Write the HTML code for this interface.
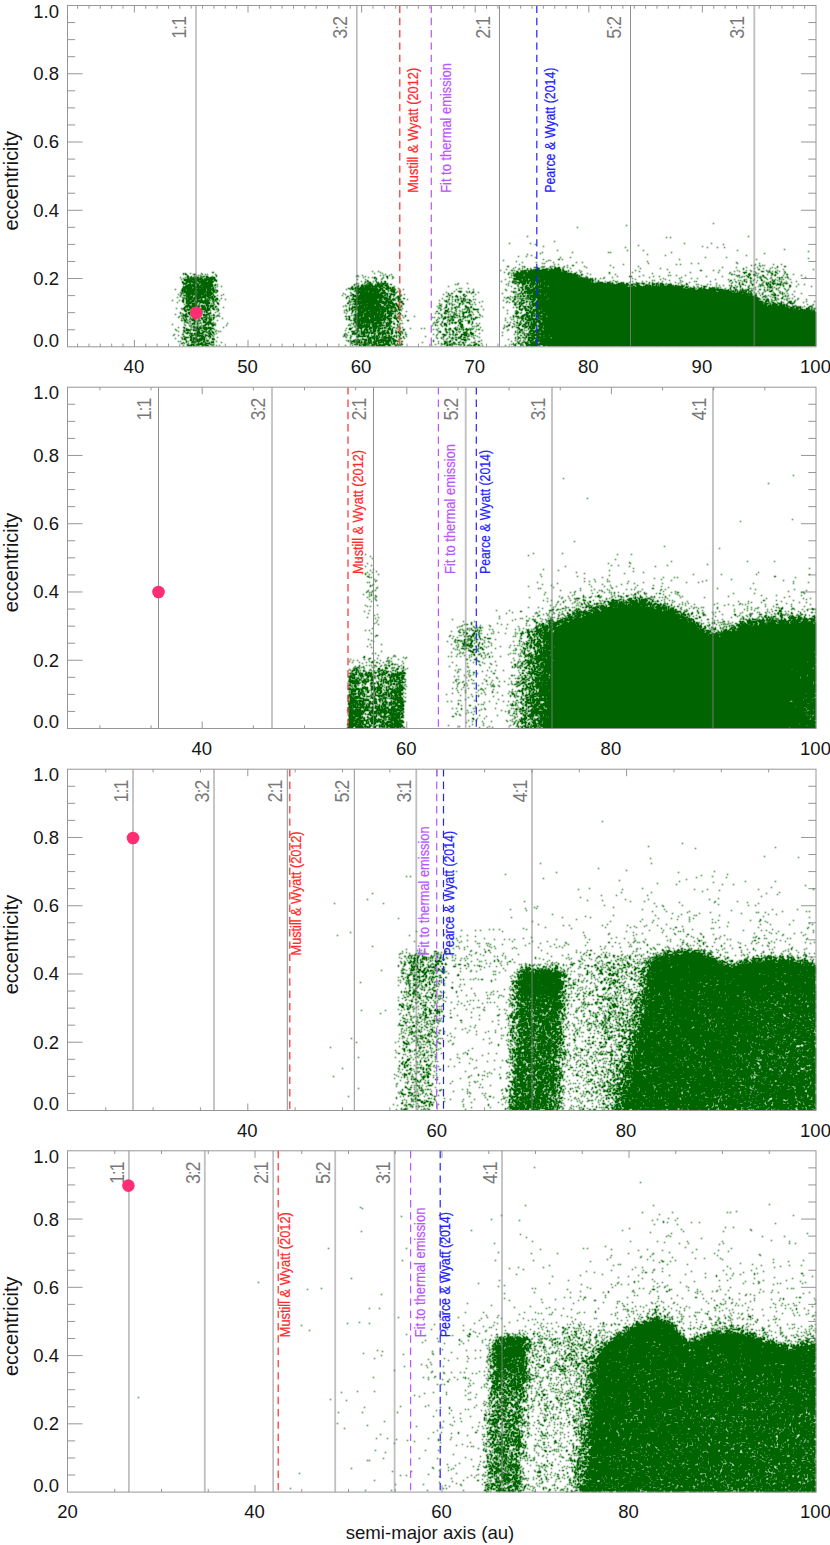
<!DOCTYPE html>
<html><head><meta charset="utf-8"><title>eccentricity vs semi-major axis</title>
<style>
html,body{margin:0;padding:0;background:#fff;}
body{width:830px;height:1545px;overflow:hidden;font-family:"Liberation Sans", sans-serif;}
svg{display:block;position:absolute;left:0;top:0;}
text{font-family:"Liberation Sans", sans-serif;}
.tk{font-size:18.5px;fill:#151515;}
.rs{font-size:18px;fill:#787878;}
.an{font-size:12.4px;stroke-width:0.2;}
.ax{stroke:#969696;stroke-width:1;fill:none;}
</style></head><body>
<svg width="830" height="1545" viewBox="0 0 830 1545">
<defs><filter id="sb" x="0" y="0" width="100%" height="100%" filterUnits="userSpaceOnUse" color-interpolation-filters="sRGB"><feConvolveMatrix in="SourceAlpha" order="3" kernelMatrix="0.07 0.2 0.07 0.2 0.55 0.2 0.07 0.2 0.07" divisor="1" edgeMode="none" result="c"/><feFlood flood-color="#006400"/><feComposite operator="in" in2="c"/></filter></defs>
<rect width="830" height="1545" fill="#ffffff"/>

<g id="panel1">
<path class="ax" d="M67.5 329.74h7.7M816.0 329.74h-7.7M67.5 312.67h7.7M816.0 312.67h-7.7M67.5 295.61h7.7M816.0 295.61h-7.7M67.5 278.54h15M816.0 278.54h-15M67.5 261.48h7.7M816.0 261.48h-7.7M67.5 244.41h7.7M816.0 244.41h-7.7M67.5 227.34h7.7M816.0 227.34h-7.7M67.5 210.28h15M816.0 210.28h-15M67.5 193.22h7.7M816.0 193.22h-7.7M67.5 176.15h7.7M816.0 176.15h-7.7M67.5 159.08h7.7M816.0 159.08h-7.7M67.5 142.02h15M816.0 142.02h-15M67.5 124.95h7.7M816.0 124.95h-7.7M67.5 107.89h7.7M816.0 107.89h-7.7M67.5 90.82h7.7M816.0 90.82h-7.7M67.5 73.76h15M816.0 73.76h-15M67.5 56.69h7.7M816.0 56.69h-7.7M67.5 39.63h7.7M816.0 39.63h-7.7M67.5 22.56h7.7M816.0 22.56h-7.7M77.60 5.5v3.2M77.60 346.8v-3.2M88.96 5.5v3.2M88.96 346.8v-3.2M100.32 5.5v3.2M100.32 346.8v-3.2M111.68 5.5v3.2M111.68 346.8v-3.2M123.04 5.5v3.2M123.04 346.8v-3.2M134.40 5.5v7M134.40 346.8v-7M145.76 5.5v3.2M145.76 346.8v-3.2M157.12 5.5v3.2M157.12 346.8v-3.2M168.48 5.5v3.2M168.48 346.8v-3.2M179.84 5.5v3.2M179.84 346.8v-3.2M191.20 5.5v3.2M191.20 346.8v-3.2M202.56 5.5v3.2M202.56 346.8v-3.2M213.92 5.5v3.2M213.92 346.8v-3.2M225.28 5.5v3.2M225.28 346.8v-3.2M236.64 5.5v3.2M236.64 346.8v-3.2M248.00 5.5v7M248.00 346.8v-7M259.36 5.5v3.2M259.36 346.8v-3.2M270.72 5.5v3.2M270.72 346.8v-3.2M282.08 5.5v3.2M282.08 346.8v-3.2M293.44 5.5v3.2M293.44 346.8v-3.2M304.80 5.5v3.2M304.80 346.8v-3.2M316.16 5.5v3.2M316.16 346.8v-3.2M327.52 5.5v3.2M327.52 346.8v-3.2M338.88 5.5v3.2M338.88 346.8v-3.2M350.24 5.5v3.2M350.24 346.8v-3.2M361.60 5.5v7M361.60 346.8v-7M372.96 5.5v3.2M372.96 346.8v-3.2M384.32 5.5v3.2M384.32 346.8v-3.2M395.68 5.5v3.2M395.68 346.8v-3.2M407.04 5.5v3.2M407.04 346.8v-3.2M418.40 5.5v3.2M418.40 346.8v-3.2M429.76 5.5v3.2M429.76 346.8v-3.2M441.12 5.5v3.2M441.12 346.8v-3.2M452.48 5.5v3.2M452.48 346.8v-3.2M463.84 5.5v3.2M463.84 346.8v-3.2M475.20 5.5v7M475.20 346.8v-7M486.56 5.5v3.2M486.56 346.8v-3.2M497.92 5.5v3.2M497.92 346.8v-3.2M509.28 5.5v3.2M509.28 346.8v-3.2M520.64 5.5v3.2M520.64 346.8v-3.2M532.00 5.5v3.2M532.00 346.8v-3.2M543.36 5.5v3.2M543.36 346.8v-3.2M554.72 5.5v3.2M554.72 346.8v-3.2M566.08 5.5v3.2M566.08 346.8v-3.2M577.44 5.5v3.2M577.44 346.8v-3.2M588.80 5.5v7M588.80 346.8v-7M600.16 5.5v3.2M600.16 346.8v-3.2M611.52 5.5v3.2M611.52 346.8v-3.2M622.88 5.5v3.2M622.88 346.8v-3.2M634.24 5.5v3.2M634.24 346.8v-3.2M645.60 5.5v3.2M645.60 346.8v-3.2M656.96 5.5v3.2M656.96 346.8v-3.2M668.32 5.5v3.2M668.32 346.8v-3.2M679.68 5.5v3.2M679.68 346.8v-3.2M691.04 5.5v3.2M691.04 346.8v-3.2M702.40 5.5v7M702.40 346.8v-7M713.76 5.5v3.2M713.76 346.8v-3.2M725.12 5.5v3.2M725.12 346.8v-3.2M736.48 5.5v3.2M736.48 346.8v-3.2M747.84 5.5v3.2M747.84 346.8v-3.2M759.20 5.5v3.2M759.20 346.8v-3.2M770.56 5.5v3.2M770.56 346.8v-3.2M781.92 5.5v3.2M781.92 346.8v-3.2M793.28 5.5v3.2M793.28 346.8v-3.2M804.64 5.5v3.2M804.64 346.8v-3.2"/>
<path d="M713 223.5h1M626 225.5h1M577 227.5h1M527 236.5h1m220 0h1M666 237.5h1m3 0h1M554 241.5h1M509 243.5h1m20 0h1m153 0h1m26 0h1M535 244.5h1m187 0h1M638 245.5h1M543 246.5h1m158 0h1M625 247.5h1m81 0h1m9 0h1m6 0h1M784 249.5h1M557 250.5h1m69 0h1m15 0h1m93 0h1M808 251.5h1M542 252.5h1m29 0h1m35 0h1m1 0h1m60 0h1M540 253.5h1m223 0h1M527 254.5h1m119 0h1M531 255.5h1m133 0h1m80 0h1M518 256.5h1m7 0h1M535 257.5h1m24 0h1m9 0h1m134 0h1m20 0h1M808 258.5h1M543 259.5h1m14 0h2m2 0h1m116 0h1m76 0h1M503 260.5h1m44 0h1m1 0h1M516 261.5h1m29 0h1m100 0h1M522 262.5h1m13 0h1m16 0h1m22 0h1m5 0h1m153 0h1M542 263.5h1m1 0h1m103 0h1m42 0h1m6 0h1m38 0h1m21 0h1M519 264.5h1m34 0h1m3 0h1m64 0h1m52 0h1m3 0h1m74 0h1m17 0h1m7 0h1M567 265.5h1m4 0h2m36 0h1m140 0h1m2 0h1m4 0h1m2 0h1m1 0h1M507 266.5h2m13 0h1m1 0h1m17 0h1m1 0h1m5 0h1m1 0h1m1 0h1m9 0h1m19 0h1m53 0h1m121 0h1m16 0h1m6 0h2M515 267.5h1m8 0h1m9 0h2m1 0h1m3 0h1m1 0h1m6 0h1m4 0h1m2 0h2m3 0h1m3 0h1m18 0h1m26 0h1m108 0h1m13 0h1m9 0h1m10 0h1m14 0h1m4 0h1M513 268.5h1m5 0h1m2 0h1m4 0h1m2 0h1m6 0h3m6 0h1m1 0h1m2 0h1m2 0h6m2 0h1m7 0h1m69 0h1m19 0h1m82 0h1m10 0h1m8 0h1m6 0h1m4 0h1M506 269.5h1m11 0h1m8 0h1m3 0h1m1 0h1m1 0h4m3 0h6m1 0h1m1 0h2m1 0h1m1 0h5m2 0h1m103 0h1m75 0h1m14 0h2m23 0h1m29 0h1M500 270.5h1m10 0h2m1 0h1m5 0h1m1 0h1m1 0h3m1 0h1m1 0h2m1 0h14m2 0h10m1 0h1m1 0h2m4 0h1m10 0h1m55 0h1m64 0h2m11 0h1m5 0h1m17 0h1m8 0h1m3 0h1m15 0h1m2 0h1m7 0h1M372 271.5h1m5 0h1m137 0h2m3 0h5m2 0h24m1 0h8m2 0h4m1 0h1m2 0h1m9 0h1m57 0h1m94 0h1m4 0h1m11 0h1m2 0h1m6 0h3m3 0h1m1 0h1m2 0h1m2 0h1m3 0h1m4 0h1M212 272.5h2m166 0h1m123 0h1m4 0h1m3 0h1m3 0h2m1 0h2m1 0h4m1 0h11m1 0h3m1 0h23m9 0h1m3 0h1m28 0h1m22 0h1m36 0h1m20 0h1m27 0h1m11 0h1m12 0h4m8 0h1m12 0h1m1 0h1m4 0h2m8 0h1M183 273.5h1m1 0h1m4 0h1m10 0h1m172 0h1m7 0h1m125 0h1m2 0h1m1 0h1m1 0h5m1 0h2m1 0h12m1 0h35m2 0h2m11 0h1m21 0h1m42 0h1m76 0h1m14 0h1m4 0h1m6 0h1m1 0h1m12 0h2m4 0h1m6 0h1M183 274.5h1m1 0h2m6 0h3m6 0h1m2 0h1m1 0h1m7 0h1m169 0h1m5 0h1m116 0h1m5 0h1m1 0h8m1 0h2m1 0h42m1 0h5m1 0h1m3 0h2m7 0h1m24 0h1m115 0h2m1 0h1m13 0h3m2 0h2m12 0h1m4 0h1m2 0h1m10 0h2m5 0h1M187 275.5h1m10 0h1m1 0h1m15 0h1m140 0h1m4 0h1m17 0h1m2 0h1m5 0h1m121 0h1m1 0h8m1 0h1m2 0h3m1 0h1m1 0h1m1 0h11m1 0h33m1 0h1m1 0h1m61 0h1m24 0h1m1 0h1m5 0h1m8 0h1m50 0h1m1 0h2m6 0h1m2 0h1m4 0h2m1 0h1m4 0h2m7 0h1m2 0h2m7 0h1m17 0h1M187 276.5h2m2 0h1m2 0h1m1 0h1m4 0h1m1 0h2m1 0h2m4 0h1m3 0h1m139 0h1m1 0h1m6 0h1m20 0h2m4 0h1m121 0h1m1 0h6m1 0h3m1 0h20m1 0h29m1 0h2m6 0h1m30 0h1m11 0h3m7 0h1m13 0h1m5 0h1m46 0h1m15 0h1m14 0h1m4 0h1m1 0h1m2 0h2m11 0h1m2 0h1m23 0h1M180 277.5h1m4 0h1m1 0h2m1 0h2m1 0h1m1 0h1m1 0h2m1 0h1m1 0h1m3 0h3m1 0h2m1 0h2m148 0h1m4 0h1m3 0h1m1 0h2m7 0h1m3 0h1m5 0h1m115 0h1m1 0h1m4 0h4m1 0h13m1 0h43m2 0h2m1 0h1m1 0h1m1 0h1m16 0h1m7 0h1m36 0h1m31 0h1m57 0h1m1 0h1m6 0h1m1 0h1m6 0h1m1 0h1m1 0h1m2 0h2m5 0h1m5 0h1m1 0h1m1 0h2m2 0h1m1 0h1m17 0h1M183 278.5h1m4 0h1m1 0h1m1 0h2m1 0h2m1 0h1m1 0h2m2 0h1m1 0h2m1 0h6m159 0h1m1 0h1m5 0h1m4 0h1m4 0h1m120 0h4m1 0h7m1 0h2m1 0h1m1 0h1m1 0h3m1 0h1m2 0h5m1 0h1m1 0h1m1 0h33m1 0h1m1 0h2m2 0h1m1 0h1m2 0h1m4 0h1m2 0h1m28 0h1m30 0h1m15 0h1m11 0h1m5 0h1m52 0h2m8 0h1m5 0h1m3 0h1m8 0h1m8 0h1M181 279.5h1m2 0h6m1 0h12m1 0h5m1 0h3m1 0h2m141 0h1m7 0h1m10 0h1m4 0h1m123 0h1m8 0h7m2 0h2m1 0h2m2 0h16m1 0h39m1 0h6m2 0h1m39 0h1m24 0h1m4 0h1m49 0h1m12 0h1m5 0h1m9 0h1m1 0h1m7 0h1m6 0h1m5 0h1m4 0h1m2 0h1m3 0h1m1 0h1m1 0h1m6 0h1M184 280.5h8m2 0h5m2 0h6m1 0h4m2 0h3m150 0h1m7 0h1m137 0h1m5 0h3m1 0h5m1 0h2m1 0h6m1 0h5m1 0h43m1 0h2m1 0h2m4 0h1m14 0h1m38 0h1m1 0h1m14 0h1m10 0h1m49 0h2m6 0h1m1 0h1m3 0h1m5 0h1m2 0h1m3 0h1m3 0h2m9 0h1m1 0h1m2 0h1M182 281.5h1m3 0h4m1 0h4m1 0h1m1 0h5m1 0h2m2 0h6m2 0h1m144 0h1m3 0h1m1 0h2m4 0h1m2 0h1m4 0h1m2 0h2m115 0h1m7 0h1m2 0h1m1 0h3m3 0h1m1 0h4m1 0h3m1 0h4m1 0h5m1 0h2m1 0h46m1 0h1m2 0h1m2 0h1m6 0h1m4 0h1m4 0h1m1 0h1m14 0h1m9 0h1m3 0h1m15 0h1m19 0h1m11 0h1m1 0h1m13 0h1m18 0h1m5 0h1m6 0h1m1 0h1m1 0h1m4 0h1m12 0h1m5 0h1m2 0h2m4 0h1m1 0h1m4 0h1m9 0h1M182 282.5h2m2 0h2m1 0h2m1 0h5m2 0h5m1 0h8m152 0h1m3 0h2m5 0h1m1 0h1m2 0h1m3 0h1m126 0h2m3 0h9m1 0h2m2 0h4m2 0h3m1 0h4m1 0h45m1 0h1m4 0h1m1 0h4m4 0h3m2 0h1m3 0h1m4 0h1m1 0h1m5 0h1m6 0h1m12 0h1m2 0h1m5 0h1m16 0h1m4 0h1m8 0h1m42 0h1m3 0h1m2 0h1m6 0h1m3 0h1m5 0h1m6 0h1m2 0h1m1 0h1m1 0h1m1 0h1m8 0h1m2 0h1m6 0h1M183 283.5h4m3 0h1m3 0h2m1 0h1m1 0h1m1 0h7m1 0h3m144 0h1m1 0h1m5 0h1m2 0h2m1 0h1m1 0h1m4 0h2m1 0h1m1 0h4m1 0h1m70 0h1m8 0h1m40 0h1m5 0h3m2 0h1m2 0h1m1 0h2m1 0h2m1 0h3m1 0h2m1 0h1m1 0h1m1 0h1m1 0h56m1 0h1m1 0h4m1 0h4m1 0h1m5 0h6m2 0h2m5 0h1m2 0h4m1 0h4m4 0h1m2 0h1m1 0h1m1 0h2m2 0h3m3 0h1m3 0h1m7 0h1m7 0h1m29 0h1m14 0h1m7 0h1m2 0h1m8 0h1m10 0h1m3 0h1m1 0h1m3 0h4m1 0h1m2 0h1m2 0h1m1 0h3M183 284.5h1m1 0h1m2 0h3m1 0h3m1 0h3m2 0h12m2 0h1m1 0h1m136 0h1m1 0h1m5 0h1m3 0h1m2 0h3m3 0h1m1 0h3m1 0h1m1 0h1m2 0h2m2 0h2m63 0h1m1 0h1m48 0h1m11 0h1m3 0h3m5 0h2m1 0h2m1 0h2m1 0h1m1 0h4m1 0h57m1 0h11m1 0h9m1 0h3m2 0h2m1 0h2m1 0h1m5 0h1m2 0h1m1 0h1m3 0h3m1 0h1m1 0h1m1 0h4m1 0h1m2 0h2m1 0h1m9 0h1m4 0h2m8 0h1m1 0h1m8 0h1m2 0h1m28 0h1m2 0h2m8 0h2m5 0h1m1 0h1m4 0h2m1 0h2m2 0h1m3 0h4m1 0h1m15 0h1m5 0h1M186 285.5h9m2 0h2m1 0h13m1 0h2m138 0h1m3 0h1m2 0h2m1 0h2m1 0h6m2 0h2m1 0h1m1 0h3m1 0h4m120 0h1m8 0h1m4 0h1m3 0h2m1 0h2m1 0h2m2 0h2m1 0h5m1 0h3m1 0h63m1 0h15m1 0h1m1 0h2m3 0h4m5 0h3m1 0h2m1 0h1m3 0h1m1 0h1m1 0h4m3 0h5m1 0h1m1 0h2m1 0h1m3 0h1m1 0h1m16 0h1m14 0h1m2 0h1m3 0h1m5 0h1m1 0h1m3 0h1m4 0h1m4 0h1m3 0h1m2 0h1m7 0h1m1 0h2m3 0h1m2 0h1m5 0h1m3 0h1m2 0h1m5 0h2M183 286.5h1m1 0h4m1 0h11m2 0h5m1 0h1m1 0h2m4 0h1m3 0h1m130 0h1m4 0h2m2 0h3m1 0h6m1 0h4m1 0h3m1 0h2m3 0h3m5 0h1m53 0h1m62 0h1m6 0h1m4 0h1m1 0h2m3 0h1m1 0h1m2 0h2m1 0h6m1 0h2m2 0h75m1 0h2m3 0h1m2 0h2m2 0h1m1 0h3m1 0h4m1 0h3m1 0h5m1 0h1m1 0h8m1 0h5m1 0h1m1 0h1m1 0h5m2 0h1m1 0h1m4 0h1m3 0h1m5 0h4m24 0h1m5 0h1m2 0h1m7 0h1m9 0h1m1 0h1m7 0h1m1 0h1m1 0h1m10 0h1m6 0h1m5 0h1m14 0h1M183 287.5h5m1 0h3m2 0h10m1 0h6m2 0h1m1 0h1m135 0h2m2 0h3m2 0h2m1 0h1m1 0h1m1 0h4m1 0h1m2 0h2m2 0h2m2 0h2m2 0h2m1 0h1m1 0h2m126 0h3m2 0h1m1 0h2m1 0h2m1 0h1m1 0h132m1 0h4m1 0h10m2 0h3m2 0h1m3 0h1m3 0h1m2 0h1m2 0h1m4 0h1m2 0h1m1 0h1m1 0h1m1 0h1m1 0h1m9 0h1m2 0h2m1 0h1m3 0h1m7 0h1m6 0h1m8 0h1m2 0h1m1 0h3m2 0h1m4 0h1m9 0h1M182 288.5h1m1 0h1m1 0h6m1 0h1m1 0h1m2 0h1m2 0h5m1 0h4m1 0h2m134 0h2m1 0h2m1 0h2m1 0h4m1 0h14m1 0h1m2 0h3m2 0h6m1 0h1m1 0h1m3 0h1m60 0h1m1 0h1m6 0h1m45 0h2m2 0h1m3 0h1m2 0h3m1 0h1m3 0h4m1 0h1m3 0h1m1 0h4m1 0h134m1 0h1m3 0h1m1 0h5m1 0h1m2 0h3m1 0h2m4 0h6m2 0h1m7 0h1m4 0h1m3 0h1m7 0h1m6 0h1m1 0h1m1 0h1m18 0h1m3 0h1m1 0h1m5 0h1M175 289.5h1m6 0h2m1 0h1m1 0h2m1 0h14m1 0h1m1 0h5m1 0h1m1 0h1m130 0h1m3 0h1m1 0h2m2 0h10m1 0h6m1 0h4m1 0h2m1 0h1m3 0h2m3 0h1m1 0h1m1 0h1m7 0h1m52 0h1m16 0h1m31 0h1m13 0h1m2 0h2m1 0h1m1 0h3m1 0h4m1 0h2m1 0h3m1 0h152m3 0h2m1 0h1m1 0h4m1 0h1m1 0h13m1 0h1m3 0h1m1 0h1m4 0h2m3 0h1m1 0h1m2 0h1m1 0h2m6 0h1m3 0h2m3 0h1m2 0h1m1 0h1m6 0h1m8 0h1m2 0h1M181 290.5h5m1 0h13m1 0h5m1 0h4m1 0h3m1 0h2m137 0h4m2 0h7m1 0h2m1 0h9m1 0h3m3 0h1m1 0h5m4 0h1m106 0h1m11 0h2m2 0h1m4 0h6m1 0h1m1 0h1m1 0h6m1 0h1m1 0h163m1 0h5m1 0h2m1 0h4m1 0h4m2 0h1m1 0h1m1 0h1m1 0h1m2 0h1m1 0h3m1 0h1m1 0h1m2 0h2m11 0h1m2 0h1m3 0h2m5 0h1m8 0h1M182 291.5h1m1 0h3m1 0h1m1 0h4m1 0h2m1 0h5m1 0h2m1 0h4m2 0h2m2 0h1m136 0h1m1 0h9m2 0h1m1 0h8m1 0h2m3 0h2m3 0h1m2 0h4m2 0h1m2 0h1m53 0h1m3 0h4m4 0h1m2 0h1m3 0h1m37 0h1m1 0h1m1 0h1m5 0h1m2 0h4m1 0h1m1 0h185m3 0h12m1 0h2m1 0h1m1 0h1m1 0h1m1 0h2m2 0h2m2 0h2m7 0h1m6 0h1m3 0h3m8 0h1m5 0h1m7 0h1M180 292.5h1m1 0h1m1 0h8m1 0h1m1 0h2m1 0h2m1 0h4m1 0h6m1 0h1m1 0h2m133 0h1m5 0h2m1 0h9m1 0h3m2 0h1m1 0h3m2 0h2m1 0h2m7 0h2m1 0h1m2 0h1m46 0h1m13 0h1m6 0h1m1 0h1m2 0h2m4 0h1m34 0h2m1 0h1m4 0h1m2 0h2m1 0h5m1 0h2m1 0h6m1 0h189m2 0h1m2 0h1m1 0h7m2 0h1m2 0h1m2 0h1m8 0h1m9 0h1m5 0h1m2 0h1M181 293.5h1m1 0h1m2 0h18m1 0h1m1 0h6m130 0h1m7 0h1m4 0h3m1 0h3m1 0h6m1 0h5m1 0h2m1 0h5m1 0h2m1 0h1m1 0h1m3 0h1m52 0h1m2 0h2m18 0h1m30 0h1m16 0h2m1 0h2m1 0h1m1 0h2m1 0h2m1 0h6m2 0h5m1 0h195m2 0h3m1 0h1m1 0h2m4 0h1m2 0h1m2 0h1m11 0h1m5 0h1m1 0h1m1 0h1m2 0h1m13 0h1M178 294.5h1m2 0h1m4 0h1m1 0h3m1 0h12m1 0h1m1 0h3m1 0h1m1 0h1m9 0h1m121 0h1m6 0h2m3 0h1m2 0h2m1 0h6m1 0h5m1 0h2m1 0h3m3 0h1m1 0h1m2 0h5m5 0h1m3 0h1m38 0h1m4 0h1m14 0h2m10 0h1m39 0h1m1 0h2m3 0h1m6 0h1m3 0h7m1 0h3m1 0h1m1 0h194m1 0h9m1 0h1m2 0h1m6 0h1m8 0h2m1 0h2m6 0h1m9 0h1M180 295.5h1m2 0h3m1 0h3m2 0h1m2 0h2m1 0h3m2 0h8m2 0h1m3 0h1m3 0h1m120 0h1m7 0h2m1 0h3m1 0h1m1 0h24m1 0h2m1 0h1m2 0h1m3 0h1m4 0h1m1 0h1m47 0h2m5 0h1m6 0h1m2 0h1m53 0h1m2 0h1m1 0h1m1 0h2m1 0h4m1 0h9m1 0h203m2 0h2m3 0h2m3 0h1m4 0h1m2 0h1m4 0h3m1 0h2m6 0h1m2 0h1M180 296.5h1m5 0h3m1 0h3m2 0h6m1 0h4m1 0h2m2 0h2m1 0h2m131 0h2m4 0h16m1 0h7m1 0h6m3 0h1m1 0h2m2 0h1m3 0h2m1 0h1m45 0h2m4 0h1m2 0h3m2 0h1m3 0h2m7 0h1m36 0h1m3 0h2m1 0h2m1 0h2m1 0h2m2 0h2m1 0h13m1 0h2m1 0h5m1 0h203m7 0h2m1 0h1m3 0h1m12 0h1m1 0h1m1 0h1m6 0h1M177 297.5h1m4 0h1m1 0h1m2 0h3m1 0h2m1 0h2m1 0h1m1 0h7m2 0h3m1 0h1m1 0h1m131 0h1m5 0h1m3 0h10m1 0h5m1 0h8m1 0h5m2 0h2m5 0h1m1 0h2m49 0h1m2 0h1m4 0h1m46 0h1m2 0h2m3 0h1m2 0h1m10 0h1m1 0h1m1 0h1m1 0h1m1 0h4m1 0h9m1 0h209m4 0h1m2 0h1m6 0h1m1 0h2m6 0h1M183 298.5h1m1 0h2m1 0h4m1 0h1m1 0h5m1 0h1m3 0h1m1 0h1m1 0h1m1 0h3m2 0h2m3 0h1m124 0h1m2 0h1m3 0h1m2 0h20m1 0h1m1 0h3m2 0h1m1 0h2m1 0h1m3 0h1m1 0h1m1 0h1m1 0h1m3 0h2m37 0h1m17 0h2m1 0h2m41 0h1m2 0h1m4 0h1m2 0h1m1 0h2m1 0h2m1 0h1m1 0h1m1 0h2m2 0h2m2 0h5m1 0h5m1 0h211m7 0h1m7 0h1m1 0h1m3 0h2m4 0h1m1 0h1m2 0h1m5 0h1M183 299.5h1m2 0h1m1 0h4m1 0h2m2 0h1m3 0h1m3 0h1m1 0h1m1 0h1m2 0h2m1 0h3m7 0h1m125 0h10m1 0h11m1 0h3m2 0h2m1 0h1m1 0h7m1 0h3m3 0h3m6 0h1m40 0h2m2 0h1m2 0h1m1 0h2m4 0h1m1 0h1m1 0h1m1 0h1m3 0h1m1 0h1m34 0h1m3 0h2m5 0h1m4 0h1m1 0h1m1 0h6m2 0h1m1 0h1m1 0h4m2 0h211m1 0h1m2 0h2m1 0h1m1 0h1m2 0h1m3 0h1m2 0h1m5 0h1m1 0h1m10 0h1m8 0h1M172 300.5h1m6 0h1m2 0h2m2 0h4m2 0h2m1 0h1m1 0h6m1 0h3m1 0h1m1 0h1m2 0h1m1 0h1m3 0h1m129 0h1m5 0h4m2 0h1m1 0h13m1 0h1m1 0h3m4 0h2m3 0h1m1 0h1m1 0h1m2 0h1m40 0h1m4 0h1m1 0h1m8 0h1m2 0h1m2 0h1m1 0h1m1 0h1m3 0h2m32 0h1m9 0h1m4 0h1m2 0h4m8 0h2m2 0h3m1 0h218m7 0h3m3 0h1m1 0h1m1 0h1m10 0h1m7 0h1M182 301.5h2m2 0h4m1 0h3m1 0h2m1 0h3m1 0h2m1 0h4m3 0h1m1 0h1m1 0h1m132 0h1m1 0h1m1 0h5m1 0h7m1 0h1m1 0h12m1 0h2m1 0h7m6 0h1m1 0h3m42 0h2m1 0h1m3 0h1m2 0h1m5 0h2m1 0h1m6 0h1m10 0h1m24 0h1m4 0h2m3 0h1m3 0h1m4 0h2m1 0h1m1 0h3m2 0h16m1 0h210m2 0h2m1 0h1m2 0h1m9 0h1m7 0h3m2 0h1m11 0h1m7 0h1M177 302.5h1m5 0h1m2 0h1m2 0h3m3 0h3m2 0h10m3 0h1m3 0h1m130 0h1m1 0h1m4 0h8m1 0h23m1 0h5m6 0h1m1 0h1m45 0h1m9 0h1m4 0h1m3 0h4m4 0h1m4 0h1m26 0h1m2 0h1m4 0h1m1 0h1m2 0h2m2 0h2m1 0h1m3 0h1m1 0h1m2 0h1m1 0h7m1 0h2m1 0h211m1 0h2m1 0h1m1 0h1m3 0h1m2 0h2m3 0h1m3 0h1m1 0h1m4 0h3m3 0h1m8 0h1M186 303.5h5m1 0h3m1 0h1m2 0h1m3 0h1m1 0h5m1 0h1m1 0h1m3 0h2m128 0h2m4 0h1m1 0h1m1 0h5m1 0h3m2 0h6m1 0h4m3 0h3m1 0h1m1 0h6m1 0h2m5 0h2m35 0h1m9 0h1m1 0h1m7 0h2m2 0h1m5 0h1m45 0h1m3 0h1m1 0h3m5 0h1m2 0h6m1 0h2m1 0h221m1 0h1m1 0h3m1 0h1m2 0h3m2 0h4m5 0h1m2 0h4M184 304.5h1m3 0h1m3 0h5m2 0h1m6 0h2m6 0h1m3 0h1m131 0h1m1 0h1m1 0h4m1 0h1m2 0h2m1 0h10m1 0h5m3 0h2m2 0h1m3 0h3m1 0h1m1 0h1m4 0h1m37 0h1m4 0h1m2 0h1m2 0h1m1 0h1m4 0h1m2 0h1m7 0h1m1 0h1m2 0h1m38 0h2m1 0h1m1 0h1m1 0h1m4 0h1m2 0h1m1 0h1m1 0h4m1 0h1m1 0h2m1 0h1m1 0h218m1 0h3m3 0h1m1 0h3m1 0h2m2 0h2m1 0h2m1 0h1m20 0h1m5 0h1M186 305.5h4m1 0h1m1 0h2m1 0h1m1 0h1m2 0h2m1 0h1m1 0h3m1 0h4m131 0h1m3 0h1m6 0h1m2 0h15m2 0h5m3 0h1m1 0h5m2 0h2m1 0h2m3 0h1m37 0h2m5 0h1m5 0h1m6 0h1m5 0h1m49 0h1m4 0h1m1 0h1m7 0h1m1 0h13m1 0h221m1 0h3m1 0h5m2 0h4m1 0h1m1 0h2m4 0h1m2 0h1m16 0h1M185 306.5h3m1 0h2m1 0h5m1 0h2m1 0h4m2 0h2m1 0h3m2 0h2m126 0h1m2 0h1m5 0h1m1 0h1m1 0h1m1 0h3m1 0h2m1 0h1m2 0h4m1 0h4m1 0h6m2 0h2m2 0h4m3 0h2m2 0h1m35 0h1m3 0h1m4 0h1m9 0h1m1 0h1m6 0h2m4 0h1m9 0h1m37 0h2m2 0h3m1 0h2m1 0h1m2 0h1m2 0h3m1 0h227m1 0h1m1 0h11m1 0h3m1 0h1m1 0h2m3 0h2m1 0h1m1 0h1m1 0h1m3 0h1m4 0h3M184 307.5h2m1 0h1m1 0h3m1 0h2m2 0h2m3 0h2m1 0h1m1 0h1m2 0h1m2 0h1m1 0h1m7 0h1m125 0h1m2 0h12m1 0h14m1 0h3m1 0h1m1 0h1m1 0h8m2 0h1m1 0h1m38 0h1m5 0h2m4 0h1m2 0h2m1 0h1m1 0h1m6 0h3m1 0h2m31 0h1m9 0h1m2 0h2m1 0h1m4 0h2m2 0h2m1 0h2m2 0h1m1 0h1m1 0h236m1 0h3m1 0h6m1 0h1m2 0h4m2 0h2m1 0h2m1 0h1m5 0h1m3 0h1M176 308.5h1m4 0h1m1 0h2m5 0h2m3 0h3m1 0h1m1 0h1m1 0h3m1 0h3m2 0h2m3 0h1m131 0h1m1 0h2m3 0h1m1 0h2m1 0h2m1 0h10m1 0h4m1 0h2m1 0h6m2 0h1m3 0h1m2 0h1m3 0h1m35 0h1m1 0h1m3 0h1m3 0h1m3 0h1m2 0h1m9 0h1m2 0h1m4 0h1m45 0h1m2 0h1m1 0h1m1 0h1m3 0h2m4 0h4m1 0h243m1 0h4m1 0h3m1 0h1m1 0h3m1 0h1m5 0h4m1 0h1m2 0h2M182 309.5h1m1 0h1m1 0h4m4 0h1m2 0h3m1 0h5m1 0h3m3 0h2m1 0h1m1 0h1m127 0h1m2 0h1m1 0h1m2 0h2m1 0h4m1 0h5m1 0h2m1 0h5m1 0h9m1 0h1m2 0h1m1 0h1m1 0h1m1 0h1m1 0h3m40 0h1m6 0h1m2 0h1m4 0h1m5 0h1m1 0h1m2 0h1m1 0h1m3 0h6m4 0h1m35 0h4m2 0h2m1 0h1m2 0h1m1 0h3m1 0h4m1 0h7m1 0h243m1 0h4m2 0h3m1 0h1m1 0h3m2 0h1m1 0h1M184 310.5h2m2 0h1m1 0h1m1 0h2m1 0h3m1 0h1m5 0h4m1 0h1m7 0h1m125 0h1m1 0h1m2 0h1m2 0h2m2 0h1m1 0h3m1 0h6m2 0h3m1 0h6m2 0h4m1 0h2m2 0h1m3 0h2m2 0h1m1 0h1m38 0h1m4 0h3m7 0h1m3 0h1m7 0h1m1 0h1m37 0h1m8 0h1m4 0h1m3 0h4m1 0h1m2 0h5m2 0h1m1 0h3m1 0h2m1 0h262m1 0h1m1 0h1M185 311.5h2m4 0h1m2 0h1m2 0h2m1 0h1m1 0h1m1 0h1m1 0h1m10 0h1m129 0h1m4 0h1m2 0h1m2 0h7m1 0h1m1 0h4m1 0h4m1 0h1m1 0h6m1 0h9m1 0h1m8 0h1m29 0h2m7 0h3m1 0h1m1 0h1m4 0h1m3 0h1m1 0h1m3 0h1m2 0h1m1 0h1m5 0h1m37 0h1m1 0h1m11 0h2m1 0h3m1 0h3m1 0h6m1 0h265m1 0h2M180 312.5h1m7 0h5m1 0h2m4 0h2m2 0h1m1 0h2m2 0h1m4 0h1m128 0h1m7 0h1m2 0h1m2 0h4m1 0h1m2 0h4m1 0h4m1 0h1m1 0h2m1 0h3m3 0h4m8 0h1m44 0h1m3 0h1m3 0h1m1 0h1m8 0h4m1 0h2m2 0h1m5 0h1m37 0h3m2 0h1m4 0h2m1 0h3m1 0h1m2 0h2m1 0h4m2 0h271M180 313.5h1m1 0h1m3 0h1m1 0h2m4 0h2m1 0h2m2 0h1m6 0h3m8 0h1m126 0h1m4 0h1m5 0h2m1 0h3m1 0h4m1 0h1m1 0h1m1 0h4m1 0h2m1 0h3m1 0h1m1 0h2m1 0h4m1 0h1m2 0h3m34 0h1m2 0h2m4 0h3m7 0h1m1 0h1m2 0h1m2 0h2m43 0h1m7 0h3m2 0h1m5 0h3m2 0h4m1 0h9m1 0h6m1 0h263M175 314.5h1m7 0h1m1 0h2m2 0h1m3 0h1m1 0h1m1 0h2m2 0h1m1 0h2m1 0h3m4 0h1m140 0h7m1 0h1m1 0h1m1 0h9m1 0h7m2 0h1m3 0h3m5 0h1m2 0h1m40 0h1m6 0h1m1 0h1m2 0h1m1 0h1m7 0h1m5 0h2m2 0h1m5 0h1m36 0h1m7 0h2m1 0h1m3 0h2m2 0h1m2 0h2m3 0h273M181 315.5h1m1 0h4m3 0h1m1 0h4m1 0h1m1 0h2m2 0h4m2 0h1m1 0h1m1 0h2m2 0h2m132 0h1m1 0h1m1 0h8m1 0h5m1 0h1m1 0h2m1 0h4m1 0h6m2 0h4m2 0h2m6 0h1m2 0h1m35 0h1m12 0h1m1 0h2m1 0h1m3 0h1m4 0h1m1 0h2m8 0h1m32 0h1m8 0h3m1 0h2m1 0h1m1 0h1m1 0h2m1 0h5m1 0h2m1 0h1m1 0h3m1 0h265M179 316.5h1m2 0h1m2 0h4m3 0h1m4 0h2m7 0h1m2 0h1m6 0h1m2 0h1m125 0h2m1 0h2m5 0h3m1 0h1m1 0h1m2 0h8m1 0h1m1 0h4m1 0h3m1 0h2m1 0h3m1 0h1m3 0h1m2 0h2m5 0h1m8 0h1m27 0h1m2 0h1m2 0h1m1 0h4m5 0h1m2 0h2m1 0h1m1 0h1m1 0h1m12 0h1m30 0h1m1 0h4m2 0h3m2 0h4m1 0h2m1 0h1m1 0h3m1 0h6m2 0h268M178 317.5h1m4 0h1m1 0h1m4 0h1m2 0h1m1 0h1m5 0h1m1 0h3m1 0h1m1 0h1m1 0h1m1 0h2m134 0h1m4 0h1m1 0h3m2 0h5m1 0h1m2 0h4m1 0h1m1 0h6m1 0h1m1 0h2m5 0h3m1 0h1m5 0h1m28 0h1m1 0h1m3 0h1m2 0h1m2 0h2m1 0h2m3 0h1m1 0h2m1 0h1m2 0h1m3 0h2m1 0h1m3 0h1m3 0h3m1 0h1m30 0h1m2 0h1m4 0h1m1 0h1m1 0h1m2 0h1m1 0h1m1 0h1m1 0h1m4 0h1m1 0h1m1 0h1m2 0h8m1 0h264M181 318.5h1m1 0h1m2 0h1m3 0h1m2 0h1m1 0h1m3 0h1m1 0h2m3 0h1m1 0h1m1 0h1m2 0h1m8 0h1m123 0h1m2 0h1m3 0h1m1 0h1m1 0h1m1 0h5m1 0h4m2 0h2m1 0h4m1 0h2m2 0h3m1 0h5m2 0h3m1 0h1m1 0h1m38 0h1m3 0h3m4 0h1m1 0h1m10 0h1m7 0h1m1 0h1m1 0h1m29 0h1m11 0h1m1 0h1m1 0h3m1 0h1m2 0h1m1 0h1m1 0h2m1 0h1m2 0h2m1 0h8m1 0h266M184 319.5h1m1 0h1m2 0h1m1 0h3m1 0h1m2 0h1m3 0h1m1 0h3m2 0h3m1 0h1m132 0h1m1 0h2m4 0h5m1 0h6m1 0h2m1 0h5m1 0h4m1 0h5m2 0h1m1 0h1m5 0h1m40 0h1m5 0h1m4 0h1m2 0h1m1 0h1m5 0h2m1 0h1m8 0h1m1 0h2m36 0h1m1 0h1m8 0h1m2 0h2m1 0h10m2 0h2m1 0h273M181 320.5h2m1 0h2m1 0h1m4 0h3m2 0h1m1 0h2m2 0h1m2 0h1m2 0h1m1 0h1m5 0h1m132 0h2m1 0h2m2 0h1m1 0h12m1 0h11m1 0h1m2 0h1m1 0h2m6 0h1m3 0h1m5 0h2m27 0h1m10 0h1m1 0h2m1 0h2m4 0h1m1 0h1m4 0h1m1 0h1m1 0h1m35 0h1m11 0h1m3 0h1m1 0h1m3 0h4m2 0h2m2 0h3m2 0h2m1 0h3m1 0h267M185 321.5h1m3 0h2m3 0h2m2 0h1m4 0h3m2 0h1m1 0h1m144 0h5m1 0h6m1 0h6m3 0h3m4 0h1m4 0h3m1 0h1m3 0h2m39 0h1m3 0h1m6 0h1m8 0h1m2 0h2m5 0h2m2 0h1m41 0h1m5 0h1m2 0h1m2 0h1m4 0h1m1 0h2m1 0h2m1 0h2m2 0h273M184 322.5h1m1 0h2m6 0h1m2 0h1m2 0h1m2 0h3m1 0h4m2 0h1m140 0h3m1 0h2m1 0h3m1 0h9m1 0h3m1 0h3m1 0h1m1 0h1m1 0h1m1 0h3m6 0h1m35 0h1m1 0h2m4 0h1m4 0h1m3 0h2m1 0h3m2 0h2m7 0h2m2 0h1m34 0h1m2 0h1m5 0h2m2 0h1m4 0h1m1 0h3m1 0h1m1 0h4m1 0h3m1 0h274M188 323.5h1m1 0h1m1 0h3m2 0h1m1 0h1m1 0h1m4 0h7m2 0h1m11 0h1m123 0h1m1 0h1m2 0h4m1 0h2m1 0h1m2 0h1m1 0h1m2 0h10m1 0h1m2 0h5m2 0h2m5 0h1m1 0h1m30 0h1m7 0h1m2 0h2m3 0h1m2 0h1m2 0h1m3 0h2m7 0h1m3 0h1m3 0h1m2 0h1m33 0h1m3 0h1m1 0h1m1 0h1m3 0h2m1 0h1m2 0h1m1 0h3m3 0h9m1 0h267M172 324.5h1m11 0h1m7 0h1m1 0h1m2 0h1m7 0h2m1 0h1m2 0h1m1 0h2m134 0h1m3 0h1m2 0h6m2 0h1m1 0h2m1 0h1m1 0h1m1 0h4m3 0h2m4 0h4m4 0h1m2 0h1m1 0h1m35 0h1m4 0h1m3 0h3m2 0h1m10 0h3m8 0h1m37 0h1m4 0h1m4 0h2m2 0h3m2 0h1m1 0h5m1 0h1m2 0h1m1 0h5m1 0h269M185 325.5h1m3 0h1m1 0h1m6 0h1m2 0h1m1 0h3m2 0h1m3 0h2m1 0h1m10 0h1m121 0h1m1 0h1m4 0h1m1 0h3m1 0h9m2 0h1m1 0h1m1 0h1m1 0h7m1 0h1m1 0h1m1 0h1m6 0h1m34 0h1m2 0h1m1 0h1m3 0h1m2 0h1m1 0h1m11 0h1m2 0h2m14 0h2m25 0h1m3 0h2m6 0h1m1 0h2m2 0h1m2 0h1m2 0h1m2 0h6m1 0h1m1 0h3m1 0h272M190 326.5h1m2 0h2m2 0h1m2 0h1m2 0h1m8 0h1m141 0h1m2 0h4m1 0h1m1 0h6m2 0h6m1 0h2m5 0h2m1 0h1m1 0h1m6 0h1m43 0h1m3 0h1m13 0h3m9 0h1m1 0h1m1 0h1m29 0h2m4 0h1m1 0h1m7 0h3m1 0h2m1 0h2m1 0h3m3 0h5m1 0h1m1 0h2m1 0h267M178 327.5h1m4 0h2m6 0h1m1 0h1m1 0h3m1 0h2m1 0h1m1 0h3m1 0h3m12 0h1m128 0h1m2 0h1m2 0h6m1 0h3m1 0h3m1 0h4m1 0h1m3 0h1m1 0h2m3 0h1m3 0h2m2 0h1m1 0h1m2 0h1m52 0h1m1 0h1m3 0h1m1 0h1m16 0h1m23 0h1m7 0h1m3 0h3m6 0h2m2 0h2m1 0h3m1 0h1m2 0h4m1 0h272M184 328.5h1m1 0h1m7 0h1m1 0h3m1 0h2m1 0h11m132 0h1m2 0h3m5 0h2m1 0h2m3 0h2m2 0h3m1 0h2m1 0h1m1 0h5m1 0h1m1 0h1m1 0h3m1 0h1m3 0h1m3 0h1m9 0h1m10 0h1m2 0h1m13 0h1m6 0h1m3 0h2m3 0h2m3 0h1m2 0h1m3 0h1m2 0h1m1 0h1m1 0h1m29 0h1m14 0h2m4 0h1m3 0h1m1 0h5m4 0h3m1 0h8m1 0h264M175 329.5h1m10 0h3m1 0h2m1 0h1m2 0h1m1 0h2m4 0h3m3 0h1m3 0h1m134 0h2m5 0h2m3 0h1m2 0h4m1 0h1m3 0h3m2 0h2m8 0h3m1 0h1m5 0h1m4 0h2m28 0h1m2 0h1m8 0h2m1 0h1m1 0h1m4 0h3m1 0h1m1 0h1m1 0h1m1 0h4m1 0h1m1 0h1m3 0h1m1 0h2m28 0h1m10 0h1m1 0h2m5 0h1m2 0h1m4 0h6m2 0h272M176 330.5h1m6 0h2m1 0h4m3 0h4m1 0h1m2 0h2m3 0h1m2 0h1m1 0h1m4 0h1m128 0h1m9 0h1m1 0h2m2 0h1m2 0h1m1 0h2m2 0h2m1 0h3m1 0h3m2 0h1m1 0h2m1 0h1m3 0h2m2 0h1m7 0h1m33 0h1m7 0h1m3 0h1m2 0h1m3 0h1m6 0h1m3 0h1m2 0h1m11 0h1m24 0h1m9 0h1m2 0h2m2 0h1m1 0h1m3 0h4m1 0h2m1 0h5m1 0h3m1 0h268M178 331.5h1m5 0h1m5 0h1m6 0h3m3 0h3m2 0h2m2 0h1m2 0h1m2 0h1m1 0h1m130 0h4m2 0h1m1 0h1m1 0h1m1 0h2m2 0h1m2 0h1m2 0h3m2 0h1m3 0h3m2 0h2m2 0h2m3 0h1m1 0h1m1 0h2m37 0h2m5 0h1m5 0h2m4 0h1m1 0h1m5 0h1m8 0h1m39 0h1m3 0h1m2 0h1m6 0h3m1 0h7m1 0h275M183 332.5h1m1 0h1m1 0h2m8 0h3m2 0h2m2 0h2m2 0h1m1 0h2m134 0h1m4 0h1m2 0h2m3 0h3m1 0h5m1 0h3m3 0h1m1 0h4m1 0h1m1 0h3m2 0h2m2 0h2m1 0h2m2 0h1m2 0h1m32 0h1m1 0h1m5 0h2m1 0h1m3 0h1m2 0h1m2 0h1m3 0h4m3 0h2m30 0h1m12 0h1m1 0h1m1 0h2m2 0h1m5 0h1m3 0h2m1 0h1m1 0h1m2 0h5m1 0h269M186 333.5h2m1 0h4m1 0h4m1 0h4m5 0h3m2 0h1m2 0h1m128 0h1m6 0h5m2 0h1m1 0h4m1 0h1m2 0h1m1 0h2m1 0h2m2 0h1m1 0h1m1 0h4m1 0h3m1 0h2m3 0h1m2 0h2m1 0h1m50 0h1m10 0h2m1 0h1m2 0h4m5 0h1m38 0h1m3 0h1m1 0h1m1 0h1m1 0h1m1 0h4m2 0h2m1 0h2m1 0h274M174 334.5h1m7 0h2m7 0h1m2 0h1m1 0h3m4 0h1m1 0h1m3 0h3m2 0h1m129 0h1m1 0h1m5 0h1m1 0h1m1 0h1m1 0h1m2 0h1m1 0h2m3 0h1m5 0h1m3 0h3m1 0h2m1 0h1m5 0h1m8 0h1m4 0h2m26 0h1m3 0h1m4 0h3m1 0h1m2 0h2m1 0h1m2 0h3m3 0h4m1 0h1m1 0h1m2 0h2m41 0h1m2 0h1m6 0h1m2 0h2m1 0h1m2 0h3m1 0h9m1 0h2m1 0h266M173 335.5h1m4 0h1m10 0h1m1 0h3m1 0h8m2 0h3m1 0h1m2 0h1m131 0h1m2 0h1m2 0h1m7 0h2m3 0h2m1 0h1m1 0h1m2 0h1m2 0h1m1 0h1m1 0h1m3 0h1m3 0h1m1 0h2m4 0h1m1 0h1m1 0h1m1 0h1m35 0h1m7 0h2m7 0h1m1 0h1m5 0h1m2 0h3m2 0h1m3 0h1m1 0h1m26 0h1m17 0h2m2 0h1m1 0h1m1 0h2m1 0h8m2 0h2m2 0h4m1 0h266M183 336.5h2m5 0h2m5 0h1m1 0h1m1 0h3m1 0h1m2 0h3m2 0h1m129 0h1m1 0h1m5 0h1m4 0h10m1 0h2m3 0h3m1 0h2m1 0h1m2 0h1m1 0h2m3 0h1m1 0h1m1 0h2m1 0h1m2 0h1m3 0h1m2 0h1m18 0h1m17 0h1m5 0h1m10 0h2m5 0h2m2 0h1m5 0h1m39 0h1m8 0h1m5 0h2m3 0h3m1 0h275M181 337.5h1m3 0h4m1 0h2m1 0h1m1 0h2m4 0h1m1 0h2m5 0h1m6 0h1m128 0h1m3 0h1m6 0h1m9 0h1m1 0h3m1 0h1m1 0h1m1 0h1m1 0h1m1 0h1m1 0h9m4 0h1m2 0h1m3 0h1m32 0h1m4 0h1m1 0h1m5 0h1m2 0h1m2 0h2m1 0h3m2 0h3m7 0h1m5 0h1m35 0h1m2 0h2m2 0h2m1 0h2m1 0h4m1 0h2m1 0h7m2 0h5m2 0h264M175 338.5h1m6 0h1m1 0h2m5 0h1m1 0h4m2 0h6m1 0h1m2 0h1m2 0h2m136 0h1m11 0h1m5 0h1m1 0h1m1 0h3m1 0h3m3 0h1m1 0h1m1 0h1m1 0h3m1 0h2m6 0h2m2 0h1m32 0h1m3 0h1m5 0h1m3 0h3m4 0h1m1 0h1m6 0h1m6 0h1m40 0h1m2 0h1m1 0h1m3 0h1m3 0h2m1 0h2m1 0h2m2 0h1m1 0h7m1 0h3m1 0h264M182 339.5h1m1 0h2m4 0h2m1 0h1m1 0h4m1 0h5m7 0h3m140 0h1m1 0h2m1 0h1m1 0h5m1 0h3m3 0h1m1 0h2m2 0h2m1 0h1m1 0h1m2 0h3m1 0h1m1 0h1m3 0h1m44 0h1m2 0h1m8 0h2m4 0h5m2 0h2m38 0h1m8 0h1m7 0h1m2 0h2m2 0h2m2 0h3m1 0h5m1 0h4m1 0h265M186 340.5h1m3 0h2m1 0h1m2 0h6m2 0h1m1 0h3m137 0h1m1 0h1m1 0h1m2 0h2m1 0h1m2 0h1m5 0h2m1 0h1m1 0h2m2 0h1m1 0h15m2 0h4m36 0h1m16 0h1m1 0h1m3 0h1m7 0h3m14 0h1m33 0h1m4 0h1m2 0h1m4 0h5m2 0h12m1 0h4m1 0h263M178 341.5h1m1 0h1m5 0h1m1 0h1m3 0h1m1 0h4m1 0h1m3 0h2m2 0h1m3 0h1m1 0h1m2 0h1m131 0h1m2 0h4m1 0h4m1 0h1m2 0h2m2 0h1m1 0h1m2 0h1m1 0h2m1 0h1m2 0h3m1 0h5m1 0h1m1 0h1m1 0h1m1 0h2m2 0h2m30 0h1m4 0h1m5 0h2m1 0h1m1 0h2m9 0h1m17 0h2m31 0h1m5 0h1m1 0h1m4 0h1m2 0h1m2 0h1m2 0h1m1 0h4m1 0h276M183 342.5h1m2 0h1m4 0h3m1 0h1m2 0h1m2 0h1m1 0h1m1 0h1m3 0h1m1 0h3m7 0h1m128 0h1m3 0h1m1 0h4m1 0h2m1 0h1m1 0h1m1 0h4m1 0h3m2 0h4m1 0h1m2 0h1m1 0h1m2 0h1m2 0h1m27 0h1m22 0h2m2 0h1m3 0h2m3 0h2m2 0h2m1 0h1m5 0h1m1 0h2m43 0h1m3 0h2m1 0h2m1 0h1m1 0h7m3 0h4m1 0h271M181 343.5h2m1 0h1m3 0h1m5 0h1m3 0h1m1 0h3m2 0h5m141 0h2m3 0h2m2 0h1m3 0h2m1 0h1m1 0h1m1 0h1m2 0h3m1 0h1m4 0h1m1 0h4m2 0h1m1 0h2m2 0h1m3 0h1m36 0h1m2 0h1m2 0h2m1 0h1m3 0h1m1 0h1m1 0h1m7 0h1m12 0h1m4 0h1m31 0h1m2 0h1m1 0h2m1 0h1m3 0h3m3 0h7m1 0h13m1 0h263M187 344.5h1m3 0h3m2 0h7m1 0h2m4 0h2m1 0h1m140 0h4m1 0h1m2 0h5m1 0h1m3 0h3m1 0h1m2 0h2m1 0h1m1 0h6m2 0h1m1 0h1m2 0h1m1 0h1m1 0h2m32 0h1m6 0h1m1 0h1m2 0h1m1 0h2m1 0h1m1 0h1m1 0h1m1 0h2m1 0h1m2 0h1m4 0h1m4 0h3m1 0h1m32 0h1m1 0h1m1 0h1m4 0h1m1 0h1m3 0h5m1 0h1m1 0h10m1 0h271M183 345.5h1m3 0h5m1 0h2m1 0h1m1 0h1m3 0h2m1 0h4m3 0h1m3 0h1m2 0h1m125 0h1m6 0h1m6 0h2m2 0h3m1 0h1m1 0h1m1 0h2m1 0h1m1 0h9m3 0h3m4 0h2m1 0h1m1 0h1m30 0h1m14 0h2m1 0h1m1 0h1m8 0h1m3 0h1m2 0h2m1 0h2m1 0h2m3 0h2m2 0h1m22 0h1m8 0h2m5 0h1m1 0h1m2 0h3m1 0h8m1 0h1m3 0h3m1 0h269" stroke="#006400" stroke-width="1" fill="none" shape-rendering="crispEdges" filter="url(#sb)"/>
<line x1="196.0" y1="5.5" x2="196.0" y2="346.8" stroke="#7c7c7c" stroke-opacity="0.85" stroke-width="1"/>
<text class="rs" transform="translate(186.0,38.7) rotate(-90) scale(1,1.1)" textLength="22.6" lengthAdjust="spacing">1:1</text>
<line x1="356.9" y1="5.5" x2="356.9" y2="346.8" stroke="#7c7c7c" stroke-opacity="0.85" stroke-width="1"/>
<text class="rs" transform="translate(346.9,38.7) rotate(-90) scale(1,1.1)" textLength="22.6" lengthAdjust="spacing">3:2</text>
<line x1="499.5" y1="5.5" x2="499.5" y2="346.8" stroke="#7c7c7c" stroke-opacity="0.85" stroke-width="1"/>
<text class="rs" transform="translate(489.5,38.7) rotate(-90) scale(1,1.1)" textLength="22.6" lengthAdjust="spacing">2:1</text>
<line x1="630.5" y1="5.5" x2="630.5" y2="346.8" stroke="#7c7c7c" stroke-opacity="0.85" stroke-width="1"/>
<text class="rs" transform="translate(620.5,38.7) rotate(-90) scale(1,1.1)" textLength="22.6" lengthAdjust="spacing">5:2</text>
<line x1="754.3" y1="5.5" x2="754.3" y2="346.8" stroke="#808080" stroke-opacity="0.5" stroke-width="1.8"/>
<text class="rs" transform="translate(744.3,38.7) rotate(-90) scale(1,1.1)" textLength="22.6" lengthAdjust="spacing">3:1</text>
<line x1="399.8" y1="5.5" x2="399.8" y2="346.8" stroke="#ff2a2a" stroke-width="1.2" stroke-dasharray="7.4 4.9"/>
<text class="an" fill="#ff2a2a" stroke="#ff2a2a" transform="translate(418,192.8) rotate(-90) scale(1,1.12)" textLength="125" lengthAdjust="spacingAndGlyphs">Mustill &amp; Wyatt (2012)</text>
<line x1="431.3" y1="5.5" x2="431.3" y2="346.8" stroke="#bb55ff" stroke-width="1.2" stroke-dasharray="7.4 4.9"/>
<text class="an" fill="#bb55ff" stroke="#bb55ff" transform="translate(451,192.8) rotate(-90) scale(1,1.12)" textLength="129.7" lengthAdjust="spacingAndGlyphs">Fit to thermal emission</text>
<line x1="536.8" y1="5.5" x2="536.8" y2="346.8" stroke="#2222ff" stroke-width="1.2" stroke-dasharray="7.4 4.9"/>
<text class="an" fill="#2222ff" stroke="#2222ff" transform="translate(555.4,192.8) rotate(-90) scale(1,1.12)" textLength="125.3" lengthAdjust="spacingAndGlyphs">Pearce &amp; Wyatt (2014)</text>
<rect class="ax" x="67.5" y="5.5" width="748.5" height="341.3"/>
<text class="tk" x="59" y="346.6" text-anchor="end">0.0</text>
<text class="tk" x="59" y="284.9" text-anchor="end">0.2</text>
<text class="tk" x="59" y="216.7" text-anchor="end">0.4</text>
<text class="tk" x="59" y="148.4" text-anchor="end">0.6</text>
<text class="tk" x="59" y="80.2" text-anchor="end">0.8</text>
<text class="tk" x="59" y="17.5" text-anchor="end">1.0</text>
<text class="tk" x="133.9" y="373.0" text-anchor="middle">40</text>
<text class="tk" x="247.5" y="373.0" text-anchor="middle">50</text>
<text class="tk" x="361.1" y="373.0" text-anchor="middle">60</text>
<text class="tk" x="474.7" y="373.0" text-anchor="middle">70</text>
<text class="tk" x="588.3" y="373.0" text-anchor="middle">80</text>
<text class="tk" x="701.9" y="373.0" text-anchor="middle">90</text>
<text class="tk" x="815.5" y="373.0" text-anchor="middle">100</text>
<text class="tk" style="font-size:19.2px" transform="translate(18,230.5) rotate(-90) scale(1,1.08)" textLength="99.5" lengthAdjust="spacingAndGlyphs">eccentricity</text>
<circle cx="196.3" cy="312.8" r="6.3" fill="#ff2e72"/>
</g>
<g id="panel2">
<path class="ax" d="M67.5 711.43h7.7M816.0 711.43h-7.7M67.5 694.37h7.7M816.0 694.37h-7.7M67.5 677.30h7.7M816.0 677.30h-7.7M67.5 660.24h15M816.0 660.24h-15M67.5 643.17h7.7M816.0 643.17h-7.7M67.5 626.11h7.7M816.0 626.11h-7.7M67.5 609.04h7.7M816.0 609.04h-7.7M67.5 591.98h15M816.0 591.98h-15M67.5 574.91h7.7M816.0 574.91h-7.7M67.5 557.85h7.7M816.0 557.85h-7.7M67.5 540.78h7.7M816.0 540.78h-7.7M67.5 523.72h15M816.0 523.72h-15M67.5 506.65h7.7M816.0 506.65h-7.7M67.5 489.59h7.7M816.0 489.59h-7.7M67.5 472.52h7.7M816.0 472.52h-7.7M67.5 455.46h15M816.0 455.46h-15M67.5 438.39h7.7M816.0 438.39h-7.7M67.5 421.33h7.7M816.0 421.33h-7.7M67.5 404.26h7.7M816.0 404.26h-7.7M99.90 387.2v3.2M99.90 728.5v-3.2M151.05 387.2v3.2M151.05 728.5v-3.2M202.20 387.2v7M202.20 728.5v-7M253.35 387.2v3.2M253.35 728.5v-3.2M304.50 387.2v3.2M304.50 728.5v-3.2M355.65 387.2v3.2M355.65 728.5v-3.2M406.80 387.2v7M406.80 728.5v-7M457.95 387.2v3.2M457.95 728.5v-3.2M509.10 387.2v3.2M509.10 728.5v-3.2M560.25 387.2v3.2M560.25 728.5v-3.2M611.40 387.2v7M611.40 728.5v-7M662.55 387.2v3.2M662.55 728.5v-3.2M713.70 387.2v3.2M713.70 728.5v-3.2M764.85 387.2v3.2M764.85 728.5v-3.2"/>
<path d="M793 475.5h1M563 478.5h1M768 483.5h1M587 498.5h1M792 519.5h1M740 521.5h1M574 541.5h1M664 546.5h1M719 548.5h1M533 553.5h1m28 0h1M365 554.5h1m251 0h1m13 0h1M528 555.5h1M370 556.5h1M372 558.5h1M358 559.5h1m256 0h1M671 561.5h1m75 0h1m26 0h1M629 562.5h1M367 563.5h1m240 0h1m21 0h1M707 564.5h1M371 565.5h1m239 0h1m6 0h1m48 0h1M365 566.5h1m199 0h1m63 0h1m25 0h1M633 568.5h1m175 0h1M373 569.5h1m169 0h1M370 570.5h1m187 0h1m50 0h1M376 571.5h1m256 0h1M367 572.5h1m4 0h1m203 0h1m66 0h1m114 0h1M362 573.5h1m2 0h1m218 0h1m39 0h1M365 574.5h1m3 0h1m8 0h1m161 0h1m152 0h1m27 0h1m34 0h1m52 0h1M609 575.5h1M367 576.5h2m172 0h1m35 0h1m196 0h2M369 577.5h1m1 0h1m230 0h1m60 0h1m10 0h1m2 0h1m117 0h1M584 578.5h1m69 0h1M374 579.5h1m219 0h1m12 0h1m53 0h1m69 0h1M376 580.5h1m294 0h1m34 0h1m76 0h1M375 581.5h1m208 0h1m4 0h1m5 0h1m11 0h1m1 0h1m18 0h1m73 0h1m90 0h1M367 582.5h1m1 0h1m167 0h1m105 0h1m42 0h1m11 0h1m109 0h1M557 583.5h1m69 0h1m6 0h1m27 0h1m90 0h1m39 0h1M373 584.5h1m168 0h1m46 0h1m12 0h1m18 0h1M370 585.5h1m1 0h1m178 0h1m58 0h1m26 0h1m15 0h1M370 586.5h1m157 0h1m62 0h1m12 0h1m11 0h1m44 0h1M377 587.5h1m175 0h1m57 0h1m23 0h1m32 0h1M376 588.5h1m161 0h1m1 0h1m39 0h1m31 0h1m39 0h2m63 0h1m32 0h1M594 589.5h1m12 0h1m18 0h1m4 0h1m2 0h1m7 0h1m18 0h1m3 0h1m89 0h1m38 0h1M368 590.5h1m4 0h1m1 0h1m184 0h1m19 0h1m10 0h1m7 0h1m1 0h1m7 0h1m50 0h1m145 0h1M367 591.5h1m4 0h1m202 0h1m26 0h1m35 0h1m1 0h1m22 0h1m11 0h1m112 0h1M366 592.5h1m2 0h1m1 0h1m173 0h1m24 0h1m3 0h1m22 0h1m6 0h1m4 0h1m1 0h1m2 0h1m3 0h1m18 0h1m6 0h1m26 0h1m5 0h2m122 0h1m1 0h1M592 593.5h1m21 0h1m8 0h1m11 0h1m2 0h1m5 0h1m1 0h1m9 0h1m2 0h2m14 0h1m57 0h1m20 0h1m49 0h1M363 594.5h1m5 0h1m1 0h1m172 0h1m29 0h1m36 0h1m19 0h1m2 0h2m9 0h1m17 0h1m13 0h1M371 595.5h1m3 0h1m196 0h1m10 0h1m14 0h2m14 0h1m3 0h1m7 0h1m1 0h1m4 0h1m6 0h1m28 0h1m9 0h1m81 0h1m14 0h1m24 0h1M369 596.5h1m6 0h1m182 0h1m8 0h1m14 0h1m7 0h1m3 0h1m1 0h2m2 0h1m10 0h1m5 0h1m1 0h2m4 0h2m7 0h1m4 0h1m5 0h1m4 0h1m2 0h1m10 0h1m16 0h1m45 0h1m60 0h1M367 597.5h1m7 0h1m153 0h1m32 0h1m20 0h1m1 0h1m3 0h2m8 0h2m10 0h1m3 0h1m5 0h1m1 0h1m9 0h1m1 0h1m1 0h1m2 0h3m7 0h1m1 0h1m1 0h1m4 0h1m2 0h1m2 0h1m14 0h1m23 0h1m79 0h1M373 598.5h1m173 0h1m13 0h1m7 0h1m4 0h1m1 0h4m26 0h1m2 0h1m19 0h3m2 0h2m2 0h2m5 0h1m1 0h3m17 0h1m98 0h1m36 0h1m6 0h1M369 599.5h1m5 0h1m199 0h1m7 0h1m22 0h1m5 0h2m5 0h3m1 0h1m3 0h3m1 0h1m4 0h1m2 0h1m1 0h6m3 0h2m1 0h1m10 0h1m141 0h1M376 600.5h1m166 0h1m7 0h1m13 0h1m4 0h1m6 0h1m5 0h3m7 0h1m5 0h1m2 0h1m8 0h8m4 0h1m1 0h1m2 0h3m1 0h2m1 0h3m1 0h1m1 0h4m1 0h2m4 0h1m4 0h1m3 0h1m7 0h1m2 0h1m90 0h2m11 0h1m16 0h1M371 601.5h1m175 0h1m10 0h1m4 0h1m11 0h1m13 0h2m9 0h1m3 0h2m1 0h2m3 0h2m2 0h1m2 0h1m1 0h1m1 0h1m2 0h1m3 0h7m2 0h3m1 0h1m1 0h2m2 0h1m2 0h2m1 0h1m1 0h2m5 0h1m9 0h1m12 0h1m50 0h1m9 0h1m32 0h1M557 602.5h1m5 0h1m10 0h1m4 0h1m4 0h1m2 0h1m2 0h1m13 0h1m3 0h10m1 0h4m1 0h6m1 0h3m1 0h3m1 0h4m1 0h2m2 0h2m1 0h1m20 0h1m9 0h1m68 0h1m9 0h1m37 0h1m6 0h1M572 603.5h1m4 0h1m3 0h1m2 0h1m3 0h1m5 0h1m1 0h3m1 0h2m1 0h1m5 0h2m1 0h4m1 0h1m1 0h2m1 0h2m2 0h1m3 0h2m1 0h5m1 0h2m1 0h4m1 0h2m1 0h2m2 0h3m3 0h1m3 0h2m1 0h1m17 0h1m2 0h1m28 0h1m22 0h1m7 0h1m37 0h1M556 604.5h1m3 0h1m20 0h2m2 0h1m2 0h1m5 0h1m1 0h1m8 0h1m2 0h5m1 0h1m1 0h1m1 0h7m1 0h1m1 0h3m1 0h4m1 0h6m1 0h3m1 0h4m1 0h3m1 0h2m1 0h2m1 0h1m3 0h1m3 0h1m7 0h1m2 0h1m11 0h1m19 0h1m13 0h1m10 0h1m2 0h1m2 0h1m19 0h1m10 0h2m13 0h1m18 0h1M365 605.5h1m11 0h1m172 0h1m25 0h1m1 0h1m7 0h1m2 0h2m1 0h1m4 0h1m1 0h1m1 0h3m2 0h1m3 0h1m1 0h2m1 0h12m1 0h3m1 0h8m2 0h6m2 0h1m1 0h2m3 0h4m2 0h3m5 0h1m13 0h1m38 0h1m8 0h1M367 606.5h1m2 0h1m184 0h1m9 0h1m14 0h1m5 0h3m2 0h1m4 0h1m1 0h1m1 0h3m1 0h1m1 0h1m3 0h2m1 0h4m1 0h2m1 0h24m2 0h1m2 0h1m1 0h1m1 0h1m1 0h4m2 0h2m2 0h1m1 0h2m4 0h1m2 0h2m12 0h1m55 0h1m17 0h1m7 0h1m17 0h1m12 0h1M528 607.5h1m9 0h1m14 0h1m12 0h1m1 0h1m3 0h1m1 0h1m7 0h2m1 0h2m2 0h3m1 0h6m1 0h7m1 0h5m2 0h2m1 0h29m1 0h4m1 0h1m1 0h3m1 0h8m1 0h1m2 0h1m1 0h1m7 0h1m12 0h1m1 0h1m4 0h1m1 0h1m13 0h1m33 0h1m6 0h1m17 0h1m1 0h1m3 0h1M542 608.5h1m19 0h2m1 0h1m10 0h1m1 0h1m10 0h1m2 0h5m2 0h1m1 0h8m1 0h44m3 0h2m1 0h1m1 0h2m1 0h2m1 0h1m1 0h1m1 0h2m6 0h1m8 0h1m3 0h1m4 0h1m18 0h1m29 0h1m7 0h1m1 0h1m21 0h1m1 0h2m9 0h2m18 0h1M552 609.5h2m3 0h2m1 0h1m8 0h1m6 0h1m1 0h2m5 0h1m5 0h1m2 0h4m2 0h5m1 0h5m1 0h50m1 0h2m1 0h1m1 0h1m1 0h4m1 0h2m4 0h1m4 0h1m47 0h1m9 0h1m6 0h1m15 0h1m3 0h1m9 0h1m9 0h1m2 0h1m7 0h1m4 0h1m4 0h2m1 0h1M369 610.5h1m126 0h1m12 0h1m39 0h4m3 0h1m8 0h1m3 0h2m3 0h2m1 0h1m2 0h1m3 0h1m3 0h6m1 0h4m3 0h60m2 0h1m1 0h1m1 0h6m1 0h1m8 0h1m2 0h1m9 0h1m4 0h1m44 0h1m6 0h1m20 0h2m2 0h2m26 0h1M364 611.5h1m155 0h2m17 0h1m22 0h1m9 0h1m3 0h2m1 0h1m1 0h1m1 0h4m4 0h1m1 0h1m1 0h5m1 0h61m1 0h18m4 0h2m10 0h1m21 0h1m14 0h1m32 0h1m4 0h1m6 0h3m3 0h1m2 0h1m9 0h1m5 0h1M512 612.5h1m23 0h1m12 0h1m3 0h1m5 0h1m7 0h1m5 0h2m2 0h7m1 0h6m2 0h3m1 0h71m1 0h9m2 0h1m2 0h2m7 0h1m5 0h1m4 0h1m8 0h1m2 0h1m26 0h1m14 0h1m1 0h1m5 0h1m3 0h1m8 0h1m12 0h1m8 0h1m10 0h2m2 0h1M368 613.5h1m137 0h1m28 0h1m1 0h1m8 0h1m7 0h1m7 0h1m4 0h2m3 0h2m1 0h5m3 0h5m1 0h1m1 0h1m1 0h77m1 0h4m3 0h1m2 0h1m1 0h1m4 0h1m2 0h2m5 0h1m3 0h1m37 0h1m9 0h1m1 0h1m13 0h1m7 0h1m2 0h2m1 0h2m4 0h1m4 0h2m7 0h1M377 614.5h1m165 0h1m4 0h1m3 0h1m5 0h1m2 0h1m1 0h1m5 0h2m2 0h2m2 0h5m1 0h1m1 0h1m1 0h2m1 0h88m1 0h1m1 0h5m1 0h2m2 0h1m11 0h2m8 0h1m8 0h1m11 0h2m13 0h1m1 0h1m7 0h3m9 0h1m3 0h1m2 0h1m2 0h1m1 0h1m1 0h1m2 0h1m8 0h1m3 0h2m2 0h1M374 615.5h1m163 0h2m7 0h1m11 0h1m4 0h1m2 0h3m2 0h1m2 0h2m1 0h1m1 0h1m1 0h2m2 0h87m1 0h6m1 0h1m2 0h2m3 0h1m6 0h1m6 0h1m1 0h1m29 0h1m3 0h1m6 0h1m3 0h1m14 0h2m13 0h3m1 0h1m2 0h1m2 0h1m1 0h1m3 0h1m1 0h1m1 0h1m4 0h1m3 0h1m4 0h1M499 616.5h1m26 0h1m6 0h1m3 0h1m11 0h1m8 0h1m6 0h1m2 0h4m2 0h2m1 0h4m2 0h3m1 0h97m3 0h1m1 0h1m3 0h1m5 0h1m15 0h1m21 0h1m4 0h1m4 0h1m2 0h1m8 0h1m1 0h1m2 0h2m2 0h1m2 0h1m1 0h3m4 0h2m7 0h1m1 0h3m4 0h2m4 0h1m7 0h3M367 617.5h1m10 0h1m172 0h2m1 0h1m7 0h1m3 0h1m1 0h6m2 0h3m3 0h101m1 0h4m11 0h2m30 0h1m11 0h1m14 0h1m3 0h1m2 0h2m1 0h2m1 0h1m1 0h1m7 0h2m5 0h2m1 0h6m1 0h1m1 0h2m2 0h1m9 0h2M375 618.5h1m123 0h1m20 0h1m1 0h1m6 0h1m10 0h1m7 0h1m1 0h1m6 0h2m1 0h1m2 0h3m1 0h1m1 0h3m2 0h105m3 0h4m2 0h2m1 0h1m3 0h3m14 0h1m28 0h1m1 0h1m5 0h1m2 0h1m4 0h1m5 0h1m3 0h1m2 0h1m1 0h1m2 0h2m1 0h1m2 0h1m2 0h1m4 0h6m3 0h3m1 0h1m1 0h3m2 0h4m1 0h1M452 619.5h1m62 0h1m16 0h2m1 0h1m6 0h1m2 0h1m5 0h2m8 0h2m2 0h3m1 0h4m1 0h2m1 0h111m1 0h5m13 0h2m13 0h1m17 0h1m2 0h1m1 0h2m2 0h1m2 0h5m2 0h1m2 0h2m2 0h2m1 0h2m1 0h2m3 0h1m3 0h1m2 0h2m4 0h1m2 0h3m1 0h5m1 0h6m1 0h1m1 0h3M377 620.5h1m134 0h1m13 0h1m1 0h1m5 0h1m11 0h1m1 0h5m4 0h1m1 0h4m1 0h6m1 0h116m1 0h2m1 0h1m1 0h1m7 0h1m12 0h1m2 0h1m29 0h4m6 0h8m1 0h1m1 0h2m1 0h2m1 0h3m1 0h6m1 0h1m2 0h3m1 0h3m1 0h4m3 0h5m3 0h2m1 0h2M463 621.5h1m10 0h1m52 0h1m6 0h2m5 0h1m5 0h1m1 0h1m2 0h2m3 0h7m1 0h1m4 0h116m1 0h1m1 0h2m2 0h2m28 0h2m3 0h1m10 0h2m1 0h2m3 0h10m1 0h5m1 0h1m2 0h1m1 0h1m1 0h6m2 0h10m2 0h3m1 0h6m1 0h4m1 0h1m1 0h1m1 0h3M376 622.5h1m94 0h1m64 0h2m8 0h1m2 0h3m2 0h7m1 0h1m1 0h4m1 0h119m1 0h4m1 0h1m1 0h2m1 0h1m8 0h1m3 0h1m1 0h1m3 0h1m1 0h1m1 0h1m9 0h1m7 0h3m1 0h1m2 0h5m1 0h2m1 0h1m2 0h5m2 0h1m1 0h1m1 0h5m2 0h5m1 0h2m1 0h3m1 0h2m1 0h5m3 0h3m1 0h2m1 0h5m1 0h2M374 623.5h1m96 0h1m25 0h1m28 0h1m9 0h1m2 0h1m2 0h2m4 0h3m1 0h7m2 0h1m1 0h127m1 0h4m1 0h1m1 0h1m2 0h1m1 0h1m8 0h1m1 0h1m9 0h1m3 0h1m1 0h1m4 0h2m3 0h3m1 0h2m2 0h3m1 0h1m2 0h3m2 0h6m1 0h9m3 0h4m1 0h1m1 0h1m1 0h1m2 0h10m1 0h11m2 0h1M378 624.5h1m85 0h1m1 0h2m3 0h1m29 0h1m5 0h1m31 0h1m1 0h3m1 0h1m3 0h1m1 0h1m1 0h3m1 0h3m2 0h134m1 0h2m2 0h1m7 0h1m6 0h1m4 0h1m1 0h1m1 0h1m1 0h1m9 0h3m1 0h7m2 0h3m1 0h3m2 0h3m1 0h1m1 0h1m1 0h12m1 0h36M462 625.5h1m13 0h1m3 0h1m8 0h1m36 0h1m2 0h1m6 0h1m1 0h1m1 0h1m1 0h2m2 0h2m1 0h1m1 0h2m1 0h3m3 0h136m1 0h2m1 0h1m6 0h1m1 0h1m9 0h1m9 0h1m1 0h3m2 0h4m1 0h3m1 0h5m1 0h1m1 0h1m1 0h3m1 0h57M459 626.5h1m1 0h1m11 0h1m16 0h1m27 0h1m17 0h1m1 0h1m1 0h1m1 0h6m1 0h3m1 0h3m2 0h144m2 0h2m2 0h1m15 0h1m1 0h1m2 0h1m4 0h1m3 0h10m1 0h2m1 0h1m1 0h62M457 627.5h1m16 0h1m2 0h1m1 0h2m1 0h1m52 0h3m4 0h2m1 0h4m1 0h2m1 0h2m1 0h139m1 0h1m2 0h1m1 0h1m3 0h1m5 0h2m2 0h1m4 0h1m2 0h1m2 0h1m4 0h5m3 0h2m1 0h5m1 0h68M372 628.5h1m94 0h1m1 0h1m1 0h1m3 0h1m4 0h1m25 0h1m12 0h1m3 0h1m10 0h1m1 0h2m2 0h2m1 0h5m1 0h1m1 0h2m1 0h145m1 0h1m2 0h3m3 0h1m3 0h1m1 0h1m4 0h1m1 0h1m7 0h2m2 0h2m1 0h2m1 0h2m1 0h73M460 629.5h1m1 0h1m4 0h1m3 0h1m5 0h1m11 0h1m2 0h1m22 0h1m10 0h1m1 0h1m2 0h1m1 0h1m2 0h1m1 0h3m2 0h5m2 0h149m1 0h4m7 0h1m1 0h3m7 0h1m1 0h2m2 0h2m1 0h3m1 0h1m1 0h78M365 630.5h1m3 0h1m89 0h1m3 0h1m1 0h1m3 0h1m2 0h2m1 0h1m1 0h1m1 0h1m1 0h1m37 0h1m7 0h2m7 0h3m1 0h3m1 0h2m1 0h1m1 0h2m1 0h1m2 0h149m1 0h4m1 0h1m6 0h1m3 0h1m2 0h3m1 0h1m3 0h3m2 0h79M451 631.5h1m6 0h1m16 0h2m2 0h1m13 0h1m28 0h1m4 0h2m1 0h3m1 0h4m1 0h3m2 0h3m2 0h3m2 0h151m2 0h4m3 0h1m3 0h1m2 0h1m1 0h3m1 0h4m1 0h1m1 0h82M459 632.5h2m2 0h2m1 0h1m7 0h1m3 0h1m19 0h1m16 0h1m6 0h1m2 0h1m1 0h3m2 0h1m4 0h2m1 0h1m1 0h8m1 0h2m1 0h150m2 0h4m1 0h1m4 0h1m1 0h2m1 0h1m1 0h1m1 0h91M371 633.5h1m94 0h2m5 0h2m4 0h1m1 0h1m9 0h1m1 0h1m11 0h1m11 0h1m2 0h4m4 0h1m5 0h1m1 0h2m1 0h2m1 0h1m1 0h1m1 0h2m1 0h3m1 0h156m3 0h2m1 0h3m2 0h96M463 634.5h1m2 0h1m5 0h1m1 0h1m1 0h1m1 0h1m8 0h1m27 0h1m5 0h1m6 0h2m2 0h3m1 0h2m1 0h3m2 0h2m1 0h9m1 0h151m1 0h7m1 0h7m1 0h91M376 635.5h2m72 0h1m8 0h1m1 0h1m7 0h1m2 0h2m5 0h1m41 0h1m6 0h2m3 0h1m1 0h1m3 0h169m1 0h1m1 0h8m1 0h96M375 636.5h1m73 0h1m3 0h1m10 0h2m1 0h2m1 0h2m1 0h1m2 0h1m2 0h1m33 0h1m1 0h1m4 0h1m6 0h2m1 0h1m3 0h1m1 0h1m1 0h1m1 0h1m2 0h1m1 0h5m1 0h166m1 0h1m2 0h95M457 637.5h1m13 0h1m3 0h1m3 0h1m4 0h2m41 0h1m2 0h2m2 0h1m2 0h1m2 0h2m1 0h5m1 0h4m1 0h158m1 0h1m1 0h101M452 638.5h1m15 0h1m1 0h1m3 0h1m5 0h1m6 0h4m29 0h2m7 0h2m1 0h1m4 0h1m3 0h3m1 0h271M368 639.5h1m86 0h1m8 0h2m1 0h1m1 0h1m1 0h1m4 0h2m2 0h1m1 0h1m12 0h1m35 0h1m2 0h2m1 0h3m3 0h273M371 640.5h1m83 0h1m1 0h3m1 0h1m2 0h1m3 0h1m1 0h1m1 0h1m1 0h1m9 0h1m34 0h1m8 0h2m1 0h4m4 0h2m2 0h3m2 0h2m1 0h261m1 0h3M373 641.5h1m73 0h1m6 0h1m5 0h1m1 0h1m1 0h1m2 0h1m3 0h2m3 0h1m11 0h1m24 0h1m5 0h1m1 0h1m4 0h1m4 0h1m2 0h1m2 0h4m1 0h3m1 0h256m1 0h13M455 642.5h1m1 0h1m6 0h2m5 0h1m4 0h1m2 0h1m4 0h1m4 0h1m33 0h1m3 0h1m1 0h1m1 0h1m1 0h2m2 0h1m2 0h2m1 0h2m1 0h270M462 643.5h2m1 0h1m2 0h1m1 0h2m2 0h1m4 0h1m2 0h1m8 0h1m27 0h1m4 0h1m1 0h3m2 0h1m1 0h1m2 0h4m3 0h1m2 0h2m1 0h4m1 0h239m1 0h22M370 644.5h1m10 0h1m69 0h1m6 0h1m4 0h2m1 0h2m2 0h1m7 0h1m3 0h1m39 0h1m1 0h1m1 0h2m2 0h1m3 0h3m1 0h3m3 0h2m1 0h1m1 0h267M456 645.5h1m6 0h1m1 0h1m1 0h6m5 0h1m12 0h1m18 0h1m3 0h1m2 0h1m1 0h1m7 0h1m2 0h2m2 0h2m1 0h1m1 0h3m1 0h6m1 0h2m1 0h263M367 646.5h1m90 0h1m3 0h1m1 0h1m1 0h1m2 0h1m2 0h1m2 0h1m2 0h1m5 0h1m3 0h1m11 0h1m20 0h1m4 0h1m2 0h3m4 0h3m1 0h1m3 0h10m1 0h261M371 647.5h1m85 0h1m12 0h2m8 0h2m4 0h1m22 0h1m13 0h1m3 0h1m2 0h2m1 0h2m3 0h1m1 0h14m1 0h261M453 648.5h1m7 0h3m1 0h2m1 0h1m9 0h1m1 0h1m1 0h1m12 0h1m19 0h1m7 0h3m1 0h1m2 0h1m2 0h2m2 0h1m2 0h2m1 0h3m1 0h4m1 0h239m1 0h14m1 0h9M455 649.5h1m1 0h1m6 0h1m8 0h3m1 0h1m4 0h2m32 0h1m3 0h1m4 0h1m8 0h1m3 0h2m1 0h1m1 0h1m2 0h7m1 0h262M459 650.5h1m8 0h3m2 0h1m3 0h1m35 0h1m1 0h1m6 0h1m1 0h1m2 0h1m1 0h1m5 0h1m1 0h3m1 0h1m1 0h5m3 0h248m1 0h11m1 0h1m1 0h2M381 651.5h1m88 0h3m5 0h1m42 0h1m2 0h1m3 0h1m5 0h2m1 0h1m1 0h3m1 0h1m1 0h262m1 0h2m1 0h3m1 0h1M451 652.5h1m8 0h1m2 0h1m8 0h2m1 0h1m7 0h1m7 0h1m30 0h1m1 0h1m6 0h1m3 0h1m1 0h1m1 0h270m1 0h4m1 0h1M372 653.5h1m2 0h1m83 0h1m2 0h1m17 0h1m3 0h1m3 0h1m21 0h1m2 0h1m1 0h1m4 0h1m2 0h2m4 0h2m4 0h3m2 0h7m1 0h3m1 0h238m1 0h15m1 0h9M457 654.5h1m13 0h1m1 0h2m3 0h2m7 0h1m20 0h1m9 0h1m5 0h1m1 0h1m1 0h2m1 0h1m1 0h1m1 0h2m3 0h10m1 0h263m1 0h1M378 655.5h1m15 0h1m69 0h1m4 0h1m4 0h1m6 0h1m3 0h1m34 0h1m4 0h1m1 0h3m1 0h2m3 0h1m1 0h5m1 0h6m1 0h253m1 0h3m1 0h1m1 0h5M364 656.5h1m28 0h1m1 0h1m52 0h1m2 0h1m4 0h1m3 0h1m10 0h1m9 0h1m7 0h1m2 0h1m7 0h1m18 0h1m1 0h1m3 0h2m1 0h1m1 0h3m1 0h18m1 0h241m1 0h20M363 657.5h2m23 0h1m14 0h1m2 0h1m62 0h1m6 0h1m8 0h1m3 0h1m34 0h1m5 0h1m1 0h1m3 0h1m1 0h2m1 0h1m2 0h1m2 0h263m1 0h5M369 658.5h2m6 0h1m9 0h1m3 0h1m13 0h1m77 0h1m29 0h1m14 0h1m2 0h1m1 0h5m1 0h2m1 0h4m1 0h269M350 659.5h1m13 0h1m3 0h1m29 0h1m67 0h2m6 0h3m42 0h1m5 0h1m4 0h1m1 0h1m2 0h1m1 0h6m1 0h3m1 0h268M353 660.5h1m3 0h1m16 0h1m5 0h1m6 0h1m1 0h1m80 0h1m6 0h1m36 0h1m10 0h4m1 0h2m2 0h1m1 0h1m1 0h1m1 0h5m1 0h2m1 0h3m2 0h262M349 661.5h1m19 0h1m2 0h1m13 0h1m1 0h1m2 0h1m10 0h1m75 0h2m15 0h1m22 0h1m1 0h1m2 0h2m3 0h2m1 0h1m1 0h1m2 0h4m4 0h5m1 0h257m1 0h8M352 662.5h1m6 0h1m6 0h1m4 0h3m2 0h2m5 0h1m5 0h1m62 0h1m20 0h1m8 0h1m28 0h1m6 0h1m3 0h1m3 0h3m1 0h4m2 0h3m2 0h6m1 0h248m1 0h5m1 0h4m1 0h6m1 0h1M362 663.5h1m16 0h1m8 0h1m3 0h1m10 0h1m63 0h1m16 0h1m5 0h1m26 0h1m3 0h2m2 0h1m2 0h3m1 0h6m2 0h1m1 0h1m2 0h1m1 0h246m1 0h4m1 0h10m1 0h2m1 0h3M385 664.5h1m5 0h2m1 0h2m1 0h1m81 0h1m11 0h1m22 0h2m6 0h1m1 0h1m3 0h2m2 0h1m4 0h2m1 0h4m1 0h270M359 665.5h1m6 0h1m2 0h1m1 0h1m2 0h2m5 0h1m2 0h1m1 0h1m1 0h2m11 0h1m54 0h1m23 0h1m15 0h1m18 0h1m1 0h1m2 0h2m5 0h2m4 0h2m3 0h1m1 0h1m1 0h2m1 0h2m1 0h2m1 0h243m1 0h3m1 0h4m1 0h6m1 0h5M355 666.5h1m3 0h1m3 0h1m12 0h1m3 0h1m8 0h1m8 0h2m3 0h1m45 0h1m17 0h1m44 0h1m2 0h1m3 0h1m2 0h1m3 0h1m2 0h2m2 0h2m1 0h4m1 0h10m2 0h247m1 0h1m1 0h3m1 0h1m1 0h2m1 0h4M354 667.5h1m2 0h2m2 0h1m1 0h1m8 0h1m1 0h1m10 0h2m5 0h1m1 0h1m8 0h1m64 0h1m20 0h1m22 0h1m1 0h1m2 0h2m1 0h1m3 0h3m5 0h1m1 0h1m1 0h2m2 0h2m1 0h1m1 0h249m1 0h18m1 0h2M353 668.5h1m1 0h2m2 0h1m4 0h1m13 0h2m5 0h3m3 0h1m1 0h1m3 0h2m2 0h1m1 0h1m3 0h1m112 0h1m4 0h2m1 0h2m1 0h1m2 0h2m1 0h1m1 0h2m1 0h1m1 0h256m1 0h3m1 0h7m2 0h2M349 669.5h1m4 0h1m1 0h2m12 0h1m7 0h2m2 0h1m13 0h2m7 0h1m52 0h1m1 0h1m68 0h1m1 0h2m1 0h2m2 0h3m2 0h1m1 0h2m1 0h3m1 0h234m1 0h4m2 0h8m1 0h9m1 0h4M350 670.5h1m1 0h3m1 0h1m1 0h1m1 0h1m2 0h2m4 0h1m1 0h1m2 0h1m2 0h1m2 0h3m1 0h2m6 0h2m1 0h1m6 0h2m51 0h1m13 0h1m17 0h1m7 0h1m7 0h1m14 0h1m3 0h3m7 0h1m1 0h1m2 0h1m1 0h1m1 0h1m1 0h6m1 0h239m1 0h5m1 0h1m1 0h2m1 0h5m1 0h9M352 671.5h1m3 0h1m1 0h1m4 0h1m1 0h1m7 0h1m4 0h2m3 0h1m2 0h3m1 0h1m4 0h1m1 0h1m4 0h1m55 0h1m8 0h1m14 0h1m8 0h1m36 0h2m1 0h1m1 0h5m4 0h10m1 0h243m1 0h1m1 0h8m1 0h8M351 672.5h1m3 0h2m1 0h1m1 0h1m5 0h1m1 0h2m1 0h1m2 0h3m1 0h1m2 0h1m1 0h2m1 0h2m3 0h1m5 0h1m1 0h3m1 0h2m52 0h1m11 0h1m3 0h2m44 0h1m2 0h1m3 0h1m2 0h2m1 0h2m3 0h6m1 0h2m1 0h262m1 0h6M349 673.5h2m1 0h2m2 0h1m2 0h1m1 0h2m2 0h2m1 0h4m3 0h1m3 0h1m2 0h2m1 0h2m5 0h2m1 0h1m1 0h2m1 0h1m1 0h4m71 0h1m15 0h2m27 0h2m3 0h3m1 0h6m3 0h3m1 0h2m2 0h1m1 0h241m1 0h5m1 0h1m1 0h11m1 0h4M351 674.5h1m1 0h4m2 0h2m1 0h1m1 0h1m1 0h2m2 0h1m1 0h1m6 0h6m3 0h2m1 0h11m66 0h1m4 0h1m46 0h1m9 0h2m2 0h7m2 0h6m1 0h235m1 0h6m1 0h14m1 0h8M350 675.5h1m1 0h3m3 0h1m1 0h3m2 0h2m1 0h4m2 0h1m2 0h3m2 0h1m2 0h1m2 0h2m1 0h5m1 0h3m2 0h3m59 0h1m5 0h1m15 0h1m24 0h2m1 0h1m5 0h1m3 0h2m1 0h1m3 0h1m4 0h4m1 0h7m3 0h256m1 0h8M348 676.5h4m2 0h1m5 0h1m1 0h2m3 0h2m1 0h1m1 0h1m2 0h1m1 0h1m3 0h1m5 0h1m2 0h3m1 0h1m1 0h2m3 0h1m1 0h1m50 0h1m3 0h1m10 0h1m48 0h1m3 0h1m2 0h1m3 0h1m1 0h1m2 0h1m3 0h1m2 0h244m1 0h14m1 0h6m1 0h4m1 0h3M349 677.5h6m1 0h1m1 0h1m2 0h1m5 0h2m2 0h4m3 0h1m3 0h1m1 0h2m3 0h3m1 0h1m2 0h4m1 0h3m62 0h1m22 0h1m6 0h1m24 0h1m3 0h2m3 0h1m1 0h1m2 0h3m1 0h3m1 0h5m2 0h245m1 0h4m1 0h3m1 0h6m1 0h2m1 0h1M349 678.5h1m2 0h3m2 0h2m2 0h1m1 0h1m2 0h1m4 0h1m3 0h1m2 0h1m2 0h1m3 0h1m4 0h1m2 0h2m2 0h3m1 0h3m93 0h1m11 0h1m5 0h1m1 0h3m2 0h3m3 0h2m2 0h1m2 0h2m1 0h3m1 0h3m1 0h3m1 0h250m1 0h12m1 0h2M349 679.5h2m4 0h2m2 0h2m3 0h2m1 0h2m2 0h3m5 0h1m1 0h1m1 0h4m3 0h1m1 0h1m1 0h1m1 0h2m1 0h1m2 0h1m1 0h2m50 0h1m1 0h1m12 0h1m12 0h1m37 0h3m1 0h2m4 0h2m1 0h1m1 0h2m1 0h4m1 0h1m1 0h252m1 0h16M349 680.5h5m1 0h3m1 0h1m1 0h1m1 0h1m1 0h1m2 0h1m1 0h3m8 0h1m1 0h1m2 0h1m2 0h4m1 0h2m3 0h3m53 0h1m12 0h1m4 0h1m12 0h1m5 0h1m28 0h1m3 0h1m2 0h2m3 0h6m1 0h3m1 0h8m1 0h242m1 0h20M348 681.5h4m1 0h6m3 0h7m7 0h1m1 0h1m1 0h2m1 0h1m1 0h1m1 0h2m1 0h3m1 0h4m1 0h1m2 0h1m2 0h1m50 0h1m6 0h1m22 0h1m12 0h1m4 0h1m6 0h1m4 0h1m1 0h1m1 0h1m2 0h1m2 0h1m5 0h1m2 0h1m2 0h1m2 0h1m1 0h3m2 0h259m1 0h5m1 0h2M350 682.5h9m1 0h1m1 0h2m2 0h1m4 0h3m3 0h1m5 0h1m1 0h4m1 0h1m7 0h7m48 0h1m5 0h1m2 0h1m28 0h1m25 0h2m3 0h4m5 0h1m1 0h1m1 0h7m1 0h1m1 0h249m1 0h18m1 0h1M349 683.5h1m2 0h3m1 0h1m1 0h2m4 0h2m4 0h2m1 0h3m1 0h2m2 0h1m1 0h1m2 0h1m1 0h1m2 0h1m1 0h2m1 0h1m1 0h2m58 0h1m7 0h1m5 0h1m1 0h1m7 0h1m28 0h1m4 0h1m2 0h1m1 0h2m1 0h1m3 0h6m3 0h1m1 0h10m1 0h237m1 0h11m1 0h13m1 0h2M350 684.5h1m4 0h1m1 0h1m4 0h1m2 0h1m5 0h1m1 0h1m4 0h1m1 0h2m6 0h1m1 0h2m1 0h2m1 0h2m1 0h2m1 0h1m2 0h1m51 0h1m6 0h1m22 0h1m2 0h1m2 0h1m14 0h1m3 0h1m1 0h2m1 0h1m2 0h1m4 0h2m1 0h2m2 0h1m2 0h6m1 0h3m2 0h251m1 0h2m1 0h11m1 0h2M348 685.5h3m1 0h1m1 0h2m2 0h1m3 0h1m7 0h1m2 0h1m4 0h1m1 0h1m1 0h1m1 0h1m5 0h1m5 0h1m2 0h1m1 0h1m2 0h1m59 0h1m2 0h1m10 0h1m13 0h1m5 0h1m19 0h2m3 0h1m2 0h1m3 0h1m1 0h1m3 0h5m1 0h263m1 0h3m1 0h6M351 686.5h1m2 0h3m7 0h1m6 0h2m1 0h1m3 0h2m2 0h1m3 0h1m1 0h2m2 0h1m2 0h1m1 0h1m1 0h4m3 0h1m50 0h1m33 0h1m1 0h2m4 0h1m16 0h2m5 0h1m2 0h2m2 0h1m1 0h270m1 0h13M349 687.5h1m2 0h1m2 0h1m6 0h6m3 0h2m1 0h1m1 0h3m1 0h2m2 0h1m1 0h1m1 0h1m4 0h1m3 0h1m1 0h2m1 0h2m59 0h1m62 0h5m2 0h1m2 0h1m1 0h1m1 0h264m1 0h11M348 688.5h1m1 0h1m2 0h1m2 0h3m1 0h1m1 0h3m1 0h2m3 0h1m1 0h3m1 0h5m4 0h1m2 0h2m1 0h1m2 0h4m1 0h5m47 0h1m3 0h1m11 0h1m5 0h1m6 0h1m3 0h1m36 0h2m1 0h2m2 0h3m1 0h1m2 0h2m1 0h1m1 0h266m1 0h4m1 0h3M348 689.5h12m1 0h2m2 0h3m3 0h2m1 0h2m1 0h4m2 0h1m2 0h1m1 0h1m1 0h3m1 0h1m2 0h1m1 0h4m2 0h1m55 0h1m18 0h1m1 0h1m10 0h1m18 0h1m9 0h1m1 0h1m1 0h1m1 0h1m2 0h4m4 0h4m1 0h255m1 0h6m1 0h9M351 690.5h5m3 0h1m1 0h2m4 0h1m1 0h1m1 0h1m2 0h1m2 0h3m1 0h1m2 0h1m1 0h3m3 0h5m1 0h1m1 0h3m54 0h1m7 0h1m12 0h1m4 0h1m34 0h2m1 0h2m2 0h1m3 0h1m1 0h1m2 0h1m1 0h1m2 0h9m2 0h243m1 0h19m1 0h2M349 691.5h1m1 0h5m2 0h2m2 0h2m1 0h1m1 0h2m5 0h1m1 0h2m2 0h2m5 0h1m3 0h10m91 0h1m16 0h1m2 0h1m2 0h1m1 0h1m1 0h2m1 0h1m6 0h2m2 0h1m2 0h1m2 0h265m1 0h11M349 692.5h1m1 0h1m6 0h1m1 0h3m4 0h2m2 0h1m3 0h1m1 0h1m2 0h2m2 0h3m1 0h1m1 0h11m2 0h1m54 0h1m6 0h1m10 0h1m7 0h1m7 0h1m4 0h1m13 0h1m10 0h1m3 0h1m2 0h1m2 0h2m2 0h1m1 0h1m1 0h1m1 0h7m1 0h266M351 693.5h6m1 0h1m1 0h2m1 0h2m7 0h2m1 0h1m2 0h3m2 0h1m2 0h1m1 0h1m1 0h2m2 0h3m2 0h4m2 0h1m46 0h1m28 0h1m26 0h1m3 0h2m2 0h1m5 0h2m5 0h1m1 0h1m2 0h2m1 0h3m1 0h4m1 0h239m1 0h6m1 0h9m1 0h2m2 0h1m1 0h1m1 0h3M349 694.5h7m2 0h3m1 0h1m1 0h1m1 0h1m4 0h1m1 0h1m1 0h1m6 0h5m1 0h2m1 0h1m3 0h2m1 0h2m1 0h2m43 0h1m24 0h1m13 0h1m26 0h1m1 0h1m7 0h1m3 0h1m1 0h2m2 0h6m1 0h3m1 0h253m1 0h4m1 0h14M348 695.5h3m2 0h1m5 0h1m2 0h1m1 0h1m5 0h1m1 0h1m2 0h7m1 0h1m2 0h1m1 0h2m1 0h2m1 0h4m1 0h2m59 0h1m17 0h1m23 0h1m7 0h1m3 0h1m1 0h1m6 0h1m1 0h3m2 0h4m3 0h1m1 0h254m1 0h3m1 0h18M348 696.5h1m1 0h2m1 0h1m1 0h5m3 0h2m1 0h4m1 0h1m2 0h1m3 0h2m1 0h2m1 0h1m3 0h2m1 0h1m1 0h1m1 0h3m2 0h1m2 0h1m68 0h1m5 0h1m14 0h1m16 0h1m3 0h1m2 0h2m2 0h1m3 0h1m3 0h1m1 0h1m1 0h4m1 0h4m2 0h2m1 0h264m1 0h1m1 0h2M348 697.5h1m1 0h3m1 0h5m1 0h1m10 0h2m1 0h1m4 0h1m3 0h1m1 0h2m4 0h1m1 0h1m1 0h7m3 0h1m62 0h1m46 0h1m5 0h1m4 0h3m1 0h4m6 0h2m2 0h2m1 0h251m1 0h4m1 0h2m1 0h7M348 698.5h1m1 0h1m1 0h2m1 0h3m1 0h5m2 0h1m3 0h1m1 0h2m1 0h1m4 0h2m1 0h3m1 0h1m1 0h6m1 0h7m118 0h1m2 0h1m1 0h1m3 0h1m2 0h1m2 0h2m1 0h6m1 0h247m1 0h3m1 0h6m1 0h1m1 0h2m1 0h2m2 0h2M350 699.5h5m8 0h3m1 0h2m5 0h3m1 0h3m1 0h1m2 0h1m7 0h5m1 0h2m1 0h1m62 0h1m32 0h1m21 0h1m1 0h2m2 0h5m1 0h4m1 0h2m1 0h1m1 0h247m1 0h4m1 0h8m1 0h12M348 700.5h1m1 0h7m1 0h4m1 0h6m6 0h1m3 0h2m1 0h1m2 0h1m5 0h1m3 0h1m1 0h5m1 0h1m54 0h1m1 0h1m13 0h1m41 0h2m5 0h1m3 0h2m1 0h1m1 0h12m1 0h1m2 0h243m1 0h11m1 0h3m1 0h8M348 701.5h1m1 0h8m1 0h5m5 0h2m1 0h5m2 0h1m2 0h1m1 0h3m4 0h1m1 0h2m2 0h2m1 0h3m1 0h2m41 0h1m3 0h1m24 0h1m12 0h1m13 0h1m4 0h1m4 0h1m7 0h1m3 0h3m2 0h1m2 0h2m2 0h3m4 0h245m4 0h8m1 0h9m2 0h3M349 702.5h4m1 0h1m1 0h2m1 0h1m2 0h2m1 0h1m3 0h2m2 0h2m1 0h1m3 0h1m2 0h1m1 0h3m1 0h3m1 0h3m1 0h7m80 0h1m30 0h1m2 0h1m1 0h2m3 0h1m1 0h3m1 0h4m1 0h2m1 0h1m5 0h249m1 0h14m1 0h4m1 0h1M348 703.5h6m1 0h3m1 0h2m1 0h1m1 0h1m2 0h1m1 0h8m5 0h2m2 0h1m2 0h2m1 0h3m1 0h2m2 0h1m1 0h1m55 0h1m37 0h1m15 0h1m3 0h1m4 0h1m1 0h1m2 0h1m1 0h4m1 0h1m2 0h1m1 0h2m1 0h1m1 0h5m1 0h253m1 0h2m1 0h1m2 0h2m1 0h4M348 704.5h1m1 0h1m2 0h1m1 0h1m1 0h2m1 0h5m1 0h1m1 0h2m2 0h1m4 0h1m1 0h1m2 0h4m1 0h1m1 0h3m1 0h1m1 0h3m3 0h3m54 0h1m19 0h1m2 0h1m1 0h1m26 0h1m1 0h1m2 0h1m6 0h1m2 0h2m4 0h1m2 0h5m1 0h1m1 0h2m1 0h271M349 705.5h7m1 0h1m1 0h4m3 0h1m2 0h1m5 0h1m3 0h1m1 0h1m1 0h3m3 0h1m1 0h1m3 0h2m1 0h6m57 0h1m7 0h2m36 0h1m3 0h3m1 0h1m1 0h1m5 0h1m1 0h2m4 0h2m1 0h1m1 0h2m2 0h259m1 0h16M349 706.5h1m1 0h1m1 0h3m1 0h1m3 0h4m1 0h4m2 0h1m2 0h5m1 0h1m1 0h3m2 0h1m3 0h4m1 0h2m1 0h4m71 0h1m50 0h1m1 0h9m1 0h2m1 0h2m2 0h247m1 0h2m1 0h13m1 0h1m1 0h4M348 707.5h4m1 0h11m1 0h3m1 0h1m1 0h3m1 0h1m2 0h2m1 0h2m2 0h3m3 0h3m4 0h4m116 0h1m3 0h2m4 0h1m4 0h3m3 0h3m1 0h1m1 0h1m1 0h3m1 0h244m1 0h2m1 0h5m2 0h1m1 0h6m1 0h1M348 708.5h1m2 0h2m3 0h1m3 0h1m2 0h1m1 0h2m1 0h1m1 0h1m1 0h2m1 0h3m1 0h1m2 0h1m1 0h2m1 0h2m2 0h5m1 0h1m2 0h4m48 0h1m3 0h1m4 0h1m11 0h1m1 0h1m8 0h1m10 0h1m15 0h1m1 0h1m2 0h1m3 0h1m1 0h2m2 0h1m1 0h1m3 0h1m1 0h5m1 0h4m3 0h239m1 0h12m1 0h2m1 0h3m1 0h1m1 0h3m1 0h3M348 709.5h4m1 0h1m1 0h1m1 0h4m3 0h1m1 0h2m4 0h1m4 0h9m2 0h7m1 0h4m2 0h2m57 0h1m19 0h1m3 0h1m29 0h3m1 0h3m4 0h1m4 0h2m1 0h6m1 0h5m1 0h240m1 0h16m1 0h1m1 0h6m1 0h2M347 710.5h1m2 0h3m1 0h5m1 0h1m1 0h1m1 0h6m1 0h2m3 0h2m1 0h3m1 0h4m1 0h8m1 0h6m64 0h1m11 0h1m21 0h1m7 0h1m12 0h4m2 0h1m1 0h2m1 0h2m1 0h2m5 0h256m1 0h7m3 0h3m1 0h2M348 711.5h3m1 0h6m1 0h6m5 0h7m1 0h1m1 0h3m1 0h3m1 0h1m2 0h1m1 0h4m3 0h1m2 0h1m53 0h1m16 0h1m30 0h1m2 0h1m5 0h1m1 0h1m2 0h2m1 0h1m3 0h1m1 0h2m1 0h12m1 0h3m1 0h252m1 0h3m2 0h1m1 0h6m1 0h1M349 712.5h6m1 0h5m1 0h2m5 0h4m1 0h3m1 0h1m1 0h5m1 0h6m1 0h1m2 0h1m1 0h2m1 0h1m1 0h1m64 0h1m2 0h1m37 0h1m14 0h2m5 0h1m1 0h283M349 713.5h2m1 0h10m1 0h1m1 0h1m3 0h2m1 0h1m1 0h2m1 0h4m3 0h3m2 0h1m1 0h5m1 0h3m1 0h2m52 0h1m10 0h1m41 0h1m4 0h2m1 0h1m3 0h3m3 0h2m3 0h2m1 0h6m1 0h1m1 0h1m1 0h259m1 0h1m1 0h9M349 714.5h4m1 0h9m2 0h1m1 0h4m2 0h1m2 0h1m2 0h1m1 0h1m2 0h2m4 0h4m1 0h6m1 0h1m53 0h1m2 0h1m13 0h1m42 0h1m6 0h1m1 0h1m3 0h5m2 0h1m2 0h4m1 0h262m1 0h3m1 0h2m1 0h2M348 715.5h2m1 0h2m2 0h1m1 0h1m1 0h2m9 0h2m1 0h1m2 0h1m1 0h1m1 0h1m3 0h1m3 0h2m1 0h2m1 0h4m1 0h1m2 0h2m56 0h1m18 0h1m17 0h1m12 0h1m1 0h1m10 0h3m1 0h2m1 0h4m1 0h3m2 0h3m1 0h1m1 0h250m1 0h7m1 0h2m2 0h1m1 0h1m2 0h2M349 716.5h2m1 0h9m1 0h1m4 0h1m4 0h5m3 0h8m2 0h1m1 0h2m2 0h4m1 0h2m49 0h2m32 0h1m27 0h1m2 0h1m7 0h1m2 0h4m1 0h1m4 0h1m1 0h1m1 0h1m1 0h2m1 0h1m1 0h263m1 0h3M349 717.5h1m1 0h4m4 0h4m1 0h1m2 0h2m2 0h2m1 0h2m5 0h1m1 0h2m1 0h1m1 0h2m1 0h9m1 0h3m111 0h1m5 0h1m2 0h3m3 0h1m1 0h1m6 0h1m1 0h5m1 0h1m1 0h261m1 0h5M349 718.5h7m1 0h5m1 0h2m4 0h5m1 0h1m2 0h1m4 0h1m1 0h1m3 0h1m1 0h1m1 0h6m1 0h1m71 0h2m3 0h1m6 0h1m29 0h1m6 0h1m1 0h1m1 0h2m3 0h1m1 0h1m1 0h1m2 0h2m1 0h257m1 0h9m1 0h2m1 0h5M348 719.5h4m1 0h1m2 0h4m4 0h1m2 0h2m1 0h3m1 0h3m1 0h4m2 0h1m1 0h1m1 0h9m2 0h1m73 0h1m38 0h1m6 0h1m1 0h5m2 0h2m1 0h2m2 0h3m2 0h269m2 0h1m1 0h3M348 720.5h8m1 0h1m1 0h9m2 0h3m1 0h2m1 0h3m2 0h2m1 0h1m5 0h7m1 0h4m65 0h1m7 0h1m29 0h1m3 0h1m5 0h1m3 0h2m2 0h1m2 0h1m5 0h3m1 0h5m1 0h257m1 0h13M349 721.5h5m1 0h3m1 0h2m1 0h1m3 0h1m1 0h1m1 0h1m1 0h1m1 0h1m1 0h5m1 0h2m3 0h5m2 0h1m1 0h6m1 0h1m68 0h1m9 0h1m8 0h1m15 0h1m4 0h1m2 0h1m2 0h1m1 0h3m2 0h1m5 0h1m1 0h2m3 0h4m1 0h6m1 0h252m1 0h13M349 722.5h4m2 0h1m1 0h2m1 0h4m2 0h1m1 0h1m2 0h5m1 0h1m2 0h2m1 0h2m1 0h5m1 0h1m1 0h3m1 0h1m2 0h3m62 0h1m47 0h1m3 0h1m3 0h5m2 0h1m2 0h4m3 0h3m1 0h270m1 0h2M348 723.5h9m2 0h2m1 0h1m3 0h3m2 0h2m1 0h2m6 0h2m1 0h3m3 0h2m1 0h7m82 0h1m30 0h1m2 0h1m3 0h2m2 0h1m2 0h2m3 0h3m1 0h4m2 0h256m1 0h16M347 724.5h4m1 0h3m1 0h3m1 0h1m1 0h4m3 0h1m3 0h2m4 0h1m1 0h3m1 0h1m1 0h1m1 0h2m1 0h4m1 0h5m70 0h1m40 0h1m3 0h1m7 0h1m2 0h2m1 0h1m2 0h3m2 0h9m1 0h242m1 0h7m1 0h1m1 0h3m1 0h9M348 725.5h2m1 0h5m2 0h4m3 0h1m3 0h3m4 0h2m1 0h1m1 0h1m2 0h1m1 0h3m1 0h3m1 0h1m1 0h2m1 0h4m45 0h1m34 0h1m26 0h1m6 0h1m5 0h1m1 0h1m1 0h1m3 0h1m1 0h4m1 0h1m1 0h266m2 0h5m1 0h2M349 726.5h5m1 0h8m1 0h4m1 0h2m2 0h3m3 0h6m2 0h6m1 0h2m1 0h6m56 0h1m9 0h1m19 0h1m26 0h1m1 0h1m1 0h1m1 0h1m1 0h2m2 0h1m1 0h1m1 0h5m1 0h1m2 0h256m1 0h13m1 0h4M347 727.5h6m3 0h8m1 0h1m1 0h3m3 0h3m3 0h1m2 0h1m1 0h1m1 0h2m2 0h5m1 0h3m1 0h1m2 0h2m74 0h1m7 0h1m4 0h1m25 0h1m2 0h2m2 0h4m1 0h2m2 0h2m1 0h1m1 0h2m2 0h246m1 0h26" stroke="#006400" stroke-width="1" fill="none" shape-rendering="crispEdges" filter="url(#sb)"/>
<line x1="158.5" y1="387.2" x2="158.5" y2="728.5" stroke="#7c7c7c" stroke-opacity="0.85" stroke-width="1"/>
<text class="rs" transform="translate(151.2,420.4) rotate(-90) scale(1,1.1)" textLength="22.6" lengthAdjust="spacing">1:1</text>
<line x1="272.0" y1="387.2" x2="272.0" y2="728.5" stroke="#7c7c7c" stroke-opacity="0.85" stroke-width="1"/>
<text class="rs" transform="translate(264.7,420.4) rotate(-90) scale(1,1.1)" textLength="22.6" lengthAdjust="spacing">3:2</text>
<line x1="373.5" y1="387.2" x2="373.5" y2="728.5" stroke="#7c7c7c" stroke-opacity="0.85" stroke-width="1"/>
<text class="rs" transform="translate(366.2,420.4) rotate(-90) scale(1,1.1)" textLength="22.6" lengthAdjust="spacing">2:1</text>
<line x1="465.7" y1="387.2" x2="465.7" y2="728.5" stroke="#808080" stroke-opacity="0.5" stroke-width="1.8"/>
<text class="rs" transform="translate(458.4,420.4) rotate(-90) scale(1,1.1)" textLength="22.6" lengthAdjust="spacing">5:2</text>
<line x1="552.0" y1="387.2" x2="552.0" y2="728.5" stroke="#808080" stroke-opacity="0.5" stroke-width="1.8"/>
<text class="rs" transform="translate(544.7,420.4) rotate(-90) scale(1,1.1)" textLength="22.6" lengthAdjust="spacing">3:1</text>
<line x1="713.0" y1="387.2" x2="713.0" y2="728.5" stroke="#808080" stroke-opacity="0.5" stroke-width="1.8"/>
<text class="rs" transform="translate(705.7,420.4) rotate(-90) scale(1,1.1)" textLength="22.6" lengthAdjust="spacing">4:1</text>
<line x1="348.0" y1="387.2" x2="348.0" y2="728.5" stroke="#ff2a2a" stroke-width="1.2" stroke-dasharray="7.4 4.9"/>
<text class="an" fill="#ff2a2a" stroke="#ff2a2a" transform="translate(362.5,574) rotate(-90) scale(1,1.12)" textLength="124" lengthAdjust="spacingAndGlyphs">Mustill &amp; Wyatt (2012)</text>
<line x1="438.4" y1="387.2" x2="438.4" y2="728.5" stroke="#bb55ff" stroke-width="1.2" stroke-dasharray="7.4 4.9"/>
<text class="an" fill="#bb55ff" stroke="#bb55ff" transform="translate(455.3,574) rotate(-90) scale(1,1.12)" textLength="130" lengthAdjust="spacingAndGlyphs">Fit to thermal emission</text>
<line x1="476.3" y1="387.2" x2="476.3" y2="728.5" stroke="#2222ff" stroke-width="1.2" stroke-dasharray="7.4 4.9"/>
<text class="an" fill="#2222ff" stroke="#2222ff" transform="translate(490.2,574) rotate(-90) scale(1,1.12)" textLength="124" lengthAdjust="spacingAndGlyphs">Pearce &amp; Wyatt (2014)</text>
<rect class="ax" x="67.5" y="387.2" width="748.5" height="341.3"/>
<text class="tk" x="59" y="728.3" text-anchor="end">0.0</text>
<text class="tk" x="59" y="666.6" text-anchor="end">0.2</text>
<text class="tk" x="59" y="598.4" text-anchor="end">0.4</text>
<text class="tk" x="59" y="530.1" text-anchor="end">0.6</text>
<text class="tk" x="59" y="461.9" text-anchor="end">0.8</text>
<text class="tk" x="59" y="399.2" text-anchor="end">1.0</text>
<text class="tk" x="201.7" y="754.7" text-anchor="middle">40</text>
<text class="tk" x="406.3" y="754.7" text-anchor="middle">60</text>
<text class="tk" x="610.9" y="754.7" text-anchor="middle">80</text>
<text class="tk" x="815.5" y="754.7" text-anchor="middle">100</text>
<text class="tk" style="font-size:19.2px" transform="translate(18,612.3) rotate(-90) scale(1,1.08)" textLength="99.5" lengthAdjust="spacingAndGlyphs">eccentricity</text>
<circle cx="158.5" cy="592.0" r="6.3" fill="#ff2e72"/>
</g>
<g id="panel3">
<path class="ax" d="M67.5 1093.43h7.7M816.0 1093.43h-7.7M67.5 1076.37h7.7M816.0 1076.37h-7.7M67.5 1059.31h7.7M816.0 1059.31h-7.7M67.5 1042.24h15M816.0 1042.24h-15M67.5 1025.17h7.7M816.0 1025.17h-7.7M67.5 1008.11h7.7M816.0 1008.11h-7.7M67.5 991.04h7.7M816.0 991.04h-7.7M67.5 973.98h15M816.0 973.98h-15M67.5 956.91h7.7M816.0 956.91h-7.7M67.5 939.85h7.7M816.0 939.85h-7.7M67.5 922.78h7.7M816.0 922.78h-7.7M67.5 905.72h15M816.0 905.72h-15M67.5 888.65h7.7M816.0 888.65h-7.7M67.5 871.59h7.7M816.0 871.59h-7.7M67.5 854.52h7.7M816.0 854.52h-7.7M67.5 837.46h15M816.0 837.46h-15M67.5 820.39h7.7M816.0 820.39h-7.7M67.5 803.33h7.7M816.0 803.33h-7.7M67.5 786.26h7.7M816.0 786.26h-7.7M105.75 769.2v3.2M105.75 1110.5v-3.2M153.10 769.2v3.2M153.10 1110.5v-3.2M200.45 769.2v3.2M200.45 1110.5v-3.2M247.80 769.2v7M247.80 1110.5v-7M295.15 769.2v3.2M295.15 1110.5v-3.2M342.50 769.2v3.2M342.50 1110.5v-3.2M389.85 769.2v3.2M389.85 1110.5v-3.2M437.20 769.2v7M437.20 1110.5v-7M484.55 769.2v3.2M484.55 1110.5v-3.2M531.90 769.2v3.2M531.90 1110.5v-3.2M579.25 769.2v3.2M579.25 1110.5v-3.2M626.60 769.2v7M626.60 1110.5v-7M673.95 769.2v3.2M673.95 1110.5v-3.2M721.30 769.2v3.2M721.30 1110.5v-3.2M768.65 769.2v3.2M768.65 1110.5v-3.2"/>
<path d="M602 821.5h1M682 843.5h1M648 846.5h1M775 847.5h1M695 848.5h1M764 856.5h1M798 857.5h1M650 858.5h1M540 863.5h1m110 0h1M598 868.5h1M626 870.5h1M456 871.5h1m257 0h1M556 872.5h1m121 0h1M505 874.5h1m221 0h1M701 875.5h1M406 876.5h1m3 0h1m301 0h1M696 877.5h1m29 0h1M543 878.5h1M686 879.5h1M619 880.5h1M679 881.5h1m65 0h1m29 0h1M713 882.5h1M657 883.5h1M676 884.5h1m45 0h1m10 0h1M805 885.5h1M771 887.5h1M589 888.5h1m52 0h1M578 889.5h1m43 0h1m71 0h1m12 0h1m50 0h1m54 0h1M719 890.5h1M702 891.5h1M621 892.5h1m29 0h1m127 0h1M372 893.5h1m393 0h1M777 894.5h1M601 895.5h1m14 0h1m30 0h1M448 896.5h1m312 0h1M580 897.5h1M718 898.5h1M367 899.5h1m257 0h1m22 0h1m60 0h1M587 900.5h1m14 0h1M524 901.5h1m105 0h1m13 0h1m70 0h1m21 0h1M679 902.5h1m34 0h1m32 0h1M334 903.5h1m48 0h1m270 0h1m103 0h1M718 904.5h1M604 905.5h1m57 0h1m19 0h1m65 0h1m6 0h1M537 906.5h1m118 0h1m6 0h1M534 907.5h1m78 0h1M525 908.5h1m10 0h1M510 909.5h1m131 0h1m21 0h1m107 0h1m24 0h1M526 910.5h1m204 0h1M652 911.5h1m13 0h1m22 0h1m92 0h1m23 0h1m2 0h1M687 912.5h1m22 0h1m45 0h1m1 0h1m6 0h1M672 913.5h1m26 0h1m41 0h1M552 914.5h1m128 0h1m86 0h1m7 0h1M613 915.5h1m41 0h1m38 0h1m1 0h1m22 0h1M585 916.5h1m92 0h1m84 0h1M511 917.5h1m50 0h1m27 0h1m98 0h1m119 0h1M398 918.5h1m259 0h1m12 0h1m21 0h1M576 919.5h1m65 0h1m34 0h1m11 0h1m22 0h1m47 0h1M653 920.5h1m64 0h1m31 0h1m9 0h1m32 0h1M532 921.5h1m77 0h1m29 0h1m48 0h1m69 0h1m5 0h1M652 922.5h1m59 0h1m2 0h1m12 0h1m38 0h1M809 923.5h1M538 924.5h1m68 0h1m58 0h1m93 0h1m9 0h1m18 0h1m22 0h1M563 925.5h1m5 0h1m32 0h1m24 0h1m18 0h1m10 0h1M634 926.5h1m9 0h1m37 0h1m44 0h1M545 927.5h1m59 0h1m24 0h1m5 0h1m38 0h2m42 0h1m38 0h1m49 0h1M523 928.5h1m47 0h1m89 0h1m8 0h1m40 0h1m1 0h1m93 0h1M489 929.5h1m3 0h1m5 0h1m26 0h1m146 0h1m9 0h1m8 0h1m79 0h1M461 930.5h1m13 0h1m4 0h1m168 0h1m13 0h1m79 0h1m17 0h1m4 0h1m46 0h1M416 931.5h1m85 0h1m123 0h1m51 0h1m1 0h1m2 0h1m94 0h1M350 932.5h1m232 0h1m49 0h1m28 0h1m106 0h1m31 0h1m11 0h1M609 933.5h1m32 0h1m31 0h1m25 0h1m53 0h1m16 0h1m4 0h1m17 0h1M444 934.5h1m163 0h1m27 0h1m38 0h1m11 0h2m12 0h1m11 0h1m69 0h1m21 0h1M337 935.5h1m71 0h1m39 0h1m17 0h1m116 0h1m48 0h1m90 0h1m39 0h1m17 0h1m20 0h1M460 936.5h1m14 0h1m190 0h1m19 0h1m4 0h1m11 0h1m16 0h1m35 0h1M531 937.5h1m53 0h1m30 0h1m76 0h1m9 0h1m49 0h1m1 0h1M451 938.5h1m4 0h1m27 0h1m38 0h1m87 0h1m12 0h1m9 0h1m62 0h1m18 0h1m2 0h1m38 0h2m4 0h1m1 0h1m20 0h1m2 0h1m16 0h1M452 939.5h1m41 0h1m9 0h1m4 0h1m4 0h1m41 0h1m32 0h1m55 0h1m24 0h1m9 0h1m34 0h1m11 0h1m2 0h1m45 0h1m29 0h1M457 940.5h1m9 0h1m167 0h1m31 0h1m15 0h1m14 0h2m1 0h1m52 0h2m24 0h1M414 941.5h1m46 0h1m13 0h1m36 0h1m19 0h1m14 0h1m86 0h1m8 0h1m26 0h1m23 0h1m4 0h1m52 0h1m18 0h1m13 0h1M459 942.5h1m105 0h1m21 0h1m20 0h2m5 0h1m12 0h1m4 0h1m3 0h1m1 0h1m4 0h1m37 0h2m19 0h1m1 0h1m8 0h1m23 0h1m19 0h1m9 0h1m5 0h1m30 0h1m8 0h1M477 943.5h1m1 0h1m6 0h1m1 0h1m40 0h1m10 0h1m25 0h1m52 0h1m67 0h1m9 0h1m5 0h1m20 0h1m15 0h1m10 0h1m4 0h1m12 0h1m40 0h1M490 944.5h1m11 0h1m51 0h1m13 0h1m61 0h1m16 0h1m9 0h1m1 0h1m22 0h1m3 0h1m16 0h1m85 0h1M451 945.5h1m35 0h1m37 0h1m38 0h1m20 0h1m61 0h1m29 0h1m9 0h1m2 0h1m2 0h1m5 0h1m21 0h1m8 0h1m14 0h1m16 0h1m4 0h1M372 946.5h1m83 0h1m1 0h1m8 0h1m11 0h1m9 0h1m4 0h1m55 0h1m8 0h1m40 0h1m4 0h1m6 0h1m16 0h1m1 0h1m35 0h1m12 0h1m7 0h1m11 0h1m5 0h2m4 0h1m8 0h1m46 0h1M464 947.5h1m26 0h1m22 0h1m23 0h1m17 0h1m5 0h1m57 0h1m32 0h1m11 0h1m2 0h1m70 0h2m33 0h1m17 0h1M453 948.5h1m5 0h1m35 0h1m16 0h1m3 0h1m87 0h1m32 0h1m2 0h1m9 0h1m3 0h1m14 0h1m3 0h1m7 0h2m6 0h1m1 0h1m6 0h1m25 0h1m7 0h1m20 0h1m37 0h1m14 0h1M406 949.5h1m57 0h1m19 0h1m116 0h1m34 0h1m14 0h1m3 0h1m6 0h1m15 0h1m2 0h1m2 0h2m2 0h1m2 0h1m9 0h1m2 0h1m11 0h1m5 0h1m24 0h1m5 0h1m15 0h1m2 0h1m15 0h1m2 0h1m12 0h1M417 950.5h1m3 0h1m49 0h1m16 0h2m51 0h1m34 0h1m10 0h1m2 0h2m70 0h2m2 0h1m1 0h2m4 0h1m2 0h3m2 0h1m4 0h4m3 0h6m1 0h1m1 0h1m1 0h1m4 0h1m7 0h1m22 0h1m13 0h1m29 0h1m10 0h1M402 951.5h1m21 0h1m9 0h3m8 0h2m23 0h1m14 0h1m135 0h1m11 0h1m2 0h1m10 0h1m16 0h1m2 0h5m2 0h1m1 0h2m2 0h3m1 0h4m4 0h3m5 0h1m2 0h2m6 0h1m51 0h1m19 0h1m4 0h1M406 952.5h1m12 0h1m18 0h1m2 0h1m3 0h1m30 0h1m8 0h1m4 0h1m85 0h1m3 0h1m5 0h1m16 0h1m2 0h1m40 0h1m9 0h1m5 0h1m1 0h1m1 0h2m3 0h1m1 0h2m1 0h5m1 0h6m2 0h3m1 0h2m1 0h2m4 0h1m3 0h1m1 0h1m1 0h1m4 0h1m7 0h1m1 0h1m13 0h1m7 0h1m13 0h1m7 0h1m1 0h1m24 0h1m5 0h1M400 953.5h1m1 0h1m6 0h1m6 0h1m1 0h1m2 0h2m1 0h1m1 0h1m7 0h1m1 0h2m12 0h1m24 0h1m27 0h1m43 0h1m36 0h1m9 0h1m14 0h1m22 0h1m17 0h1m2 0h1m1 0h1m4 0h2m2 0h2m1 0h1m5 0h2m1 0h1m6 0h2m1 0h1m1 0h8m1 0h2m1 0h5m2 0h1m1 0h2m50 0h1m9 0h1m9 0h1m8 0h1m18 0h1m4 0h1M399 954.5h1m15 0h1m20 0h1m1 0h1m1 0h1m5 0h1m22 0h1m10 0h1m37 0h1m49 0h1m14 0h1m5 0h2m10 0h1m3 0h1m16 0h1m16 0h1m3 0h1m9 0h1m2 0h1m1 0h1m4 0h1m1 0h3m1 0h4m2 0h4m2 0h5m1 0h2m1 0h8m1 0h4m2 0h1m2 0h1m1 0h2m8 0h1m22 0h1m3 0h1m34 0h1m6 0h1m14 0h2M409 955.5h2m1 0h1m1 0h2m1 0h1m1 0h1m2 0h1m8 0h1m2 0h1m6 0h1m10 0h1m2 0h1m15 0h1m11 0h1m18 0h1m59 0h1m23 0h1m2 0h1m15 0h1m3 0h1m3 0h2m6 0h1m5 0h1m2 0h1m4 0h1m1 0h1m3 0h1m14 0h1m2 0h2m2 0h1m1 0h8m1 0h8m1 0h20m1 0h1m2 0h2m11 0h1m14 0h1m5 0h1m2 0h1m11 0h2m3 0h1m2 0h1m3 0h1m1 0h1m4 0h1m4 0h1m6 0h1m3 0h1m5 0h1m5 0h1m2 0h1M404 956.5h2m2 0h1m2 0h1m6 0h1m3 0h1m1 0h1m6 0h1m1 0h1m2 0h2m2 0h1m25 0h1m27 0h1m2 0h1m7 0h1m45 0h1m29 0h1m16 0h2m5 0h1m7 0h1m3 0h2m6 0h1m3 0h1m5 0h1m5 0h1m6 0h1m5 0h1m1 0h3m2 0h2m1 0h4m2 0h1m1 0h30m1 0h4m1 0h1m2 0h3m10 0h1m23 0h1m4 0h1m4 0h1m2 0h1m3 0h1m1 0h3m1 0h1m1 0h1m5 0h2m1 0h2m3 0h2m3 0h1m12 0h2M399 957.5h1m8 0h1m2 0h1m2 0h1m2 0h2m4 0h1m1 0h2m1 0h1m1 0h1m1 0h1m4 0h1m2 0h1m1 0h1m3 0h1m5 0h1m82 0h1m32 0h1m28 0h1m2 0h1m3 0h1m1 0h2m6 0h1m9 0h1m4 0h2m18 0h1m1 0h3m1 0h2m2 0h8m1 0h1m1 0h14m1 0h9m1 0h10m2 0h4m5 0h1m1 0h2m7 0h2m18 0h1m5 0h1m9 0h2m1 0h1m1 0h4m1 0h3m1 0h1m2 0h3m4 0h1m1 0h3m1 0h1m3 0h2m1 0h1m10 0h1M401 958.5h1m4 0h1m2 0h1m1 0h1m1 0h3m1 0h1m4 0h3m1 0h1m3 0h1m1 0h1m2 0h1m3 0h2m6 0h1m7 0h1m5 0h1m2 0h1m2 0h1m37 0h1m29 0h1m3 0h1m26 0h1m4 0h1m9 0h1m7 0h1m6 0h1m23 0h2m4 0h1m2 0h1m13 0h1m1 0h1m1 0h1m2 0h1m3 0h33m1 0h5m1 0h2m1 0h18m1 0h2m7 0h1m1 0h1m17 0h1m1 0h1m4 0h8m1 0h2m2 0h3m1 0h3m3 0h2m2 0h1m2 0h2m4 0h1m2 0h1m1 0h1m4 0h1m5 0h2M414 959.5h1m2 0h1m2 0h1m1 0h1m1 0h1m1 0h1m1 0h1m13 0h3m32 0h1m19 0h1m14 0h1m30 0h1m25 0h1m12 0h1m8 0h1m25 0h2m4 0h1m6 0h1m2 0h1m3 0h1m2 0h1m8 0h1m2 0h2m2 0h1m1 0h1m1 0h6m1 0h1m2 0h19m1 0h21m1 0h4m9 0h1m18 0h1m1 0h1m3 0h1m2 0h1m1 0h1m2 0h4m3 0h2m3 0h1m2 0h3m3 0h2m1 0h3m2 0h2m2 0h4m7 0h1m1 0h1m5 0h1m2 0h1M407 960.5h1m2 0h1m3 0h2m1 0h1m2 0h1m5 0h1m3 0h1m1 0h1m2 0h2m1 0h2m12 0h1m1 0h1m5 0h1m4 0h1m19 0h1m8 0h1m3 0h1m50 0h1m28 0h1m5 0h1m10 0h1m5 0h1m9 0h1m3 0h1m4 0h1m1 0h1m2 0h1m18 0h2m2 0h1m1 0h1m3 0h4m1 0h1m1 0h1m1 0h1m1 0h29m1 0h13m1 0h6m1 0h1m2 0h1m1 0h2m6 0h1m1 0h2m6 0h1m1 0h1m2 0h4m3 0h2m1 0h1m1 0h1m1 0h2m1 0h1m1 0h1m1 0h4m1 0h7m1 0h4m1 0h6m1 0h1m1 0h2m1 0h1m1 0h1m1 0h4m1 0h4m4 0h1M400 961.5h1m3 0h1m5 0h2m1 0h2m2 0h1m3 0h2m7 0h1m4 0h7m29 0h1m7 0h1m1 0h1m12 0h1m3 0h1m2 0h1m7 0h2m36 0h1m31 0h2m18 0h1m2 0h1m13 0h1m10 0h1m5 0h2m4 0h1m6 0h1m1 0h1m1 0h1m1 0h3m1 0h3m1 0h9m1 0h4m1 0h25m1 0h5m1 0h12m1 0h1m1 0h3m2 0h1m2 0h3m4 0h1m2 0h2m1 0h1m2 0h3m3 0h4m1 0h1m1 0h2m2 0h1m1 0h10m1 0h2m1 0h1m1 0h3m1 0h3m1 0h4m4 0h2m1 0h1m1 0h1m1 0h1m2 0h1m4 0h1M401 962.5h1m3 0h1m2 0h3m1 0h1m1 0h1m2 0h1m2 0h2m1 0h1m4 0h1m7 0h1m70 0h1m6 0h1m37 0h1m3 0h1m14 0h1m25 0h1m9 0h4m11 0h1m4 0h1m9 0h1m3 0h1m1 0h2m1 0h4m1 0h1m1 0h9m1 0h6m1 0h31m1 0h15m2 0h2m1 0h1m1 0h3m9 0h1m2 0h2m1 0h1m1 0h3m2 0h2m1 0h4m1 0h2m2 0h14m3 0h11m1 0h2m1 0h4m3 0h1m2 0h4m1 0h1m1 0h1m1 0h1M401 963.5h1m2 0h1m4 0h1m3 0h1m1 0h1m2 0h1m13 0h1m4 0h2m2 0h2m2 0h1m21 0h1m18 0h1m3 0h1m9 0h1m24 0h1m19 0h1m5 0h1m2 0h1m3 0h1m14 0h2m7 0h1m15 0h1m3 0h1m3 0h1m2 0h1m3 0h1m4 0h1m8 0h3m5 0h1m1 0h1m1 0h1m2 0h1m2 0h1m1 0h1m2 0h22m1 0h13m1 0h2m1 0h29m2 0h2m4 0h1m3 0h1m2 0h1m1 0h1m1 0h1m3 0h1m1 0h1m2 0h1m1 0h2m1 0h21m1 0h6m1 0h8m1 0h4m1 0h6m1 0h1m2 0h5m1 0h2m1 0h1M404 964.5h2m5 0h1m1 0h1m2 0h1m3 0h1m1 0h2m3 0h1m3 0h1m1 0h1m1 0h2m1 0h1m3 0h1m2 0h2m8 0h1m2 0h3m7 0h1m38 0h1m11 0h1m1 0h1m4 0h1m2 0h1m4 0h1m3 0h1m1 0h1m6 0h1m4 0h1m5 0h1m4 0h1m6 0h3m7 0h1m14 0h1m8 0h1m8 0h2m2 0h2m4 0h2m3 0h1m2 0h1m9 0h1m4 0h1m1 0h1m2 0h3m1 0h8m1 0h13m1 0h1m1 0h5m1 0h36m1 0h2m2 0h4m2 0h2m2 0h2m1 0h4m1 0h19m1 0h10m1 0h25m1 0h4m1 0h1m1 0h3m1 0h1M398 965.5h1m5 0h1m6 0h1m3 0h1m1 0h1m5 0h1m4 0h1m1 0h1m4 0h2m27 0h2m8 0h1m2 0h1m1 0h1m21 0h1m23 0h1m3 0h2m1 0h2m2 0h1m2 0h1m10 0h1m1 0h1m2 0h2m6 0h1m2 0h1m5 0h1m12 0h1m1 0h2m5 0h3m5 0h1m3 0h2m11 0h1m1 0h1m2 0h2m3 0h1m1 0h1m6 0h1m6 0h1m2 0h2m1 0h9m1 0h14m1 0h1m1 0h11m1 0h22m2 0h6m1 0h2m2 0h4m2 0h2m1 0h1m3 0h50m1 0h5m2 0h7m2 0h3m1 0h2m3 0h2M398 966.5h1m4 0h1m7 0h4m1 0h2m2 0h1m1 0h1m5 0h1m1 0h1m2 0h1m1 0h1m4 0h1m12 0h3m12 0h1m10 0h1m1 0h1m7 0h1m6 0h1m24 0h1m4 0h1m5 0h1m10 0h2m1 0h1m2 0h1m6 0h2m21 0h1m8 0h1m2 0h2m7 0h1m10 0h1m1 0h1m13 0h1m1 0h1m4 0h1m12 0h3m1 0h1m1 0h1m1 0h10m1 0h3m1 0h1m2 0h11m1 0h3m1 0h9m1 0h5m1 0h10m1 0h11m1 0h1m2 0h1m1 0h1m1 0h22m1 0h12m1 0h11m2 0h31M412 967.5h1m1 0h1m2 0h1m2 0h1m5 0h1m1 0h2m1 0h4m9 0h1m39 0h1m36 0h2m2 0h2m1 0h2m7 0h1m5 0h1m1 0h1m4 0h1m4 0h3m2 0h1m9 0h1m9 0h1m14 0h1m1 0h1m3 0h1m1 0h1m1 0h1m2 0h1m2 0h1m1 0h1m1 0h1m7 0h3m2 0h1m3 0h1m2 0h1m1 0h1m5 0h4m2 0h6m1 0h14m2 0h7m1 0h8m1 0h30m1 0h6m1 0h4m2 0h23m1 0h19m2 0h11m1 0h12m1 0h6m1 0h6M402 968.5h1m6 0h1m1 0h1m1 0h1m3 0h1m6 0h2m9 0h1m2 0h1m3 0h1m17 0h1m5 0h1m36 0h1m16 0h1m5 0h2m1 0h2m2 0h1m3 0h2m1 0h1m1 0h1m3 0h1m1 0h1m3 0h1m1 0h4m3 0h1m6 0h1m9 0h1m5 0h2m11 0h2m10 0h1m3 0h2m4 0h2m1 0h1m12 0h2m1 0h2m2 0h1m1 0h1m4 0h3m1 0h20m1 0h2m1 0h4m1 0h24m1 0h30m1 0h5m1 0h3m1 0h1m1 0h1m1 0h12m1 0h1m1 0h28m1 0h2m1 0h4m1 0h9m1 0h2M403 969.5h2m6 0h1m1 0h2m1 0h1m1 0h3m3 0h1m2 0h1m6 0h1m3 0h2m2 0h3m35 0h1m36 0h1m4 0h2m1 0h2m1 0h3m1 0h1m1 0h2m3 0h1m1 0h2m1 0h2m2 0h2m2 0h1m2 0h1m7 0h1m3 0h1m29 0h1m3 0h2m4 0h2m1 0h1m6 0h1m3 0h1m4 0h1m7 0h2m6 0h3m2 0h1m1 0h2m1 0h25m1 0h4m1 0h2m1 0h6m1 0h5m1 0h27m1 0h13m1 0h7m1 0h3m1 0h5m1 0h13m1 0h6m1 0h36M381 970.5h1m19 0h2m3 0h1m3 0h4m5 0h2m2 0h2m2 0h2m1 0h3m2 0h2m1 0h1m1 0h1m2 0h1m27 0h1m33 0h1m14 0h2m2 0h1m1 0h3m3 0h2m1 0h5m1 0h1m1 0h1m1 0h5m1 0h2m1 0h2m1 0h1m2 0h1m3 0h1m22 0h1m8 0h1m2 0h2m8 0h2m7 0h1m3 0h1m11 0h1m6 0h1m2 0h1m2 0h2m1 0h10m2 0h18m1 0h28m1 0h2m1 0h16m1 0h6m1 0h4m1 0h9m1 0h17m1 0h5m1 0h12m1 0h6m1 0h7m1 0h2m2 0h3m1 0h4M417 971.5h2m2 0h3m2 0h1m1 0h1m1 0h1m2 0h1m3 0h1m3 0h2m1 0h1m1 0h1m13 0h1m9 0h1m5 0h1m16 0h1m1 0h1m21 0h1m1 0h1m1 0h4m1 0h2m1 0h1m1 0h2m2 0h12m1 0h4m3 0h2m1 0h1m3 0h1m1 0h1m2 0h1m3 0h1m2 0h1m12 0h1m3 0h1m8 0h2m3 0h1m6 0h1m2 0h1m1 0h1m4 0h1m3 0h1m4 0h1m6 0h8m2 0h2m2 0h33m1 0h3m1 0h4m1 0h6m1 0h20m1 0h37m1 0h20m1 0h7m1 0h6m1 0h3m1 0h15M401 972.5h1m1 0h1m6 0h2m2 0h1m1 0h1m1 0h2m2 0h2m1 0h2m5 0h1m1 0h1m7 0h1m1 0h1m54 0h1m14 0h1m3 0h2m1 0h1m1 0h3m1 0h1m1 0h2m1 0h2m1 0h1m1 0h2m1 0h12m1 0h2m1 0h6m1 0h1m23 0h1m1 0h1m11 0h1m4 0h1m11 0h1m2 0h1m3 0h2m4 0h1m3 0h1m2 0h1m4 0h1m3 0h1m1 0h5m2 0h2m1 0h1m1 0h8m1 0h1m1 0h7m1 0h4m1 0h4m1 0h12m1 0h9m1 0h12m1 0h9m1 0h12m1 0h26m2 0h2m1 0h18m1 0h1m1 0h2m1 0h3m1 0h2m1 0h5M402 973.5h2m1 0h1m6 0h1m11 0h2m3 0h1m1 0h1m1 0h1m2 0h1m6 0h1m4 0h1m67 0h1m6 0h11m1 0h4m1 0h5m1 0h15m2 0h1m1 0h1m21 0h1m4 0h1m6 0h4m6 0h2m2 0h3m1 0h1m11 0h1m1 0h2m2 0h1m5 0h2m4 0h2m1 0h13m1 0h14m1 0h15m1 0h2m1 0h3m1 0h14m1 0h7m1 0h1m2 0h31m2 0h4m1 0h5m1 0h11m3 0h1m1 0h8m1 0h17m1 0h1M407 974.5h1m1 0h3m2 0h1m1 0h1m2 0h1m4 0h2m7 0h1m24 0h1m34 0h1m1 0h1m21 0h2m1 0h6m1 0h2m1 0h6m1 0h11m1 0h7m1 0h5m1 0h2m2 0h1m2 0h1m7 0h1m1 0h1m5 0h2m3 0h1m6 0h1m3 0h1m5 0h3m1 0h2m2 0h2m8 0h1m7 0h1m5 0h2m1 0h1m2 0h2m1 0h1m2 0h10m1 0h13m1 0h6m1 0h4m1 0h18m1 0h6m1 0h18m1 0h6m2 0h17m1 0h3m2 0h14m1 0h5m1 0h12m2 0h2m1 0h11m1 0h1M408 975.5h2m3 0h1m1 0h1m7 0h1m2 0h1m12 0h2m16 0h2m53 0h1m5 0h1m1 0h11m1 0h10m1 0h21m1 0h2m15 0h1m10 0h2m14 0h1m1 0h3m2 0h1m5 0h1m4 0h1m8 0h1m6 0h1m1 0h13m1 0h10m1 0h8m1 0h1m1 0h5m1 0h5m1 0h11m2 0h5m1 0h15m1 0h7m1 0h3m1 0h12m1 0h15m1 0h1m1 0h2m1 0h8m1 0h7m2 0h3m1 0h1m1 0h4m1 0h4m1 0h7M401 976.5h2m4 0h1m5 0h2m2 0h3m1 0h3m1 0h2m3 0h1m1 0h1m2 0h3m72 0h1m3 0h1m2 0h2m1 0h1m1 0h17m1 0h4m1 0h1m1 0h14m1 0h1m1 0h3m12 0h1m11 0h1m25 0h2m2 0h1m2 0h1m4 0h1m5 0h1m2 0h1m2 0h1m2 0h1m1 0h3m1 0h2m1 0h32m1 0h28m2 0h2m1 0h40m1 0h8m1 0h3m1 0h3m1 0h4m1 0h3m1 0h13m1 0h16M398 977.5h1m6 0h1m1 0h2m8 0h1m1 0h1m6 0h1m2 0h1m2 0h3m4 0h3m3 0h2m68 0h1m2 0h4m1 0h4m1 0h22m1 0h10m3 0h2m28 0h1m4 0h1m6 0h1m14 0h1m9 0h1m8 0h4m1 0h1m1 0h29m1 0h7m1 0h5m1 0h1m1 0h8m1 0h17m1 0h4m1 0h3m1 0h13m1 0h11m1 0h16m1 0h9m1 0h10m1 0h15m2 0h2m1 0h3M403 978.5h1m3 0h1m5 0h2m4 0h1m5 0h1m3 0h1m1 0h1m43 0h1m35 0h1m6 0h2m1 0h1m1 0h18m1 0h7m1 0h3m1 0h1m1 0h2m5 0h1m4 0h3m13 0h1m6 0h1m12 0h1m3 0h1m1 0h2m12 0h1m1 0h1m4 0h2m6 0h1m4 0h1m3 0h2m2 0h1m1 0h21m1 0h6m1 0h3m1 0h7m1 0h16m1 0h21m1 0h16m1 0h24m2 0h9m1 0h2m1 0h10m1 0h11m1 0h2M403 979.5h1m4 0h1m5 0h4m5 0h2m3 0h1m2 0h1m1 0h1m26 0h1m2 0h1m6 0h1m2 0h1m4 0h1m2 0h2m12 0h1m22 0h1m2 0h1m1 0h8m1 0h6m1 0h22m8 0h1m5 0h1m2 0h1m16 0h1m1 0h1m6 0h2m2 0h1m5 0h1m3 0h2m2 0h1m7 0h2m2 0h2m2 0h1m4 0h8m1 0h1m1 0h4m1 0h3m1 0h17m1 0h1m1 0h8m1 0h15m1 0h2m1 0h12m1 0h9m1 0h5m1 0h5m1 0h10m1 0h23m1 0h7m1 0h9m1 0h17M398 980.5h1m1 0h1m5 0h1m1 0h1m1 0h1m2 0h1m2 0h1m2 0h2m2 0h1m1 0h1m5 0h1m7 0h1m1 0h1m2 0h1m46 0h1m21 0h1m2 0h1m2 0h2m1 0h16m1 0h22m3 0h1m3 0h1m4 0h1m4 0h1m4 0h1m3 0h1m16 0h1m2 0h1m3 0h1m1 0h3m1 0h1m16 0h1m2 0h1m2 0h2m2 0h1m3 0h1m1 0h30m1 0h4m1 0h24m1 0h1m1 0h4m2 0h1m1 0h4m1 0h15m1 0h8m1 0h4m1 0h5m1 0h4m1 0h7m1 0h1m3 0h4m1 0h30m1 0h1M407 981.5h1m1 0h1m9 0h1m1 0h3m5 0h1m2 0h1m2 0h1m1 0h1m1 0h1m51 0h1m19 0h2m1 0h5m1 0h4m1 0h4m1 0h5m1 0h15m1 0h5m1 0h1m1 0h4m1 0h2m11 0h1m2 0h1m4 0h1m11 0h1m2 0h2m7 0h1m4 0h1m1 0h1m7 0h1m10 0h1m3 0h1m3 0h1m1 0h6m1 0h4m1 0h7m2 0h1m1 0h7m1 0h23m1 0h3m1 0h9m1 0h2m1 0h7m1 0h4m2 0h14m1 0h6m1 0h6m1 0h17m1 0h2m2 0h6m1 0h11m1 0h7m1 0h5M360 982.5h1m39 0h1m4 0h1m2 0h1m6 0h1m1 0h1m1 0h1m7 0h1m1 0h1m2 0h1m1 0h1m6 0h1m10 0h1m60 0h1m2 0h4m1 0h2m1 0h2m1 0h5m1 0h17m1 0h13m4 0h1m4 0h1m1 0h1m6 0h1m8 0h1m8 0h2m4 0h1m2 0h1m2 0h2m1 0h1m1 0h1m1 0h1m1 0h1m2 0h1m17 0h3m3 0h2m1 0h5m1 0h24m1 0h6m1 0h9m1 0h1m2 0h6m1 0h30m1 0h7m1 0h21m1 0h14m1 0h9m1 0h9m2 0h9M406 983.5h1m1 0h1m1 0h1m2 0h1m7 0h1m7 0h1m8 0h1m5 0h1m67 0h2m2 0h2m1 0h14m1 0h19m2 0h9m9 0h1m16 0h1m3 0h1m6 0h1m4 0h1m4 0h1m1 0h2m4 0h1m3 0h1m14 0h4m2 0h1m1 0h3m1 0h7m1 0h6m1 0h4m1 0h18m1 0h9m1 0h6m3 0h1m1 0h9m1 0h5m1 0h3m2 0h1m1 0h8m1 0h17m1 0h14m1 0h9m1 0h1m2 0h1m1 0h15m1 0h9M406 984.5h1m2 0h1m4 0h3m2 0h1m5 0h2m2 0h2m3 0h1m1 0h1m2 0h1m20 0h1m3 0h1m47 0h1m5 0h7m1 0h3m1 0h8m1 0h21m1 0h1m1 0h1m5 0h1m3 0h3m33 0h2m2 0h1m14 0h1m4 0h2m4 0h3m3 0h7m1 0h7m1 0h10m2 0h33m1 0h5m1 0h3m3 0h2m1 0h3m1 0h2m1 0h7m1 0h35m2 0h1m1 0h8m2 0h5m1 0h6m1 0h8m1 0h8M398 985.5h1m10 0h1m3 0h3m2 0h1m2 0h1m3 0h2m7 0h1m1 0h1m7 0h1m69 0h3m1 0h6m1 0h4m1 0h11m2 0h18m1 0h1m2 0h2m1 0h1m1 0h2m5 0h1m17 0h1m13 0h1m5 0h1m5 0h3m16 0h4m3 0h1m1 0h19m1 0h1m1 0h32m1 0h6m2 0h2m1 0h1m1 0h7m1 0h12m2 0h3m1 0h9m1 0h8m1 0h1m1 0h1m2 0h13m1 0h4m1 0h20m1 0h5m1 0h2M409 986.5h1m6 0h1m1 0h1m3 0h1m3 0h1m9 0h1m1 0h1m20 0h1m50 0h1m3 0h4m3 0h10m1 0h5m1 0h18m1 0h6m2 0h2m19 0h1m10 0h1m16 0h1m4 0h2m7 0h1m8 0h1m1 0h1m2 0h1m4 0h6m1 0h20m1 0h7m1 0h2m1 0h2m1 0h6m1 0h7m3 0h6m1 0h2m1 0h3m1 0h10m1 0h3m1 0h1m1 0h6m1 0h13m1 0h5m1 0h1m1 0h5m1 0h16m1 0h3m2 0h5m1 0h13m1 0h2M410 987.5h1m1 0h1m4 0h1m4 0h1m1 0h1m4 0h1m3 0h2m16 0h2m59 0h1m2 0h1m1 0h1m1 0h1m1 0h17m1 0h5m1 0h1m1 0h1m1 0h12m1 0h1m1 0h1m6 0h1m1 0h1m6 0h1m1 0h1m12 0h2m7 0h1m4 0h2m5 0h2m2 0h1m2 0h2m9 0h1m8 0h1m1 0h3m2 0h4m1 0h20m1 0h13m1 0h10m1 0h53m1 0h3m1 0h4m1 0h8m1 0h1m1 0h5m1 0h5m1 0h23m1 0h3m1 0h1M405 988.5h1m3 0h1m5 0h2m3 0h1m11 0h1m19 0h1m18 0h1m37 0h1m6 0h2m1 0h9m1 0h11m1 0h4m1 0h8m1 0h1m1 0h6m5 0h1m1 0h1m2 0h1m4 0h1m6 0h1m3 0h1m13 0h3m2 0h2m1 0h1m4 0h1m9 0h1m17 0h3m2 0h5m1 0h19m1 0h7m1 0h25m1 0h6m1 0h6m1 0h23m1 0h1m1 0h3m1 0h7m1 0h8m1 0h12m1 0h16m2 0h11m1 0h3M413 989.5h1m7 0h2m1 0h1m4 0h2m1 0h1m4 0h1m66 0h1m6 0h3m1 0h1m2 0h16m1 0h9m1 0h4m1 0h5m1 0h6m3 0h1m16 0h1m13 0h2m4 0h3m3 0h1m9 0h1m5 0h1m3 0h2m1 0h1m4 0h1m3 0h1m2 0h2m1 0h2m1 0h4m1 0h1m1 0h1m1 0h11m1 0h5m1 0h13m1 0h13m1 0h9m2 0h41m1 0h3m1 0h4m1 0h2m1 0h11m1 0h4m1 0h8m1 0h9m1 0h10M409 990.5h2m3 0h2m8 0h1m3 0h1m4 0h3m25 0h1m48 0h1m2 0h1m5 0h5m1 0h14m1 0h19m6 0h1m11 0h1m2 0h1m12 0h1m2 0h1m10 0h1m12 0h1m2 0h1m1 0h1m3 0h1m12 0h1m2 0h1m1 0h16m1 0h5m1 0h4m1 0h5m1 0h3m1 0h6m2 0h1m1 0h4m1 0h8m1 0h9m1 0h10m1 0h4m1 0h14m1 0h11m1 0h1m1 0h6m1 0h1m1 0h1m1 0h1m1 0h5m1 0h15m1 0h12m1 0h4M401 991.5h1m2 0h1m1 0h1m2 0h1m3 0h1m1 0h2m17 0h1m1 0h1m3 0h1m15 0h1m36 0h1m3 0h1m15 0h1m2 0h1m1 0h1m1 0h3m1 0h8m1 0h3m1 0h17m1 0h6m1 0h4m5 0h1m14 0h1m3 0h1m1 0h1m21 0h1m2 0h1m5 0h1m5 0h2m1 0h1m6 0h1m1 0h2m1 0h5m1 0h4m1 0h14m1 0h7m1 0h6m2 0h1m1 0h2m1 0h8m1 0h5m1 0h5m1 0h7m1 0h7m1 0h2m1 0h10m1 0h2m2 0h1m1 0h16m1 0h3m2 0h8m2 0h4m1 0h1m1 0h1m1 0h1m1 0h2m1 0h7m1 0h6m1 0h7M401 992.5h1m2 0h1m1 0h1m1 0h1m4 0h2m2 0h2m8 0h1m2 0h1m10 0h1m2 0h1m11 0h1m29 0h1m4 0h1m22 0h1m2 0h26m1 0h4m1 0h8m1 0h2m1 0h1m1 0h1m19 0h1m5 0h1m2 0h1m13 0h1m8 0h1m1 0h1m2 0h1m6 0h1m1 0h1m4 0h3m1 0h1m3 0h1m1 0h4m2 0h1m1 0h3m1 0h3m1 0h7m1 0h4m1 0h8m1 0h16m2 0h4m1 0h2m1 0h2m1 0h8m1 0h5m1 0h3m1 0h3m1 0h9m2 0h3m1 0h7m1 0h4m1 0h4m1 0h6m2 0h15m1 0h7m1 0h7m1 0h6m1 0h2M408 993.5h1m3 0h2m1 0h1m5 0h1m4 0h1m6 0h1m2 0h1m37 0h1m40 0h5m2 0h7m1 0h2m2 0h7m1 0h8m1 0h2m1 0h4m2 0h1m1 0h1m1 0h1m1 0h1m4 0h1m3 0h1m3 0h1m4 0h2m3 0h2m14 0h1m4 0h1m4 0h1m3 0h1m4 0h1m1 0h1m4 0h1m1 0h1m4 0h2m2 0h1m2 0h1m1 0h12m1 0h13m1 0h6m1 0h1m1 0h19m1 0h1m1 0h14m1 0h5m1 0h6m1 0h16m1 0h1m1 0h11m1 0h8m1 0h2m1 0h8m1 0h1m2 0h12m2 0h1m1 0h7m1 0h1m2 0h1M406 994.5h1m2 0h2m2 0h1m1 0h1m1 0h1m1 0h1m11 0h2m3 0h1m53 0h1m2 0h1m15 0h1m2 0h1m5 0h1m1 0h8m1 0h10m1 0h4m2 0h12m4 0h1m2 0h1m2 0h2m7 0h2m9 0h1m8 0h1m5 0h1m4 0h1m6 0h1m15 0h2m6 0h2m1 0h3m1 0h1m1 0h10m2 0h9m1 0h28m3 0h1m1 0h22m1 0h2m1 0h2m1 0h11m1 0h10m1 0h1m1 0h2m2 0h3m1 0h1m1 0h1m1 0h10m1 0h1m2 0h3m2 0h1m3 0h11m1 0h1m1 0h10M403 995.5h1m6 0h1m4 0h1m3 0h1m5 0h1m6 0h1m2 0h1m3 0h1m1 0h1m24 0h1m8 0h1m11 0h1m11 0h1m1 0h1m8 0h1m1 0h2m2 0h3m1 0h3m1 0h3m1 0h3m1 0h8m2 0h12m1 0h3m1 0h5m19 0h1m5 0h1m2 0h2m3 0h1m14 0h1m3 0h1m1 0h1m2 0h1m8 0h1m6 0h2m1 0h2m2 0h4m1 0h2m1 0h2m2 0h2m1 0h1m2 0h1m1 0h6m1 0h8m1 0h15m1 0h2m1 0h7m1 0h10m1 0h18m3 0h26m1 0h4m3 0h1m1 0h8m1 0h10m2 0h6m1 0h3m1 0h9M407 996.5h2m4 0h1m3 0h1m2 0h1m2 0h1m1 0h2m1 0h1m3 0h1m2 0h2m1 0h1m1 0h1m16 0h1m45 0h1m10 0h1m1 0h2m3 0h2m1 0h4m1 0h7m1 0h7m1 0h2m3 0h11m3 0h1m3 0h1m7 0h2m5 0h1m2 0h1m11 0h5m1 0h1m2 0h1m6 0h1m17 0h1m9 0h3m2 0h6m1 0h15m2 0h1m1 0h4m1 0h6m2 0h11m1 0h11m1 0h6m1 0h1m1 0h1m2 0h2m1 0h1m1 0h1m1 0h9m1 0h5m2 0h14m1 0h10m1 0h5m1 0h4m2 0h5m1 0h5m1 0h6m1 0h3m1 0h7m1 0h1M398 997.5h1m5 0h2m7 0h1m4 0h2m7 0h1m1 0h3m14 0h1m51 0h1m11 0h1m3 0h1m1 0h1m1 0h2m1 0h2m1 0h3m2 0h4m1 0h2m2 0h14m1 0h2m1 0h6m1 0h1m1 0h1m2 0h1m2 0h1m30 0h1m2 0h1m3 0h1m1 0h1m5 0h1m3 0h1m7 0h1m6 0h4m2 0h3m1 0h7m1 0h5m1 0h28m1 0h11m1 0h11m1 0h15m1 0h8m1 0h4m2 0h5m1 0h12m1 0h11m1 0h7m1 0h1m2 0h19m1 0h10M402 998.5h1m16 0h2m5 0h1m4 0h1m3 0h1m2 0h1m1 0h1m1 0h1m44 0h1m1 0h1m21 0h1m2 0h2m1 0h2m1 0h4m1 0h5m3 0h3m1 0h1m2 0h1m1 0h1m3 0h3m1 0h3m1 0h3m1 0h2m3 0h2m19 0h1m19 0h1m1 0h1m1 0h1m1 0h2m1 0h1m1 0h2m3 0h2m3 0h1m5 0h1m3 0h1m4 0h1m3 0h1m1 0h1m1 0h1m2 0h15m1 0h3m2 0h1m1 0h1m1 0h6m1 0h4m1 0h4m1 0h5m1 0h7m2 0h1m1 0h16m1 0h18m1 0h2m2 0h1m1 0h16m1 0h4m1 0h11m1 0h13m2 0h2m1 0h2m1 0h4m1 0h4M406 999.5h1m5 0h1m2 0h2m10 0h1m11 0h1m68 0h1m3 0h4m2 0h2m1 0h6m1 0h2m1 0h5m1 0h4m1 0h6m1 0h3m1 0h1m1 0h3m8 0h1m11 0h2m3 0h1m9 0h1m3 0h2m3 0h2m1 0h1m1 0h3m6 0h1m9 0h1m1 0h1m1 0h2m3 0h3m1 0h2m1 0h3m1 0h1m2 0h7m1 0h13m1 0h2m1 0h3m1 0h5m1 0h1m1 0h2m1 0h1m2 0h9m3 0h1m1 0h5m1 0h3m1 0h10m1 0h8m1 0h6m2 0h1m2 0h3m1 0h7m1 0h5m1 0h3m1 0h5m1 0h10m1 0h9m1 0h2m2 0h2m1 0h9m1 0h3M398 1000.5h1m6 0h1m3 0h1m1 0h1m9 0h1m1 0h1m4 0h1m4 0h1m3 0h1m5 0h1m26 0h1m2 0h1m4 0h1m30 0h1m8 0h1m1 0h4m1 0h6m1 0h8m1 0h7m1 0h3m1 0h4m1 0h3m1 0h2m2 0h2m1 0h1m3 0h2m28 0h1m4 0h2m2 0h1m3 0h1m5 0h1m10 0h4m1 0h1m2 0h5m1 0h5m3 0h8m1 0h2m1 0h9m1 0h3m2 0h16m1 0h10m1 0h3m1 0h11m1 0h1m1 0h1m1 0h1m1 0h4m1 0h3m1 0h10m1 0h4m1 0h3m1 0h5m2 0h6m1 0h25m1 0h5m1 0h3m1 0h4M411 1001.5h2m5 0h1m16 0h1m9 0h1m12 0h1m8 0h1m42 0h1m5 0h1m4 0h4m2 0h1m3 0h1m1 0h2m1 0h12m1 0h3m1 0h2m2 0h1m2 0h1m1 0h1m2 0h1m18 0h1m12 0h1m15 0h1m3 0h1m2 0h1m4 0h1m4 0h1m3 0h1m1 0h1m3 0h3m1 0h8m1 0h6m1 0h3m1 0h1m1 0h2m1 0h3m1 0h6m1 0h7m1 0h19m2 0h2m1 0h8m1 0h3m1 0h1m1 0h16m1 0h4m1 0h2m1 0h1m1 0h1m1 0h7m1 0h3m1 0h2m1 0h6m2 0h9m1 0h2m1 0h6m1 0h3m1 0h2m2 0h3m1 0h1m1 0h3M415 1002.5h1m1 0h1m5 0h1m1 0h2m3 0h1m3 0h1m2 0h1m13 0h1m35 0h1m2 0h1m3 0h1m11 0h1m5 0h1m2 0h4m1 0h1m1 0h1m1 0h2m1 0h2m1 0h3m1 0h1m1 0h4m2 0h2m3 0h2m1 0h7m1 0h3m20 0h1m1 0h1m4 0h1m6 0h2m2 0h1m1 0h1m8 0h1m9 0h1m2 0h1m6 0h2m1 0h2m1 0h1m1 0h1m2 0h3m1 0h16m1 0h10m1 0h24m3 0h3m1 0h7m1 0h3m1 0h20m1 0h4m1 0h2m1 0h10m1 0h3m2 0h2m2 0h10m1 0h1m1 0h12m1 0h1m1 0h8m2 0h2m1 0h1m2 0h3m1 0h2M402 1003.5h1m4 0h1m8 0h1m3 0h2m13 0h1m25 0h1m20 0h1m27 0h2m5 0h2m1 0h1m4 0h2m1 0h12m1 0h4m2 0h3m1 0h4m1 0h6m1 0h2m3 0h1m14 0h1m1 0h1m9 0h1m1 0h1m2 0h2m5 0h1m3 0h1m2 0h1m2 0h1m10 0h1m3 0h1m1 0h1m3 0h2m2 0h5m2 0h5m1 0h4m1 0h4m1 0h24m1 0h1m1 0h27m1 0h4m1 0h4m1 0h9m1 0h5m1 0h1m1 0h2m1 0h5m1 0h4m1 0h6m1 0h1m4 0h2m2 0h2m1 0h1m1 0h1m1 0h4m1 0h4m1 0h1m1 0h14m1 0h4M399 1004.5h2m2 0h1m7 0h1m8 0h1m4 0h1m31 0h1m11 0h1m39 0h1m2 0h2m3 0h5m1 0h1m1 0h5m2 0h1m2 0h2m1 0h7m1 0h1m1 0h1m1 0h1m1 0h6m1 0h1m1 0h2m1 0h1m2 0h1m3 0h1m10 0h1m2 0h1m1 0h3m1 0h2m3 0h1m10 0h1m4 0h4m6 0h1m6 0h1m2 0h1m2 0h1m1 0h1m2 0h1m1 0h1m1 0h8m1 0h3m1 0h5m1 0h1m1 0h15m1 0h2m1 0h6m1 0h1m1 0h2m1 0h3m1 0h12m1 0h23m1 0h4m1 0h1m1 0h1m1 0h2m1 0h4m1 0h3m1 0h1m1 0h5m1 0h8m2 0h2m1 0h1m1 0h2m2 0h2m1 0h1m1 0h5m1 0h8m1 0h11M399 1005.5h1m1 0h1m1 0h1m2 0h1m2 0h2m11 0h4m5 0h1m2 0h1m7 0h1m21 0h1m46 0h2m1 0h1m2 0h6m4 0h1m1 0h11m1 0h1m1 0h5m1 0h1m2 0h2m1 0h4m1 0h2m2 0h1m2 0h1m16 0h1m24 0h1m2 0h4m2 0h1m4 0h1m2 0h2m3 0h1m4 0h1m3 0h3m2 0h1m2 0h5m1 0h7m2 0h3m1 0h9m1 0h3m1 0h17m1 0h2m2 0h6m1 0h6m1 0h8m1 0h14m1 0h15m1 0h4m1 0h6m1 0h6m2 0h17m2 0h1m2 0h1m2 0h5m2 0h2m1 0h4M401 1006.5h2m4 0h1m2 0h1m2 0h1m4 0h1m6 0h1m6 0h1m4 0h1m1 0h1m1 0h1m55 0h1m11 0h1m4 0h1m2 0h1m1 0h9m1 0h7m2 0h1m1 0h13m1 0h3m1 0h6m7 0h1m9 0h1m5 0h1m14 0h1m1 0h1m2 0h1m2 0h1m2 0h1m1 0h3m17 0h3m3 0h1m1 0h2m1 0h1m1 0h1m1 0h14m1 0h3m1 0h3m1 0h15m2 0h8m1 0h5m2 0h12m1 0h13m2 0h5m1 0h5m1 0h3m2 0h2m1 0h1m2 0h2m1 0h18m1 0h7m1 0h5m1 0h3m1 0h7m1 0h2m2 0h1m1 0h5M402 1007.5h2m4 0h1m1 0h1m1 0h1m3 0h1m6 0h1m3 0h1m5 0h1m43 0h1m1 0h1m4 0h1m27 0h1m8 0h1m3 0h3m1 0h2m2 0h2m1 0h3m1 0h1m1 0h2m1 0h3m1 0h1m1 0h9m1 0h2m2 0h1m13 0h1m3 0h1m14 0h2m9 0h2m2 0h2m2 0h1m2 0h1m1 0h1m7 0h1m3 0h8m3 0h9m1 0h14m1 0h2m1 0h6m1 0h1m1 0h26m1 0h9m2 0h1m1 0h4m1 0h21m1 0h1m2 0h1m1 0h4m1 0h5m2 0h11m1 0h1m3 0h3m1 0h4m1 0h16m1 0h6m1 0h1M407 1008.5h1m1 0h1m4 0h1m6 0h1m3 0h1m3 0h1m24 0h1m18 0h1m42 0h3m1 0h1m1 0h4m1 0h9m1 0h4m3 0h5m3 0h1m1 0h5m1 0h2m2 0h1m3 0h1m7 0h1m1 0h1m6 0h1m14 0h2m8 0h2m8 0h1m2 0h1m7 0h1m2 0h1m1 0h1m3 0h1m2 0h2m1 0h14m4 0h3m1 0h20m1 0h5m1 0h12m2 0h3m1 0h3m1 0h1m1 0h2m2 0h2m1 0h7m1 0h5m1 0h2m2 0h10m2 0h4m1 0h3m1 0h4m3 0h1m1 0h4m1 0h2m2 0h7m1 0h8m1 0h5m1 0h3m1 0h6M398 1009.5h1m5 0h1m2 0h2m4 0h1m4 0h1m5 0h3m2 0h1m5 0h3m1 0h1m1 0h1m24 0h1m16 0h1m15 0h1m4 0h1m9 0h1m1 0h1m2 0h6m2 0h1m1 0h1m4 0h1m3 0h2m1 0h1m1 0h2m1 0h2m3 0h2m1 0h2m1 0h1m1 0h1m3 0h3m33 0h1m8 0h1m14 0h3m1 0h1m8 0h1m2 0h4m2 0h1m1 0h1m1 0h4m1 0h6m1 0h7m1 0h1m1 0h10m1 0h5m1 0h6m1 0h22m1 0h18m1 0h11m1 0h2m1 0h4m3 0h1m1 0h26m1 0h7m1 0h1m1 0h3m2 0h7m1 0h2m1 0h1M361 1010.5h1m23 0h1m15 0h1m23 0h1m3 0h3m2 0h2m1 0h1m12 0h1m33 0h1m21 0h1m7 0h1m4 0h3m1 0h3m1 0h1m1 0h1m1 0h2m1 0h4m1 0h7m1 0h3m1 0h4m1 0h2m2 0h1m3 0h1m11 0h2m3 0h1m1 0h1m5 0h1m11 0h1m3 0h1m7 0h1m1 0h1m4 0h1m6 0h1m4 0h1m2 0h1m1 0h1m2 0h2m2 0h3m1 0h2m1 0h7m1 0h8m1 0h2m1 0h5m1 0h1m1 0h10m1 0h3m2 0h4m1 0h4m1 0h6m1 0h13m1 0h2m1 0h2m1 0h1m1 0h5m1 0h2m1 0h2m1 0h7m1 0h2m1 0h5m1 0h4m2 0h1m2 0h2m1 0h4m1 0h6m1 0h3m1 0h13m1 0h11M413 1011.5h1m9 0h1m5 0h2m5 0h4m1 0h2m69 0h1m4 0h2m1 0h8m1 0h2m1 0h1m1 0h1m2 0h3m1 0h7m2 0h2m1 0h3m2 0h3m3 0h1m10 0h1m5 0h1m7 0h2m12 0h1m2 0h1m1 0h1m2 0h1m2 0h1m13 0h1m1 0h1m3 0h1m2 0h1m1 0h2m4 0h3m1 0h4m2 0h1m1 0h8m1 0h9m1 0h20m1 0h2m1 0h6m1 0h1m1 0h7m2 0h4m1 0h1m1 0h2m1 0h7m1 0h3m1 0h3m1 0h1m1 0h2m1 0h11m1 0h4m2 0h7m1 0h2m1 0h20m1 0h1m1 0h7m1 0h1m1 0h4M408 1012.5h2m13 0h1m1 0h1m4 0h1m6 0h1m1 0h1m31 0h1m41 0h2m1 0h3m1 0h2m1 0h1m2 0h1m1 0h2m1 0h1m1 0h6m1 0h2m1 0h1m1 0h1m2 0h3m1 0h1m1 0h3m1 0h2m1 0h1m6 0h1m7 0h1m16 0h1m3 0h2m9 0h2m2 0h1m2 0h1m2 0h2m1 0h2m2 0h1m1 0h1m6 0h8m2 0h4m1 0h27m1 0h14m1 0h3m1 0h2m1 0h13m1 0h6m1 0h5m1 0h12m1 0h7m1 0h1m2 0h6m1 0h1m1 0h10m1 0h1m1 0h17m1 0h2m2 0h1m1 0h10m1 0h9M380 1013.5h1m19 0h1m17 0h1m4 0h1m1 0h1m4 0h2m1 0h1m2 0h2m1 0h1m10 0h1m54 0h1m5 0h2m3 0h1m1 0h6m1 0h3m1 0h2m2 0h7m2 0h1m1 0h2m2 0h2m1 0h6m2 0h1m1 0h2m1 0h1m2 0h1m16 0h1m5 0h1m2 0h1m1 0h1m6 0h1m1 0h1m4 0h2m4 0h1m2 0h1m1 0h1m1 0h2m8 0h3m7 0h1m2 0h12m4 0h8m1 0h5m1 0h22m2 0h4m1 0h6m1 0h3m1 0h10m1 0h2m1 0h4m2 0h2m1 0h6m1 0h5m1 0h3m1 0h17m1 0h2m2 0h5m1 0h4m3 0h3m1 0h10m1 0h2m2 0h6M399 1014.5h1m6 0h1m2 0h1m10 0h1m1 0h1m3 0h1m2 0h1m69 0h1m11 0h1m3 0h16m1 0h1m2 0h4m2 0h1m2 0h1m2 0h1m1 0h4m1 0h1m1 0h2m4 0h1m2 0h1m4 0h1m2 0h1m9 0h1m12 0h1m2 0h1m10 0h2m2 0h1m7 0h2m1 0h1m1 0h1m8 0h1m2 0h9m1 0h12m1 0h3m1 0h6m1 0h1m1 0h2m1 0h3m1 0h12m1 0h8m2 0h1m1 0h3m1 0h8m1 0h28m1 0h4m1 0h2m1 0h3m2 0h11m1 0h1m1 0h2m1 0h4m2 0h1m1 0h5m1 0h2m2 0h1m1 0h5m1 0h7m1 0h3M403 1015.5h1m2 0h1m12 0h1m3 0h1m1 0h2m8 0h1m3 0h1m3 0h1m13 0h1m21 0h1m17 0h2m8 0h1m1 0h4m3 0h2m3 0h2m2 0h1m1 0h4m2 0h1m4 0h4m4 0h3m2 0h2m1 0h6m2 0h3m25 0h1m1 0h1m2 0h1m8 0h2m3 0h1m6 0h1m2 0h1m2 0h1m4 0h1m3 0h2m2 0h3m1 0h1m1 0h7m1 0h2m1 0h2m1 0h10m1 0h3m1 0h1m2 0h13m1 0h18m1 0h4m1 0h10m1 0h1m1 0h1m1 0h2m1 0h4m1 0h5m1 0h2m2 0h4m1 0h1m1 0h1m1 0h1m2 0h5m1 0h1m1 0h6m1 0h3m1 0h8m3 0h3m2 0h9m1 0h3m1 0h3m1 0h3m1 0h3M410 1016.5h2m2 0h1m1 0h1m4 0h1m3 0h1m8 0h1m1 0h1m7 0h1m65 0h2m2 0h4m1 0h3m1 0h3m1 0h5m2 0h7m1 0h4m1 0h1m1 0h5m1 0h3m4 0h1m2 0h1m17 0h2m8 0h1m2 0h2m7 0h1m2 0h1m3 0h2m4 0h1m11 0h1m3 0h2m1 0h1m1 0h1m1 0h12m1 0h10m1 0h27m1 0h11m2 0h8m1 0h7m1 0h1m1 0h13m1 0h2m1 0h3m1 0h17m1 0h5m1 0h5m1 0h2m1 0h1m1 0h3m2 0h9m1 0h2m1 0h1m2 0h2m1 0h3m2 0h6M402 1017.5h1m10 0h1m3 0h1m1 0h2m4 0h4m2 0h1m18 0h2m19 0h1m36 0h1m1 0h2m1 0h3m1 0h1m1 0h1m1 0h2m1 0h1m4 0h1m2 0h1m1 0h3m1 0h1m1 0h5m1 0h1m1 0h1m1 0h3m1 0h2m1 0h3m2 0h1m3 0h1m7 0h1m1 0h1m18 0h2m6 0h1m1 0h1m3 0h2m4 0h1m1 0h1m3 0h1m4 0h2m4 0h1m1 0h1m1 0h1m5 0h2m1 0h11m1 0h8m2 0h18m1 0h5m1 0h23m1 0h5m1 0h12m1 0h2m1 0h16m1 0h2m2 0h7m1 0h3m4 0h9m1 0h2m3 0h1m1 0h2m2 0h2m1 0h2m1 0h1m1 0h13M403 1018.5h2m6 0h1m8 0h1m3 0h1m9 0h1m4 0h1m1 0h1m66 0h1m3 0h1m1 0h4m3 0h17m1 0h6m1 0h2m1 0h3m1 0h2m1 0h2m3 0h1m1 0h1m2 0h1m10 0h1m11 0h1m14 0h1m1 0h1m1 0h2m9 0h1m1 0h1m1 0h1m2 0h1m4 0h1m2 0h1m3 0h4m2 0h6m1 0h2m2 0h4m1 0h6m1 0h12m2 0h1m1 0h2m1 0h1m1 0h7m1 0h15m1 0h2m1 0h3m1 0h2m1 0h2m2 0h6m1 0h7m2 0h4m1 0h8m1 0h3m1 0h1m1 0h15m1 0h2m1 0h2m1 0h4m2 0h13m1 0h2m1 0h2m1 0h3m2 0h1M405 1019.5h1m1 0h1m2 0h1m6 0h1m4 0h1m2 0h1m10 0h2m41 0h1m26 0h1m1 0h1m4 0h2m4 0h2m1 0h5m1 0h2m1 0h2m1 0h3m2 0h3m3 0h6m1 0h1m1 0h1m2 0h2m1 0h1m1 0h3m22 0h1m8 0h1m8 0h1m2 0h2m5 0h2m2 0h1m2 0h1m6 0h2m1 0h2m1 0h1m1 0h2m2 0h2m1 0h17m1 0h10m2 0h2m1 0h9m1 0h3m1 0h17m2 0h1m1 0h1m2 0h12m1 0h3m1 0h4m1 0h1m1 0h3m1 0h4m1 0h13m3 0h2m1 0h5m2 0h4m1 0h13m2 0h3m1 0h4m1 0h6m2 0h2m1 0h2M400 1020.5h1m10 0h1m12 0h1m4 0h1m2 0h3m1 0h1m1 0h1m1 0h1m19 0h2m36 0h1m15 0h1m5 0h2m1 0h3m2 0h4m2 0h2m1 0h2m1 0h7m1 0h1m1 0h3m1 0h1m1 0h1m21 0h1m2 0h1m4 0h1m10 0h1m3 0h1m2 0h1m2 0h2m4 0h1m5 0h1m4 0h1m2 0h1m1 0h1m2 0h3m5 0h8m1 0h14m2 0h1m1 0h15m1 0h8m2 0h2m2 0h3m1 0h6m1 0h1m2 0h5m1 0h4m1 0h2m1 0h3m1 0h7m2 0h7m1 0h2m3 0h10m1 0h13m1 0h4m1 0h1m1 0h3m1 0h5m1 0h2m1 0h1m1 0h1m1 0h5m2 0h1m1 0h1m2 0h4M403 1021.5h2m2 0h1m8 0h2m3 0h1m5 0h1m2 0h1m3 0h1m4 0h1m2 0h1m49 0h1m16 0h1m2 0h2m4 0h6m2 0h1m1 0h2m2 0h1m1 0h3m1 0h7m1 0h3m1 0h1m1 0h4m1 0h3m1 0h1m1 0h1m4 0h1m12 0h1m4 0h1m6 0h1m1 0h1m1 0h1m4 0h1m2 0h1m3 0h1m6 0h1m6 0h1m1 0h1m1 0h1m2 0h1m1 0h1m2 0h1m2 0h1m1 0h3m1 0h19m1 0h2m1 0h2m3 0h1m1 0h2m1 0h15m1 0h5m1 0h3m1 0h1m1 0h4m1 0h1m1 0h5m1 0h9m1 0h2m1 0h12m1 0h3m1 0h10m1 0h15m1 0h4m1 0h4m1 0h2m1 0h1m1 0h6m1 0h2m2 0h3m1 0h11M405 1022.5h2m2 0h1m2 0h2m4 0h2m4 0h1m1 0h1m6 0h1m3 0h1m23 0h1m50 0h4m3 0h2m3 0h3m2 0h3m6 0h3m1 0h1m1 0h5m2 0h1m3 0h1m1 0h4m7 0h1m15 0h1m3 0h1m13 0h2m2 0h1m9 0h1m1 0h1m4 0h1m3 0h1m1 0h1m3 0h1m2 0h2m2 0h13m2 0h1m2 0h1m1 0h2m2 0h13m1 0h1m1 0h7m1 0h1m1 0h15m1 0h1m1 0h1m1 0h2m2 0h4m1 0h27m1 0h4m3 0h3m1 0h4m1 0h3m1 0h1m1 0h12m1 0h2m1 0h3m1 0h2m1 0h10m1 0h4m1 0h4m2 0h1M399 1023.5h1m5 0h1m10 0h1m10 0h1m2 0h1m3 0h1m3 0h1m69 0h1m9 0h1m2 0h7m1 0h1m1 0h1m1 0h2m1 0h1m1 0h1m3 0h2m1 0h6m1 0h2m1 0h4m1 0h1m1 0h1m4 0h1m4 0h1m5 0h1m2 0h1m7 0h3m1 0h1m5 0h2m1 0h1m2 0h1m1 0h1m2 0h1m6 0h1m1 0h1m3 0h1m4 0h1m4 0h1m2 0h2m3 0h1m1 0h6m1 0h1m1 0h18m1 0h4m1 0h2m1 0h4m1 0h12m1 0h5m1 0h2m1 0h10m1 0h2m1 0h2m2 0h7m1 0h1m1 0h2m1 0h1m1 0h5m1 0h4m1 0h7m1 0h9m2 0h2m2 0h4m2 0h3m2 0h1m1 0h1m1 0h2m1 0h1m1 0h2m1 0h2m1 0h2m1 0h6m1 0h7M399 1024.5h1m17 0h1m3 0h1m4 0h1m1 0h1m2 0h2m65 0h1m17 0h1m1 0h4m1 0h5m1 0h7m2 0h1m3 0h3m1 0h4m2 0h9m4 0h1m8 0h1m12 0h2m5 0h2m5 0h1m2 0h1m7 0h1m6 0h2m4 0h2m2 0h1m1 0h2m1 0h3m1 0h16m1 0h1m1 0h2m1 0h5m2 0h3m1 0h28m1 0h2m1 0h7m1 0h5m1 0h1m1 0h3m1 0h1m1 0h4m1 0h3m1 0h11m1 0h3m1 0h7m1 0h10m1 0h6m1 0h6m1 0h3m1 0h1m1 0h7m2 0h5m1 0h7m2 0h2M398 1025.5h1m1 0h4m2 0h1m6 0h2m9 0h1m50 0h1m32 0h1m1 0h1m1 0h1m1 0h1m2 0h11m1 0h3m2 0h4m1 0h1m1 0h1m1 0h1m1 0h4m1 0h1m2 0h5m8 0h1m2 0h1m3 0h1m9 0h1m7 0h1m6 0h1m2 0h1m1 0h1m1 0h1m3 0h1m5 0h1m1 0h1m2 0h1m2 0h1m1 0h1m3 0h1m3 0h1m1 0h1m5 0h1m1 0h3m1 0h6m1 0h10m1 0h4m1 0h5m1 0h1m2 0h11m1 0h3m1 0h1m1 0h4m1 0h8m1 0h5m1 0h13m1 0h2m1 0h8m2 0h2m1 0h5m2 0h4m1 0h3m1 0h2m2 0h2m1 0h3m3 0h8m1 0h17m2 0h3m1 0h2m1 0h5M410 1026.5h1m1 0h3m4 0h1m5 0h1m4 0h1m6 0h1m32 0h1m41 0h2m2 0h1m1 0h2m1 0h3m2 0h2m3 0h9m1 0h3m1 0h3m1 0h2m1 0h4m3 0h3m1 0h1m10 0h1m12 0h1m7 0h2m6 0h1m2 0h1m3 0h1m1 0h1m5 0h1m2 0h2m2 0h1m2 0h3m4 0h1m1 0h3m2 0h6m2 0h3m1 0h1m2 0h3m1 0h7m1 0h5m1 0h3m2 0h13m1 0h16m1 0h4m2 0h2m1 0h4m2 0h1m1 0h12m1 0h22m1 0h2m1 0h8m1 0h1m1 0h1m1 0h13m1 0h1m1 0h4m1 0h3m1 0h7m2 0h2M408 1027.5h2m6 0h1m4 0h2m3 0h2m4 0h1m1 0h1m39 0h1m30 0h1m7 0h1m2 0h2m4 0h1m1 0h2m1 0h1m2 0h4m1 0h1m1 0h1m2 0h2m1 0h1m1 0h6m1 0h4m4 0h1m2 0h1m2 0h2m12 0h1m10 0h1m7 0h1m3 0h1m1 0h2m3 0h2m14 0h1m5 0h2m1 0h1m2 0h29m1 0h6m1 0h17m3 0h3m1 0h1m1 0h4m1 0h1m1 0h1m1 0h5m1 0h4m1 0h21m1 0h2m1 0h10m1 0h5m2 0h3m1 0h1m2 0h1m1 0h4m1 0h1m1 0h1m1 0h1m2 0h7m1 0h2m1 0h5m1 0h3m1 0h1m2 0h5m1 0h1M402 1028.5h1m3 0h1m4 0h1m43 0h1m9 0h1m35 0h1m7 0h1m1 0h4m1 0h1m3 0h3m2 0h6m1 0h3m1 0h1m2 0h3m1 0h1m1 0h1m1 0h5m1 0h4m1 0h2m1 0h1m13 0h1m3 0h1m9 0h1m6 0h1m5 0h1m4 0h1m1 0h1m3 0h1m1 0h2m2 0h1m18 0h1m1 0h3m1 0h3m1 0h11m1 0h3m1 0h7m1 0h4m1 0h1m1 0h3m1 0h8m2 0h7m1 0h1m1 0h3m1 0h1m1 0h2m1 0h1m1 0h3m1 0h3m1 0h6m1 0h2m1 0h7m1 0h4m1 0h6m1 0h1m1 0h1m1 0h1m1 0h9m1 0h4m1 0h2m1 0h4m1 0h1m1 0h11m1 0h5m1 0h2m1 0h1m1 0h3m1 0h1m1 0h3M401 1029.5h1m9 0h1m6 0h1m2 0h1m2 0h1m5 0h3m29 0h1m48 0h1m6 0h5m1 0h1m2 0h6m1 0h2m1 0h1m1 0h2m1 0h2m1 0h10m1 0h3m1 0h2m3 0h1m2 0h1m8 0h1m9 0h1m2 0h1m11 0h1m2 0h1m12 0h1m3 0h2m1 0h2m2 0h2m3 0h1m2 0h3m1 0h2m1 0h12m1 0h3m1 0h4m2 0h5m1 0h8m1 0h2m1 0h4m1 0h18m1 0h2m1 0h1m1 0h18m1 0h5m1 0h4m1 0h13m1 0h1m1 0h5m1 0h2m1 0h4m1 0h1m2 0h1m1 0h4m1 0h6m1 0h2m1 0h2m1 0h9m1 0h4m2 0h1m1 0h1M404 1030.5h1m1 0h1m2 0h1m6 0h1m2 0h1m7 0h1m4 0h1m6 0h2m28 0h1m25 0h1m14 0h2m1 0h1m3 0h2m2 0h1m1 0h2m2 0h2m2 0h5m3 0h2m2 0h2m1 0h1m1 0h3m3 0h2m4 0h1m2 0h1m8 0h1m3 0h1m2 0h1m8 0h2m4 0h1m10 0h1m1 0h1m8 0h4m1 0h3m3 0h3m1 0h2m1 0h1m1 0h1m2 0h6m1 0h4m1 0h1m1 0h7m1 0h5m2 0h6m1 0h5m1 0h16m1 0h4m1 0h1m2 0h1m2 0h3m1 0h2m1 0h4m1 0h4m2 0h1m1 0h2m1 0h15m1 0h1m1 0h2m1 0h1m1 0h3m1 0h1m1 0h7m1 0h4m1 0h7m1 0h5m1 0h3m1 0h1m1 0h1m2 0h1m1 0h1m2 0h1m1 0h3m3 0h4m1 0h1M401 1031.5h1m9 0h2m2 0h1m2 0h2m1 0h1m7 0h1m2 0h1m1 0h1m9 0h1m31 0h1m11 0h1m21 0h1m2 0h1m4 0h2m3 0h1m1 0h5m1 0h3m1 0h1m1 0h4m1 0h3m2 0h3m2 0h6m2 0h2m13 0h1m21 0h2m5 0h1m3 0h1m2 0h2m1 0h1m7 0h1m1 0h1m1 0h1m3 0h1m2 0h1m1 0h2m3 0h4m1 0h2m1 0h2m3 0h1m1 0h2m3 0h15m1 0h1m1 0h2m1 0h7m1 0h4m1 0h2m1 0h16m2 0h5m1 0h18m1 0h15m1 0h1m1 0h2m1 0h1m1 0h9m1 0h2m1 0h1m1 0h8m1 0h4m1 0h14m1 0h7m1 0h1M403 1032.5h1m5 0h2m1 0h1m1 0h1m1 0h1m3 0h1m10 0h1m1 0h1m1 0h1m2 0h1m28 0h1m17 0h1m9 0h1m12 0h1m1 0h3m1 0h1m1 0h1m1 0h14m1 0h1m2 0h2m1 0h3m1 0h1m1 0h1m1 0h1m1 0h2m1 0h1m2 0h1m1 0h5m1 0h1m13 0h1m3 0h1m1 0h1m16 0h1m4 0h3m2 0h2m12 0h2m4 0h3m1 0h2m1 0h1m1 0h4m1 0h4m1 0h1m1 0h5m1 0h11m1 0h2m1 0h38m1 0h22m1 0h2m2 0h9m1 0h10m1 0h8m3 0h1m1 0h2m1 0h3m1 0h16m2 0h9m1 0h6M401 1033.5h1m3 0h1m5 0h1m1 0h1m14 0h1m1 0h1m4 0h1m3 0h1m4 0h1m5 0h1m64 0h1m3 0h3m1 0h5m1 0h3m1 0h4m4 0h5m1 0h6m2 0h3m1 0h1m1 0h1m12 0h1m2 0h1m12 0h1m3 0h1m3 0h1m5 0h2m13 0h1m4 0h1m4 0h3m1 0h2m2 0h2m1 0h1m1 0h2m1 0h10m1 0h1m1 0h7m1 0h8m1 0h1m1 0h10m1 0h4m1 0h1m1 0h8m1 0h15m2 0h3m1 0h1m1 0h10m1 0h2m2 0h3m1 0h5m2 0h14m1 0h5m1 0h6m1 0h11m1 0h2m1 0h11m1 0h2m1 0h1m1 0h2M399 1034.5h1m9 0h1m1 0h1m13 0h1m2 0h2m46 0h1m30 0h1m2 0h1m1 0h1m3 0h1m2 0h3m1 0h6m2 0h1m1 0h1m2 0h5m2 0h3m1 0h1m2 0h2m2 0h2m1 0h2m2 0h2m6 0h1m3 0h1m3 0h1m29 0h1m10 0h1m11 0h1m3 0h6m1 0h3m1 0h11m1 0h33m1 0h13m1 0h2m1 0h3m1 0h3m1 0h1m1 0h8m1 0h1m1 0h2m1 0h2m1 0h2m1 0h6m1 0h1m1 0h12m1 0h10m1 0h3m2 0h1m2 0h6m2 0h2m1 0h9m2 0h1m1 0h7m1 0h5M408 1035.5h1m5 0h1m3 0h1m1 0h1m1 0h1m1 0h1m2 0h2m2 0h1m5 0h1m9 0h1m53 0h1m1 0h1m3 0h1m2 0h1m1 0h2m2 0h1m2 0h3m1 0h4m1 0h2m1 0h4m4 0h6m3 0h2m1 0h4m2 0h1m2 0h1m2 0h1m10 0h1m26 0h2m6 0h1m2 0h1m1 0h2m3 0h1m1 0h1m2 0h1m4 0h1m4 0h3m2 0h8m1 0h12m1 0h2m1 0h1m1 0h10m2 0h3m1 0h1m1 0h5m1 0h10m2 0h6m1 0h10m1 0h14m3 0h9m1 0h8m1 0h1m1 0h1m1 0h8m1 0h2m2 0h11m1 0h3m2 0h1m1 0h5m2 0h7m1 0h3m1 0h3M402 1036.5h2m9 0h1m1 0h1m4 0h2m7 0h1m1 0h1m2 0h1m1 0h1m14 0h1m60 0h1m4 0h1m1 0h4m4 0h1m2 0h4m1 0h1m1 0h6m1 0h3m2 0h1m1 0h6m1 0h3m2 0h4m12 0h1m2 0h1m10 0h1m10 0h1m2 0h1m3 0h1m6 0h2m1 0h2m5 0h2m2 0h15m1 0h2m1 0h2m1 0h1m1 0h2m1 0h5m1 0h5m1 0h5m1 0h7m1 0h9m1 0h5m1 0h1m1 0h19m2 0h1m1 0h5m1 0h1m1 0h2m1 0h19m2 0h1m1 0h1m2 0h4m2 0h4m2 0h4m1 0h1m1 0h1m2 0h4m1 0h4m1 0h4m1 0h13m1 0h2M404 1037.5h1m11 0h1m5 0h2m1 0h1m9 0h1m18 0h1m57 0h1m1 0h2m5 0h2m2 0h6m3 0h1m1 0h1m1 0h6m1 0h1m1 0h1m3 0h5m1 0h1m2 0h1m2 0h1m11 0h1m12 0h2m2 0h2m14 0h3m1 0h1m1 0h1m8 0h3m3 0h1m2 0h2m1 0h1m1 0h9m1 0h1m1 0h2m1 0h4m1 0h4m1 0h1m2 0h8m1 0h6m1 0h7m1 0h8m1 0h23m1 0h2m1 0h3m1 0h27m1 0h4m1 0h1m1 0h3m1 0h1m3 0h1m1 0h6m1 0h10m1 0h10m2 0h4m2 0h1m1 0h4M351 1038.5h1m47 0h1m2 0h1m4 0h1m3 0h1m4 0h1m1 0h1m1 0h2m3 0h2m11 0h1m1 0h1m1 0h1m46 0h1m11 0h1m10 0h1m1 0h2m2 0h2m1 0h1m1 0h1m1 0h1m1 0h6m1 0h1m2 0h1m1 0h4m1 0h5m1 0h1m1 0h1m1 0h1m2 0h5m7 0h1m27 0h1m3 0h1m2 0h1m3 0h2m1 0h1m10 0h5m2 0h2m2 0h3m1 0h1m1 0h2m3 0h3m1 0h6m1 0h3m1 0h1m1 0h2m1 0h17m2 0h1m2 0h17m1 0h1m1 0h16m1 0h7m1 0h1m1 0h5m2 0h10m1 0h2m1 0h5m1 0h2m1 0h3m1 0h1m1 0h14m1 0h1m1 0h2m1 0h2m1 0h2m1 0h10m1 0h10M412 1039.5h1m4 0h1m4 0h1m5 0h1m3 0h1m4 0h1m45 0h1m24 0h1m4 0h1m3 0h3m1 0h1m1 0h4m1 0h1m2 0h3m1 0h2m1 0h3m1 0h2m1 0h2m2 0h2m1 0h1m1 0h3m1 0h1m1 0h3m1 0h1m8 0h2m29 0h1m1 0h1m1 0h2m6 0h1m5 0h1m4 0h4m1 0h4m1 0h1m1 0h6m1 0h5m2 0h4m1 0h3m1 0h3m1 0h1m1 0h12m1 0h4m1 0h4m1 0h4m1 0h19m1 0h10m1 0h6m1 0h6m1 0h1m1 0h1m1 0h2m1 0h6m1 0h2m1 0h3m1 0h2m2 0h1m1 0h1m1 0h13m3 0h3m1 0h3m4 0h12m1 0h6M406 1040.5h1m7 0h1m1 0h1m10 0h1m22 0h1m55 0h1m3 0h2m2 0h1m1 0h2m1 0h1m2 0h2m1 0h1m1 0h13m1 0h1m1 0h2m2 0h2m1 0h2m4 0h2m2 0h2m12 0h2m9 0h1m2 0h2m23 0h1m1 0h1m10 0h1m3 0h2m2 0h2m1 0h1m1 0h4m2 0h9m1 0h4m1 0h5m1 0h3m3 0h9m1 0h1m2 0h4m1 0h14m1 0h4m1 0h5m1 0h1m2 0h5m1 0h3m1 0h2m1 0h3m1 0h2m2 0h7m1 0h12m1 0h1m1 0h3m1 0h8m1 0h1m1 0h3m1 0h12m1 0h2m1 0h14m1 0h1m1 0h1M398 1041.5h1m4 0h1m3 0h1m5 0h1m3 0h1m1 0h1m3 0h2m3 0h3m2 0h1m3 0h1m10 0h1m59 0h1m1 0h1m1 0h1m4 0h1m1 0h3m1 0h2m1 0h1m3 0h3m4 0h3m1 0h5m2 0h3m1 0h2m1 0h3m1 0h1m3 0h1m18 0h1m2 0h1m7 0h1m1 0h1m9 0h1m15 0h2m3 0h1m7 0h10m1 0h5m1 0h7m1 0h6m1 0h8m1 0h3m1 0h3m1 0h4m2 0h8m1 0h1m1 0h4m1 0h4m2 0h10m1 0h3m1 0h1m1 0h3m1 0h4m1 0h2m1 0h1m1 0h5m2 0h3m1 0h5m1 0h5m1 0h2m1 0h3m1 0h2m1 0h2m1 0h1m2 0h2m2 0h1m1 0h1m1 0h3m2 0h1m1 0h6m5 0h1m1 0h5M356 1042.5h1m38 0h1m7 0h2m3 0h1m2 0h1m5 0h1m2 0h1m5 0h2m1 0h1m6 0h1m1 0h1m52 0h1m22 0h2m4 0h2m1 0h5m1 0h3m1 0h1m2 0h1m4 0h2m1 0h3m1 0h2m1 0h1m2 0h3m2 0h2m1 0h2m10 0h1m17 0h1m6 0h3m3 0h2m8 0h1m2 0h3m3 0h3m2 0h4m1 0h10m1 0h4m1 0h4m1 0h1m1 0h1m1 0h1m1 0h2m1 0h3m1 0h1m3 0h30m1 0h18m1 0h14m1 0h6m1 0h8m2 0h1m1 0h5m1 0h14m1 0h5m1 0h3m1 0h8m1 0h8m2 0h1m1 0h1m2 0h3m1 0h1M404 1043.5h3m1 0h1m7 0h1m15 0h2m5 0h2m12 0h1m35 0h1m20 0h1m5 0h7m1 0h2m2 0h6m1 0h1m1 0h1m1 0h5m1 0h1m1 0h2m1 0h6m1 0h4m1 0h2m5 0h1m17 0h1m1 0h1m2 0h2m6 0h1m5 0h1m17 0h2m6 0h2m3 0h5m1 0h3m1 0h9m1 0h1m2 0h1m1 0h34m1 0h7m2 0h1m1 0h4m1 0h9m1 0h2m1 0h14m1 0h10m1 0h3m2 0h2m1 0h15m2 0h2m2 0h1m1 0h1m1 0h5m3 0h15m1 0h7M406 1044.5h2m1 0h1m8 0h1m2 0h1m1 0h1m1 0h1m3 0h1m4 0h1m17 0h1m45 0h1m8 0h1m3 0h1m3 0h1m1 0h2m1 0h1m3 0h5m1 0h1m2 0h1m1 0h1m1 0h3m1 0h2m1 0h1m2 0h3m2 0h3m3 0h1m3 0h1m4 0h1m20 0h1m1 0h1m12 0h1m1 0h1m5 0h1m2 0h1m1 0h1m1 0h1m4 0h1m4 0h4m3 0h12m1 0h18m1 0h2m1 0h1m2 0h9m1 0h5m3 0h6m1 0h7m1 0h15m1 0h14m1 0h4m1 0h6m1 0h1m1 0h8m1 0h2m2 0h3m1 0h5m1 0h9m1 0h3m1 0h2m1 0h10m2 0h1m3 0h3m1 0h4M403 1045.5h1m12 0h1m1 0h1m11 0h1m4 0h2m61 0h1m9 0h1m3 0h1m3 0h1m1 0h1m2 0h1m2 0h1m2 0h4m1 0h1m2 0h1m2 0h2m1 0h2m1 0h13m3 0h2m5 0h1m1 0h1m5 0h1m19 0h1m3 0h1m19 0h3m4 0h2m1 0h2m1 0h1m2 0h1m1 0h2m1 0h3m1 0h7m1 0h1m1 0h4m2 0h4m1 0h3m1 0h2m1 0h7m1 0h2m1 0h4m1 0h1m1 0h8m1 0h2m1 0h3m1 0h4m1 0h13m1 0h7m2 0h5m1 0h3m1 0h6m1 0h2m1 0h5m1 0h4m1 0h3m1 0h6m1 0h3m1 0h10m1 0h5m8 0h10M399 1046.5h1m6 0h1m13 0h1m6 0h1m82 0h1m6 0h1m2 0h1m1 0h8m3 0h1m1 0h1m1 0h2m1 0h3m1 0h2m1 0h1m1 0h4m1 0h5m4 0h2m20 0h1m15 0h2m1 0h2m4 0h1m5 0h2m1 0h4m6 0h1m2 0h9m1 0h3m1 0h27m1 0h8m1 0h7m1 0h1m1 0h9m1 0h4m1 0h21m1 0h4m3 0h5m1 0h8m1 0h4m1 0h4m1 0h3m1 0h9m1 0h1m2 0h4m1 0h3m2 0h7m4 0h1m2 0h12M330 1047.5h1m75 0h1m12 0h1m1 0h1m1 0h2m5 0h1m5 0h1m77 0h1m3 0h1m1 0h3m1 0h5m1 0h2m1 0h2m2 0h8m1 0h5m2 0h5m2 0h1m15 0h1m13 0h2m8 0h2m1 0h1m7 0h1m6 0h1m3 0h1m3 0h1m1 0h1m1 0h1m2 0h11m1 0h6m2 0h9m2 0h2m1 0h24m1 0h1m1 0h1m1 0h3m1 0h3m1 0h1m1 0h10m1 0h16m1 0h1m1 0h2m1 0h8m1 0h3m2 0h5m1 0h9m1 0h5m1 0h3m2 0h11m1 0h2m1 0h1m1 0h1m1 0h4m1 0h3m1 0h3m1 0h3M402 1048.5h1m1 0h1m14 0h2m9 0h1m1 0h1m7 0h1m31 0h1m35 0h1m3 0h1m3 0h4m1 0h5m1 0h1m3 0h2m1 0h1m1 0h1m1 0h9m1 0h2m1 0h1m2 0h2m3 0h1m1 0h1m12 0h1m2 0h1m2 0h1m16 0h1m22 0h1m6 0h3m2 0h1m1 0h1m3 0h2m1 0h6m1 0h5m1 0h2m1 0h2m1 0h21m1 0h2m1 0h3m1 0h1m1 0h1m2 0h9m2 0h8m1 0h40m1 0h14m1 0h8m1 0h5m1 0h1m1 0h1m1 0h6m1 0h9m1 0h3m2 0h5M403 1049.5h2m4 0h1m5 0h1m20 0h1m1 0h1m70 0h2m1 0h3m1 0h2m1 0h3m2 0h2m1 0h5m1 0h3m1 0h4m1 0h1m3 0h3m1 0h1m1 0h2m1 0h2m1 0h2m1 0h1m2 0h1m2 0h1m8 0h1m4 0h2m1 0h1m3 0h1m9 0h1m12 0h1m4 0h1m1 0h3m8 0h1m3 0h4m1 0h14m1 0h8m1 0h15m1 0h4m1 0h1m1 0h2m1 0h2m1 0h6m1 0h6m1 0h1m1 0h9m1 0h1m1 0h7m2 0h4m1 0h5m1 0h4m1 0h3m1 0h2m1 0h3m1 0h3m1 0h1m2 0h7m1 0h12m2 0h2m1 0h4m1 0h2m1 0h1m1 0h1m2 0h2m1 0h1m1 0h3m1 0h7M395 1050.5h1m8 0h1m2 0h1m1 0h2m3 0h2m3 0h1m3 0h1m2 0h1m4 0h1m4 0h1m31 0h1m43 0h1m1 0h1m1 0h1m1 0h1m1 0h1m4 0h3m1 0h1m2 0h1m2 0h1m4 0h2m1 0h8m1 0h2m1 0h1m1 0h1m2 0h1m1 0h1m2 0h1m7 0h1m7 0h2m3 0h1m25 0h1m6 0h1m2 0h1m5 0h2m2 0h2m1 0h2m1 0h5m1 0h1m1 0h8m1 0h7m1 0h8m1 0h3m1 0h1m1 0h12m1 0h4m1 0h1m1 0h2m1 0h8m1 0h4m1 0h3m1 0h1m1 0h1m1 0h10m1 0h2m1 0h5m1 0h8m1 0h4m1 0h1m2 0h2m3 0h1m1 0h4m2 0h13m1 0h2m1 0h7m1 0h2m1 0h1m1 0h3m3 0h2m1 0h1m1 0h2M404 1051.5h1m5 0h1m1 0h1m5 0h1m3 0h1m5 0h1m5 0h1m74 0h2m2 0h2m3 0h3m3 0h3m1 0h1m1 0h1m2 0h3m1 0h4m1 0h1m1 0h1m2 0h5m1 0h1m1 0h3m1 0h1m5 0h1m2 0h1m19 0h1m6 0h1m5 0h1m1 0h1m2 0h1m4 0h2m1 0h1m8 0h1m1 0h1m1 0h2m1 0h5m1 0h2m1 0h4m1 0h5m1 0h1m2 0h4m1 0h8m1 0h13m1 0h2m1 0h1m1 0h7m1 0h2m1 0h1m1 0h13m1 0h1m1 0h2m1 0h2m1 0h2m1 0h1m1 0h10m1 0h3m1 0h9m2 0h9m2 0h10m1 0h1m1 0h1m1 0h10m2 0h5m1 0h1m2 0h1m1 0h1m1 0h4m1 0h3m1 0h4M396 1052.5h1m12 0h1m10 0h1m5 0h2m3 0h1m1 0h1m31 0h1m44 0h1m2 0h1m1 0h18m2 0h4m1 0h2m1 0h3m2 0h2m3 0h4m2 0h6m1 0h1m1 0h1m9 0h1m1 0h1m6 0h2m4 0h1m2 0h2m2 0h1m6 0h4m4 0h1m8 0h1m1 0h3m1 0h5m1 0h3m1 0h2m1 0h1m1 0h10m1 0h7m1 0h1m1 0h3m1 0h3m1 0h12m1 0h7m2 0h21m2 0h2m1 0h7m1 0h8m1 0h8m1 0h2m1 0h4m1 0h5m1 0h4m1 0h2m1 0h1m2 0h12m4 0h5m1 0h21M398 1053.5h2m16 0h2m6 0h1m16 0h1m21 0h1m3 0h1m20 0h1m7 0h1m13 0h1m1 0h1m1 0h3m1 0h4m1 0h1m1 0h10m2 0h2m1 0h4m1 0h1m1 0h6m1 0h2m1 0h1m5 0h1m1 0h1m9 0h1m23 0h1m2 0h1m2 0h1m5 0h1m9 0h1m8 0h3m1 0h1m1 0h5m2 0h15m2 0h9m3 0h7m1 0h7m1 0h4m1 0h2m1 0h21m1 0h2m1 0h4m1 0h6m1 0h2m1 0h8m2 0h2m1 0h1m1 0h3m1 0h6m3 0h4m1 0h1m1 0h2m2 0h2m1 0h3m1 0h3m1 0h1m1 0h1m1 0h3m1 0h1m1 0h3m2 0h6m1 0h8M403 1054.5h1m1 0h1m8 0h1m5 0h1m1 0h1m1 0h1m10 0h1m21 0h1m9 0h1m47 0h1m1 0h3m2 0h1m1 0h3m1 0h2m4 0h4m2 0h1m2 0h2m1 0h1m1 0h2m4 0h1m1 0h1m3 0h1m2 0h3m3 0h1m4 0h1m1 0h1m10 0h1m5 0h1m1 0h1m2 0h1m1 0h3m1 0h1m1 0h1m3 0h1m1 0h1m3 0h1m4 0h1m3 0h1m1 0h1m4 0h1m1 0h1m2 0h4m2 0h12m1 0h5m1 0h2m1 0h18m1 0h5m1 0h6m2 0h7m1 0h15m1 0h10m1 0h1m2 0h2m2 0h1m1 0h2m1 0h3m2 0h12m1 0h4m1 0h1m4 0h2m1 0h2m1 0h4m1 0h1m1 0h6m1 0h4m1 0h14m1 0h3M410 1055.5h1m8 0h1m3 0h2m3 0h1m1 0h3m49 0h1m26 0h1m2 0h1m2 0h1m3 0h2m1 0h1m1 0h3m1 0h6m1 0h5m1 0h2m1 0h2m1 0h1m1 0h1m1 0h1m2 0h8m4 0h1m3 0h1m5 0h1m1 0h1m1 0h1m3 0h1m1 0h1m23 0h3m2 0h1m1 0h1m3 0h1m2 0h1m3 0h3m1 0h1m1 0h22m1 0h3m1 0h8m1 0h5m1 0h1m1 0h2m1 0h4m1 0h1m1 0h1m1 0h12m1 0h5m1 0h4m1 0h4m1 0h12m1 0h1m1 0h3m1 0h1m1 0h1m1 0h8m1 0h1m1 0h2m1 0h9m1 0h1m1 0h4m1 0h1m1 0h2m2 0h1m2 0h4m2 0h14m1 0h2m1 0h1m1 0h2m1 0h5M407 1056.5h1m9 0h1m17 0h1m74 0h1m1 0h1m1 0h2m1 0h3m2 0h1m2 0h1m2 0h2m1 0h1m1 0h5m4 0h5m1 0h3m2 0h3m8 0h1m5 0h1m19 0h2m3 0h1m26 0h5m2 0h1m1 0h2m1 0h2m1 0h1m1 0h3m1 0h1m1 0h2m1 0h1m1 0h5m1 0h1m1 0h4m1 0h9m1 0h1m1 0h1m1 0h2m1 0h6m1 0h7m1 0h4m1 0h1m2 0h2m1 0h3m1 0h7m1 0h17m2 0h3m2 0h5m1 0h1m1 0h3m1 0h4m1 0h9m1 0h10m1 0h2m1 0h1m1 0h3m1 0h1m1 0h2m1 0h3m1 0h4m3 0h1m1 0h4m1 0h2m1 0h1M358 1057.5h1m36 0h1m6 0h1m8 0h1m3 0h1m2 0h1m4 0h1m3 0h1m3 0h1m3 0h1m21 0h1m52 0h1m1 0h1m1 0h1m3 0h1m1 0h2m1 0h8m3 0h1m1 0h2m1 0h1m2 0h2m2 0h9m1 0h1m1 0h4m2 0h1m8 0h2m5 0h1m11 0h1m18 0h1m10 0h3m3 0h2m1 0h2m1 0h10m1 0h7m1 0h2m1 0h1m1 0h4m1 0h1m1 0h1m1 0h8m1 0h8m2 0h5m1 0h9m1 0h3m2 0h11m1 0h4m2 0h1m1 0h1m1 0h10m1 0h2m1 0h3m1 0h5m1 0h3m2 0h1m1 0h4m1 0h3m1 0h4m1 0h5m2 0h1m2 0h2m2 0h4m1 0h1m2 0h2m1 0h4m1 0h1m1 0h1m1 0h5m2 0h1M402 1058.5h1m6 0h1m11 0h1m3 0h1m33 0h1m10 0h1m41 0h1m3 0h10m2 0h7m1 0h4m1 0h1m2 0h1m1 0h4m2 0h2m1 0h1m6 0h1m2 0h1m4 0h1m11 0h1m6 0h1m6 0h1m6 0h1m1 0h1m1 0h1m3 0h1m2 0h1m3 0h1m2 0h1m6 0h2m2 0h1m1 0h6m2 0h9m1 0h17m1 0h3m1 0h4m1 0h3m1 0h1m1 0h3m1 0h3m1 0h7m1 0h2m1 0h9m1 0h14m1 0h4m1 0h5m1 0h2m1 0h11m1 0h2m1 0h1m1 0h17m2 0h1m1 0h2m2 0h1m1 0h5m1 0h4m2 0h8m1 0h1m2 0h3m1 0h1M407 1059.5h3m3 0h1m14 0h1m6 0h1m14 0h1m21 0h1m35 0h1m1 0h3m2 0h1m1 0h1m1 0h1m2 0h1m1 0h1m1 0h5m1 0h2m4 0h4m1 0h1m2 0h2m2 0h4m5 0h1m2 0h1m1 0h1m9 0h1m16 0h1m10 0h1m8 0h1m9 0h2m3 0h1m1 0h3m1 0h1m1 0h1m1 0h8m1 0h12m1 0h12m1 0h3m1 0h3m1 0h1m1 0h3m1 0h1m1 0h1m1 0h9m1 0h15m1 0h3m2 0h4m1 0h6m1 0h10m1 0h3m1 0h6m1 0h1m2 0h1m1 0h1m2 0h1m1 0h1m1 0h8m1 0h4m1 0h5m1 0h8m1 0h1m2 0h2m1 0h2m1 0h4m1 0h7M407 1060.5h2m11 0h1m3 0h1m3 0h1m47 0h1m17 0h1m7 0h1m3 0h1m7 0h1m1 0h2m1 0h2m1 0h2m1 0h5m1 0h3m1 0h6m1 0h1m1 0h3m1 0h3m1 0h3m1 0h1m5 0h1m4 0h1m1 0h1m8 0h1m1 0h1m3 0h1m1 0h1m7 0h1m2 0h1m1 0h2m10 0h1m2 0h4m1 0h1m2 0h1m1 0h1m4 0h2m1 0h6m1 0h7m1 0h7m1 0h8m1 0h13m1 0h2m2 0h3m2 0h2m1 0h4m2 0h32m1 0h6m1 0h1m1 0h3m1 0h4m2 0h9m5 0h3m1 0h5m2 0h1m1 0h1m1 0h5m1 0h7m1 0h5m1 0h9m1 0h7m1 0h1M399 1061.5h1m3 0h1m2 0h1m9 0h1m3 0h1m3 0h3m5 0h1m2 0h1m1 0h1m49 0h1m18 0h1m6 0h1m2 0h1m1 0h1m1 0h2m4 0h2m1 0h3m1 0h2m1 0h1m2 0h1m2 0h1m1 0h2m3 0h1m3 0h5m1 0h1m17 0h1m16 0h1m9 0h1m1 0h1m2 0h2m9 0h4m7 0h5m1 0h8m1 0h22m1 0h6m1 0h23m1 0h2m1 0h2m1 0h3m3 0h12m1 0h5m1 0h2m1 0h1m1 0h6m1 0h2m1 0h5m1 0h2m1 0h16m1 0h2m1 0h1m1 0h7m3 0h11m2 0h3m1 0h3m1 0h4m1 0h1m1 0h1M402 1062.5h1m2 0h2m3 0h1m6 0h1m2 0h1m38 0h1m47 0h2m1 0h1m1 0h1m4 0h6m1 0h1m2 0h4m1 0h1m3 0h1m2 0h4m1 0h7m2 0h1m2 0h4m7 0h1m8 0h1m9 0h1m5 0h1m5 0h1m15 0h1m4 0h2m3 0h7m2 0h7m2 0h1m1 0h3m1 0h3m1 0h2m1 0h5m1 0h1m1 0h1m2 0h3m1 0h3m1 0h1m1 0h2m2 0h2m2 0h5m1 0h1m1 0h1m1 0h4m3 0h4m1 0h15m1 0h10m1 0h3m1 0h5m1 0h1m1 0h1m1 0h1m2 0h2m1 0h3m3 0h3m1 0h4m1 0h7m1 0h2m1 0h2m1 0h2m1 0h6m1 0h6m1 0h1m1 0h2m1 0h9m1 0h2M401 1063.5h2m2 0h1m25 0h1m37 0h1m40 0h1m1 0h1m1 0h1m2 0h1m1 0h4m2 0h1m5 0h1m2 0h1m1 0h3m2 0h6m3 0h1m2 0h1m4 0h1m3 0h1m1 0h1m17 0h1m4 0h1m4 0h1m10 0h1m1 0h1m5 0h2m1 0h1m7 0h1m1 0h1m2 0h4m2 0h2m1 0h5m1 0h9m1 0h5m1 0h8m1 0h3m1 0h2m1 0h7m1 0h15m1 0h3m1 0h3m1 0h2m1 0h10m1 0h2m1 0h8m1 0h2m1 0h1m1 0h6m1 0h5m1 0h7m3 0h7m1 0h3m1 0h4m1 0h4m1 0h5m2 0h7m2 0h14m1 0h3M402 1064.5h1m1 0h1m3 0h1m8 0h1m1 0h1m6 0h2m2 0h1m83 0h2m2 0h3m1 0h4m2 0h5m1 0h1m1 0h3m1 0h6m2 0h1m2 0h4m1 0h1m5 0h2m2 0h1m9 0h1m3 0h1m2 0h2m23 0h1m1 0h1m2 0h1m2 0h2m1 0h1m4 0h1m1 0h5m1 0h1m1 0h3m1 0h6m1 0h2m1 0h5m1 0h12m1 0h12m1 0h2m1 0h8m2 0h2m1 0h3m1 0h1m1 0h3m1 0h3m1 0h10m1 0h10m1 0h1m1 0h4m1 0h9m1 0h5m2 0h2m2 0h3m1 0h3m1 0h4m2 0h5m1 0h7m1 0h6m1 0h2m2 0h4m1 0h5m1 0h6M399 1065.5h1m4 0h1m1 0h2m2 0h1m3 0h1m6 0h1m4 0h1m1 0h2m4 0h1m77 0h1m1 0h4m1 0h4m1 0h1m3 0h1m2 0h3m1 0h2m1 0h4m4 0h3m1 0h2m1 0h1m4 0h1m8 0h1m2 0h1m9 0h1m5 0h2m7 0h1m14 0h1m5 0h3m3 0h1m3 0h3m1 0h2m1 0h10m1 0h1m2 0h18m1 0h5m1 0h1m1 0h1m1 0h6m1 0h10m1 0h6m1 0h2m1 0h9m2 0h3m1 0h2m1 0h19m1 0h6m2 0h1m1 0h2m1 0h5m1 0h7m1 0h1m1 0h9m2 0h8m1 0h3m1 0h3m1 0h7m5 0h1m1 0h1m1 0h1M399 1066.5h1m4 0h1m2 0h1m20 0h1m1 0h1m2 0h1m4 0h1m9 0h1m5 0h1m54 0h1m3 0h2m2 0h2m3 0h5m1 0h7m1 0h6m1 0h5m1 0h1m1 0h1m1 0h5m1 0h1m2 0h1m2 0h1m13 0h1m6 0h1m1 0h1m10 0h1m3 0h1m10 0h1m2 0h2m3 0h1m2 0h3m1 0h1m2 0h1m1 0h11m1 0h3m2 0h2m1 0h4m2 0h3m1 0h2m1 0h3m1 0h4m1 0h7m1 0h3m2 0h1m1 0h2m2 0h5m1 0h3m1 0h7m1 0h3m1 0h2m1 0h2m1 0h3m1 0h19m2 0h7m1 0h3m2 0h1m1 0h3m2 0h1m1 0h2m1 0h2m1 0h6m1 0h2m2 0h16m1 0h1m1 0h1m1 0h1m1 0h1m1 0h4M404 1067.5h2m10 0h1m1 0h1m1 0h2m1 0h1m11 0h1m40 0h1m23 0h1m14 0h1m2 0h1m2 0h2m1 0h1m2 0h1m3 0h5m1 0h4m1 0h3m1 0h2m2 0h3m2 0h1m2 0h1m11 0h3m3 0h1m5 0h1m12 0h2m4 0h1m1 0h1m1 0h1m4 0h1m5 0h1m4 0h1m3 0h7m2 0h6m2 0h8m2 0h2m4 0h18m2 0h4m1 0h2m1 0h1m2 0h9m2 0h1m1 0h1m1 0h5m2 0h4m1 0h2m1 0h3m1 0h14m2 0h4m1 0h1m1 0h1m1 0h3m1 0h6m2 0h1m1 0h2m1 0h9m1 0h1m1 0h1m1 0h3m2 0h9m1 0h6m2 0h2m1 0h7m1 0h3M342 1068.5h1m55 0h1m11 0h2m5 0h1m2 0h1m2 0h1m2 0h1m1 0h2m44 0h1m39 0h1m1 0h4m1 0h1m1 0h1m1 0h4m1 0h2m1 0h4m1 0h1m1 0h3m1 0h2m1 0h5m1 0h4m1 0h4m30 0h1m2 0h1m20 0h2m2 0h1m2 0h11m1 0h3m1 0h5m1 0h3m1 0h1m1 0h2m2 0h16m1 0h2m1 0h19m2 0h5m1 0h21m1 0h1m1 0h2m2 0h2m1 0h1m1 0h1m1 0h4m1 0h5m1 0h1m1 0h1m4 0h4m2 0h4m1 0h3m3 0h2m1 0h1m1 0h8m1 0h1m1 0h3m1 0h9m4 0h11M399 1069.5h1m2 0h1m6 0h2m2 0h1m8 0h2m2 0h1m3 0h1m8 0h2m53 0h1m16 0h1m3 0h7m1 0h4m1 0h5m1 0h4m1 0h1m2 0h6m1 0h2m2 0h2m1 0h3m9 0h2m14 0h1m21 0h1m1 0h2m3 0h1m3 0h1m1 0h2m3 0h1m4 0h4m1 0h1m1 0h6m4 0h2m1 0h16m1 0h11m1 0h1m1 0h1m1 0h11m1 0h9m1 0h5m2 0h2m1 0h1m1 0h1m1 0h4m1 0h3m2 0h2m2 0h4m1 0h3m3 0h1m1 0h13m1 0h10m2 0h1m1 0h8m1 0h2m2 0h6m1 0h2m1 0h4m4 0h1m1 0h3m3 0h3M406 1070.5h2m3 0h1m14 0h1m3 0h1m80 0h2m2 0h2m1 0h1m1 0h1m1 0h2m1 0h4m1 0h1m3 0h2m1 0h1m2 0h6m1 0h1m1 0h7m1 0h1m1 0h1m1 0h1m11 0h1m1 0h1m4 0h1m12 0h1m2 0h1m5 0h1m5 0h1m1 0h2m4 0h1m2 0h1m1 0h3m1 0h4m1 0h1m2 0h3m3 0h1m3 0h3m1 0h2m1 0h1m2 0h3m2 0h1m1 0h9m1 0h6m1 0h9m1 0h3m1 0h4m2 0h9m1 0h1m1 0h1m2 0h1m1 0h5m1 0h10m1 0h1m1 0h1m2 0h12m1 0h3m2 0h2m1 0h2m1 0h1m1 0h5m1 0h1m1 0h1m3 0h5m2 0h3m2 0h5m1 0h4m1 0h1m2 0h4m1 0h1m3 0h1m1 0h2m1 0h2M398 1071.5h1m15 0h1m2 0h1m1 0h1m3 0h1m4 0h1m5 0h1m30 0h1m18 0h1m28 0h2m1 0h3m2 0h1m1 0h4m1 0h2m2 0h4m2 0h7m2 0h1m2 0h7m2 0h1m2 0h1m1 0h1m13 0h1m8 0h1m1 0h1m7 0h1m3 0h2m3 0h1m3 0h1m2 0h1m2 0h1m1 0h1m1 0h2m1 0h2m2 0h2m1 0h2m1 0h5m1 0h6m1 0h1m1 0h9m1 0h3m1 0h10m2 0h6m1 0h2m1 0h9m1 0h4m1 0h17m1 0h1m1 0h8m1 0h4m1 0h5m1 0h4m1 0h10m1 0h6m2 0h1m1 0h13m1 0h1m1 0h3m1 0h6m1 0h2m1 0h2m3 0h2m1 0h2m1 0h1m1 0h6m1 0h1M400 1072.5h1m9 0h1m7 0h1m4 0h2m1 0h2m61 0h1m17 0h1m1 0h1m2 0h7m1 0h6m3 0h4m1 0h1m2 0h2m1 0h2m1 0h1m1 0h4m2 0h3m6 0h2m2 0h1m17 0h1m4 0h2m1 0h1m4 0h2m6 0h1m4 0h1m2 0h2m7 0h3m2 0h4m1 0h1m1 0h8m1 0h15m1 0h3m1 0h20m1 0h1m1 0h2m1 0h3m1 0h21m1 0h12m1 0h2m1 0h7m1 0h8m1 0h6m1 0h1m2 0h2m2 0h6m1 0h2m1 0h5m1 0h3m1 0h1m1 0h1m1 0h3m1 0h4m1 0h9m1 0h3m1 0h8M404 1073.5h1m3 0h2m5 0h2m11 0h2m6 0h1m50 0h1m3 0h1m14 0h1m6 0h1m1 0h8m1 0h1m1 0h1m6 0h2m2 0h4m1 0h2m1 0h3m1 0h1m1 0h4m1 0h1m2 0h2m11 0h1m4 0h1m17 0h1m1 0h1m9 0h1m5 0h2m4 0h1m2 0h2m1 0h17m1 0h4m1 0h2m2 0h6m1 0h6m2 0h4m1 0h17m1 0h3m1 0h15m1 0h2m1 0h2m1 0h2m1 0h2m1 0h2m1 0h6m1 0h3m1 0h18m1 0h7m1 0h3m1 0h14m2 0h3m1 0h3m2 0h4m1 0h10m1 0h5m1 0h2M394 1074.5h1m7 0h1m1 0h3m2 0h1m2 0h1m7 0h2m4 0h1m1 0h1m1 0h1m47 0h1m20 0h1m9 0h2m3 0h1m2 0h3m1 0h2m2 0h2m2 0h1m1 0h1m2 0h1m1 0h7m2 0h1m2 0h3m2 0h1m1 0h3m1 0h3m1 0h1m12 0h1m9 0h1m4 0h1m6 0h1m1 0h1m3 0h2m2 0h1m4 0h1m2 0h2m1 0h1m3 0h1m1 0h1m2 0h1m2 0h12m1 0h7m1 0h10m1 0h5m2 0h6m1 0h3m2 0h4m1 0h9m1 0h7m1 0h2m1 0h4m1 0h5m1 0h2m1 0h8m1 0h2m1 0h1m1 0h1m1 0h1m1 0h2m1 0h8m2 0h1m3 0h1m1 0h10m1 0h1m2 0h5m2 0h1m1 0h8m1 0h4m3 0h2m1 0h4m1 0h2m1 0h2m1 0h4M396 1075.5h1m7 0h1m1 0h1m17 0h1m2 0h1m5 0h1m2 0h1m34 0h1m6 0h1m3 0h1m1 0h1m32 0h7m1 0h1m1 0h7m1 0h4m2 0h1m1 0h4m1 0h3m1 0h4m2 0h1m2 0h2m10 0h1m2 0h3m3 0h1m5 0h1m3 0h2m1 0h1m5 0h1m10 0h1m1 0h1m2 0h1m1 0h1m3 0h1m1 0h5m1 0h1m1 0h10m4 0h9m1 0h1m1 0h8m1 0h6m1 0h13m1 0h2m1 0h1m1 0h5m1 0h1m1 0h1m2 0h11m1 0h7m1 0h1m1 0h2m1 0h1m1 0h1m2 0h15m1 0h2m1 0h2m2 0h1m1 0h6m1 0h1m1 0h6m1 0h1m1 0h2m1 0h12m1 0h9m1 0h1m1 0h6m1 0h1m1 0h1M333 1076.5h1m64 0h1m5 0h1m6 0h2m8 0h1m1 0h1m1 0h1m1 0h2m40 0h1m17 0h1m19 0h1m4 0h1m2 0h1m1 0h3m1 0h1m1 0h2m2 0h8m2 0h5m4 0h2m1 0h5m3 0h2m1 0h1m1 0h1m4 0h1m12 0h1m23 0h1m2 0h1m6 0h1m2 0h1m5 0h4m2 0h3m1 0h6m1 0h4m1 0h10m1 0h3m1 0h18m1 0h11m1 0h2m1 0h9m1 0h8m1 0h1m1 0h3m1 0h19m1 0h1m1 0h5m1 0h3m2 0h1m3 0h2m1 0h1m1 0h4m1 0h3m1 0h4m1 0h4m1 0h4m1 0h6m1 0h1m1 0h12m1 0h2m1 0h2m1 0h3M401 1077.5h1m2 0h1m2 0h1m5 0h1m8 0h3m2 0h2m4 0h1m3 0h1m30 0h1m31 0h1m7 0h2m3 0h1m1 0h1m1 0h2m1 0h3m3 0h2m1 0h2m1 0h3m2 0h6m1 0h3m1 0h1m1 0h7m2 0h2m1 0h1m18 0h1m4 0h1m17 0h1m2 0h1m4 0h2m4 0h1m1 0h1m2 0h1m1 0h1m1 0h3m1 0h9m1 0h4m1 0h13m1 0h11m1 0h8m1 0h3m1 0h5m2 0h2m1 0h4m1 0h8m1 0h4m2 0h7m2 0h4m2 0h1m1 0h3m1 0h2m1 0h9m1 0h2m2 0h1m2 0h7m2 0h1m2 0h11m1 0h13m1 0h2m1 0h2m1 0h9m1 0h3m1 0h2M394 1078.5h1m16 0h1m3 0h1m7 0h1m36 0h1m39 0h1m5 0h1m7 0h2m3 0h1m1 0h4m1 0h5m2 0h3m2 0h1m1 0h2m2 0h5m1 0h1m1 0h1m1 0h4m1 0h2m1 0h1m21 0h1m13 0h1m2 0h1m13 0h1m1 0h1m1 0h1m1 0h2m2 0h1m3 0h1m2 0h10m1 0h2m1 0h17m2 0h16m3 0h5m1 0h5m2 0h12m1 0h4m2 0h1m1 0h10m1 0h2m1 0h5m1 0h1m2 0h1m2 0h4m1 0h2m1 0h1m2 0h1m1 0h2m1 0h2m1 0h2m1 0h5m1 0h4m1 0h3m1 0h10m1 0h3m1 0h2m1 0h6m2 0h2m2 0h3m1 0h1M407 1079.5h1m3 0h1m1 0h4m4 0h1m1 0h1m11 0h3m44 0h1m30 0h2m1 0h6m1 0h2m1 0h6m1 0h4m1 0h1m1 0h6m1 0h1m1 0h3m1 0h4m7 0h1m23 0h1m1 0h3m7 0h1m9 0h2m2 0h1m1 0h3m1 0h1m1 0h4m5 0h8m1 0h1m1 0h1m1 0h4m1 0h6m1 0h1m1 0h16m2 0h2m1 0h5m1 0h7m1 0h9m1 0h1m1 0h2m1 0h5m1 0h8m1 0h2m1 0h1m1 0h4m1 0h5m1 0h4m1 0h1m1 0h5m1 0h9m1 0h1m1 0h1m1 0h8m1 0h7m1 0h4m1 0h9m1 0h1m1 0h4m2 0h1m1 0h8M400 1080.5h1m16 0h1m2 0h1m4 0h1m2 0h1m85 0h1m2 0h6m2 0h2m1 0h5m1 0h1m1 0h1m5 0h1m1 0h2m2 0h3m1 0h2m1 0h2m1 0h3m2 0h1m5 0h1m7 0h1m5 0h1m7 0h1m10 0h1m4 0h1m2 0h1m2 0h3m5 0h2m2 0h1m1 0h8m1 0h8m1 0h15m1 0h3m1 0h21m2 0h2m2 0h2m2 0h1m1 0h16m2 0h5m1 0h14m1 0h3m1 0h2m1 0h1m1 0h8m1 0h3m1 0h5m1 0h2m1 0h2m1 0h4m2 0h18m1 0h11m1 0h8M408 1081.5h1m6 0h1m1 0h2m1 0h1m31 0h1m21 0h1m2 0h1m31 0h8m3 0h3m2 0h1m2 0h1m2 0h2m3 0h1m1 0h2m1 0h3m1 0h1m1 0h2m1 0h4m2 0h1m9 0h1m19 0h1m1 0h3m3 0h1m5 0h1m5 0h2m5 0h1m7 0h2m2 0h2m1 0h3m2 0h3m1 0h2m1 0h1m1 0h5m1 0h6m1 0h3m1 0h12m1 0h2m3 0h2m1 0h3m1 0h14m1 0h11m1 0h1m1 0h3m1 0h2m1 0h6m1 0h8m2 0h1m4 0h8m1 0h2m2 0h1m1 0h1m2 0h3m1 0h6m1 0h3m3 0h11m2 0h4m1 0h3m1 0h5m1 0h5m1 0h3m1 0h1M405 1082.5h1m1 0h1m4 0h2m5 0h1m4 0h1m2 0h2m40 0h1m5 0h1m35 0h1m1 0h2m2 0h1m2 0h6m1 0h6m1 0h1m1 0h13m1 0h1m1 0h2m3 0h3m27 0h1m9 0h2m3 0h1m1 0h1m2 0h3m4 0h1m2 0h1m2 0h3m1 0h1m1 0h5m1 0h1m1 0h10m1 0h4m1 0h2m2 0h2m1 0h10m2 0h7m1 0h7m1 0h1m2 0h4m1 0h1m1 0h11m1 0h13m1 0h2m2 0h6m1 0h1m1 0h9m1 0h1m1 0h1m1 0h13m1 0h4m1 0h3m1 0h1m1 0h7m2 0h13m1 0h2m1 0h8m1 0h2m2 0h4M397 1083.5h1m9 0h1m8 0h1m8 0h1m2 0h1m3 0h1m6 0h1m10 0h1m61 0h1m1 0h3m1 0h1m1 0h4m1 0h1m2 0h3m3 0h1m1 0h4m1 0h1m2 0h4m2 0h4m1 0h1m3 0h1m10 0h1m2 0h1m1 0h1m3 0h1m12 0h1m1 0h1m9 0h1m5 0h1m6 0h5m2 0h1m1 0h1m1 0h1m2 0h3m1 0h3m1 0h10m1 0h10m2 0h1m1 0h3m1 0h1m2 0h1m1 0h14m3 0h9m1 0h4m1 0h9m1 0h2m1 0h2m1 0h7m1 0h11m1 0h20m2 0h16m1 0h7m1 0h3m1 0h2m1 0h15m1 0h1m1 0h3M396 1084.5h1m35 0h1m47 0h1m31 0h1m2 0h1m1 0h11m1 0h2m1 0h2m1 0h2m2 0h5m3 0h1m1 0h1m1 0h2m1 0h2m1 0h1m1 0h1m8 0h1m16 0h1m2 0h1m5 0h1m4 0h1m3 0h1m4 0h1m1 0h1m1 0h1m2 0h2m1 0h1m1 0h2m1 0h2m2 0h2m1 0h2m1 0h8m1 0h4m1 0h10m3 0h19m1 0h17m1 0h1m1 0h1m1 0h7m1 0h1m1 0h7m1 0h14m1 0h2m1 0h1m1 0h1m1 0h21m2 0h1m1 0h1m2 0h1m2 0h8m1 0h1m2 0h10m1 0h9m2 0h2m2 0h3M411 1085.5h1m2 0h1m1 0h2m1 0h1m2 0h1m5 0h4m37 0h1m20 0h1m17 0h1m3 0h1m1 0h2m1 0h6m1 0h2m2 0h3m2 0h4m1 0h6m1 0h2m1 0h1m1 0h5m2 0h3m3 0h1m19 0h1m14 0h1m1 0h1m3 0h2m5 0h1m1 0h2m2 0h1m1 0h1m3 0h4m1 0h1m1 0h5m1 0h6m1 0h4m1 0h1m1 0h3m2 0h8m1 0h4m1 0h5m1 0h18m1 0h2m1 0h3m1 0h5m1 0h3m1 0h6m1 0h5m1 0h8m2 0h2m1 0h3m5 0h8m2 0h6m1 0h9m2 0h1m1 0h1m4 0h3m1 0h4m1 0h7m1 0h3m1 0h12m1 0h2M396 1086.5h1m8 0h1m12 0h1m7 0h1m81 0h2m4 0h4m1 0h5m1 0h1m1 0h7m3 0h1m1 0h3m1 0h6m2 0h3m1 0h1m1 0h1m3 0h2m1 0h1m13 0h1m16 0h1m3 0h1m2 0h3m3 0h3m2 0h1m2 0h1m1 0h2m3 0h1m2 0h2m2 0h1m1 0h21m1 0h1m1 0h16m1 0h2m1 0h1m1 0h2m1 0h5m1 0h2m1 0h8m1 0h14m1 0h1m1 0h2m1 0h4m1 0h6m1 0h2m1 0h11m1 0h3m2 0h2m1 0h3m1 0h9m1 0h10m1 0h3m1 0h3m1 0h1m2 0h1m4 0h2m1 0h4m3 0h1m1 0h1m2 0h5M405 1087.5h2m3 0h2m2 0h1m4 0h1m1 0h1m13 0h1m43 0h1m2 0h1m28 0h1m2 0h1m1 0h1m4 0h5m2 0h1m1 0h1m2 0h1m3 0h2m1 0h1m1 0h2m2 0h1m2 0h5m1 0h1m1 0h1m1 0h2m14 0h1m1 0h1m14 0h1m2 0h2m4 0h2m9 0h1m6 0h2m1 0h5m1 0h2m1 0h4m1 0h1m2 0h1m1 0h3m1 0h2m1 0h1m1 0h4m2 0h3m2 0h4m1 0h4m3 0h4m1 0h3m1 0h5m1 0h1m2 0h5m1 0h8m2 0h19m1 0h8m1 0h5m1 0h3m2 0h3m1 0h1m2 0h5m1 0h6m1 0h7m1 0h5m1 0h12m1 0h1m1 0h8m1 0h2m2 0h3m1 0h3M358 1088.5h1m48 0h1m11 0h1m1 0h1m83 0h1m5 0h2m2 0h1m1 0h3m1 0h8m1 0h3m1 0h9m3 0h1m2 0h1m1 0h1m1 0h1m1 0h1m4 0h2m3 0h1m4 0h1m1 0h1m6 0h1m5 0h1m6 0h1m15 0h1m1 0h2m2 0h1m1 0h3m1 0h1m1 0h4m1 0h6m1 0h5m1 0h14m1 0h8m1 0h4m1 0h12m2 0h6m1 0h2m1 0h2m1 0h7m1 0h4m1 0h3m2 0h4m2 0h2m1 0h5m3 0h1m1 0h5m2 0h9m3 0h3m1 0h1m1 0h5m1 0h5m2 0h6m1 0h2m1 0h5m1 0h3m2 0h2m2 0h3m1 0h1m1 0h2m1 0h7m1 0h3M402 1089.5h1m5 0h3m3 0h1m2 0h1m4 0h1m2 0h1m1 0h2m1 0h1m10 0h1m20 0h1m4 0h1m34 0h1m3 0h1m2 0h2m1 0h3m1 0h2m1 0h2m1 0h1m2 0h5m1 0h1m2 0h1m1 0h1m1 0h1m1 0h2m2 0h8m1 0h2m2 0h1m3 0h1m1 0h1m6 0h1m20 0h1m7 0h1m3 0h1m3 0h1m1 0h1m3 0h2m3 0h4m1 0h2m3 0h4m1 0h1m1 0h4m1 0h4m1 0h7m1 0h1m1 0h2m1 0h2m1 0h7m1 0h2m1 0h4m1 0h7m2 0h1m1 0h23m1 0h3m1 0h6m1 0h14m1 0h1m1 0h11m3 0h1m2 0h1m1 0h1m1 0h7m1 0h2m1 0h3m1 0h6m1 0h4m3 0h4m1 0h8m1 0h2m1 0h4m1 0h4M402 1090.5h1m17 0h2m1 0h1m15 0h2m60 0h1m4 0h2m2 0h1m2 0h7m2 0h12m2 0h4m1 0h2m2 0h2m1 0h3m1 0h2m1 0h3m2 0h1m2 0h1m12 0h1m20 0h1m2 0h1m3 0h2m1 0h1m2 0h1m2 0h1m1 0h3m1 0h1m2 0h1m1 0h3m1 0h10m2 0h7m1 0h1m1 0h3m1 0h2m1 0h8m1 0h2m2 0h6m1 0h6m1 0h4m1 0h9m1 0h2m1 0h6m1 0h2m1 0h8m1 0h2m2 0h10m1 0h8m2 0h8m1 0h4m1 0h5m1 0h1m1 0h7m1 0h1m1 0h1m1 0h6m1 0h10m1 0h7m2 0h3m1 0h4M400 1091.5h1m14 0h1m1 0h1m4 0h1m8 0h1m4 0h1m16 0h1m13 0h1m38 0h1m3 0h1m3 0h1m1 0h1m1 0h3m1 0h1m1 0h4m1 0h4m2 0h2m1 0h4m1 0h3m2 0h1m3 0h3m1 0h1m2 0h2m1 0h1m5 0h1m4 0h1m2 0h2m5 0h1m2 0h3m4 0h1m2 0h1m6 0h2m1 0h2m1 0h2m5 0h2m1 0h1m3 0h4m1 0h5m1 0h3m1 0h7m1 0h5m1 0h4m2 0h7m1 0h13m1 0h2m1 0h3m3 0h1m1 0h2m1 0h12m1 0h6m1 0h6m1 0h8m1 0h2m1 0h7m2 0h1m1 0h6m2 0h2m1 0h2m1 0h8m1 0h5m1 0h4m1 0h16m2 0h5m1 0h2m3 0h7m1 0h1M398 1092.5h1m2 0h1m6 0h3m3 0h1m8 0h1m45 0h1m39 0h1m4 0h2m3 0h2m1 0h1m6 0h2m1 0h1m2 0h1m1 0h5m1 0h1m2 0h1m1 0h2m1 0h5m1 0h1m1 0h1m2 0h1m1 0h1m21 0h1m2 0h1m3 0h1m1 0h1m1 0h1m10 0h1m3 0h1m1 0h2m4 0h4m1 0h12m1 0h7m1 0h6m1 0h2m1 0h4m1 0h2m1 0h10m1 0h6m2 0h5m1 0h5m1 0h8m2 0h2m1 0h13m1 0h2m1 0h10m2 0h2m2 0h4m2 0h4m1 0h5m2 0h1m2 0h1m2 0h8m2 0h20m1 0h4m1 0h1m1 0h3m1 0h4m1 0h3M399 1093.5h1m1 0h2m6 0h1m1 0h2m5 0h1m3 0h1m3 0h1m3 0h1m36 0h1m2 0h1m11 0h1m2 0h1m16 0h1m7 0h1m2 0h7m1 0h5m1 0h1m1 0h4m2 0h2m1 0h2m2 0h2m2 0h2m5 0h3m2 0h2m9 0h1m10 0h1m2 0h1m5 0h1m6 0h1m3 0h1m11 0h8m1 0h5m1 0h3m2 0h9m2 0h1m1 0h12m1 0h1m1 0h4m1 0h13m1 0h2m2 0h3m1 0h2m1 0h1m1 0h1m1 0h7m2 0h1m1 0h6m1 0h22m1 0h5m1 0h9m1 0h2m1 0h7m1 0h8m2 0h7m1 0h2m1 0h13m1 0h11m1 0h3m1 0h1M402 1094.5h4m6 0h1m7 0h1m4 0h1m4 0h2m78 0h1m3 0h3m1 0h1m2 0h3m1 0h1m2 0h3m1 0h2m2 0h8m1 0h4m2 0h3m2 0h1m6 0h1m21 0h1m5 0h1m7 0h1m8 0h3m3 0h1m2 0h2m1 0h2m4 0h2m1 0h10m1 0h9m1 0h4m1 0h13m1 0h2m1 0h6m1 0h3m1 0h7m1 0h5m1 0h4m1 0h6m1 0h5m1 0h5m1 0h2m1 0h1m3 0h6m1 0h4m1 0h1m1 0h3m2 0h2m2 0h5m1 0h1m2 0h4m1 0h12m1 0h6m1 0h5m1 0h16m1 0h8M408 1095.5h1m1 0h2m2 0h2m1 0h2m8 0h1m4 0h1m5 0h1m45 0h1m24 0h1m1 0h1m4 0h2m4 0h2m1 0h1m1 0h2m1 0h3m2 0h4m1 0h1m1 0h6m1 0h2m1 0h1m1 0h2m2 0h2m22 0h1m9 0h1m8 0h1m3 0h3m2 0h1m2 0h1m7 0h1m1 0h3m1 0h10m1 0h4m4 0h6m1 0h1m1 0h2m1 0h28m1 0h3m1 0h4m2 0h1m1 0h5m1 0h1m1 0h7m1 0h3m1 0h2m1 0h3m1 0h2m1 0h1m1 0h4m1 0h4m1 0h6m1 0h7m1 0h1m1 0h9m1 0h1m2 0h5m1 0h5m1 0h12m1 0h1m1 0h9m2 0h2m1 0h2m1 0h1M348 1096.5h1m51 0h1m2 0h1m4 0h1m4 0h1m4 0h1m5 0h1m9 0h2m33 0h1m19 0h2m12 0h1m5 0h2m1 0h6m2 0h1m1 0h2m1 0h7m1 0h2m1 0h1m1 0h2m3 0h5m3 0h1m2 0h2m3 0h1m10 0h1m10 0h1m2 0h1m6 0h1m5 0h1m17 0h2m2 0h1m2 0h6m1 0h15m1 0h4m1 0h1m1 0h1m1 0h7m1 0h20m1 0h2m1 0h4m1 0h11m1 0h2m1 0h9m1 0h1m2 0h1m2 0h4m1 0h1m2 0h12m1 0h6m1 0h6m1 0h9m1 0h7m1 0h1m1 0h3m1 0h6m1 0h2m1 0h1m1 0h2m1 0h4m2 0h5m2 0h1m1 0h2m1 0h2M396 1097.5h1m18 0h1m69 0h1m7 0h1m11 0h1m1 0h1m3 0h2m1 0h1m2 0h8m1 0h1m1 0h3m1 0h1m1 0h1m1 0h7m1 0h2m1 0h1m2 0h1m2 0h1m4 0h1m2 0h2m12 0h1m20 0h1m6 0h1m2 0h1m1 0h1m2 0h2m3 0h1m3 0h4m3 0h5m1 0h3m1 0h12m1 0h8m1 0h2m1 0h2m2 0h12m1 0h1m1 0h1m1 0h2m1 0h12m1 0h6m4 0h2m1 0h1m4 0h3m1 0h10m1 0h3m1 0h5m1 0h1m1 0h5m1 0h2m2 0h1m1 0h4m1 0h2m1 0h7m1 0h12m1 0h10m3 0h4m2 0h3m1 0h3m2 0h3M396 1098.5h1m14 0h1m3 0h1m12 0h2m1 0h1m2 0h1m9 0h1m58 0h2m6 0h2m3 0h2m2 0h10m1 0h1m2 0h12m1 0h4m2 0h1m1 0h1m1 0h1m1 0h3m2 0h1m9 0h1m3 0h1m8 0h1m13 0h1m4 0h1m1 0h2m2 0h1m2 0h2m1 0h2m1 0h11m2 0h1m1 0h1m1 0h7m3 0h5m2 0h3m1 0h1m2 0h5m2 0h8m1 0h1m2 0h8m1 0h2m1 0h4m1 0h2m1 0h2m1 0h7m1 0h7m1 0h1m1 0h3m2 0h6m2 0h3m1 0h3m1 0h6m1 0h1m1 0h2m1 0h6m1 0h1m1 0h2m1 0h2m4 0h2m3 0h10m1 0h6m1 0h4m2 0h4m1 0h4m1 0h4M404 1099.5h1m6 0h1m1 0h1m1 0h1m1 0h1m1 0h1m14 0h1m15 0h1m12 0h1m10 0h1m12 0h1m13 0h1m7 0h2m2 0h1m1 0h1m1 0h1m1 0h4m1 0h3m1 0h1m2 0h2m1 0h5m2 0h2m1 0h2m1 0h1m1 0h3m3 0h2m11 0h1m7 0h1m18 0h1m10 0h1m6 0h1m3 0h3m1 0h2m2 0h4m1 0h6m1 0h4m1 0h8m1 0h5m1 0h1m1 0h3m1 0h8m1 0h8m2 0h10m1 0h6m1 0h6m1 0h2m1 0h4m1 0h3m2 0h1m1 0h1m1 0h2m1 0h5m1 0h3m2 0h7m1 0h13m1 0h3m2 0h2m1 0h1m3 0h7m1 0h3m2 0h2m1 0h1m1 0h6m1 0h8m1 0h3m4 0h3M402 1100.5h1m3 0h1m5 0h1m4 0h4m3 0h1m1 0h1m8 0h1m70 0h1m2 0h1m2 0h3m1 0h1m1 0h1m1 0h2m1 0h1m1 0h2m1 0h3m1 0h3m1 0h2m1 0h1m2 0h2m1 0h2m3 0h4m2 0h1m2 0h1m2 0h1m8 0h1m7 0h1m8 0h2m1 0h2m5 0h1m1 0h1m2 0h1m10 0h1m1 0h3m1 0h2m1 0h1m1 0h1m1 0h2m2 0h14m1 0h3m1 0h14m2 0h4m1 0h13m1 0h14m1 0h1m2 0h15m1 0h2m2 0h20m1 0h2m1 0h4m2 0h2m2 0h1m1 0h9m2 0h8m1 0h2m1 0h1m5 0h5m2 0h1m2 0h3m1 0h14M411 1101.5h1m1 0h1m1 0h1m5 0h2m3 0h3m1 0h1m13 0h1m17 0h1m46 0h1m2 0h1m1 0h3m1 0h1m3 0h2m1 0h5m1 0h5m1 0h3m1 0h4m1 0h3m1 0h2m1 0h2m1 0h2m1 0h2m16 0h1m4 0h1m4 0h1m15 0h1m4 0h1m6 0h2m1 0h1m3 0h2m1 0h6m1 0h4m1 0h3m2 0h4m1 0h2m1 0h15m1 0h2m1 0h4m1 0h2m1 0h5m1 0h20m1 0h10m1 0h1m1 0h1m2 0h8m1 0h4m1 0h2m1 0h4m1 0h2m2 0h2m2 0h3m1 0h3m1 0h2m1 0h1m1 0h2m1 0h1m2 0h6m1 0h9m1 0h12m2 0h2m1 0h2m1 0h1m1 0h2m1 0h5M402 1102.5h1m3 0h1m14 0h2m1 0h2m4 0h2m1 0h1m37 0h1m26 0h1m6 0h1m2 0h2m1 0h2m2 0h17m2 0h6m1 0h7m1 0h2m2 0h1m1 0h1m2 0h2m1 0h1m18 0h1m17 0h1m13 0h1m2 0h3m3 0h3m1 0h1m1 0h1m1 0h1m1 0h7m1 0h4m1 0h11m1 0h11m1 0h10m1 0h25m1 0h1m2 0h2m1 0h2m1 0h4m1 0h5m1 0h2m1 0h9m1 0h5m1 0h3m1 0h2m2 0h11m1 0h1m1 0h6m2 0h9m1 0h3m1 0h1m1 0h2m1 0h1m1 0h2m1 0h1m2 0h2m1 0h12M401 1103.5h2m14 0h1m5 0h2m4 0h1m83 0h1m2 0h3m1 0h3m2 0h4m1 0h5m1 0h1m2 0h1m1 0h5m2 0h1m2 0h1m2 0h1m1 0h2m3 0h1m1 0h1m17 0h1m10 0h1m9 0h3m5 0h1m7 0h2m1 0h10m1 0h3m1 0h7m1 0h5m1 0h3m1 0h10m1 0h1m1 0h1m1 0h4m1 0h8m1 0h8m1 0h4m1 0h2m1 0h13m1 0h15m1 0h7m1 0h1m4 0h7m1 0h3m1 0h4m2 0h3m2 0h6m1 0h2m1 0h3m1 0h1m1 0h1m3 0h1m2 0h4m1 0h3m1 0h2m1 0h2m1 0h7m2 0h1m1 0h1M393 1104.5h1m11 0h1m2 0h3m2 0h1m15 0h1m1 0h2m5 0h1m24 0h1m24 0h1m13 0h1m6 0h3m2 0h1m1 0h3m1 0h4m1 0h1m1 0h1m1 0h2m1 0h4m1 0h5m2 0h3m2 0h3m2 0h2m2 0h1m40 0h1m3 0h1m1 0h1m4 0h1m3 0h1m1 0h2m1 0h1m2 0h13m1 0h2m1 0h4m1 0h9m1 0h11m1 0h2m1 0h1m1 0h2m1 0h2m1 0h3m2 0h2m2 0h2m2 0h17m1 0h5m1 0h1m1 0h1m1 0h5m2 0h2m1 0h16m1 0h8m1 0h1m2 0h1m1 0h6m2 0h4m2 0h22m3 0h5m2 0h9m1 0h1M397 1105.5h1m6 0h1m1 0h1m4 0h1m6 0h1m6 0h2m2 0h1m2 0h1m55 0h1m21 0h1m2 0h1m1 0h2m1 0h5m1 0h1m2 0h3m1 0h1m1 0h1m1 0h1m1 0h1m2 0h5m1 0h2m1 0h3m2 0h1m1 0h1m1 0h1m5 0h1m6 0h1m6 0h1m5 0h1m22 0h2m2 0h2m2 0h4m1 0h1m1 0h2m1 0h8m1 0h8m1 0h20m1 0h1m3 0h11m1 0h8m1 0h11m1 0h5m3 0h1m1 0h2m1 0h1m3 0h3m1 0h2m1 0h1m1 0h3m1 0h3m1 0h3m1 0h1m1 0h4m1 0h2m1 0h1m1 0h3m1 0h8m1 0h2m1 0h4m2 0h4m1 0h12m2 0h1m1 0h3m1 0h10m4 0h2m1 0h1M406 1106.5h1m3 0h1m1 0h1m3 0h1m2 0h1m1 0h1m1 0h1m5 0h1m33 0h1m45 0h4m2 0h2m2 0h1m1 0h4m1 0h8m1 0h1m1 0h2m1 0h1m1 0h2m1 0h1m3 0h5m1 0h1m1 0h2m1 0h2m11 0h1m2 0h1m7 0h1m7 0h1m3 0h1m9 0h1m7 0h1m1 0h2m1 0h2m1 0h7m1 0h8m1 0h6m1 0h9m1 0h19m1 0h1m1 0h6m1 0h6m1 0h4m2 0h4m1 0h2m2 0h2m1 0h2m2 0h1m1 0h1m1 0h6m1 0h1m2 0h2m1 0h1m1 0h16m2 0h2m1 0h3m2 0h1m2 0h1m1 0h25m1 0h2m1 0h2m1 0h9m1 0h3m1 0h5M412 1107.5h1m5 0h1m52 0h1m18 0h1m17 0h1m1 0h5m1 0h7m1 0h1m2 0h4m1 0h6m1 0h2m1 0h1m2 0h3m1 0h2m2 0h1m1 0h1m1 0h1m1 0h1m2 0h1m7 0h1m8 0h1m1 0h1m14 0h1m2 0h1m1 0h1m1 0h1m1 0h3m3 0h2m1 0h1m1 0h2m2 0h1m3 0h10m1 0h5m2 0h3m1 0h1m2 0h3m3 0h16m1 0h8m1 0h1m1 0h4m1 0h2m1 0h1m1 0h18m2 0h5m1 0h6m2 0h7m1 0h1m1 0h2m1 0h1m3 0h2m3 0h7m1 0h1m1 0h9m2 0h13m1 0h4m1 0h7m2 0h4m2 0h1m2 0h9M401 1108.5h1m3 0h1m1 0h1m16 0h1m2 0h1m77 0h1m1 0h1m2 0h3m1 0h4m1 0h10m2 0h1m1 0h1m3 0h3m1 0h7m2 0h1m1 0h2m3 0h1m1 0h1m3 0h1m7 0h1m11 0h1m3 0h1m20 0h1m3 0h2m2 0h3m1 0h2m2 0h2m1 0h4m1 0h1m1 0h6m1 0h5m1 0h8m1 0h2m1 0h1m1 0h4m1 0h2m1 0h8m3 0h2m1 0h1m1 0h2m1 0h6m1 0h9m1 0h3m2 0h4m1 0h2m2 0h3m1 0h12m1 0h5m1 0h9m1 0h1m1 0h2m1 0h1m1 0h6m1 0h1m2 0h2m1 0h2m2 0h1m1 0h2m1 0h6m2 0h5m3 0h2m1 0h2m1 0h3m1 0h4m3 0h2M396 1109.5h1m4 0h1m1 0h4m10 0h1m3 0h1m1 0h1m1 0h1m2 0h2m35 0h1m39 0h1m3 0h1m2 0h7m1 0h4m1 0h4m2 0h7m1 0h1m5 0h8m1 0h1m1 0h2m4 0h1m6 0h1m3 0h1m6 0h1m1 0h2m5 0h2m2 0h3m6 0h1m1 0h1m3 0h1m3 0h1m1 0h7m1 0h7m3 0h6m1 0h23m1 0h3m2 0h10m1 0h2m1 0h6m1 0h10m1 0h8m1 0h7m1 0h1m1 0h1m1 0h13m3 0h4m1 0h1m1 0h4m2 0h1m1 0h1m1 0h12m1 0h4m1 0h1m1 0h4m1 0h12m1 0h4m2 0h8m1 0h7m1 0h1" stroke="#006400" stroke-width="1" fill="none" shape-rendering="crispEdges" filter="url(#sb)"/>
<line x1="133.0" y1="769.2" x2="133.0" y2="1110.5" stroke="#808080" stroke-opacity="0.5" stroke-width="1.8"/>
<text class="rs" transform="translate(127.7,802.4) rotate(-90) scale(1,1.1)" textLength="22.6" lengthAdjust="spacing">1:1</text>
<line x1="214.0" y1="769.2" x2="214.0" y2="1110.5" stroke="#808080" stroke-opacity="0.5" stroke-width="1.8"/>
<text class="rs" transform="translate(208.7,802.4) rotate(-90) scale(1,1.1)" textLength="22.6" lengthAdjust="spacing">3:2</text>
<line x1="287.3" y1="769.2" x2="287.3" y2="1110.5" stroke="#7c7c7c" stroke-opacity="0.85" stroke-width="1"/>
<text class="rs" transform="translate(282.0,802.4) rotate(-90) scale(1,1.1)" textLength="22.6" lengthAdjust="spacing">2:1</text>
<line x1="354.3" y1="769.2" x2="354.3" y2="1110.5" stroke="#7c7c7c" stroke-opacity="0.85" stroke-width="1"/>
<text class="rs" transform="translate(349.0,802.4) rotate(-90) scale(1,1.1)" textLength="22.6" lengthAdjust="spacing">5:2</text>
<line x1="416.3" y1="769.2" x2="416.3" y2="1110.5" stroke="#808080" stroke-opacity="0.5" stroke-width="1.8"/>
<text class="rs" transform="translate(411.0,802.4) rotate(-90) scale(1,1.1)" textLength="22.6" lengthAdjust="spacing">3:1</text>
<line x1="532.0" y1="769.2" x2="532.0" y2="1110.5" stroke="#808080" stroke-opacity="0.5" stroke-width="1.8"/>
<text class="rs" transform="translate(526.7,802.4) rotate(-90) scale(1,1.1)" textLength="22.6" lengthAdjust="spacing">4:1</text>
<line x1="289.8" y1="769.2" x2="289.8" y2="1110.5" stroke="#ff2a2a" stroke-width="1.2" stroke-dasharray="7.4 4.9"/>
<text class="an" fill="#ff2a2a" stroke="#ff2a2a" transform="translate(300.8,955.4) rotate(-90) scale(1,1.12)" textLength="124" lengthAdjust="spacingAndGlyphs">Mustill &amp; Wyatt (2012)</text>
<line x1="436.7" y1="769.2" x2="436.7" y2="1110.5" stroke="#bb55ff" stroke-width="1.2" stroke-dasharray="7.4 4.9"/>
<text class="an" fill="#bb55ff" stroke="#bb55ff" transform="translate(429,955.4) rotate(-90) scale(1,1.12)" textLength="129" lengthAdjust="spacingAndGlyphs">Fit to thermal emission</text>
<line x1="443.5" y1="769.2" x2="443.5" y2="1110.5" stroke="#2222ff" stroke-width="1.2" stroke-dasharray="7.4 4.9"/>
<text class="an" fill="#2222ff" stroke="#2222ff" transform="translate(454.3,955.4) rotate(-90) scale(1,1.12)" textLength="124.4" lengthAdjust="spacingAndGlyphs">Pearce &amp; Wyatt (2014)</text>
<rect class="ax" x="67.5" y="769.2" width="748.5" height="341.3"/>
<text class="tk" x="59" y="1110.3" text-anchor="end">0.0</text>
<text class="tk" x="59" y="1048.6" text-anchor="end">0.2</text>
<text class="tk" x="59" y="980.4" text-anchor="end">0.4</text>
<text class="tk" x="59" y="912.1" text-anchor="end">0.6</text>
<text class="tk" x="59" y="843.9" text-anchor="end">0.8</text>
<text class="tk" x="59" y="781.2" text-anchor="end">1.0</text>
<text class="tk" x="247.3" y="1136.7" text-anchor="middle">40</text>
<text class="tk" x="436.7" y="1136.7" text-anchor="middle">60</text>
<text class="tk" x="626.1" y="1136.7" text-anchor="middle">80</text>
<text class="tk" x="815.5" y="1136.7" text-anchor="middle">100</text>
<text class="tk" style="font-size:19.2px" transform="translate(18,994.3) rotate(-90) scale(1,1.08)" textLength="99.5" lengthAdjust="spacingAndGlyphs">eccentricity</text>
<circle cx="133.0" cy="838.0" r="6.3" fill="#ff2e72"/>
</g>
<g id="panel4">
<path class="ax" d="M67.5 1475.03h7.7M816.0 1475.03h-7.7M67.5 1457.97h7.7M816.0 1457.97h-7.7M67.5 1440.90h7.7M816.0 1440.90h-7.7M67.5 1423.84h15M816.0 1423.84h-15M67.5 1406.77h7.7M816.0 1406.77h-7.7M67.5 1389.71h7.7M816.0 1389.71h-7.7M67.5 1372.64h7.7M816.0 1372.64h-7.7M67.5 1355.58h15M816.0 1355.58h-15M67.5 1338.51h7.7M816.0 1338.51h-7.7M67.5 1321.45h7.7M816.0 1321.45h-7.7M67.5 1304.38h7.7M816.0 1304.38h-7.7M67.5 1287.32h15M816.0 1287.32h-15M67.5 1270.25h7.7M816.0 1270.25h-7.7M67.5 1253.19h7.7M816.0 1253.19h-7.7M67.5 1236.12h7.7M816.0 1236.12h-7.7M67.5 1219.06h15M816.0 1219.06h-15M67.5 1201.99h7.7M816.0 1201.99h-7.7M67.5 1184.93h7.7M816.0 1184.93h-7.7M67.5 1167.86h7.7M816.0 1167.86h-7.7M114.75 1150.8v3.2M114.75 1492.1v-3.2M161.50 1150.8v3.2M161.50 1492.1v-3.2M208.25 1150.8v3.2M208.25 1492.1v-3.2M255.00 1150.8v7M255.00 1492.1v-7M301.75 1150.8v3.2M301.75 1492.1v-3.2M348.50 1150.8v3.2M348.50 1492.1v-3.2M395.25 1150.8v3.2M395.25 1492.1v-3.2M442.00 1150.8v7M442.00 1492.1v-7M488.75 1150.8v3.2M488.75 1492.1v-3.2M535.50 1150.8v3.2M535.50 1492.1v-3.2M582.25 1150.8v3.2M582.25 1492.1v-3.2M629.00 1150.8v7M629.00 1492.1v-7M675.75 1150.8v3.2M675.75 1492.1v-3.2M722.50 1150.8v3.2M722.50 1492.1v-3.2M769.25 1150.8v3.2M769.25 1492.1v-3.2"/>
<path d="M534 1167.5h1M640 1182.5h1M769 1204.5h1M525 1205.5h1m127 0h1M360 1207.5h1M362 1208.5h1M736 1211.5h1M642 1212.5h1m29 0h1m54 0h1m2 0h1M659 1214.5h1M501 1215.5h1m291 0h1M401 1216.5h1M668 1218.5h1m8 0h1M491 1219.5h1m165 0h1M519 1220.5h1m132 0h1m22 0h1M663 1221.5h1M663 1222.5h1m3 0h1m23 0h1m7 0h1M775 1223.5h1M654 1224.5h1m22 0h1M725 1227.5h1m7 0h1M629 1228.5h1M681 1229.5h1m68 0h1M471 1230.5h1m150 0h1m128 0h1M361 1231.5h1m321 0h1m39 0h1M650 1232.5h1M671 1233.5h1m135 0h1M520 1234.5h1M668 1235.5h1M666 1236.5h1m3 0h1m91 0h1m21 0h1M526 1237.5h1M701 1238.5h1M771 1240.5h1M532 1241.5h1m97 0h1m26 0h1m29 0h1m34 0h1m66 0h1M664 1242.5h1M445 1243.5h1m48 0h1m184 0h1m8 0h1m34 0h1m65 0h1m5 0h1M719 1244.5h1M605 1246.5h1M685 1247.5h1M328 1248.5h1m77 0h1m176 0h1m3 0h1m143 0h1M540 1249.5h1m70 0h1m35 0h1m48 0h1M638 1250.5h1m23 0h1m55 0h1M450 1251.5h1m277 0h1M498 1252.5h1m170 0h1m22 0h1M531 1253.5h1m25 0h1m70 0h1m24 0h1m60 0h1M652 1254.5h1m106 0h1M611 1255.5h1m105 0h1m42 0h1M641 1256.5h1m8 0h1M610 1257.5h1m29 0h1m31 0h1M695 1258.5h1m8 0h1m15 0h1M607 1259.5h1m39 0h1m74 0h1m50 0h1M402 1260.5h1m92 0h1m37 0h1m119 0h1m7 0h1m13 0h1m127 0h1M590 1261.5h1m71 0h2m6 0h1m117 0h1M659 1262.5h1m113 0h1M740 1263.5h1M618 1264.5h1m1 0h1m46 0h1m19 0h1m64 0h1M549 1265.5h1m63 0h1m147 0h1m27 0h1m11 0h1M727 1266.5h1m52 0h1M518 1267.5h1m24 0h1m91 0h1m6 0h1m131 0h1M509 1268.5h1m152 0h1m67 0h1m25 0h1M523 1269.5h1m108 0h1m21 0h1M611 1270.5h1m31 0h1m9 0h1m69 0h1m27 0h1M586 1271.5h1m75 0h1m28 0h1m71 0h1M594 1272.5h1m47 0h1m2 0h2m5 0h1m90 0h1M705 1273.5h1m27 0h1m20 0h1m2 0h1m43 0h2M516 1274.5h1m85 0h1m82 0h1m40 0h1m13 0h1m13 0h1M580 1275.5h1m57 0h1m30 0h1m46 0h1m15 0h1m70 0h1M552 1276.5h1m75 0h1m87 0h1m95 0h1M618 1277.5h1m86 0h1m68 0h1M351 1278.5h1m290 0h1m87 0h1m23 0h1m37 0h1M652 1279.5h1M499 1280.5h1m68 0h1m150 0h1m7 0h1m35 0h1m22 0h1M634 1281.5h1m3 0h1m15 0h1m39 0h1m50 0h1m12 0h1m41 0h1M258 1282.5h1m359 0h1m15 0h1m27 0h1m17 0h1m78 0h1m45 0h1M478 1283.5h1m70 0h1m67 0h1m39 0h1m85 0h1m9 0h1m4 0h1m18 0h1m2 0h1m21 0h1M581 1284.5h1m29 0h1m9 0h1m6 0h1m144 0h1M504 1285.5h1m110 0h1m51 0h1M498 1286.5h1m154 0h1m5 0h1m5 0h1m20 0h1m32 0h1M587 1287.5h1m24 0h1m44 0h1m6 0h1m23 0h1m41 0h1M321 1288.5h1m210 0h1m2 0h1m54 0h1m48 0h1m3 0h1m143 0h1m3 0h1m1 0h1M307 1289.5h1m259 0h1m84 0h3m14 0h1m1 0h1m25 0h1m22 0h1m39 0h1M633 1290.5h1m35 0h1m18 0h1m28 0h1m10 0h1m43 0h1M580 1291.5h1m27 0h1m23 0h1m17 0h1m6 0h1m8 0h2m29 0h1m2 0h1m11 0h1m3 0h1m46 0h1M534 1292.5h1m35 0h1m32 0h1m4 0h1m25 0h1m60 0h1m63 0h1m11 0h1m6 0h1m30 0h1M504 1293.5h1m144 0h1m47 0h1m41 0h1m63 0h1M381 1294.5h1m320 0h1m22 0h1m20 0h1m3 0h1M605 1295.5h1m28 0h1m2 0h1m39 0h1m67 0h1m8 0h1M580 1296.5h1m77 0h1M564 1297.5h1m5 0h1m13 0h2m19 0h1m21 0h1m67 0h2m32 0h1m66 0h1m2 0h2M504 1298.5h1m153 0h1m12 0h1m10 0h1m20 0h1m7 0h1m17 0h1m24 0h1m25 0h1m2 0h1m30 0h1M541 1299.5h1m13 0h1m27 0h1m139 0h1m8 0h1m6 0h1m31 0h1m11 0h1M509 1300.5h1m68 0h1m15 0h2m118 0h1m39 0h1m24 0h1m35 0h1M617 1301.5h1m1 0h1m37 0h1m3 0h1m44 0h1m18 0h1m24 0h1M542 1302.5h1m60 0h1m28 0h1m18 0h1m11 0h1m10 0h1m57 0h1m66 0h1M467 1303.5h1m105 0h1m43 0h1m4 0h1m29 0h1m2 0h1m17 0h1m34 0h1m11 0h1m4 0h1m5 0h1m4 0h1m8 0h1m27 0h1m8 0h1m10 0h1m21 0h1M627 1304.5h1m49 0h1m43 0h1m1 0h1m51 0h1m12 0h1M491 1305.5h1m131 0h1m22 0h1m12 0h1m56 0h2m17 0h1m2 0h1m3 0h1m38 0h1m3 0h1m8 0h1m1 0h1M530 1306.5h1m93 0h1m10 0h1m4 0h1m15 0h2m10 0h1m17 0h1m125 0h1M514 1307.5h1m34 0h1m66 0h1m26 0h1m12 0h1m6 0h1m16 0h1m8 0h1m24 0h1m4 0h1m28 0h1m21 0h1m4 0h1M369 1308.5h1m9 0h1m166 0h1m16 0h1m34 0h1m33 0h1m38 0h1m12 0h1m30 0h1m10 0h1m58 0h1m4 0h1m5 0h1m7 0h1M555 1309.5h1m15 0h1m51 0h1m1 0h1m1 0h1m21 0h1m2 0h1m1 0h2m2 0h1m5 0h2m35 0h1m30 0h1m19 0h1m9 0h1m33 0h1M628 1310.5h1m7 0h1m18 0h1m1 0h1m18 0h1m7 0h1m30 0h1m6 0h1m6 0h1m17 0h1m44 0h1m15 0h1M595 1311.5h1m31 0h1m3 0h1m1 0h1m9 0h1m5 0h1m5 0h1m7 0h1m15 0h1m28 0h1m10 0h1m56 0h1M465 1312.5h1m17 0h1m40 0h1m10 0h1m16 0h1m26 0h1m4 0h1m10 0h1m21 0h1m37 0h2m12 0h1m25 0h1m1 0h1m1 0h1m33 0h1m63 0h1m17 0h1M538 1313.5h1m2 0h1m35 0h1m37 0h1m17 0h1m13 0h2m4 0h2m4 0h2m7 0h1m10 0h1m25 0h1m1 0h1m22 0h1m7 0h1m3 0h1m39 0h1m10 0h1m14 0h1M519 1314.5h1m29 0h1m1 0h1m59 0h1m16 0h1m8 0h1m2 0h1m11 0h1m3 0h1m3 0h1m6 0h1m13 0h1m25 0h1m33 0h1m6 0h1m57 0h1M439 1315.5h1m46 0h1m11 0h1m62 0h1m53 0h1m31 0h1m4 0h1m11 0h1m2 0h1m26 0h1m29 0h1m6 0h1m20 0h1m10 0h1m30 0h1m4 0h1m13 0h1m1 0h1M447 1316.5h1m119 0h1m61 0h1m9 0h1m6 0h1m9 0h3m2 0h1m2 0h2m6 0h1m8 0h1m1 0h1m5 0h1m5 0h1m19 0h1m12 0h1m19 0h3m23 0h1m37 0h1M398 1317.5h1m59 0h1m28 0h1m9 0h1m73 0h1m54 0h1m14 0h2m4 0h2m1 0h1m3 0h1m1 0h2m1 0h1m5 0h1m1 0h1m1 0h1m1 0h1m5 0h1m31 0h1m8 0h1m6 0h1m3 0h1m9 0h1m10 0h1M481 1318.5h1m19 0h1m21 0h1m70 0h1m1 0h1m20 0h1m16 0h1m3 0h1m9 0h1m1 0h3m1 0h2m1 0h1m1 0h1m4 0h1m7 0h1m9 0h1m27 0h1m8 0h1m5 0h1m4 0h1m6 0h1m5 0h1m8 0h1m23 0h1M423 1319.5h1m16 0h1m91 0h1m2 0h1m7 0h1m31 0h1m64 0h1m6 0h1m2 0h1m1 0h7m2 0h2m6 0h2m1 0h1m8 0h1m14 0h1m12 0h1m1 0h1m6 0h1m13 0h1m9 0h1m4 0h1m2 0h1m6 0h1m15 0h1m1 0h1m3 0h1m34 0h1M479 1320.5h1m37 0h1m10 0h1m92 0h1m5 0h1m6 0h1m9 0h1m4 0h1m2 0h2m2 0h6m2 0h2m1 0h1m49 0h1m10 0h1m1 0h1m26 0h1m10 0h1M572 1321.5h1m63 0h2m3 0h1m1 0h4m3 0h1m1 0h1m1 0h3m1 0h4m1 0h3m1 0h3m7 0h1m1 0h1m1 0h1m20 0h1m16 0h1m35 0h1M359 1322.5h1m134 0h1m14 0h1m27 0h1m18 0h1m23 0h1m22 0h1m32 0h2m1 0h1m2 0h18m1 0h2m1 0h1m1 0h1m2 0h2m1 0h1m1 0h1m4 0h1m10 0h1m5 0h1m18 0h2m3 0h1m2 0h1m7 0h1m24 0h1m18 0h1M347 1323.5h1m21 0h1m104 0h1m22 0h1m43 0h1m5 0h1m3 0h1m21 0h1m26 0h1m2 0h1m10 0h1m10 0h1m7 0h1m2 0h1m1 0h1m5 0h4m1 0h6m1 0h9m1 0h3m2 0h2m10 0h1m27 0h1m7 0h2m3 0h2m21 0h1M417 1324.5h1m16 0h1m99 0h1m32 0h1m2 0h1m7 0h1m2 0h1m2 0h1m18 0h1m2 0h1m4 0h1m3 0h1m2 0h2m9 0h1m3 0h1m1 0h8m1 0h12m1 0h10m1 0h2m1 0h2m1 0h1m26 0h1m13 0h2m14 0h1m14 0h1m3 0h1m2 0h1m33 0h1m4 0h1m1 0h1m20 0h1M301 1325.5h1m161 0h1m29 0h1m46 0h1m38 0h1m31 0h1m20 0h1m1 0h1m1 0h3m1 0h12m1 0h8m1 0h2m1 0h6m1 0h2m1 0h3m12 0h1m14 0h1m6 0h1m1 0h1m2 0h1m11 0h1m1 0h1m1 0h1m3 0h2m4 0h1m25 0h1m7 0h1m33 0h1M483 1326.5h1m20 0h1m20 0h1m17 0h1m14 0h1m20 0h1m10 0h1m7 0h1m3 0h1m1 0h1m21 0h2m4 0h1m4 0h7m1 0h14m1 0h16m24 0h1m21 0h1m1 0h2m4 0h3m9 0h1m5 0h1m19 0h1m32 0h1m7 0h1m2 0h1M489 1327.5h1m1 0h1m49 0h1m4 0h1m15 0h2m4 0h2m3 0h1m9 0h1m39 0h4m1 0h1m1 0h3m1 0h34m1 0h4m3 0h1m4 0h1m12 0h1m5 0h1m4 0h2m12 0h1m6 0h1m6 0h1m2 0h1m5 0h1m3 0h1m15 0h1m17 0h1m13 0h1M538 1328.5h1m13 0h1m10 0h1m1 0h1m8 0h1m1 0h1m1 0h1m1 0h1m44 0h1m2 0h1m1 0h6m1 0h19m1 0h4m2 0h12m1 0h1m5 0h1m5 0h1m1 0h1m2 0h1m3 0h1m5 0h2m6 0h1m1 0h1m3 0h1m2 0h1m1 0h1m1 0h1m1 0h2m2 0h2m6 0h3m1 0h1m19 0h1m1 0h1m15 0h1m8 0h1m2 0h1m5 0h1m12 0h1m3 0h1M431 1329.5h1m15 0h1m22 0h1m25 0h1m33 0h1m11 0h1m22 0h1m1 0h1m16 0h1m8 0h1m9 0h1m13 0h1m8 0h1m1 0h1m1 0h3m1 0h15m1 0h1m1 0h13m1 0h8m2 0h1m13 0h1m8 0h1m12 0h1m2 0h1m6 0h1m6 0h1m2 0h8m5 0h1m1 0h1m3 0h2m10 0h1m41 0h1m3 0h1M309 1330.5h1m153 0h1m22 0h1m18 0h1m13 0h1m2 0h1m24 0h1m16 0h1m13 0h1m2 0h1m7 0h1m8 0h2m1 0h1m2 0h1m10 0h1m6 0h3m1 0h1m1 0h1m1 0h8m1 0h11m1 0h15m1 0h8m1 0h2m2 0h1m2 0h2m26 0h1m2 0h1m1 0h1m1 0h1m1 0h1m4 0h5m8 0h1m2 0h3m3 0h1m8 0h1m2 0h1m2 0h2m5 0h1m10 0h1m32 0h1m1 0h1M473 1331.5h1m11 0h1m39 0h1m8 0h1m12 0h1m1 0h1m5 0h1m7 0h1m7 0h1m2 0h3m9 0h1m2 0h1m19 0h1m9 0h1m4 0h1m2 0h3m1 0h14m1 0h31m2 0h1m28 0h1m3 0h1m3 0h5m3 0h1m1 0h1m1 0h1m1 0h3m9 0h2m6 0h1m20 0h1m25 0h1m8 0h1m2 0h1M475 1332.5h1m43 0h1m19 0h1m16 0h1m5 0h2m3 0h1m7 0h1m5 0h1m4 0h1m4 0h1m8 0h1m4 0h1m1 0h1m3 0h1m4 0h1m1 0h1m1 0h2m3 0h1m1 0h6m1 0h3m1 0h13m1 0h20m1 0h5m2 0h1m15 0h1m10 0h1m1 0h2m1 0h3m1 0h4m1 0h1m4 0h2m1 0h2m2 0h3m1 0h1m2 0h3m4 0h1m1 0h1m4 0h1m9 0h2m1 0h1m7 0h1m4 0h1m1 0h1m18 0h1m2 0h1m10 0h1M469 1333.5h1m9 0h1m24 0h1m1 0h2m4 0h1m6 0h1m3 0h1m3 0h1m5 0h2m2 0h1m6 0h1m20 0h1m1 0h1m8 0h1m3 0h1m7 0h1m10 0h1m16 0h1m1 0h1m1 0h1m1 0h26m1 0h4m1 0h7m1 0h4m1 0h2m2 0h10m2 0h1m13 0h1m5 0h2m1 0h1m1 0h1m4 0h4m1 0h1m2 0h1m1 0h1m1 0h2m1 0h1m1 0h2m1 0h1m1 0h1m1 0h2m2 0h1m3 0h3m1 0h7m7 0h1m17 0h1m24 0h1m3 0h1M406 1334.5h1m34 0h1m27 0h2m25 0h2m10 0h2m3 0h1m1 0h1m1 0h1m2 0h1m3 0h1m8 0h1m3 0h1m11 0h1m2 0h1m9 0h1m8 0h1m2 0h1m1 0h1m12 0h2m5 0h1m16 0h2m2 0h3m1 0h1m2 0h1m1 0h7m1 0h12m1 0h5m1 0h1m1 0h25m3 0h1m6 0h1m3 0h1m5 0h2m2 0h1m2 0h2m1 0h1m1 0h3m1 0h2m1 0h2m1 0h7m1 0h11m1 0h2m1 0h3m3 0h3m2 0h1m2 0h1m5 0h2m13 0h1m15 0h1m11 0h1m1 0h1M425 1335.5h1m20 0h1m5 0h1m14 0h1m23 0h1m15 0h2m6 0h1m6 0h1m17 0h1m5 0h1m25 0h1m2 0h1m7 0h1m2 0h1m3 0h1m5 0h1m2 0h1m2 0h1m1 0h1m10 0h1m1 0h1m1 0h2m2 0h5m1 0h15m1 0h4m1 0h11m2 0h17m1 0h1m2 0h1m12 0h1m2 0h1m1 0h1m4 0h25m1 0h6m1 0h3m1 0h1m2 0h4m1 0h2m1 0h1m7 0h1m4 0h1m2 0h1m11 0h1m7 0h1m1 0h1m3 0h1m5 0h1m3 0h1m5 0h1M468 1336.5h2m7 0h1m19 0h1m3 0h1m2 0h2m2 0h1m1 0h1m1 0h1m1 0h1m2 0h1m1 0h1m3 0h1m2 0h1m7 0h1m3 0h2m2 0h1m6 0h1m18 0h2m6 0h1m19 0h1m10 0h1m2 0h1m5 0h9m1 0h5m1 0h9m1 0h39m1 0h2m10 0h1m1 0h3m2 0h1m2 0h4m1 0h9m1 0h2m1 0h3m1 0h20m1 0h1m1 0h2m2 0h1m1 0h2m5 0h1m4 0h1m14 0h1m3 0h1m11 0h1m2 0h1m9 0h2M495 1337.5h1m1 0h1m1 0h3m1 0h1m3 0h6m2 0h4m1 0h1m2 0h2m1 0h2m36 0h1m1 0h1m2 0h1m3 0h2m2 0h1m1 0h1m9 0h1m4 0h3m4 0h1m4 0h1m4 0h1m2 0h2m1 0h1m1 0h6m1 0h5m1 0h2m1 0h4m1 0h19m1 0h22m1 0h2m9 0h1m1 0h1m2 0h1m2 0h1m1 0h2m2 0h47m3 0h1m1 0h1m2 0h2m2 0h1m8 0h1m8 0h1m8 0h2m9 0h1m7 0h1M437 1338.5h1m61 0h2m1 0h2m1 0h10m1 0h2m1 0h3m1 0h5m4 0h1m7 0h1m1 0h1m1 0h2m1 0h1m3 0h1m3 0h1m1 0h1m1 0h1m4 0h1m4 0h1m8 0h2m2 0h1m21 0h1m5 0h1m1 0h3m1 0h2m1 0h5m1 0h5m1 0h3m1 0h7m1 0h20m1 0h6m1 0h4m1 0h6m1 0h1m1 0h1m3 0h1m1 0h2m1 0h2m4 0h2m1 0h1m1 0h4m1 0h12m1 0h25m1 0h3m1 0h1m2 0h2m1 0h3m1 0h2m8 0h1m12 0h1m19 0h2m6 0h1M459 1339.5h1m25 0h1m4 0h1m5 0h1m1 0h1m1 0h5m1 0h7m1 0h1m2 0h7m1 0h5m1 0h1m6 0h1m2 0h1m4 0h1m3 0h1m2 0h3m11 0h1m2 0h1m1 0h1m9 0h1m5 0h1m1 0h1m4 0h1m6 0h1m7 0h2m2 0h3m1 0h3m1 0h38m1 0h20m1 0h5m3 0h1m1 0h2m1 0h1m2 0h1m2 0h2m1 0h29m1 0h2m1 0h7m1 0h14m1 0h5m2 0h1m2 0h1m2 0h1m24 0h3m7 0h2m5 0h1M425 1340.5h1m33 0h1m8 0h1m13 0h1m6 0h1m3 0h1m1 0h2m1 0h1m1 0h5m1 0h2m1 0h5m1 0h4m1 0h6m3 0h1m9 0h1m9 0h1m2 0h1m10 0h1m6 0h1m4 0h1m5 0h1m8 0h1m6 0h1m5 0h1m3 0h1m5 0h7m1 0h31m1 0h31m1 0h2m2 0h1m4 0h4m2 0h1m1 0h7m1 0h10m1 0h41m6 0h1m1 0h1m1 0h1m3 0h1m8 0h1m2 0h2m13 0h1m1 0h3m6 0h1M438 1341.5h1m22 0h1m34 0h3m2 0h4m2 0h4m1 0h6m1 0h2m1 0h3m4 0h2m10 0h1m9 0h1m5 0h1m7 0h1m1 0h2m8 0h1m4 0h1m3 0h1m2 0h1m6 0h1m1 0h1m2 0h1m4 0h1m3 0h3m1 0h10m1 0h11m1 0h1m1 0h2m1 0h5m1 0h5m2 0h2m1 0h3m1 0h1m1 0h3m1 0h19m2 0h1m1 0h1m1 0h1m1 0h36m1 0h1m1 0h25m1 0h2m3 0h2m1 0h2m1 0h3m2 0h1m10 0h1m3 0h1m3 0h1m2 0h1m2 0h2m3 0h3m2 0h2m2 0h1M422 1342.5h1m59 0h1m9 0h1m2 0h1m1 0h2m2 0h16m1 0h8m3 0h1m1 0h1m2 0h1m2 0h2m1 0h1m1 0h1m9 0h1m2 0h1m1 0h1m2 0h1m2 0h1m5 0h1m3 0h1m12 0h2m1 0h1m6 0h1m4 0h2m1 0h1m1 0h1m1 0h2m1 0h35m2 0h6m2 0h8m1 0h13m1 0h12m1 0h1m1 0h24m1 0h23m1 0h5m1 0h2m1 0h12m2 0h4m1 0h1m1 0h2m3 0h1m1 0h1m2 0h1m13 0h1m2 0h1m2 0h1m3 0h1m1 0h2m2 0h1M444 1343.5h1m18 0h1m25 0h1m4 0h2m1 0h4m1 0h1m1 0h2m1 0h13m2 0h2m3 0h2m5 0h1m4 0h1m1 0h1m12 0h2m3 0h2m2 0h1m7 0h2m5 0h1m5 0h1m4 0h1m5 0h1m4 0h1m1 0h1m1 0h2m2 0h31m1 0h11m1 0h4m1 0h2m1 0h2m1 0h3m1 0h20m1 0h1m1 0h18m1 0h2m1 0h1m1 0h9m1 0h2m1 0h4m1 0h10m1 0h13m1 0h13m2 0h3m1 0h1m4 0h1m2 0h2m4 0h1m9 0h5m1 0h1m4 0h1m3 0h1M459 1344.5h1m33 0h3m2 0h1m2 0h1m1 0h14m1 0h5m2 0h4m1 0h2m1 0h1m10 0h1m7 0h1m4 0h1m1 0h1m8 0h1m3 0h1m1 0h2m2 0h1m1 0h1m1 0h1m2 0h1m5 0h1m6 0h1m4 0h1m1 0h2m1 0h2m1 0h12m1 0h6m3 0h15m1 0h10m2 0h7m1 0h6m1 0h4m1 0h2m3 0h3m1 0h2m1 0h3m1 0h1m1 0h1m2 0h1m1 0h6m1 0h3m2 0h16m1 0h6m2 0h24m1 0h11m1 0h4m1 0h1m1 0h1m2 0h1m2 0h1m1 0h1m3 0h2m2 0h2m1 0h4m3 0h5M486 1345.5h1m1 0h1m3 0h1m2 0h3m1 0h2m1 0h7m1 0h1m1 0h3m2 0h1m1 0h1m1 0h2m1 0h1m1 0h1m2 0h2m5 0h1m15 0h1m2 0h1m5 0h1m4 0h1m1 0h1m4 0h1m3 0h1m2 0h2m2 0h1m7 0h1m4 0h2m5 0h2m1 0h1m1 0h20m1 0h15m1 0h6m3 0h2m1 0h1m1 0h16m2 0h5m1 0h34m2 0h3m1 0h13m1 0h31m1 0h5m1 0h3m2 0h2m1 0h5m2 0h1m1 0h2m1 0h1m1 0h1m2 0h1m3 0h3m1 0h7M492 1346.5h3m1 0h5m1 0h3m1 0h2m2 0h1m1 0h1m1 0h8m2 0h2m1 0h1m1 0h2m3 0h2m3 0h2m2 0h2m12 0h1m6 0h1m4 0h1m1 0h1m7 0h1m3 0h1m11 0h1m4 0h3m3 0h8m1 0h14m1 0h16m1 0h4m1 0h3m1 0h6m1 0h6m1 0h11m1 0h1m1 0h5m2 0h3m1 0h7m1 0h5m1 0h22m1 0h28m1 0h1m2 0h4m1 0h7m2 0h1m2 0h7m2 0h2m1 0h2m1 0h3m1 0h15M489 1347.5h1m5 0h2m1 0h6m2 0h1m1 0h4m1 0h9m1 0h3m1 0h1m1 0h1m13 0h1m1 0h1m4 0h1m3 0h1m16 0h1m3 0h1m7 0h1m4 0h3m3 0h1m6 0h1m2 0h12m1 0h16m2 0h16m1 0h4m3 0h10m1 0h25m1 0h12m1 0h7m1 0h11m1 0h14m1 0h2m1 0h9m1 0h5m1 0h9m1 0h1m1 0h6m1 0h2m2 0h2m4 0h24M487 1348.5h1m4 0h7m1 0h4m1 0h1m1 0h17m1 0h2m1 0h1m1 0h2m2 0h1m8 0h1m5 0h1m8 0h1m8 0h2m7 0h1m3 0h1m1 0h1m1 0h2m7 0h1m2 0h1m1 0h3m2 0h24m1 0h10m1 0h9m1 0h15m1 0h32m1 0h4m1 0h4m2 0h4m1 0h3m1 0h4m1 0h6m1 0h9m2 0h13m1 0h10m1 0h9m1 0h6m1 0h5m5 0h3m1 0h7m1 0h1m1 0h5m2 0h2M442 1349.5h1m46 0h1m1 0h1m1 0h2m1 0h8m1 0h8m1 0h6m1 0h4m1 0h3m6 0h1m9 0h1m15 0h1m8 0h2m1 0h1m3 0h1m5 0h1m2 0h1m6 0h1m2 0h8m1 0h17m1 0h4m1 0h1m1 0h4m1 0h9m1 0h7m1 0h2m1 0h2m1 0h11m1 0h3m1 0h14m2 0h2m1 0h14m1 0h1m1 0h20m1 0h9m1 0h42m1 0h1m1 0h1m1 0h4m3 0h12m1 0h7M377 1350.5h1m88 0h1m8 0h1m4 0h1m8 0h1m3 0h1m1 0h1m1 0h1m1 0h4m1 0h20m2 0h1m1 0h1m3 0h1m1 0h1m2 0h1m3 0h1m2 0h1m12 0h1m7 0h1m8 0h1m10 0h1m1 0h1m4 0h1m2 0h1m3 0h11m1 0h1m1 0h4m1 0h6m2 0h2m1 0h3m1 0h5m1 0h4m1 0h16m2 0h2m1 0h2m1 0h2m1 0h15m1 0h1m3 0h2m2 0h10m1 0h5m2 0h5m1 0h17m1 0h13m1 0h3m1 0h5m1 0h20m1 0h4m1 0h1m1 0h1m2 0h10m1 0h4m3 0h6M382 1351.5h1m49 0h1m59 0h1m3 0h4m2 0h6m1 0h16m2 0h1m1 0h1m8 0h1m7 0h1m5 0h1m3 0h1m2 0h1m4 0h1m6 0h4m15 0h1m1 0h2m3 0h2m3 0h6m1 0h1m1 0h4m1 0h3m1 0h1m1 0h4m1 0h20m1 0h8m1 0h5m2 0h19m1 0h5m1 0h23m1 0h1m1 0h3m1 0h3m1 0h7m1 0h9m1 0h7m1 0h5m1 0h9m1 0h3m1 0h25m1 0h7m1 0h12M451 1352.5h1m37 0h2m2 0h1m1 0h2m1 0h9m1 0h5m1 0h2m1 0h5m1 0h3m3 0h1m2 0h1m11 0h1m8 0h1m1 0h1m9 0h1m9 0h1m2 0h1m2 0h2m5 0h1m4 0h1m4 0h2m1 0h11m1 0h4m1 0h1m2 0h6m1 0h7m1 0h8m1 0h3m2 0h7m1 0h11m1 0h30m1 0h27m1 0h17m1 0h14m1 0h1m1 0h7m2 0h29m1 0h4m1 0h7M363 1353.5h1m68 0h1m59 0h1m1 0h1m1 0h3m1 0h6m1 0h2m1 0h10m1 0h1m1 0h2m7 0h1m4 0h1m10 0h1m2 0h2m2 0h1m3 0h1m5 0h1m3 0h2m5 0h1m10 0h1m3 0h1m3 0h2m3 0h1m1 0h25m1 0h13m1 0h8m1 0h10m1 0h3m1 0h3m1 0h1m1 0h1m1 0h5m1 0h13m1 0h14m1 0h2m1 0h4m1 0h3m1 0h11m1 0h1m1 0h1m1 0h4m1 0h8m1 0h5m1 0h4m1 0h2m1 0h13m1 0h5m1 0h8m1 0h7m1 0h3m2 0h7m1 0h1M403 1354.5h1m29 0h1m54 0h1m2 0h4m3 0h1m1 0h4m1 0h6m1 0h7m1 0h4m1 0h1m1 0h1m7 0h2m9 0h1m2 0h1m14 0h1m3 0h2m1 0h1m4 0h1m4 0h1m11 0h1m5 0h8m1 0h3m1 0h6m1 0h3m1 0h4m1 0h11m1 0h17m1 0h9m1 0h8m1 0h17m1 0h10m1 0h2m1 0h8m1 0h1m2 0h1m2 0h9m1 0h7m1 0h4m1 0h26m1 0h1m1 0h3m1 0h32m1 0h3M381 1355.5h1m108 0h1m1 0h1m1 0h32m6 0h2m7 0h1m17 0h1m1 0h1m5 0h2m2 0h1m1 0h2m1 0h1m4 0h1m3 0h1m5 0h1m1 0h2m3 0h5m1 0h17m1 0h9m1 0h4m1 0h4m1 0h2m1 0h1m1 0h2m1 0h2m2 0h4m2 0h15m1 0h8m1 0h9m2 0h5m1 0h5m1 0h2m1 0h4m1 0h1m2 0h21m1 0h1m1 0h15m1 0h42m1 0h7m1 0h4M467 1356.5h1m19 0h1m1 0h2m3 0h1m1 0h9m1 0h2m1 0h5m1 0h2m1 0h5m1 0h1m8 0h1m2 0h1m2 0h2m21 0h1m3 0h1m10 0h1m7 0h3m2 0h2m1 0h2m2 0h3m1 0h3m1 0h2m1 0h18m1 0h2m1 0h9m1 0h2m1 0h3m1 0h3m1 0h2m1 0h3m1 0h4m1 0h9m1 0h1m1 0h3m1 0h10m2 0h6m1 0h6m1 0h13m1 0h1m1 0h13m1 0h1m1 0h1m1 0h6m1 0h11m1 0h7m1 0h12m1 0h18m1 0h3m1 0h6m1 0h7M480 1357.5h1m6 0h1m4 0h4m1 0h3m1 0h3m1 0h1m2 0h2m1 0h4m1 0h2m3 0h3m2 0h2m2 0h1m6 0h1m6 0h1m2 0h2m17 0h1m2 0h2m3 0h1m7 0h1m6 0h2m1 0h3m2 0h29m1 0h14m1 0h4m1 0h1m1 0h18m1 0h7m1 0h1m1 0h9m1 0h19m1 0h1m2 0h13m1 0h8m1 0h6m1 0h7m1 0h17m1 0h19m1 0h20m1 0h2m1 0h5M374 1358.5h1m69 0h1m12 0h1m10 0h1m6 0h1m13 0h1m2 0h1m3 0h7m2 0h4m1 0h2m2 0h1m2 0h2m1 0h2m1 0h2m1 0h1m7 0h1m9 0h1m4 0h1m6 0h1m4 0h3m1 0h1m1 0h1m3 0h2m5 0h1m2 0h3m2 0h1m1 0h2m1 0h2m3 0h1m1 0h27m1 0h2m1 0h29m1 0h1m1 0h4m1 0h1m1 0h8m1 0h5m1 0h6m1 0h3m2 0h5m1 0h5m1 0h5m1 0h9m2 0h5m1 0h6m1 0h3m1 0h3m1 0h14m1 0h3m1 0h33m1 0h1m1 0h3m1 0h4m1 0h7M428 1359.5h1m59 0h1m1 0h1m2 0h3m1 0h4m1 0h5m1 0h3m2 0h7m1 0h3m1 0h1m1 0h1m1 0h1m9 0h1m3 0h1m3 0h1m11 0h1m2 0h1m6 0h1m1 0h2m1 0h1m1 0h1m10 0h1m1 0h1m4 0h15m2 0h16m1 0h6m1 0h4m1 0h4m1 0h1m1 0h3m1 0h4m1 0h1m1 0h4m1 0h2m1 0h7m1 0h3m1 0h17m1 0h18m1 0h10m2 0h14m1 0h2m1 0h2m1 0h2m1 0h9m1 0h21m1 0h22m1 0h3m1 0h2m1 0h1m1 0h1M448 1360.5h1m38 0h1m1 0h1m2 0h1m1 0h2m1 0h2m1 0h9m1 0h7m2 0h5m2 0h1m2 0h1m6 0h1m2 0h1m7 0h1m1 0h1m6 0h1m7 0h3m2 0h1m2 0h1m9 0h3m1 0h1m7 0h11m1 0h19m1 0h7m1 0h6m1 0h9m1 0h5m1 0h3m1 0h4m1 0h3m1 0h2m1 0h5m1 0h6m1 0h22m1 0h2m1 0h4m1 0h1m1 0h5m1 0h1m1 0h9m1 0h8m1 0h4m1 0h4m1 0h3m1 0h14m1 0h5m1 0h8m1 0h7m1 0h4m2 0h11M467 1361.5h1m18 0h1m3 0h2m1 0h1m2 0h15m1 0h2m2 0h1m2 0h1m2 0h5m1 0h1m3 0h1m11 0h1m2 0h1m7 0h1m9 0h1m9 0h2m4 0h1m1 0h4m2 0h4m1 0h3m1 0h2m1 0h8m1 0h2m2 0h1m3 0h1m1 0h7m1 0h4m1 0h3m1 0h10m1 0h2m1 0h1m1 0h8m1 0h6m1 0h8m1 0h16m1 0h8m1 0h6m2 0h9m1 0h2m1 0h2m1 0h8m1 0h13m1 0h5m1 0h7m1 0h7m1 0h6m1 0h18m1 0h10m1 0h6M430 1362.5h1m56 0h1m5 0h2m2 0h5m1 0h5m1 0h1m2 0h8m1 0h3m2 0h1m3 0h1m1 0h2m10 0h1m3 0h2m4 0h1m2 0h1m13 0h1m4 0h1m8 0h1m1 0h1m3 0h4m1 0h2m1 0h20m2 0h20m1 0h9m1 0h19m1 0h2m1 0h1m1 0h10m1 0h4m1 0h13m3 0h1m1 0h7m1 0h1m2 0h3m1 0h1m1 0h12m1 0h1m1 0h16m1 0h2m1 0h3m1 0h13m1 0h7m1 0h14m1 0h8m1 0h2M490 1363.5h1m2 0h1m1 0h4m1 0h2m1 0h4m2 0h4m2 0h2m1 0h4m1 0h1m1 0h3m10 0h1m19 0h1m4 0h1m7 0h1m2 0h1m1 0h1m1 0h3m1 0h1m3 0h2m1 0h8m2 0h8m2 0h19m1 0h4m1 0h3m3 0h10m1 0h3m1 0h7m1 0h4m1 0h4m1 0h5m1 0h2m2 0h1m2 0h20m2 0h1m1 0h6m1 0h6m1 0h4m1 0h6m1 0h2m1 0h1m1 0h2m2 0h2m1 0h6m1 0h6m1 0h13m3 0h28m2 0h6M421 1364.5h1m9 0h1m56 0h1m5 0h2m1 0h1m1 0h5m1 0h10m1 0h1m1 0h4m1 0h1m2 0h1m1 0h1m7 0h2m1 0h1m15 0h2m14 0h1m5 0h1m1 0h1m8 0h1m3 0h1m3 0h1m1 0h9m1 0h7m1 0h17m1 0h3m1 0h3m1 0h8m1 0h6m1 0h26m1 0h15m1 0h3m1 0h2m1 0h2m1 0h1m1 0h1m2 0h6m1 0h1m1 0h2m1 0h2m1 0h2m2 0h4m1 0h2m1 0h12m1 0h2m1 0h7m1 0h2m1 0h3m1 0h1m1 0h4m5 0h1m1 0h3m1 0h3m1 0h9m1 0h9m1 0h1M426 1365.5h1m63 0h2m2 0h7m1 0h1m1 0h2m1 0h9m2 0h6m2 0h1m4 0h1m9 0h3m10 0h1m1 0h2m1 0h1m2 0h1m2 0h1m4 0h1m2 0h1m1 0h1m1 0h2m5 0h1m2 0h2m5 0h1m1 0h2m1 0h2m1 0h26m2 0h16m1 0h6m1 0h2m1 0h10m1 0h9m1 0h6m1 0h4m1 0h50m1 0h7m2 0h14m2 0h3m2 0h1m1 0h3m1 0h6m1 0h8m1 0h2m1 0h6m1 0h8m1 0h1m1 0h2M404 1366.5h1m38 0h1m46 0h1m1 0h3m2 0h1m1 0h1m1 0h1m1 0h1m1 0h2m1 0h1m1 0h1m1 0h11m1 0h3m11 0h1m3 0h2m8 0h1m5 0h2m2 0h2m3 0h2m4 0h1m4 0h1m3 0h1m4 0h1m2 0h1m1 0h2m2 0h7m1 0h9m1 0h2m1 0h2m1 0h3m2 0h5m1 0h26m1 0h5m1 0h5m1 0h4m1 0h8m3 0h1m1 0h8m2 0h1m1 0h2m1 0h4m1 0h1m1 0h1m1 0h1m1 0h10m1 0h2m1 0h5m1 0h5m1 0h16m1 0h2m1 0h2m1 0h1m1 0h1m1 0h20m1 0h3m1 0h3m1 0h20M427 1367.5h1m58 0h1m3 0h2m1 0h1m2 0h20m3 0h5m1 0h1m6 0h1m2 0h1m3 0h3m8 0h1m4 0h1m4 0h1m3 0h1m12 0h1m3 0h1m1 0h1m2 0h1m3 0h1m1 0h4m2 0h24m1 0h2m1 0h1m1 0h9m1 0h4m1 0h4m1 0h1m1 0h5m1 0h10m1 0h10m1 0h16m1 0h3m1 0h3m1 0h17m1 0h3m1 0h4m1 0h11m1 0h8m1 0h23m1 0h13m1 0h14m1 0h2m2 0h5m1 0h1M466 1368.5h1m23 0h1m1 0h1m6 0h5m3 0h2m1 0h2m2 0h4m1 0h5m1 0h2m2 0h1m5 0h1m15 0h1m1 0h1m4 0h1m5 0h2m9 0h2m7 0h1m2 0h2m1 0h1m1 0h2m1 0h4m1 0h1m1 0h10m1 0h2m1 0h4m2 0h5m2 0h14m1 0h1m1 0h5m1 0h10m2 0h3m1 0h9m1 0h7m1 0h10m1 0h4m1 0h16m2 0h21m1 0h7m1 0h1m1 0h14m1 0h4m1 0h6m2 0h15m1 0h16m1 0h3M488 1369.5h1m4 0h1m2 0h8m1 0h1m1 0h4m1 0h6m1 0h2m1 0h4m3 0h1m15 0h1m9 0h1m3 0h5m1 0h1m3 0h1m6 0h1m3 0h1m9 0h4m2 0h3m1 0h24m1 0h14m1 0h2m2 0h6m1 0h5m2 0h1m2 0h5m1 0h1m1 0h9m1 0h2m1 0h8m1 0h2m2 0h5m1 0h5m1 0h4m1 0h11m1 0h17m2 0h12m1 0h4m1 0h3m1 0h5m1 0h1m1 0h8m1 0h5m1 0h6m1 0h4m1 0h1m2 0h1m1 0h4m1 0h1m1 0h2m1 0h1M394 1370.5h1m99 0h1m3 0h3m3 0h2m2 0h1m1 0h1m1 0h2m1 0h1m1 0h1m1 0h6m4 0h1m5 0h1m2 0h1m5 0h1m5 0h2m2 0h1m7 0h1m4 0h1m4 0h1m8 0h1m1 0h1m2 0h1m1 0h2m1 0h2m1 0h1m2 0h7m1 0h3m2 0h22m1 0h3m1 0h1m1 0h1m2 0h6m1 0h1m1 0h2m1 0h4m1 0h9m1 0h7m1 0h7m1 0h13m1 0h5m1 0h8m2 0h12m1 0h14m1 0h4m1 0h15m1 0h2m1 0h2m1 0h5m1 0h7m1 0h2m1 0h6m1 0h18m1 0h1m1 0h1M432 1371.5h1m46 0h1m4 0h1m3 0h2m4 0h6m2 0h4m2 0h1m1 0h8m1 0h1m1 0h1m1 0h3m1 0h2m19 0h1m4 0h1m1 0h1m4 0h2m1 0h3m4 0h1m3 0h1m1 0h1m4 0h1m2 0h1m2 0h1m2 0h3m2 0h3m1 0h19m1 0h7m1 0h1m1 0h9m1 0h5m3 0h24m1 0h2m3 0h16m1 0h1m1 0h12m2 0h3m1 0h3m1 0h3m1 0h2m1 0h1m1 0h1m1 0h2m1 0h16m1 0h24m1 0h7m1 0h6m1 0h10m1 0h13M431 1372.5h1m11 0h1m7 0h1m8 0h1m3 0h1m25 0h1m2 0h4m2 0h9m3 0h5m1 0h1m2 0h2m1 0h1m1 0h2m2 0h1m6 0h1m10 0h1m20 0h1m14 0h1m3 0h1m5 0h2m2 0h2m1 0h9m1 0h12m2 0h1m1 0h29m1 0h1m1 0h6m1 0h2m2 0h2m1 0h2m1 0h11m1 0h2m1 0h1m1 0h2m1 0h5m1 0h2m1 0h8m2 0h5m1 0h5m1 0h5m1 0h3m1 0h8m1 0h2m1 0h8m1 0h8m1 0h3m1 0h2m1 0h8m2 0h19m2 0h1m1 0h4m1 0h2m1 0h2M444 1373.5h1m27 0h1m3 0h1m16 0h1m1 0h4m1 0h1m2 0h2m1 0h2m1 0h2m3 0h1m2 0h5m1 0h2m1 0h1m1 0h1m6 0h1m2 0h1m23 0h1m1 0h1m9 0h1m2 0h2m4 0h1m1 0h1m4 0h3m1 0h3m1 0h7m1 0h1m1 0h16m1 0h1m1 0h4m1 0h2m2 0h2m2 0h2m1 0h2m1 0h2m3 0h4m1 0h12m2 0h5m1 0h17m1 0h12m1 0h2m2 0h4m2 0h1m1 0h3m1 0h5m1 0h3m1 0h7m2 0h10m1 0h10m1 0h7m1 0h19m1 0h3m1 0h20M487 1374.5h1m2 0h1m1 0h3m1 0h3m1 0h3m1 0h1m1 0h7m2 0h5m1 0h3m2 0h1m3 0h2m16 0h1m2 0h1m7 0h2m3 0h1m5 0h1m8 0h1m5 0h1m3 0h1m1 0h4m1 0h1m1 0h1m1 0h18m1 0h1m1 0h25m2 0h1m1 0h9m1 0h2m1 0h17m2 0h6m1 0h1m1 0h4m1 0h15m2 0h10m2 0h3m1 0h4m1 0h2m1 0h18m1 0h2m1 0h3m2 0h7m1 0h10m1 0h1m1 0h17m3 0h10M484 1375.5h1m5 0h2m3 0h5m1 0h1m1 0h1m1 0h2m2 0h3m1 0h2m2 0h1m2 0h1m1 0h4m1 0h2m3 0h2m1 0h1m1 0h1m27 0h1m4 0h1m2 0h1m2 0h1m4 0h1m3 0h1m1 0h5m1 0h16m1 0h5m1 0h8m1 0h3m1 0h5m1 0h17m1 0h4m1 0h5m1 0h1m1 0h1m1 0h11m1 0h3m1 0h2m1 0h12m1 0h14m1 0h2m1 0h3m1 0h17m1 0h16m2 0h4m1 0h6m1 0h2m1 0h1m1 0h19m2 0h13m1 0h2m1 0h2M435 1376.5h1m52 0h1m2 0h3m2 0h7m1 0h2m2 0h2m1 0h1m2 0h3m1 0h2m2 0h2m2 0h1m2 0h1m6 0h1m1 0h1m7 0h1m1 0h1m30 0h1m1 0h1m3 0h1m2 0h1m1 0h1m1 0h7m1 0h6m2 0h2m1 0h6m1 0h15m3 0h13m1 0h1m1 0h3m1 0h3m1 0h11m1 0h19m1 0h1m1 0h13m1 0h4m1 0h6m4 0h1m1 0h4m1 0h6m1 0h4m1 0h2m2 0h2m1 0h8m2 0h3m1 0h2m1 0h4m1 0h2m1 0h2m1 0h3m1 0h3m1 0h4m1 0h12m1 0h1m1 0h1m1 0h6m2 0h1M373 1377.5h1m49 0h1m4 0h1m5 0h1m19 0h1m8 0h1m1 0h1m24 0h1m4 0h3m2 0h2m1 0h1m2 0h2m1 0h1m1 0h1m2 0h1m2 0h2m2 0h1m1 0h2m1 0h2m1 0h2m5 0h1m3 0h1m2 0h1m3 0h1m8 0h1m1 0h1m6 0h1m1 0h1m19 0h2m1 0h2m1 0h3m2 0h8m1 0h18m1 0h21m1 0h6m1 0h4m1 0h7m1 0h2m1 0h1m2 0h5m1 0h4m1 0h1m1 0h3m1 0h2m1 0h7m1 0h16m1 0h17m2 0h1m1 0h4m2 0h7m1 0h5m1 0h6m1 0h1m1 0h4m1 0h7m1 0h5m1 0h12m1 0h14M465 1378.5h1m2 0h1m17 0h1m1 0h3m1 0h2m1 0h4m1 0h1m2 0h4m3 0h2m1 0h3m2 0h8m2 0h1m3 0h1m1 0h1m7 0h1m4 0h1m2 0h2m10 0h1m2 0h1m3 0h1m6 0h1m1 0h2m2 0h1m3 0h1m2 0h1m1 0h4m1 0h32m1 0h7m1 0h3m1 0h5m1 0h3m1 0h4m1 0h4m1 0h5m1 0h1m1 0h2m1 0h4m1 0h1m2 0h3m1 0h13m1 0h6m2 0h1m1 0h13m1 0h10m1 0h7m1 0h2m1 0h5m1 0h6m2 0h2m1 0h6m1 0h12m1 0h1m1 0h7m1 0h5m1 0h1m1 0h10m2 0h5M428 1379.5h1m13 0h1m6 0h1m7 0h1m34 0h1m3 0h2m3 0h2m2 0h2m1 0h1m3 0h1m1 0h7m1 0h2m1 0h3m1 0h3m1 0h1m22 0h1m20 0h1m3 0h1m2 0h1m2 0h2m4 0h1m1 0h16m1 0h5m2 0h6m1 0h2m1 0h7m1 0h15m1 0h1m2 0h9m1 0h2m1 0h1m1 0h1m1 0h1m1 0h1m2 0h1m1 0h1m2 0h4m1 0h5m1 0h7m1 0h1m1 0h2m1 0h6m1 0h2m1 0h1m1 0h1m1 0h2m1 0h2m1 0h2m1 0h2m1 0h1m1 0h6m2 0h20m1 0h2m2 0h3m1 0h8m1 0h6m1 0h3m1 0h1m1 0h3m1 0h3m2 0h2m1 0h10M470 1380.5h1m16 0h2m5 0h2m1 0h4m1 0h1m1 0h1m3 0h2m1 0h4m2 0h3m2 0h4m3 0h1m12 0h1m7 0h1m9 0h1m8 0h1m6 0h1m4 0h1m4 0h1m2 0h2m1 0h3m1 0h1m1 0h13m1 0h6m1 0h12m1 0h4m1 0h3m1 0h5m1 0h1m1 0h1m3 0h6m1 0h3m1 0h10m1 0h11m1 0h5m1 0h11m1 0h3m1 0h1m1 0h4m1 0h6m1 0h1m1 0h13m1 0h6m1 0h6m2 0h9m1 0h9m1 0h6m1 0h2m1 0h7m1 0h4m2 0h8m1 0h3m1 0h3m1 0h1M447 1381.5h2m42 0h4m1 0h5m1 0h2m3 0h2m1 0h3m1 0h2m2 0h3m1 0h2m1 0h1m1 0h1m1 0h1m4 0h1m4 0h1m1 0h1m24 0h1m2 0h1m5 0h1m4 0h1m5 0h1m6 0h5m1 0h2m1 0h9m1 0h13m2 0h10m1 0h10m2 0h12m1 0h4m1 0h7m1 0h3m1 0h2m1 0h6m1 0h1m1 0h1m1 0h4m1 0h5m3 0h11m2 0h16m1 0h1m2 0h8m1 0h2m2 0h1m1 0h5m3 0h11m1 0h5m2 0h17m1 0h2m1 0h2m2 0h9M492 1382.5h3m1 0h2m3 0h1m2 0h1m2 0h1m3 0h2m1 0h2m1 0h1m1 0h2m2 0h2m1 0h1m3 0h1m9 0h1m17 0h1m5 0h1m12 0h1m3 0h1m4 0h1m1 0h3m2 0h1m1 0h7m1 0h5m1 0h4m1 0h1m2 0h14m1 0h3m1 0h11m2 0h7m1 0h5m1 0h4m1 0h1m1 0h7m1 0h4m1 0h6m1 0h8m1 0h1m1 0h2m1 0h7m1 0h16m1 0h10m1 0h6m1 0h3m1 0h13m1 0h2m1 0h3m1 0h1m2 0h1m1 0h3m1 0h5m1 0h4m1 0h1m1 0h6m1 0h6m1 0h1m1 0h2m1 0h3M469 1383.5h1m3 0h1m12 0h1m6 0h5m3 0h1m1 0h3m3 0h3m1 0h1m1 0h1m1 0h2m3 0h2m13 0h1m11 0h1m1 0h1m2 0h1m11 0h1m3 0h1m3 0h1m5 0h2m9 0h1m2 0h1m1 0h5m1 0h7m1 0h12m1 0h4m1 0h5m2 0h8m1 0h8m1 0h2m1 0h12m1 0h9m1 0h6m1 0h2m1 0h4m1 0h5m1 0h21m2 0h1m1 0h9m2 0h1m1 0h2m2 0h4m1 0h15m2 0h3m1 0h10m1 0h4m1 0h6m1 0h9m1 0h6m1 0h3m1 0h4M437 1384.5h1m3 0h1m2 0h1m39 0h1m2 0h1m7 0h3m1 0h3m1 0h1m2 0h2m1 0h3m1 0h3m1 0h5m5 0h1m12 0h1m16 0h1m3 0h1m1 0h1m3 0h1m3 0h1m9 0h1m1 0h1m1 0h3m2 0h2m1 0h4m1 0h26m1 0h7m1 0h10m1 0h9m1 0h7m1 0h7m2 0h17m1 0h8m1 0h7m1 0h4m1 0h1m1 0h5m1 0h2m1 0h5m2 0h5m1 0h3m2 0h10m1 0h6m3 0h3m1 0h5m1 0h3m1 0h1m1 0h30m1 0h6m1 0h2M470 1385.5h1m21 0h3m1 0h1m2 0h2m1 0h2m1 0h2m1 0h2m1 0h5m1 0h6m3 0h2m1 0h1m2 0h1m7 0h1m7 0h1m4 0h1m2 0h1m4 0h1m12 0h1m5 0h1m2 0h1m1 0h1m3 0h8m2 0h8m1 0h17m1 0h2m1 0h2m1 0h6m2 0h4m1 0h5m1 0h4m2 0h6m1 0h3m1 0h3m1 0h2m1 0h8m1 0h5m2 0h19m2 0h4m2 0h4m1 0h3m1 0h10m1 0h1m1 0h2m1 0h2m2 0h12m1 0h2m1 0h3m2 0h9m1 0h5m1 0h6m1 0h1m1 0h7m1 0h8m1 0h4m1 0h1M468 1386.5h1m15 0h1m7 0h3m2 0h2m1 0h1m2 0h1m3 0h5m3 0h3m1 0h2m8 0h1m1 0h1m18 0h1m25 0h1m1 0h2m1 0h1m4 0h1m1 0h1m1 0h1m1 0h3m2 0h12m1 0h9m1 0h14m1 0h2m1 0h1m1 0h8m2 0h4m1 0h1m1 0h1m1 0h6m1 0h3m1 0h3m2 0h4m2 0h1m1 0h4m2 0h1m2 0h4m2 0h4m1 0h3m1 0h5m1 0h2m1 0h2m1 0h4m1 0h10m1 0h1m1 0h7m1 0h10m1 0h16m1 0h7m1 0h2m1 0h2m1 0h3m3 0h6m2 0h9m2 0h2M481 1387.5h1m4 0h1m4 0h3m2 0h5m3 0h2m1 0h1m4 0h4m1 0h3m1 0h3m1 0h1m3 0h1m9 0h1m1 0h1m19 0h1m10 0h1m8 0h1m1 0h1m7 0h2m2 0h11m1 0h5m1 0h3m1 0h9m1 0h18m1 0h3m1 0h2m1 0h2m1 0h11m1 0h26m1 0h8m1 0h2m1 0h3m2 0h4m1 0h1m1 0h2m2 0h3m1 0h1m1 0h3m1 0h4m1 0h6m1 0h1m1 0h12m1 0h1m1 0h12m1 0h3m3 0h6m1 0h6m2 0h10m1 0h9M489 1388.5h1m1 0h1m1 0h4m1 0h3m1 0h1m4 0h2m2 0h3m1 0h3m3 0h3m2 0h1m1 0h1m2 0h1m3 0h1m16 0h2m16 0h1m5 0h1m6 0h1m2 0h2m1 0h3m1 0h2m1 0h9m1 0h22m2 0h1m1 0h7m2 0h2m1 0h3m1 0h2m1 0h19m1 0h2m1 0h1m1 0h3m1 0h1m1 0h8m1 0h6m2 0h1m1 0h8m1 0h11m1 0h6m1 0h5m1 0h7m1 0h1m1 0h6m1 0h2m1 0h3m1 0h8m1 0h2m1 0h4m1 0h6m1 0h7m1 0h3m2 0h3m1 0h2m4 0h6m1 0h3M492 1389.5h1m1 0h1m1 0h2m3 0h4m1 0h1m1 0h1m2 0h4m1 0h5m1 0h1m1 0h1m13 0h1m5 0h1m5 0h1m4 0h2m1 0h1m3 0h1m20 0h1m2 0h1m1 0h1m1 0h1m6 0h14m1 0h5m1 0h7m1 0h7m1 0h14m1 0h3m2 0h13m1 0h7m1 0h11m1 0h12m1 0h2m1 0h14m1 0h5m1 0h1m1 0h2m1 0h8m1 0h2m1 0h8m1 0h2m3 0h1m1 0h2m1 0h5m1 0h15m1 0h5m1 0h6m1 0h2m1 0h10m3 0h1m1 0h2M465 1390.5h1m22 0h1m2 0h1m3 0h1m1 0h4m2 0h3m2 0h2m4 0h1m1 0h1m2 0h2m1 0h1m3 0h1m16 0h1m2 0h1m21 0h1m1 0h1m2 0h1m9 0h1m5 0h4m1 0h15m1 0h8m1 0h7m1 0h5m1 0h7m1 0h1m1 0h6m1 0h16m1 0h1m1 0h14m1 0h4m2 0h1m1 0h4m1 0h6m1 0h3m2 0h4m1 0h3m1 0h3m1 0h6m1 0h6m1 0h12m1 0h8m1 0h5m1 0h6m1 0h3m1 0h23m1 0h5m1 0h11M357 1391.5h1m16 0h1m116 0h1m1 0h3m8 0h3m1 0h5m3 0h1m2 0h2m2 0h3m5 0h1m4 0h1m4 0h2m8 0h1m1 0h1m5 0h1m1 0h1m4 0h1m4 0h1m7 0h1m2 0h1m1 0h2m1 0h2m2 0h4m1 0h8m1 0h25m1 0h4m1 0h9m1 0h2m1 0h6m1 0h17m1 0h5m3 0h6m3 0h11m1 0h4m1 0h2m1 0h1m1 0h10m1 0h1m4 0h2m1 0h9m1 0h2m1 0h3m1 0h2m1 0h5m1 0h8m1 0h1m1 0h10m1 0h2m1 0h15m1 0h1m1 0h4m1 0h3m1 0h3m1 0h2M341 1392.5h1m91 0h1m12 0h1m23 0h1m19 0h1m2 0h1m1 0h2m2 0h4m1 0h4m2 0h2m2 0h4m4 0h2m2 0h1m10 0h1m17 0h1m1 0h1m4 0h1m6 0h1m1 0h1m1 0h1m1 0h1m7 0h1m2 0h1m1 0h3m2 0h2m1 0h16m1 0h3m1 0h10m1 0h3m1 0h3m1 0h3m1 0h3m3 0h7m1 0h6m2 0h1m2 0h1m1 0h13m1 0h4m3 0h13m2 0h4m1 0h11m1 0h4m1 0h5m1 0h9m1 0h14m2 0h4m1 0h2m1 0h2m1 0h10m2 0h9m2 0h7m1 0h1m1 0h4m1 0h9M424 1393.5h1m43 0h1m21 0h2m2 0h1m2 0h1m2 0h4m2 0h2m1 0h1m1 0h1m1 0h1m2 0h2m2 0h2m1 0h1m7 0h1m4 0h1m5 0h1m17 0h1m4 0h1m1 0h2m3 0h1m4 0h3m6 0h4m1 0h1m1 0h1m3 0h5m1 0h1m1 0h7m1 0h5m2 0h7m1 0h9m1 0h19m1 0h5m1 0h11m1 0h2m1 0h17m1 0h13m1 0h2m1 0h19m1 0h11m3 0h12m2 0h5m1 0h6m1 0h2m1 0h4m1 0h14m1 0h4m2 0h1m1 0h7m1 0h2M446 1394.5h1m29 0h1m13 0h3m1 0h2m1 0h1m1 0h2m1 0h2m4 0h2m1 0h1m2 0h1m1 0h1m1 0h1m1 0h2m1 0h1m3 0h1m10 0h2m3 0h3m1 0h1m16 0h1m4 0h1m5 0h1m1 0h1m2 0h1m4 0h1m1 0h1m2 0h1m1 0h1m1 0h12m1 0h20m1 0h5m1 0h6m1 0h5m2 0h14m1 0h1m1 0h4m1 0h10m1 0h7m1 0h2m1 0h4m1 0h1m1 0h1m1 0h4m1 0h6m2 0h3m1 0h14m1 0h3m1 0h1m1 0h12m1 0h14m2 0h2m1 0h7m2 0h3m1 0h3m1 0h3m1 0h3m1 0h4m1 0h2m1 0h3m2 0h2m1 0h4M414 1395.5h1m50 0h1m22 0h1m2 0h1m4 0h2m6 0h2m2 0h3m1 0h1m4 0h1m1 0h2m2 0h2m2 0h1m8 0h1m2 0h1m3 0h2m11 0h1m2 0h1m7 0h1m9 0h1m1 0h1m5 0h1m2 0h2m1 0h2m1 0h1m1 0h29m1 0h2m2 0h9m1 0h3m1 0h3m1 0h16m1 0h5m1 0h4m1 0h2m1 0h9m1 0h2m1 0h1m1 0h5m1 0h8m1 0h4m1 0h1m1 0h7m1 0h3m1 0h3m1 0h5m2 0h2m1 0h6m1 0h3m1 0h5m1 0h6m1 0h5m1 0h1m1 0h2m2 0h7m1 0h10m1 0h5m1 0h3m1 0h1m1 0h1m1 0h5M419 1396.5h1m71 0h1m2 0h1m2 0h1m4 0h2m2 0h1m5 0h2m1 0h2m2 0h1m1 0h1m1 0h2m2 0h1m7 0h1m30 0h1m1 0h1m3 0h1m2 0h1m7 0h2m1 0h1m1 0h1m2 0h3m1 0h8m1 0h5m2 0h9m1 0h5m1 0h1m1 0h11m1 0h8m1 0h8m1 0h3m1 0h3m1 0h2m1 0h5m1 0h1m1 0h1m1 0h4m1 0h3m1 0h2m1 0h1m1 0h17m1 0h4m1 0h1m2 0h3m1 0h4m1 0h11m1 0h4m1 0h10m1 0h3m1 0h2m2 0h2m2 0h2m2 0h10m2 0h5m1 0h4m1 0h2m1 0h16M138 1397.5h1m336 0h1m13 0h2m3 0h1m1 0h3m2 0h1m2 0h2m3 0h1m1 0h1m2 0h3m3 0h3m4 0h1m13 0h2m4 0h1m7 0h1m1 0h1m5 0h1m6 0h1m3 0h1m10 0h3m1 0h2m2 0h3m1 0h6m1 0h3m1 0h3m2 0h4m1 0h1m1 0h19m1 0h2m1 0h6m1 0h6m1 0h2m1 0h1m2 0h1m1 0h23m1 0h13m2 0h4m1 0h3m1 0h4m1 0h12m1 0h6m3 0h1m1 0h3m1 0h4m1 0h2m1 0h7m1 0h4m1 0h2m1 0h5m2 0h4m1 0h4m1 0h2m1 0h14m2 0h9M488 1398.5h2m2 0h3m4 0h1m1 0h3m2 0h3m2 0h2m1 0h1m2 0h1m2 0h1m5 0h1m4 0h1m2 0h1m11 0h1m9 0h2m2 0h1m8 0h3m7 0h1m2 0h1m2 0h4m2 0h2m1 0h1m1 0h15m1 0h3m1 0h11m1 0h4m1 0h2m1 0h4m1 0h8m1 0h2m1 0h4m1 0h8m1 0h4m1 0h1m1 0h8m2 0h9m1 0h9m1 0h8m1 0h5m2 0h8m1 0h4m1 0h3m1 0h9m1 0h9m1 0h1m1 0h18m1 0h1m1 0h2m1 0h7m1 0h2m1 0h3m1 0h7m2 0h1m1 0h3m1 0h2M330 1399.5h1m137 0h1m1 0h1m22 0h1m5 0h2m3 0h3m1 0h1m2 0h3m4 0h4m1 0h1m1 0h2m4 0h1m9 0h1m2 0h1m12 0h1m3 0h2m3 0h2m13 0h3m2 0h1m5 0h16m1 0h6m1 0h2m1 0h10m1 0h7m1 0h5m2 0h2m1 0h1m1 0h4m1 0h7m1 0h8m1 0h5m1 0h13m2 0h5m1 0h10m2 0h1m1 0h8m1 0h10m1 0h1m1 0h1m1 0h6m1 0h11m1 0h3m1 0h1m1 0h3m1 0h3m2 0h5m1 0h8m2 0h2m1 0h12m1 0h2m2 0h2m1 0h5M346 1400.5h1m142 0h2m1 0h1m4 0h1m2 0h1m3 0h3m1 0h1m1 0h1m1 0h1m1 0h1m2 0h1m2 0h1m2 0h2m2 0h1m5 0h2m6 0h1m16 0h2m4 0h1m8 0h2m7 0h1m1 0h1m1 0h1m3 0h2m1 0h2m2 0h7m1 0h1m1 0h20m3 0h12m1 0h1m2 0h5m1 0h6m1 0h7m1 0h6m1 0h4m1 0h3m1 0h13m2 0h7m1 0h3m1 0h9m1 0h1m1 0h5m2 0h8m1 0h3m1 0h1m1 0h7m1 0h4m2 0h3m1 0h1m1 0h8m1 0h1m1 0h6m2 0h3m1 0h7m1 0h1m1 0h4m2 0h8m1 0h4M484 1401.5h1m6 0h1m3 0h1m1 0h1m1 0h1m1 0h5m9 0h1m2 0h2m3 0h3m6 0h1m5 0h1m8 0h1m2 0h2m22 0h1m1 0h1m4 0h2m7 0h2m1 0h1m1 0h2m1 0h6m1 0h9m1 0h1m1 0h6m1 0h24m1 0h1m2 0h28m2 0h12m1 0h2m1 0h10m2 0h3m3 0h1m2 0h4m1 0h9m1 0h2m1 0h3m1 0h5m1 0h8m1 0h12m1 0h3m3 0h18m1 0h11m1 0h4m1 0h4M486 1402.5h1m2 0h1m1 0h1m4 0h2m2 0h2m1 0h8m5 0h2m1 0h1m2 0h1m3 0h1m23 0h1m7 0h1m2 0h1m6 0h1m8 0h3m2 0h4m2 0h1m1 0h24m1 0h3m1 0h2m1 0h4m1 0h2m3 0h3m1 0h8m2 0h5m1 0h9m1 0h9m1 0h14m1 0h9m2 0h9m1 0h1m1 0h2m1 0h1m1 0h6m1 0h7m1 0h1m2 0h4m1 0h10m2 0h1m4 0h1m1 0h3m1 0h17m2 0h1m1 0h3m2 0h4m1 0h2m1 0h11m1 0h9M483 1403.5h1m4 0h1m2 0h1m3 0h1m1 0h1m3 0h1m1 0h1m1 0h1m1 0h2m1 0h2m3 0h3m1 0h1m19 0h1m4 0h1m1 0h1m13 0h1m1 0h1m2 0h1m1 0h1m11 0h1m2 0h1m5 0h1m1 0h3m1 0h2m1 0h15m1 0h8m1 0h3m1 0h3m1 0h44m1 0h2m1 0h1m1 0h8m1 0h1m1 0h19m1 0h6m1 0h4m1 0h16m1 0h2m2 0h1m1 0h4m1 0h3m1 0h2m1 0h1m1 0h1m1 0h9m3 0h2m2 0h2m2 0h7m1 0h6m1 0h5m1 0h8m1 0h4M485 1404.5h1m3 0h1m4 0h1m3 0h2m4 0h1m2 0h1m3 0h2m1 0h2m1 0h1m14 0h1m6 0h1m13 0h1m7 0h1m3 0h1m7 0h1m10 0h1m6 0h1m1 0h3m1 0h14m1 0h8m1 0h5m1 0h1m2 0h5m1 0h5m1 0h2m1 0h18m1 0h17m2 0h8m2 0h5m1 0h2m2 0h11m1 0h1m1 0h1m1 0h2m1 0h1m1 0h2m1 0h2m1 0h1m1 0h1m1 0h11m1 0h1m1 0h3m1 0h11m1 0h5m2 0h1m1 0h12m1 0h3m2 0h1m2 0h15m1 0h6M428 1405.5h1m47 0h1m7 0h1m5 0h1m2 0h2m1 0h2m3 0h3m1 0h3m3 0h2m1 0h1m1 0h1m1 0h1m8 0h2m9 0h1m5 0h3m2 0h1m10 0h1m14 0h2m3 0h1m2 0h2m1 0h1m1 0h3m1 0h3m1 0h28m2 0h2m1 0h1m1 0h13m1 0h7m1 0h11m1 0h6m1 0h3m1 0h6m1 0h2m1 0h3m1 0h2m1 0h1m1 0h1m1 0h4m1 0h1m1 0h3m1 0h1m1 0h17m1 0h1m1 0h3m1 0h2m1 0h3m1 0h10m1 0h7m1 0h4m1 0h2m1 0h2m1 0h7m2 0h1m1 0h9m1 0h2m1 0h1m1 0h3m2 0h1m1 0h12M400 1406.5h1m24 0h1m61 0h1m1 0h1m2 0h4m2 0h3m2 0h2m1 0h1m5 0h2m1 0h1m1 0h2m1 0h2m9 0h1m1 0h1m13 0h1m5 0h1m7 0h1m12 0h1m8 0h1m1 0h1m5 0h1m1 0h14m1 0h4m1 0h6m1 0h1m1 0h11m1 0h35m1 0h3m1 0h5m2 0h10m1 0h2m1 0h10m1 0h5m2 0h11m1 0h6m1 0h1m1 0h7m3 0h1m2 0h11m1 0h5m1 0h6m1 0h1m1 0h5m1 0h3m1 0h14m1 0h3m1 0h3m1 0h7M364 1407.5h1m75 0h1m8 0h1m24 0h1m17 0h1m4 0h2m1 0h1m4 0h1m2 0h1m1 0h1m2 0h1m1 0h2m2 0h2m3 0h1m3 0h1m2 0h1m15 0h1m4 0h1m3 0h2m7 0h1m13 0h1m5 0h1m1 0h1m2 0h2m1 0h2m1 0h11m1 0h21m2 0h13m1 0h13m2 0h4m1 0h11m1 0h3m1 0h19m1 0h8m1 0h13m1 0h1m1 0h1m2 0h14m3 0h4m2 0h6m1 0h6m2 0h9m1 0h2m1 0h1m1 0h5m1 0h5m1 0h11m1 0h1m1 0h3m1 0h4M449 1408.5h1m40 0h1m4 0h1m1 0h1m1 0h1m2 0h1m2 0h2m9 0h2m1 0h1m2 0h1m1 0h1m5 0h1m9 0h1m3 0h1m1 0h1m1 0h1m2 0h1m17 0h1m6 0h1m2 0h1m3 0h2m1 0h2m1 0h3m1 0h1m1 0h16m2 0h1m1 0h7m1 0h1m1 0h14m1 0h4m3 0h8m1 0h4m1 0h12m2 0h1m1 0h3m1 0h6m1 0h1m2 0h1m1 0h20m2 0h1m1 0h3m1 0h3m1 0h2m1 0h10m1 0h4m1 0h1m1 0h1m1 0h4m1 0h3m1 0h7m1 0h3m1 0h14m1 0h1m1 0h17m1 0h1m1 0h1m1 0h7M465 1409.5h1m2 0h1m19 0h1m11 0h4m1 0h1m1 0h1m3 0h1m4 0h2m2 0h3m1 0h1m1 0h1m1 0h1m4 0h1m11 0h1m6 0h1m3 0h1m3 0h1m8 0h1m6 0h2m2 0h1m3 0h3m2 0h1m1 0h4m1 0h5m2 0h15m1 0h4m1 0h3m1 0h11m1 0h6m1 0h11m1 0h7m1 0h1m5 0h7m2 0h1m1 0h11m1 0h2m1 0h7m2 0h14m1 0h4m1 0h3m1 0h11m1 0h2m2 0h3m2 0h1m2 0h1m1 0h3m1 0h4m2 0h4m2 0h1m1 0h3m1 0h4m1 0h6m2 0h1m1 0h2m1 0h2m1 0h5m1 0h8M436 1410.5h1m14 0h1m29 0h1m3 0h1m6 0h1m1 0h3m1 0h2m2 0h1m1 0h1m1 0h1m2 0h4m6 0h1m4 0h3m14 0h1m3 0h1m17 0h1m2 0h2m1 0h1m9 0h2m1 0h1m4 0h1m1 0h1m1 0h3m1 0h1m2 0h13m1 0h18m1 0h5m4 0h4m1 0h3m1 0h10m1 0h7m1 0h6m1 0h13m1 0h4m1 0h2m2 0h3m1 0h1m2 0h5m1 0h1m1 0h1m1 0h3m1 0h2m1 0h3m1 0h1m1 0h6m1 0h6m2 0h7m1 0h1m1 0h2m1 0h4m3 0h3m1 0h2m1 0h8m1 0h5m1 0h8m1 0h5m1 0h6m1 0h1m1 0h4m1 0h2M489 1411.5h1m2 0h2m2 0h5m2 0h3m4 0h2m2 0h1m1 0h1m1 0h3m1 0h1m9 0h1m13 0h1m2 0h1m22 0h1m7 0h1m2 0h1m1 0h2m1 0h1m4 0h6m1 0h6m1 0h2m1 0h6m1 0h1m1 0h6m1 0h1m2 0h1m2 0h11m1 0h1m1 0h7m1 0h6m1 0h1m1 0h1m1 0h4m2 0h4m1 0h8m2 0h7m1 0h2m2 0h17m1 0h1m1 0h13m1 0h13m1 0h17m1 0h6m1 0h5m1 0h3m1 0h1m1 0h5m1 0h1m1 0h3m1 0h11m1 0h9M338 1412.5h1m23 0h1m34 0h1m88 0h1m7 0h1m1 0h1m1 0h1m2 0h2m3 0h4m2 0h1m2 0h1m1 0h2m3 0h1m5 0h1m30 0h2m5 0h1m11 0h1m1 0h1m5 0h3m1 0h1m1 0h1m2 0h13m1 0h39m1 0h3m1 0h2m1 0h3m1 0h2m1 0h5m1 0h3m1 0h3m1 0h8m1 0h1m1 0h11m1 0h2m1 0h9m1 0h5m1 0h4m1 0h4m1 0h1m1 0h1m1 0h2m1 0h21m1 0h4m1 0h1m2 0h3m1 0h1m1 0h3m2 0h4m3 0h4m1 0h2m1 0h9m1 0h3m3 0h1m1 0h1m1 0h2m1 0h1M449 1413.5h1m10 0h1m28 0h1m3 0h1m3 0h1m4 0h3m3 0h2m4 0h2m2 0h1m2 0h1m18 0h1m1 0h1m7 0h1m16 0h1m8 0h1m1 0h1m8 0h1m1 0h1m1 0h1m1 0h5m1 0h5m1 0h14m1 0h1m1 0h3m2 0h15m1 0h8m1 0h5m1 0h4m1 0h1m3 0h13m1 0h6m1 0h12m1 0h8m1 0h5m2 0h1m1 0h1m1 0h3m1 0h27m1 0h1m1 0h4m1 0h2m1 0h9m1 0h1m1 0h4m1 0h5m1 0h6m1 0h2m1 0h1m1 0h4m1 0h3m1 0h1m2 0h2m1 0h3M484 1414.5h2m2 0h2m1 0h2m2 0h1m1 0h2m2 0h1m1 0h3m2 0h1m3 0h3m1 0h1m2 0h1m3 0h1m3 0h1m16 0h1m2 0h1m5 0h1m1 0h1m14 0h1m10 0h1m1 0h5m3 0h18m1 0h8m1 0h15m1 0h1m1 0h1m1 0h7m1 0h8m1 0h1m1 0h6m1 0h3m4 0h1m1 0h1m1 0h11m1 0h7m1 0h1m1 0h2m1 0h5m1 0h2m1 0h3m1 0h1m1 0h1m1 0h4m1 0h2m3 0h3m1 0h2m1 0h3m2 0h1m2 0h6m1 0h1m1 0h11m1 0h8m1 0h1m1 0h4m1 0h10m1 0h3m1 0h4m4 0h2m1 0h2m2 0h1m1 0h4M485 1415.5h2m6 0h4m1 0h4m1 0h1m3 0h8m3 0h3m2 0h1m21 0h1m1 0h1m19 0h2m4 0h1m2 0h1m1 0h1m2 0h1m1 0h1m2 0h1m1 0h3m1 0h1m1 0h3m1 0h6m1 0h9m1 0h10m1 0h4m1 0h1m1 0h1m4 0h5m1 0h10m1 0h3m1 0h1m1 0h3m2 0h4m1 0h13m1 0h1m1 0h4m1 0h3m1 0h4m1 0h6m2 0h5m1 0h3m1 0h1m2 0h3m1 0h3m1 0h14m1 0h13m1 0h8m1 0h1m1 0h2m1 0h16m1 0h3m1 0h3m1 0h2m1 0h9m1 0h2m2 0h1M433 1416.5h1m36 0h1m19 0h4m4 0h3m3 0h2m2 0h2m3 0h4m1 0h1m1 0h1m1 0h1m4 0h2m3 0h1m5 0h1m14 0h1m4 0h1m15 0h1m4 0h1m4 0h1m1 0h6m2 0h1m1 0h17m1 0h1m1 0h1m1 0h5m1 0h4m1 0h4m1 0h8m1 0h1m2 0h8m1 0h1m1 0h2m1 0h4m1 0h9m2 0h4m1 0h8m1 0h1m1 0h5m2 0h1m1 0h4m1 0h12m1 0h12m4 0h1m1 0h1m2 0h1m2 0h3m1 0h9m1 0h2m2 0h6m1 0h13m1 0h4m1 0h2m1 0h2m2 0h4m3 0h4m3 0h1m1 0h4m1 0h1M453 1417.5h1m30 0h1m12 0h3m6 0h1m2 0h1m2 0h1m2 0h2m1 0h4m6 0h1m14 0h1m1 0h1m5 0h1m1 0h1m14 0h1m3 0h2m8 0h1m1 0h1m6 0h1m1 0h21m1 0h1m1 0h4m1 0h11m1 0h2m2 0h2m1 0h3m1 0h4m1 0h1m1 0h24m1 0h5m3 0h5m1 0h10m1 0h1m3 0h4m1 0h1m2 0h6m2 0h12m1 0h3m1 0h5m2 0h4m1 0h12m1 0h3m1 0h3m1 0h1m1 0h3m1 0h2m1 0h12m1 0h3m1 0h1m1 0h5m1 0h4m1 0h3m1 0h1M460 1418.5h1m23 0h1m1 0h1m2 0h1m4 0h2m3 0h2m1 0h3m8 0h1m1 0h1m1 0h2m2 0h1m6 0h1m21 0h1m2 0h1m3 0h2m2 0h1m14 0h1m1 0h1m1 0h1m1 0h1m7 0h1m1 0h1m1 0h18m2 0h4m1 0h12m1 0h5m1 0h3m1 0h2m1 0h1m1 0h1m1 0h6m1 0h4m1 0h2m1 0h12m1 0h7m1 0h2m1 0h2m2 0h1m2 0h2m1 0h1m1 0h2m1 0h1m2 0h1m1 0h2m5 0h15m1 0h2m1 0h5m1 0h4m1 0h14m1 0h1m2 0h4m1 0h2m1 0h8m2 0h1m1 0h2m1 0h6m1 0h1m1 0h15m1 0h2M484 1419.5h1m4 0h2m1 0h7m1 0h2m1 0h1m1 0h1m2 0h1m1 0h4m1 0h2m5 0h1m1 0h1m19 0h1m1 0h1m8 0h1m10 0h1m6 0h1m1 0h1m2 0h1m6 0h4m1 0h11m1 0h6m1 0h4m1 0h2m1 0h7m4 0h1m1 0h1m2 0h1m2 0h1m2 0h4m1 0h1m1 0h3m1 0h5m1 0h7m1 0h4m1 0h2m1 0h7m1 0h1m2 0h5m1 0h3m1 0h9m1 0h4m1 0h2m1 0h2m2 0h5m2 0h3m1 0h2m1 0h3m1 0h3m1 0h1m1 0h6m2 0h2m2 0h3m1 0h1m2 0h2m1 0h1m2 0h3m2 0h7m1 0h4m1 0h3m1 0h1m1 0h1m1 0h2m1 0h2m1 0h9m1 0h1m1 0h1m2 0h5M484 1420.5h1m1 0h1m1 0h6m2 0h1m1 0h1m4 0h3m1 0h4m1 0h1m3 0h2m2 0h1m1 0h1m14 0h2m5 0h2m5 0h1m21 0h3m1 0h1m4 0h1m5 0h10m1 0h27m1 0h3m2 0h2m1 0h21m1 0h3m2 0h7m1 0h1m1 0h2m1 0h7m1 0h15m1 0h2m1 0h1m1 0h1m1 0h2m1 0h6m2 0h5m1 0h1m2 0h5m1 0h1m2 0h1m1 0h4m1 0h1m1 0h1m1 0h5m1 0h1m1 0h3m1 0h13m1 0h3m1 0h7m1 0h1m1 0h5m1 0h6m1 0h1m1 0h4m1 0h10M384 1421.5h1m58 0h1m10 0h1m6 0h1m26 0h1m4 0h1m1 0h4m3 0h1m1 0h1m1 0h2m1 0h1m2 0h1m1 0h6m4 0h1m1 0h1m17 0h1m24 0h1m4 0h1m1 0h1m3 0h2m6 0h1m3 0h1m1 0h11m1 0h20m1 0h10m1 0h3m1 0h22m2 0h6m1 0h14m1 0h6m1 0h4m1 0h3m1 0h3m1 0h4m1 0h7m3 0h1m1 0h3m1 0h7m2 0h1m1 0h1m2 0h3m1 0h6m1 0h4m1 0h4m1 0h9m1 0h2m1 0h5m1 0h2m1 0h8m1 0h1m1 0h7m2 0h2m1 0h2m2 0h2M479 1422.5h1m7 0h1m1 0h1m2 0h1m1 0h4m4 0h1m5 0h1m5 0h1m1 0h1m1 0h1m1 0h2m2 0h2m2 0h1m5 0h1m4 0h1m9 0h1m4 0h1m5 0h1m7 0h2m4 0h1m7 0h1m3 0h1m2 0h1m1 0h2m1 0h10m1 0h6m1 0h6m1 0h7m1 0h1m3 0h7m4 0h5m1 0h3m1 0h4m2 0h1m1 0h1m1 0h5m1 0h2m1 0h3m4 0h4m1 0h10m1 0h5m1 0h6m1 0h5m1 0h13m1 0h2m3 0h5m1 0h2m1 0h1m1 0h13m1 0h4m1 0h6m1 0h3m1 0h14m1 0h2m1 0h6m1 0h1m2 0h2m1 0h2m1 0h6M337 1423.5h1m149 0h1m2 0h1m1 0h5m3 0h2m3 0h3m1 0h2m2 0h2m1 0h2m4 0h3m2 0h1m1 0h1m8 0h1m22 0h1m2 0h1m11 0h1m3 0h1m4 0h3m1 0h1m1 0h10m1 0h1m2 0h2m1 0h1m1 0h2m1 0h2m1 0h2m1 0h2m2 0h10m1 0h2m1 0h4m1 0h7m1 0h2m1 0h6m1 0h11m1 0h5m1 0h2m1 0h1m1 0h7m1 0h2m1 0h2m1 0h7m1 0h5m1 0h2m1 0h18m1 0h6m1 0h23m1 0h2m2 0h9m1 0h2m1 0h3m1 0h5m1 0h4m1 0h2m2 0h1m1 0h5m1 0h2m3 0h1m1 0h1M450 1424.5h1m38 0h1m1 0h4m2 0h1m2 0h1m1 0h1m1 0h3m1 0h1m2 0h3m2 0h1m5 0h1m17 0h2m12 0h1m2 0h1m2 0h1m8 0h1m8 0h1m2 0h1m1 0h1m1 0h1m3 0h2m1 0h5m1 0h5m1 0h1m1 0h3m1 0h6m1 0h3m2 0h10m1 0h5m1 0h3m1 0h4m1 0h19m4 0h2m1 0h15m1 0h20m1 0h5m1 0h1m1 0h1m2 0h4m1 0h1m1 0h3m1 0h8m2 0h2m1 0h12m1 0h1m1 0h4m1 0h3m1 0h7m1 0h6m1 0h4m2 0h8m1 0h10m1 0h5M367 1425.5h1m72 0h1m11 0h1m32 0h1m8 0h1m1 0h1m5 0h1m3 0h1m2 0h4m1 0h1m3 0h1m1 0h1m1 0h1m1 0h1m2 0h2m4 0h1m8 0h2m5 0h1m13 0h1m8 0h1m7 0h1m1 0h1m1 0h2m2 0h3m1 0h7m1 0h10m1 0h1m1 0h11m1 0h4m1 0h8m1 0h1m1 0h7m1 0h5m1 0h3m1 0h3m1 0h1m1 0h1m2 0h10m1 0h4m1 0h1m1 0h1m1 0h3m1 0h3m1 0h13m1 0h21m1 0h6m1 0h6m1 0h3m2 0h2m2 0h5m1 0h10m1 0h11m1 0h1m1 0h1m1 0h1m2 0h1m1 0h2m1 0h5m1 0h2m1 0h5m1 0h5M416 1426.5h1m61 0h1m3 0h1m9 0h1m1 0h2m1 0h1m3 0h1m2 0h2m3 0h3m1 0h2m3 0h1m6 0h1m21 0h1m19 0h1m10 0h1m1 0h1m2 0h1m2 0h4m2 0h9m1 0h1m1 0h6m1 0h2m1 0h2m1 0h2m1 0h3m1 0h23m1 0h10m1 0h2m1 0h3m1 0h8m1 0h1m1 0h1m1 0h1m1 0h3m1 0h15m3 0h4m1 0h1m2 0h4m3 0h4m1 0h5m1 0h3m1 0h3m1 0h3m2 0h2m2 0h7m1 0h4m2 0h3m2 0h2m1 0h1m1 0h4m1 0h2m1 0h1m1 0h20m1 0h1m1 0h9m3 0h1M442 1427.5h1m29 0h1m15 0h1m1 0h2m3 0h1m1 0h2m1 0h1m3 0h7m2 0h1m1 0h1m5 0h1m32 0h1m5 0h1m13 0h4m3 0h2m2 0h10m1 0h4m1 0h1m1 0h32m1 0h13m2 0h6m1 0h23m1 0h1m1 0h6m1 0h4m1 0h3m1 0h2m1 0h3m1 0h1m1 0h3m1 0h4m1 0h2m2 0h2m1 0h1m1 0h2m3 0h2m1 0h3m1 0h16m1 0h3m1 0h2m1 0h1m1 0h7m2 0h4m1 0h3m1 0h1m2 0h2m1 0h1m1 0h1m1 0h2m1 0h5m1 0h3m1 0h10M344 1428.5h1m138 0h1m2 0h2m2 0h1m7 0h2m2 0h1m6 0h1m3 0h2m1 0h1m1 0h1m8 0h1m1 0h1m6 0h1m2 0h1m22 0h1m10 0h2m3 0h1m2 0h4m3 0h1m1 0h2m1 0h3m1 0h10m1 0h2m2 0h3m1 0h5m3 0h9m1 0h2m2 0h4m1 0h1m1 0h10m2 0h18m1 0h11m3 0h2m1 0h10m1 0h2m1 0h7m2 0h2m1 0h7m1 0h13m3 0h1m1 0h4m1 0h4m1 0h3m1 0h1m1 0h3m1 0h2m1 0h1m2 0h5m3 0h2m1 0h2m1 0h3m1 0h3m1 0h2m1 0h20M490 1429.5h1m3 0h1m1 0h1m8 0h1m2 0h2m1 0h1m2 0h2m1 0h2m27 0h1m35 0h3m1 0h1m2 0h2m1 0h4m2 0h4m1 0h1m1 0h4m1 0h7m1 0h5m1 0h9m1 0h9m1 0h2m2 0h2m2 0h2m1 0h5m1 0h6m1 0h20m2 0h1m1 0h5m1 0h2m1 0h4m1 0h2m1 0h4m1 0h2m1 0h2m1 0h3m1 0h1m2 0h1m1 0h3m2 0h1m1 0h3m1 0h1m1 0h2m1 0h2m1 0h5m2 0h3m1 0h6m1 0h3m1 0h2m1 0h4m1 0h1m2 0h1m2 0h5m1 0h2m1 0h2m1 0h1m1 0h5m1 0h1m2 0h1m1 0h2m2 0h1m1 0h1M437 1430.5h1m39 0h1m11 0h3m3 0h3m4 0h1m3 0h2m2 0h1m5 0h2m1 0h1m1 0h1m5 0h1m25 0h1m3 0h1m18 0h1m1 0h1m2 0h1m2 0h1m2 0h2m1 0h19m1 0h6m1 0h1m1 0h4m1 0h1m1 0h10m1 0h4m1 0h7m1 0h2m1 0h3m2 0h7m1 0h3m1 0h2m1 0h6m2 0h5m1 0h5m1 0h8m1 0h4m1 0h9m1 0h1m1 0h4m1 0h2m2 0h7m1 0h4m1 0h2m1 0h13m1 0h5m2 0h1m1 0h5m1 0h5m1 0h1m1 0h2m1 0h1m1 0h4m1 0h1m1 0h3m1 0h3m1 0h14M487 1431.5h1m3 0h3m1 0h5m4 0h1m1 0h2m1 0h1m2 0h2m5 0h1m1 0h2m1 0h1m13 0h1m2 0h1m32 0h1m3 0h1m1 0h3m6 0h1m1 0h1m1 0h5m1 0h2m1 0h7m1 0h6m2 0h10m1 0h21m5 0h5m1 0h2m1 0h4m1 0h8m1 0h25m1 0h1m1 0h9m1 0h11m2 0h22m1 0h3m2 0h5m1 0h7m1 0h1m1 0h3m1 0h4m2 0h6m1 0h2m2 0h5m1 0h8m2 0h2m1 0h3M433 1432.5h1m7 0h1m16 0h1m16 0h2m10 0h1m1 0h2m2 0h2m1 0h1m3 0h1m2 0h1m1 0h2m2 0h1m1 0h2m1 0h2m1 0h1m1 0h1m3 0h1m4 0h1m12 0h1m5 0h1m7 0h1m4 0h1m1 0h1m5 0h1m6 0h1m2 0h1m2 0h1m2 0h2m1 0h3m1 0h1m1 0h11m1 0h12m2 0h3m1 0h8m1 0h2m1 0h26m1 0h6m1 0h21m1 0h5m1 0h3m2 0h3m1 0h9m2 0h1m1 0h1m2 0h9m2 0h3m1 0h2m2 0h8m1 0h3m2 0h4m1 0h2m1 0h4m1 0h4m1 0h2m2 0h2m2 0h5m1 0h1m1 0h4m1 0h5m1 0h2m1 0h3m1 0h5m2 0h2M451 1433.5h1m6 0h1m29 0h2m5 0h1m1 0h2m2 0h1m6 0h1m2 0h7m1 0h1m1 0h1m5 0h2m13 0h1m2 0h1m1 0h1m8 0h1m19 0h1m2 0h1m1 0h1m5 0h4m1 0h13m1 0h2m1 0h9m1 0h11m2 0h8m2 0h2m1 0h1m3 0h4m1 0h7m1 0h1m1 0h6m1 0h14m1 0h1m2 0h2m1 0h5m1 0h1m1 0h6m1 0h10m1 0h9m2 0h2m1 0h3m1 0h4m1 0h3m1 0h1m1 0h1m1 0h14m1 0h4m3 0h3m1 0h4m1 0h2m1 0h7m2 0h2m1 0h2m1 0h17M380 1434.5h1m101 0h1m1 0h1m2 0h2m1 0h4m1 0h1m3 0h1m1 0h1m1 0h4m1 0h1m2 0h1m1 0h1m5 0h1m2 0h1m6 0h1m5 0h1m6 0h1m11 0h1m5 0h1m3 0h1m10 0h2m1 0h2m1 0h4m1 0h1m1 0h1m1 0h4m1 0h3m1 0h2m1 0h7m1 0h1m1 0h4m1 0h1m1 0h1m1 0h2m1 0h18m1 0h1m1 0h5m1 0h1m1 0h6m1 0h7m1 0h3m2 0h2m2 0h4m2 0h3m1 0h8m1 0h6m2 0h4m1 0h4m2 0h3m1 0h34m1 0h2m1 0h2m1 0h6m1 0h7m1 0h3m1 0h6m1 0h1m1 0h1m1 0h3m1 0h4m2 0h6m1 0h2m2 0h3m1 0h1M467 1435.5h1m24 0h2m1 0h2m1 0h1m2 0h4m2 0h2m1 0h2m1 0h1m3 0h3m2 0h1m2 0h1m5 0h1m8 0h1m2 0h3m3 0h1m1 0h1m21 0h1m7 0h1m1 0h2m1 0h2m1 0h2m1 0h1m1 0h3m1 0h20m2 0h4m1 0h9m1 0h21m1 0h1m1 0h3m1 0h7m1 0h16m1 0h7m2 0h4m1 0h1m1 0h4m2 0h22m1 0h2m1 0h2m1 0h6m2 0h1m1 0h9m1 0h1m1 0h11m1 0h3m2 0h10m1 0h5m1 0h1m4 0h6m1 0h9M483 1436.5h2m2 0h1m4 0h1m2 0h1m2 0h3m6 0h1m3 0h1m1 0h7m1 0h2m5 0h1m12 0h1m4 0h1m21 0h1m7 0h1m4 0h1m2 0h2m2 0h4m1 0h12m1 0h4m1 0h7m1 0h11m2 0h3m1 0h1m1 0h3m1 0h2m1 0h3m1 0h2m1 0h2m1 0h3m1 0h9m1 0h3m2 0h2m1 0h3m1 0h1m1 0h1m1 0h4m1 0h2m1 0h4m1 0h2m1 0h8m1 0h15m1 0h8m1 0h8m1 0h6m1 0h1m1 0h3m2 0h4m1 0h2m1 0h9m3 0h3m1 0h2m1 0h2m1 0h2m1 0h1m2 0h3m2 0h5m1 0h11M451 1437.5h1m38 0h3m2 0h2m3 0h1m1 0h5m1 0h1m1 0h1m5 0h1m1 0h4m5 0h1m25 0h1m10 0h1m14 0h2m3 0h1m4 0h1m1 0h15m2 0h3m1 0h2m1 0h1m1 0h8m1 0h1m1 0h2m1 0h12m1 0h2m1 0h9m1 0h13m1 0h2m1 0h17m1 0h1m1 0h4m1 0h8m1 0h2m1 0h2m1 0h12m2 0h11m2 0h5m1 0h1m1 0h6m1 0h4m1 0h2m1 0h6m2 0h2m1 0h1m2 0h2m1 0h15m2 0h1m1 0h3m1 0h3m1 0h3m1 0h4M376 1438.5h1m10 0h1m40 0h1m62 0h1m1 0h2m5 0h3m2 0h2m1 0h2m1 0h2m2 0h2m1 0h1m23 0h1m1 0h1m2 0h1m12 0h1m20 0h2m1 0h1m1 0h13m1 0h5m2 0h5m1 0h10m2 0h4m2 0h6m1 0h28m1 0h5m1 0h4m1 0h6m1 0h1m2 0h1m2 0h3m2 0h1m2 0h3m1 0h1m1 0h6m1 0h14m2 0h2m1 0h1m1 0h3m2 0h8m2 0h9m1 0h3m1 0h3m1 0h1m1 0h2m1 0h6m1 0h6m1 0h7m1 0h2m2 0h6m1 0h1m1 0h3m2 0h3M396 1439.5h1m41 0h1m11 0h1m31 0h1m3 0h1m1 0h3m2 0h3m1 0h1m1 0h3m4 0h1m1 0h1m1 0h1m1 0h1m1 0h3m1 0h3m2 0h1m11 0h1m41 0h1m3 0h1m2 0h1m1 0h1m1 0h1m3 0h3m1 0h3m2 0h5m1 0h2m1 0h13m1 0h1m1 0h3m1 0h3m1 0h3m2 0h4m1 0h6m1 0h8m1 0h5m1 0h3m1 0h2m2 0h2m2 0h20m1 0h11m2 0h6m1 0h5m1 0h8m1 0h1m1 0h10m1 0h20m1 0h5m1 0h2m2 0h9m2 0h13m1 0h2m1 0h6m1 0h1M407 1440.5h1m30 0h1m55 0h1m2 0h1m4 0h1m2 0h2m1 0h2m2 0h1m1 0h2m1 0h3m18 0h1m1 0h1m14 0h1m3 0h1m10 0h2m4 0h1m2 0h2m2 0h1m1 0h4m1 0h4m1 0h10m1 0h2m1 0h10m1 0h2m1 0h3m1 0h2m1 0h12m1 0h5m1 0h2m1 0h1m1 0h9m1 0h6m1 0h15m1 0h4m1 0h3m1 0h2m2 0h11m1 0h2m2 0h1m1 0h29m1 0h3m1 0h2m2 0h3m1 0h2m1 0h2m1 0h6m1 0h3m1 0h10m2 0h2m1 0h5m1 0h2m2 0h2m2 0h1m2 0h4m1 0h1M414 1441.5h1m72 0h2m3 0h2m4 0h1m2 0h2m1 0h1m1 0h2m2 0h1m1 0h5m1 0h3m4 0h1m28 0h2m11 0h1m17 0h2m3 0h2m1 0h1m1 0h7m1 0h7m1 0h2m1 0h6m1 0h1m1 0h1m1 0h13m1 0h4m1 0h11m1 0h6m1 0h5m1 0h2m1 0h5m1 0h1m1 0h5m1 0h5m1 0h1m1 0h3m1 0h3m1 0h3m2 0h1m1 0h2m1 0h4m1 0h2m2 0h2m1 0h5m1 0h1m1 0h1m1 0h6m1 0h19m1 0h1m2 0h6m1 0h1m1 0h3m1 0h8m1 0h1m1 0h6m1 0h6m1 0h2m1 0h1m1 0h1m1 0h7M440 1442.5h1m29 0h1m12 0h1m5 0h1m2 0h2m2 0h2m1 0h3m2 0h1m2 0h1m1 0h3m2 0h1m1 0h1m1 0h1m1 0h1m4 0h1m17 0h2m3 0h1m6 0h2m23 0h1m1 0h12m1 0h15m2 0h2m1 0h2m1 0h8m1 0h9m1 0h2m1 0h5m1 0h6m1 0h3m1 0h1m1 0h4m1 0h1m2 0h10m1 0h3m2 0h4m1 0h4m1 0h2m1 0h6m1 0h4m1 0h10m2 0h2m1 0h2m3 0h9m1 0h1m1 0h1m5 0h1m1 0h10m2 0h5m1 0h1m1 0h5m1 0h3m1 0h6m2 0h3m1 0h2m1 0h2m1 0h3m2 0h2m2 0h2m1 0h1m1 0h1m1 0h1m1 0h2M394 1443.5h1m90 0h2m3 0h1m1 0h2m6 0h3m1 0h1m2 0h2m4 0h1m1 0h1m2 0h2m1 0h2m14 0h1m16 0h1m3 0h1m2 0h1m7 0h1m3 0h1m7 0h1m1 0h3m2 0h8m1 0h6m1 0h15m1 0h6m1 0h4m1 0h9m1 0h5m2 0h3m1 0h14m1 0h4m1 0h1m1 0h2m1 0h5m2 0h2m1 0h4m1 0h2m1 0h1m1 0h10m2 0h4m2 0h1m1 0h1m1 0h4m1 0h2m3 0h4m1 0h1m2 0h1m1 0h8m2 0h2m1 0h5m2 0h1m2 0h5m1 0h5m1 0h2m1 0h5m1 0h3m1 0h7m1 0h6m1 0h3m1 0h1m1 0h7M462 1444.5h1m20 0h1m2 0h1m3 0h2m2 0h7m1 0h1m1 0h1m1 0h1m3 0h2m1 0h1m1 0h1m1 0h2m1 0h1m2 0h1m2 0h1m16 0h2m27 0h1m9 0h1m1 0h1m1 0h1m1 0h32m1 0h1m1 0h1m1 0h11m1 0h3m1 0h6m1 0h1m2 0h8m1 0h2m1 0h5m1 0h6m1 0h2m3 0h6m1 0h4m1 0h5m1 0h1m1 0h7m2 0h6m1 0h3m1 0h5m1 0h6m2 0h3m1 0h2m2 0h3m1 0h8m1 0h2m1 0h1m1 0h3m2 0h6m1 0h1m1 0h1m3 0h2m1 0h1m1 0h2m1 0h1m2 0h1m1 0h3m2 0h2m2 0h15M456 1445.5h1m27 0h1m5 0h1m2 0h3m4 0h1m4 0h4m2 0h4m1 0h2m1 0h3m1 0h3m8 0h1m1 0h1m1 0h1m9 0h1m11 0h1m12 0h1m9 0h1m1 0h1m2 0h2m1 0h8m1 0h6m1 0h4m1 0h5m1 0h7m1 0h7m1 0h3m1 0h2m1 0h5m1 0h1m2 0h4m1 0h5m1 0h7m1 0h2m1 0h7m1 0h7m1 0h1m4 0h7m1 0h2m1 0h5m2 0h1m1 0h10m3 0h3m2 0h2m1 0h6m2 0h10m1 0h10m1 0h1m2 0h2m1 0h1m1 0h2m1 0h2m1 0h3m1 0h3m1 0h2m1 0h10m1 0h6m1 0h3m1 0h5M440 1446.5h1m26 0h1m3 0h1m1 0h1m12 0h1m1 0h2m2 0h1m2 0h1m2 0h1m2 0h2m1 0h1m2 0h3m6 0h1m1 0h4m3 0h1m9 0h1m3 0h1m18 0h1m1 0h1m5 0h1m6 0h1m2 0h2m1 0h1m1 0h3m1 0h3m5 0h12m1 0h4m1 0h2m1 0h1m1 0h5m2 0h6m1 0h1m2 0h8m1 0h4m1 0h2m1 0h1m1 0h3m1 0h7m2 0h21m2 0h9m1 0h4m1 0h5m1 0h6m1 0h1m1 0h14m1 0h7m1 0h5m2 0h7m1 0h6m1 0h2m1 0h1m1 0h2m3 0h2m1 0h1m1 0h3m1 0h1m1 0h4m1 0h3m1 0h1m1 0h7m1 0h8m1 0h1M491 1447.5h2m4 0h2m2 0h1m1 0h2m11 0h1m1 0h2m2 0h2m1 0h1m15 0h1m2 0h1m1 0h1m3 0h1m11 0h1m1 0h1m8 0h1m2 0h1m10 0h2m2 0h8m1 0h4m1 0h6m1 0h2m1 0h2m1 0h18m1 0h1m2 0h1m2 0h3m1 0h8m3 0h1m1 0h6m1 0h6m1 0h8m1 0h2m2 0h1m1 0h1m1 0h6m1 0h12m1 0h1m1 0h3m1 0h3m1 0h9m1 0h2m1 0h3m1 0h3m1 0h7m1 0h5m1 0h3m3 0h5m1 0h4m1 0h1m4 0h4m2 0h4m1 0h4m1 0h2m1 0h4m1 0h1m1 0h2m2 0h2m1 0h5M478 1448.5h1m5 0h1m9 0h1m1 0h5m2 0h3m1 0h2m4 0h1m1 0h1m2 0h1m5 0h1m2 0h1m6 0h1m38 0h1m2 0h1m1 0h1m2 0h1m1 0h3m5 0h3m1 0h7m1 0h1m1 0h8m1 0h1m1 0h6m1 0h1m1 0h2m1 0h5m1 0h3m1 0h3m1 0h3m1 0h7m1 0h2m1 0h6m1 0h1m1 0h9m3 0h1m1 0h2m1 0h10m1 0h3m1 0h5m1 0h10m1 0h7m1 0h8m3 0h10m2 0h2m4 0h5m2 0h21m1 0h11m2 0h2m1 0h5m2 0h6m2 0h3M483 1449.5h1m2 0h1m7 0h3m1 0h2m1 0h4m1 0h3m4 0h2m1 0h2m1 0h1m22 0h1m11 0h1m1 0h1m1 0h1m17 0h1m2 0h2m1 0h3m1 0h1m1 0h4m1 0h6m1 0h10m1 0h5m1 0h3m2 0h2m2 0h5m1 0h2m1 0h22m2 0h10m2 0h4m1 0h1m1 0h2m2 0h5m1 0h1m1 0h3m1 0h6m1 0h4m2 0h2m1 0h2m1 0h4m1 0h1m1 0h1m1 0h8m2 0h1m2 0h6m1 0h7m1 0h19m1 0h2m1 0h7m3 0h1m1 0h4m1 0h7m1 0h3m1 0h9m1 0h4M375 1450.5h1m49 0h1m12 0h1m44 0h1m1 0h1m3 0h1m2 0h1m2 0h1m1 0h5m1 0h2m5 0h1m1 0h1m3 0h3m4 0h1m10 0h1m9 0h2m6 0h1m1 0h1m6 0h1m4 0h2m5 0h1m1 0h1m4 0h2m1 0h1m5 0h8m1 0h11m1 0h12m3 0h2m1 0h12m1 0h12m1 0h4m2 0h4m2 0h5m1 0h5m1 0h18m1 0h1m1 0h1m1 0h9m1 0h2m1 0h4m2 0h8m1 0h11m2 0h1m1 0h6m1 0h2m3 0h1m1 0h10m2 0h1m1 0h7m1 0h7m1 0h5m2 0h3m1 0h5m2 0h2m2 0h3m1 0h2M485 1451.5h2m3 0h1m3 0h4m3 0h2m1 0h1m1 0h2m1 0h1m4 0h1m8 0h1m21 0h2m2 0h2m5 0h1m1 0h1m7 0h1m5 0h1m5 0h2m1 0h1m1 0h1m1 0h1m2 0h19m1 0h5m1 0h19m3 0h2m1 0h1m1 0h1m1 0h2m2 0h2m1 0h23m1 0h5m3 0h7m2 0h1m1 0h10m5 0h6m1 0h3m2 0h3m1 0h3m1 0h4m1 0h7m2 0h6m1 0h3m1 0h4m1 0h3m2 0h2m1 0h9m1 0h4m2 0h2m1 0h21m1 0h3m1 0h1m2 0h2M385 1452.5h1m104 0h1m1 0h1m1 0h1m1 0h1m1 0h3m1 0h2m1 0h1m1 0h1m3 0h2m5 0h2m3 0h1m2 0h1m9 0h1m41 0h2m6 0h9m1 0h5m1 0h9m1 0h2m1 0h8m1 0h7m1 0h4m2 0h3m1 0h4m1 0h7m1 0h1m1 0h16m1 0h8m2 0h4m1 0h2m1 0h3m1 0h6m2 0h3m2 0h16m3 0h2m1 0h3m1 0h4m4 0h3m2 0h3m3 0h3m1 0h6m1 0h23m1 0h4m1 0h7m1 0h1m1 0h1m1 0h1m1 0h5m1 0h2M494 1453.5h1m2 0h1m1 0h3m1 0h1m5 0h1m1 0h1m3 0h2m1 0h2m1 0h3m2 0h1m11 0h1m34 0h3m1 0h1m2 0h5m1 0h1m2 0h5m1 0h11m1 0h13m1 0h9m3 0h1m2 0h2m1 0h1m1 0h13m1 0h1m2 0h5m2 0h9m2 0h14m1 0h22m1 0h11m1 0h1m1 0h6m1 0h7m1 0h4m1 0h2m1 0h3m2 0h1m1 0h6m1 0h2m1 0h10m1 0h1m1 0h5m1 0h1m1 0h2m1 0h1m1 0h4m1 0h6m3 0h3m1 0h3M453 1454.5h1m33 0h1m1 0h3m8 0h2m1 0h1m1 0h2m4 0h2m1 0h3m2 0h1m1 0h1m25 0h1m5 0h1m6 0h1m7 0h2m9 0h2m3 0h3m2 0h2m1 0h5m1 0h2m1 0h11m1 0h8m2 0h3m1 0h10m1 0h6m1 0h3m1 0h9m1 0h8m1 0h4m1 0h8m2 0h15m1 0h2m1 0h12m1 0h4m1 0h5m1 0h7m1 0h22m1 0h3m1 0h4m1 0h3m1 0h3m1 0h1m1 0h10m1 0h9m1 0h6m1 0h5m3 0h4M486 1455.5h1m4 0h2m2 0h1m1 0h1m1 0h1m3 0h4m2 0h1m1 0h2m3 0h1m3 0h1m4 0h2m2 0h1m8 0h1m4 0h1m27 0h1m2 0h1m1 0h1m1 0h1m1 0h1m10 0h6m1 0h2m1 0h2m1 0h4m1 0h4m3 0h1m1 0h21m1 0h1m2 0h1m1 0h3m1 0h3m1 0h14m1 0h3m1 0h11m1 0h2m1 0h3m1 0h5m1 0h3m1 0h5m1 0h6m1 0h3m1 0h2m2 0h1m1 0h5m1 0h1m1 0h4m1 0h5m1 0h2m1 0h2m1 0h3m1 0h1m1 0h5m2 0h1m1 0h2m2 0h1m1 0h1m1 0h2m1 0h4m1 0h2m3 0h2m3 0h2m1 0h12m2 0h8M480 1456.5h1m6 0h2m2 0h1m4 0h1m2 0h1m1 0h3m1 0h1m1 0h1m2 0h4m2 0h3m4 0h2m1 0h1m15 0h1m16 0h1m1 0h1m20 0h1m1 0h5m1 0h7m1 0h4m1 0h3m2 0h1m2 0h8m1 0h2m3 0h3m1 0h11m1 0h4m2 0h2m1 0h2m1 0h4m1 0h2m2 0h15m2 0h6m1 0h1m1 0h7m1 0h4m2 0h1m1 0h6m1 0h16m1 0h4m1 0h4m1 0h3m1 0h3m1 0h4m1 0h1m4 0h6m1 0h12m1 0h1m1 0h3m1 0h5m3 0h5m1 0h7m2 0h3m1 0h1m1 0h4M465 1457.5h1m21 0h1m3 0h1m2 0h3m1 0h1m2 0h2m1 0h1m1 0h1m1 0h1m2 0h1m4 0h1m3 0h1m8 0h1m4 0h1m11 0h1m15 0h2m6 0h1m8 0h1m1 0h1m2 0h2m1 0h5m5 0h13m1 0h6m2 0h3m1 0h1m1 0h1m1 0h25m1 0h1m1 0h5m1 0h5m2 0h9m1 0h1m1 0h1m1 0h7m1 0h8m1 0h3m1 0h8m1 0h9m2 0h1m1 0h1m1 0h1m1 0h3m1 0h2m1 0h1m1 0h8m1 0h1m1 0h1m2 0h4m2 0h2m1 0h1m2 0h1m1 0h1m2 0h11m1 0h5m1 0h5m2 0h8m1 0h4m1 0h4m2 0h2M383 1458.5h1m35 0h1m17 0h1m49 0h2m1 0h1m2 0h5m4 0h1m2 0h2m1 0h1m2 0h2m1 0h2m4 0h1m1 0h1m1 0h1m2 0h1m5 0h1m35 0h1m1 0h1m6 0h3m1 0h1m2 0h2m1 0h4m1 0h6m1 0h1m1 0h1m1 0h1m1 0h2m1 0h4m1 0h12m1 0h2m1 0h1m1 0h1m1 0h2m1 0h7m1 0h2m1 0h24m1 0h2m1 0h7m1 0h1m2 0h8m1 0h2m1 0h1m1 0h1m1 0h5m1 0h1m1 0h5m1 0h19m1 0h1m1 0h2m1 0h12m1 0h9m1 0h1m1 0h4m1 0h15m1 0h7m2 0h1m1 0h1m1 0h1m3 0h2m1 0h6M471 1459.5h1m18 0h1m1 0h1m3 0h2m1 0h1m2 0h1m1 0h1m1 0h1m2 0h2m1 0h1m1 0h3m17 0h1m20 0h1m14 0h1m3 0h1m3 0h1m7 0h1m1 0h10m1 0h4m1 0h7m1 0h1m1 0h2m1 0h1m1 0h7m1 0h5m1 0h2m1 0h8m1 0h2m1 0h1m1 0h1m1 0h2m1 0h15m1 0h1m1 0h4m2 0h19m1 0h5m1 0h1m1 0h1m1 0h3m1 0h8m1 0h1m2 0h4m1 0h15m1 0h3m1 0h1m1 0h2m2 0h3m3 0h4m1 0h3m2 0h1m1 0h2m1 0h7m1 0h11m1 0h10m2 0h4m1 0h1M367 1460.5h1m1 0h1m117 0h1m5 0h1m2 0h1m3 0h2m2 0h1m1 0h1m1 0h1m2 0h1m1 0h1m2 0h1m1 0h1m1 0h1m4 0h1m1 0h1m2 0h2m1 0h1m13 0h1m18 0h1m1 0h1m1 0h3m1 0h1m2 0h2m1 0h1m1 0h1m1 0h3m2 0h18m1 0h2m1 0h2m1 0h1m1 0h1m1 0h1m2 0h5m1 0h5m2 0h2m2 0h4m1 0h4m1 0h4m1 0h9m1 0h2m1 0h5m1 0h1m1 0h7m1 0h1m1 0h3m2 0h1m1 0h11m2 0h16m1 0h4m1 0h31m1 0h4m2 0h4m2 0h1m1 0h5m1 0h14m2 0h7m5 0h8m1 0h1M480 1461.5h1m3 0h1m2 0h2m1 0h1m3 0h1m3 0h1m1 0h1m2 0h3m1 0h1m3 0h1m4 0h2m29 0h1m12 0h1m11 0h1m1 0h2m1 0h1m1 0h1m1 0h1m1 0h1m3 0h1m2 0h4m1 0h4m1 0h9m2 0h4m1 0h3m1 0h15m1 0h1m1 0h2m1 0h16m1 0h6m1 0h2m1 0h16m1 0h2m1 0h11m1 0h7m2 0h3m1 0h8m2 0h1m2 0h2m1 0h6m1 0h1m1 0h1m1 0h3m1 0h10m1 0h1m1 0h1m1 0h3m1 0h1m2 0h24m1 0h1m3 0h4m1 0h2m1 0h4m3 0h4m1 0h1M483 1462.5h1m3 0h1m1 0h1m1 0h1m2 0h3m4 0h1m1 0h1m1 0h1m2 0h4m3 0h1m2 0h2m16 0h1m15 0h1m24 0h2m1 0h1m1 0h5m1 0h4m1 0h5m4 0h3m1 0h7m1 0h2m1 0h3m1 0h6m2 0h1m1 0h7m1 0h4m1 0h10m1 0h4m1 0h1m1 0h1m1 0h3m2 0h1m1 0h4m1 0h2m1 0h4m1 0h6m1 0h1m1 0h3m1 0h3m1 0h7m1 0h6m1 0h6m1 0h3m1 0h2m2 0h25m1 0h7m1 0h3m3 0h8m1 0h1m1 0h1m1 0h1m1 0h1m1 0h3m1 0h4m1 0h4m1 0h7m1 0h4m1 0h1M459 1463.5h1m31 0h1m1 0h1m1 0h1m1 0h2m1 0h1m1 0h1m1 0h3m3 0h1m2 0h1m2 0h1m10 0h1m13 0h1m7 0h1m21 0h1m5 0h2m3 0h2m1 0h2m1 0h3m1 0h16m1 0h9m1 0h15m1 0h5m2 0h4m1 0h2m1 0h7m1 0h3m1 0h6m2 0h1m1 0h4m1 0h2m2 0h1m3 0h1m1 0h6m1 0h3m1 0h1m1 0h2m1 0h5m1 0h8m1 0h3m1 0h1m4 0h3m3 0h2m1 0h1m1 0h12m1 0h3m1 0h13m1 0h4m1 0h4m2 0h2m1 0h1m2 0h2m1 0h2m2 0h1m2 0h7m2 0h1m1 0h3m2 0h3M447 1464.5h1m31 0h1m8 0h2m2 0h1m2 0h4m1 0h1m2 0h1m2 0h1m1 0h1m1 0h1m1 0h5m2 0h1m24 0h1m6 0h1m6 0h1m14 0h1m3 0h2m1 0h1m3 0h2m1 0h1m1 0h6m1 0h2m1 0h2m1 0h4m1 0h2m2 0h10m1 0h6m1 0h9m1 0h2m2 0h2m1 0h4m1 0h13m1 0h1m1 0h4m1 0h10m1 0h3m3 0h2m1 0h3m3 0h1m1 0h1m1 0h6m1 0h1m1 0h1m1 0h5m1 0h4m1 0h1m1 0h6m2 0h6m2 0h6m2 0h5m1 0h13m1 0h5m1 0h2m2 0h3m1 0h3m1 0h7m1 0h20M455 1465.5h1m30 0h1m3 0h1m1 0h2m4 0h2m1 0h1m1 0h2m3 0h12m10 0h1m5 0h1m1 0h1m4 0h2m1 0h1m4 0h2m23 0h1m1 0h1m1 0h3m6 0h15m1 0h3m1 0h12m1 0h1m1 0h2m1 0h2m1 0h1m1 0h2m1 0h16m1 0h2m1 0h8m1 0h5m1 0h3m2 0h5m2 0h1m1 0h11m1 0h1m1 0h15m1 0h4m2 0h2m1 0h5m2 0h2m3 0h5m1 0h5m1 0h7m2 0h5m1 0h2m1 0h2m1 0h2m3 0h1m1 0h5m1 0h11m2 0h6m1 0h9m1 0h5M473 1466.5h1m4 0h1m4 0h1m2 0h1m1 0h3m1 0h4m1 0h2m4 0h1m2 0h4m2 0h1m1 0h5m2 0h1m17 0h1m1 0h1m5 0h1m16 0h1m2 0h1m6 0h1m2 0h1m2 0h1m1 0h7m1 0h2m1 0h6m1 0h1m1 0h4m1 0h2m1 0h7m2 0h5m1 0h6m1 0h7m1 0h5m3 0h1m2 0h3m1 0h5m1 0h2m2 0h9m2 0h8m1 0h5m1 0h9m1 0h9m1 0h2m2 0h1m1 0h5m1 0h2m1 0h1m1 0h3m1 0h6m2 0h12m1 0h21m4 0h3m1 0h2m1 0h1m2 0h5m1 0h5m1 0h1m1 0h6m1 0h5M432 1467.5h1m15 0h1m35 0h3m4 0h1m1 0h1m2 0h1m4 0h1m3 0h1m2 0h4m1 0h2m2 0h2m1 0h1m21 0h1m2 0h1m16 0h1m6 0h1m1 0h2m1 0h2m1 0h1m1 0h2m2 0h2m2 0h17m1 0h16m1 0h5m1 0h10m1 0h1m1 0h6m2 0h1m1 0h6m1 0h2m1 0h4m1 0h1m1 0h3m1 0h6m1 0h4m1 0h1m1 0h14m1 0h1m2 0h6m1 0h1m1 0h2m1 0h6m1 0h1m1 0h6m1 0h3m1 0h1m1 0h4m1 0h2m1 0h1m1 0h4m1 0h5m1 0h1m1 0h4m2 0h2m1 0h2m1 0h1m2 0h23m2 0h3m1 0h1m2 0h4m2 0h2M351 1468.5h1m81 0h1m19 0h1m35 0h3m2 0h5m1 0h1m1 0h2m1 0h1m1 0h1m2 0h2m3 0h2m1 0h2m3 0h1m15 0h1m11 0h1m14 0h1m9 0h1m1 0h3m1 0h1m4 0h6m1 0h4m1 0h8m1 0h2m2 0h1m1 0h3m2 0h2m1 0h3m3 0h4m3 0h8m1 0h20m1 0h3m1 0h1m1 0h3m1 0h6m1 0h1m1 0h4m3 0h1m1 0h3m1 0h1m1 0h6m2 0h3m1 0h10m1 0h33m1 0h13m2 0h4m3 0h4m1 0h7m1 0h1m1 0h3m2 0h4m1 0h3m1 0h9M440 1469.5h1m10 0h1m25 0h2m10 0h1m1 0h2m3 0h4m1 0h1m1 0h1m1 0h1m2 0h1m1 0h4m1 0h3m4 0h1m21 0h1m27 0h1m2 0h1m1 0h2m1 0h1m4 0h1m1 0h2m1 0h1m3 0h5m1 0h5m1 0h7m1 0h1m1 0h1m1 0h16m1 0h2m1 0h3m3 0h3m1 0h3m1 0h4m2 0h2m1 0h1m1 0h9m1 0h13m1 0h1m1 0h9m1 0h8m1 0h2m1 0h1m1 0h1m1 0h6m2 0h8m3 0h3m1 0h10m3 0h7m2 0h7m2 0h4m1 0h3m1 0h6m3 0h2m1 0h2m1 0h2m1 0h4m1 0h8m3 0h2m1 0h1M439 1470.5h1m8 0h1m38 0h1m3 0h2m3 0h3m1 0h2m2 0h1m1 0h1m1 0h1m1 0h1m4 0h4m1 0h1m13 0h1m4 0h1m5 0h1m13 0h1m2 0h2m8 0h1m2 0h1m1 0h1m4 0h2m2 0h1m1 0h8m2 0h9m1 0h2m1 0h24m1 0h3m1 0h4m1 0h11m1 0h5m1 0h1m1 0h1m2 0h4m1 0h1m1 0h12m1 0h3m1 0h6m1 0h1m1 0h2m1 0h4m1 0h1m1 0h2m1 0h1m2 0h3m2 0h4m1 0h3m2 0h3m1 0h2m1 0h6m2 0h11m1 0h6m1 0h2m1 0h4m1 0h4m1 0h1m1 0h4m1 0h4m1 0h7m1 0h1m1 0h2m1 0h6m1 0h5M392 1471.5h1m18 0h1m78 0h1m1 0h1m1 0h4m1 0h3m3 0h1m1 0h1m3 0h1m1 0h1m2 0h1m3 0h1m1 0h1m5 0h1m6 0h1m2 0h1m1 0h1m5 0h1m25 0h1m1 0h1m3 0h1m2 0h2m1 0h3m1 0h3m1 0h4m1 0h4m1 0h1m1 0h5m1 0h10m1 0h3m2 0h4m1 0h2m1 0h1m1 0h1m2 0h3m1 0h4m2 0h4m1 0h1m1 0h9m1 0h4m1 0h17m1 0h5m1 0h1m1 0h2m1 0h6m1 0h2m1 0h6m1 0h3m2 0h6m1 0h7m1 0h1m1 0h1m1 0h2m1 0h1m1 0h3m1 0h2m1 0h5m1 0h6m2 0h1m2 0h2m1 0h5m1 0h1m1 0h3m1 0h2m1 0h5m1 0h4m2 0h1m1 0h4m1 0h5m3 0h1M485 1472.5h1m2 0h3m3 0h1m1 0h1m1 0h1m3 0h2m3 0h1m1 0h1m2 0h3m1 0h2m2 0h1m2 0h1m13 0h4m10 0h1m15 0h1m6 0h3m7 0h1m1 0h2m1 0h11m1 0h15m1 0h9m3 0h4m2 0h13m1 0h8m1 0h1m1 0h1m1 0h2m1 0h1m1 0h3m1 0h6m1 0h5m1 0h5m1 0h2m1 0h4m1 0h10m1 0h4m1 0h1m1 0h4m1 0h10m2 0h1m1 0h13m1 0h9m1 0h5m1 0h1m2 0h1m4 0h1m1 0h4m1 0h4m1 0h8m1 0h2m2 0h12m1 0h5M299 1473.5h1m156 0h1m31 0h5m1 0h3m1 0h1m2 0h1m2 0h2m2 0h1m4 0h1m2 0h1m3 0h1m2 0h1m31 0h1m11 0h1m7 0h2m1 0h1m2 0h1m2 0h8m1 0h22m1 0h9m1 0h2m1 0h6m1 0h4m1 0h4m2 0h3m1 0h7m1 0h3m1 0h1m1 0h6m1 0h7m1 0h11m1 0h4m1 0h3m6 0h4m1 0h2m1 0h6m1 0h1m1 0h5m1 0h4m2 0h2m1 0h10m2 0h2m1 0h10m1 0h7m1 0h1m3 0h7m1 0h3m1 0h2m1 0h20m1 0h1m1 0h2M428 1474.5h1m49 0h1m4 0h1m4 0h1m3 0h1m1 0h1m5 0h4m1 0h7m3 0h2m2 0h1m24 0h1m2 0h1m2 0h1m6 0h2m4 0h1m11 0h1m1 0h2m1 0h5m1 0h1m1 0h5m1 0h2m1 0h5m1 0h28m1 0h2m1 0h14m1 0h8m2 0h3m1 0h2m1 0h13m2 0h7m1 0h1m1 0h3m1 0h4m2 0h3m1 0h2m1 0h6m1 0h2m2 0h6m1 0h4m1 0h6m1 0h8m3 0h2m1 0h3m1 0h10m1 0h4m1 0h7m1 0h1m1 0h1m1 0h3m1 0h8m1 0h5m2 0h1m2 0h4m1 0h1M400 1475.5h1m5 0h1m64 0h1m4 0h1m5 0h1m2 0h1m1 0h1m6 0h1m1 0h1m2 0h1m1 0h1m2 0h2m1 0h5m1 0h2m1 0h3m5 0h1m12 0h1m2 0h1m13 0h1m9 0h1m10 0h1m4 0h2m1 0h1m2 0h12m1 0h6m1 0h9m1 0h8m1 0h1m1 0h4m2 0h3m1 0h3m1 0h5m2 0h8m1 0h7m1 0h1m1 0h26m1 0h3m1 0h7m1 0h8m1 0h10m1 0h2m2 0h19m1 0h2m1 0h4m2 0h7m2 0h4m1 0h1m1 0h1m1 0h8m1 0h1m1 0h4m3 0h3m2 0h1m1 0h2m1 0h2m1 0h1m1 0h1m1 0h1m1 0h2M439 1476.5h1m44 0h1m6 0h2m1 0h1m1 0h1m4 0h4m1 0h1m6 0h2m1 0h1m3 0h2m16 0h2m5 0h1m11 0h2m9 0h1m5 0h1m1 0h1m1 0h2m1 0h2m1 0h21m1 0h1m1 0h3m1 0h2m1 0h10m1 0h7m1 0h4m2 0h5m1 0h2m2 0h13m1 0h18m1 0h3m2 0h2m1 0h2m1 0h2m1 0h8m2 0h2m1 0h4m2 0h3m1 0h1m1 0h3m2 0h4m1 0h4m1 0h9m1 0h2m2 0h4m1 0h5m1 0h2m2 0h2m1 0h2m1 0h5m1 0h1m1 0h6m2 0h4m2 0h3m2 0h5m1 0h2m1 0h6M467 1477.5h1m6 0h1m13 0h3m1 0h1m4 0h2m3 0h3m1 0h3m3 0h4m1 0h1m1 0h2m1 0h1m10 0h1m12 0h1m4 0h1m10 0h1m4 0h1m5 0h1m1 0h1m2 0h1m1 0h1m1 0h1m2 0h16m2 0h3m1 0h4m1 0h3m1 0h1m2 0h2m1 0h1m2 0h17m1 0h6m1 0h6m2 0h2m1 0h4m1 0h3m2 0h3m2 0h2m2 0h3m1 0h3m3 0h13m1 0h2m1 0h4m1 0h2m1 0h3m1 0h2m1 0h3m1 0h3m1 0h1m1 0h9m1 0h3m1 0h1m1 0h5m2 0h1m1 0h5m1 0h7m2 0h2m1 0h1m1 0h8m1 0h5m1 0h1m1 0h3m2 0h3m1 0h4m1 0h2m1 0h1m1 0h3M451 1478.5h1m38 0h1m3 0h1m1 0h1m1 0h1m3 0h3m1 0h4m2 0h1m1 0h1m1 0h2m2 0h1m2 0h1m1 0h2m1 0h1m7 0h1m4 0h1m4 0h1m11 0h2m4 0h1m5 0h1m3 0h1m2 0h1m2 0h1m5 0h3m2 0h4m1 0h7m1 0h2m1 0h4m2 0h10m1 0h6m1 0h2m1 0h3m1 0h1m1 0h3m1 0h6m1 0h9m1 0h10m1 0h23m1 0h1m1 0h3m1 0h3m1 0h1m1 0h1m3 0h1m1 0h2m1 0h1m1 0h3m1 0h5m1 0h3m2 0h8m1 0h1m2 0h1m1 0h3m2 0h8m1 0h4m3 0h5m1 0h1m1 0h9m2 0h1m1 0h10m1 0h1m1 0h1m4 0h2m1 0h5M482 1479.5h1m4 0h1m7 0h2m1 0h1m5 0h9m1 0h2m4 0h1m1 0h1m1 0h1m8 0h1m7 0h1m4 0h1m1 0h1m7 0h1m12 0h1m7 0h2m3 0h3m4 0h1m2 0h11m1 0h3m1 0h3m1 0h3m4 0h2m1 0h8m1 0h5m1 0h11m1 0h1m1 0h5m3 0h1m4 0h6m1 0h4m3 0h4m1 0h2m3 0h1m1 0h3m1 0h1m2 0h4m1 0h1m1 0h6m1 0h5m2 0h3m1 0h2m1 0h1m1 0h2m1 0h4m1 0h1m1 0h1m2 0h1m2 0h2m1 0h1m1 0h1m1 0h1m1 0h3m1 0h1m1 0h2m1 0h2m1 0h2m2 0h2m1 0h1m2 0h1m2 0h13m1 0h7m1 0h3m1 0h2m2 0h1m1 0h2m2 0h1M374 1480.5h1m88 0h1m13 0h2m10 0h1m1 0h1m4 0h1m2 0h1m1 0h1m1 0h3m1 0h4m4 0h2m1 0h2m7 0h1m11 0h1m29 0h2m2 0h1m1 0h1m2 0h1m1 0h2m2 0h4m1 0h4m1 0h3m3 0h4m1 0h10m1 0h4m1 0h1m1 0h10m1 0h4m1 0h12m2 0h8m1 0h17m1 0h15m1 0h1m2 0h2m1 0h2m1 0h1m1 0h5m1 0h2m1 0h1m1 0h1m1 0h3m1 0h1m1 0h10m3 0h4m2 0h4m2 0h1m1 0h2m1 0h4m1 0h1m1 0h2m1 0h4m1 0h9m1 0h1m3 0h7m1 0h14m1 0h1m1 0h1m1 0h3M452 1481.5h1m34 0h1m2 0h1m4 0h4m1 0h1m1 0h1m1 0h2m2 0h2m2 0h2m1 0h4m1 0h2m20 0h1m4 0h1m7 0h1m4 0h1m12 0h1m1 0h1m2 0h1m1 0h1m2 0h2m1 0h3m1 0h1m1 0h5m3 0h4m1 0h24m2 0h6m1 0h3m1 0h2m1 0h9m2 0h2m1 0h3m1 0h10m1 0h4m1 0h2m1 0h2m1 0h10m1 0h5m4 0h16m3 0h1m1 0h5m2 0h6m1 0h1m1 0h5m1 0h8m2 0h2m1 0h8m1 0h9m1 0h7m1 0h1m1 0h7m1 0h1m2 0h1m2 0h1m1 0h1m2 0h1m1 0h3m1 0h1M439 1482.5h1m44 0h2m10 0h4m1 0h2m3 0h2m1 0h1m1 0h1m2 0h2m1 0h1m1 0h1m22 0h1m26 0h2m2 0h1m10 0h2m2 0h13m1 0h3m1 0h3m1 0h8m1 0h9m1 0h2m1 0h1m1 0h2m1 0h5m1 0h3m1 0h2m2 0h14m1 0h2m3 0h5m1 0h2m1 0h2m1 0h8m1 0h9m1 0h5m1 0h4m1 0h7m2 0h4m1 0h2m1 0h1m1 0h8m1 0h8m1 0h3m1 0h1m1 0h3m1 0h1m1 0h4m2 0h4m1 0h1m1 0h4m1 0h1m2 0h1m1 0h13m3 0h3m1 0h2m1 0h8M456 1483.5h1m31 0h1m1 0h1m1 0h2m1 0h1m4 0h1m3 0h2m2 0h1m4 0h3m1 0h4m15 0h1m2 0h1m1 0h1m29 0h1m3 0h1m2 0h2m2 0h3m1 0h3m1 0h3m2 0h1m1 0h4m1 0h4m2 0h1m1 0h3m1 0h4m1 0h1m1 0h3m2 0h1m1 0h14m1 0h7m1 0h2m1 0h1m1 0h5m1 0h5m1 0h1m1 0h2m1 0h2m1 0h4m1 0h8m1 0h7m1 0h4m1 0h2m1 0h1m1 0h4m1 0h2m1 0h3m1 0h3m2 0h1m1 0h8m1 0h10m2 0h2m1 0h3m1 0h1m1 0h3m1 0h5m1 0h1m2 0h3m4 0h5m1 0h1m1 0h3m1 0h1m1 0h1m1 0h1m2 0h1m1 0h2m1 0h1m4 0h2m1 0h7M395 1484.5h1m27 0h1m36 0h1m21 0h1m3 0h2m3 0h4m2 0h1m2 0h1m2 0h1m1 0h1m1 0h1m5 0h1m1 0h1m3 0h1m1 0h2m3 0h1m1 0h1m25 0h1m12 0h1m1 0h1m5 0h1m1 0h2m1 0h1m5 0h14m1 0h10m2 0h5m1 0h9m1 0h6m1 0h10m2 0h5m1 0h2m1 0h1m1 0h2m3 0h8m2 0h3m1 0h4m1 0h3m1 0h8m1 0h1m2 0h2m1 0h2m1 0h3m1 0h1m1 0h10m1 0h5m4 0h4m1 0h2m1 0h7m2 0h3m3 0h2m1 0h1m1 0h6m1 0h3m1 0h2m2 0h7m1 0h4m1 0h2m1 0h10m1 0h1m1 0h3m1 0h4m1 0h4M445 1485.5h1m15 0h1m23 0h2m1 0h2m2 0h1m1 0h2m1 0h4m2 0h1m6 0h2m1 0h5m7 0h1m2 0h1m8 0h1m14 0h1m1 0h1m16 0h2m4 0h1m2 0h3m1 0h2m1 0h1m1 0h4m1 0h1m1 0h5m1 0h20m2 0h7m1 0h2m1 0h1m1 0h5m1 0h2m1 0h8m1 0h14m1 0h3m1 0h3m2 0h2m1 0h8m1 0h2m1 0h3m1 0h5m1 0h1m1 0h1m1 0h2m3 0h1m1 0h8m2 0h2m1 0h12m1 0h8m1 0h7m1 0h2m1 0h9m1 0h3m1 0h3m1 0h4m1 0h4m2 0h6m1 0h16m1 0h2M449 1486.5h1m37 0h1m3 0h2m3 0h1m2 0h1m8 0h3m1 0h1m1 0h1m1 0h3m1 0h2m2 0h2m4 0h1m1 0h1m6 0h1m25 0h1m8 0h1m1 0h1m2 0h7m1 0h4m2 0h3m1 0h6m1 0h1m2 0h5m1 0h1m2 0h2m1 0h1m3 0h10m1 0h4m1 0h4m2 0h4m2 0h1m1 0h11m1 0h2m3 0h1m1 0h4m2 0h2m3 0h2m1 0h1m1 0h1m1 0h2m4 0h2m1 0h1m1 0h2m1 0h4m1 0h11m1 0h1m1 0h2m1 0h1m2 0h4m1 0h2m1 0h1m1 0h4m1 0h3m1 0h13m2 0h4m1 0h2m1 0h8m1 0h5m1 0h1m1 0h4m1 0h2m1 0h1m1 0h2m1 0h1m1 0h2m1 0h8M485 1487.5h1m2 0h2m1 0h1m4 0h2m1 0h1m4 0h1m2 0h5m3 0h1m1 0h1m4 0h1m1 0h1m9 0h1m8 0h1m1 0h1m11 0h1m15 0h1m1 0h1m1 0h3m1 0h1m1 0h5m1 0h7m1 0h7m1 0h7m1 0h5m1 0h4m1 0h13m1 0h1m1 0h10m1 0h2m3 0h1m2 0h5m1 0h1m1 0h8m1 0h1m1 0h4m1 0h6m1 0h4m1 0h25m1 0h4m1 0h2m1 0h1m3 0h8m1 0h1m2 0h2m1 0h1m1 0h3m2 0h2m2 0h7m1 0h14m2 0h2m2 0h2m1 0h1m1 0h2m1 0h6m1 0h1m1 0h1m1 0h3m1 0h4m1 0h1M290 1488.5h1m152 0h1m2 0h1m40 0h1m2 0h2m1 0h1m1 0h1m2 0h1m1 0h2m1 0h1m1 0h2m1 0h1m6 0h3m1 0h1m4 0h1m2 0h1m5 0h1m9 0h1m2 0h1m7 0h1m2 0h1m6 0h1m2 0h1m8 0h1m3 0h5m1 0h2m1 0h19m3 0h1m1 0h1m2 0h5m1 0h5m1 0h2m1 0h4m1 0h1m1 0h3m2 0h3m1 0h2m1 0h1m1 0h1m1 0h2m1 0h3m2 0h5m1 0h7m2 0h9m1 0h6m2 0h1m2 0h1m1 0h3m1 0h8m2 0h4m1 0h8m2 0h3m1 0h4m2 0h2m3 0h7m1 0h3m1 0h4m2 0h6m1 0h1m1 0h1m1 0h8m1 0h3m1 0h9m1 0h4m1 0h3m1 0h2m1 0h8M485 1489.5h1m1 0h2m2 0h1m1 0h2m3 0h2m1 0h3m4 0h2m2 0h2m1 0h1m1 0h1m5 0h1m5 0h1m13 0h1m5 0h2m10 0h2m4 0h1m11 0h7m1 0h7m1 0h7m1 0h1m1 0h2m1 0h8m1 0h2m1 0h12m1 0h2m1 0h1m1 0h1m2 0h14m1 0h3m2 0h39m1 0h12m2 0h10m1 0h4m3 0h5m1 0h7m1 0h11m1 0h2m1 0h3m1 0h1m1 0h1m1 0h3m2 0h11m1 0h1m1 0h3m1 0h4m1 0h1m2 0h10m1 0h4M365 1490.5h1m25 0h1m35 0h1m35 0h1m20 0h2m10 0h2m1 0h7m2 0h2m1 0h2m2 0h1m2 0h1m1 0h2m1 0h1m8 0h1m16 0h1m5 0h1m4 0h1m2 0h1m7 0h1m3 0h3m2 0h1m1 0h12m1 0h3m1 0h3m1 0h2m1 0h5m1 0h3m1 0h3m1 0h2m2 0h2m1 0h10m1 0h2m4 0h2m1 0h3m1 0h7m1 0h4m2 0h6m1 0h5m1 0h3m1 0h4m1 0h3m1 0h8m1 0h3m1 0h8m1 0h6m1 0h5m3 0h5m3 0h1m2 0h6m2 0h1m1 0h1m1 0h3m2 0h3m1 0h3m1 0h1m1 0h2m1 0h3m1 0h1m1 0h1m2 0h10m3 0h2m2 0h3m1 0h7m1 0h1m1 0h2m1 0h4M486 1491.5h2m2 0h1m5 0h1m1 0h2m2 0h1m1 0h1m1 0h1m1 0h3m1 0h3m3 0h3m13 0h1m13 0h1m17 0h2m3 0h2m1 0h1m5 0h1m1 0h8m1 0h6m1 0h3m1 0h1m1 0h1m1 0h1m2 0h4m3 0h10m1 0h7m1 0h5m1 0h3m3 0h7m1 0h9m1 0h5m2 0h13m1 0h1m2 0h8m1 0h5m1 0h2m1 0h2m1 0h4m3 0h14m1 0h1m1 0h1m1 0h2m1 0h10m1 0h4m2 0h3m1 0h2m1 0h22m1 0h12m1 0h3m1 0h2m1 0h4m1 0h5" stroke="#006400" stroke-width="1" fill="none" shape-rendering="crispEdges" filter="url(#sb)"/>
<line x1="128.9" y1="1150.8" x2="128.9" y2="1492.1" stroke="#808080" stroke-opacity="0.5" stroke-width="1.8"/>
<text class="rs" transform="translate(123.9,1184.0) rotate(-90) scale(1,1.1)" textLength="22.6" lengthAdjust="spacing">1:1</text>
<line x1="204.8" y1="1150.8" x2="204.8" y2="1492.1" stroke="#808080" stroke-opacity="0.5" stroke-width="1.8"/>
<text class="rs" transform="translate(199.8,1184.0) rotate(-90) scale(1,1.1)" textLength="22.6" lengthAdjust="spacing">3:2</text>
<line x1="273.1" y1="1150.8" x2="273.1" y2="1492.1" stroke="#7c7c7c" stroke-opacity="0.85" stroke-width="1"/>
<text class="rs" transform="translate(268.1,1184.0) rotate(-90) scale(1,1.1)" textLength="22.6" lengthAdjust="spacing">2:1</text>
<line x1="335.2" y1="1150.8" x2="335.2" y2="1492.1" stroke="#808080" stroke-opacity="0.5" stroke-width="1.8"/>
<text class="rs" transform="translate(330.2,1184.0) rotate(-90) scale(1,1.1)" textLength="22.6" lengthAdjust="spacing">5:2</text>
<line x1="394.6" y1="1150.8" x2="394.6" y2="1492.1" stroke="#808080" stroke-opacity="0.5" stroke-width="1.8"/>
<text class="rs" transform="translate(389.6,1184.0) rotate(-90) scale(1,1.1)" textLength="22.6" lengthAdjust="spacing">3:1</text>
<line x1="502.0" y1="1150.8" x2="502.0" y2="1492.1" stroke="#808080" stroke-opacity="0.5" stroke-width="1.8"/>
<text class="rs" transform="translate(497.0,1184.0) rotate(-90) scale(1,1.1)" textLength="22.6" lengthAdjust="spacing">4:1</text>
<line x1="278.2" y1="1150.8" x2="278.2" y2="1492.1" stroke="#ff2a2a" stroke-width="1.2" stroke-dasharray="7.4 4.9"/>
<text class="an" fill="#ff2a2a" stroke="#ff2a2a" transform="translate(289.9,1337.2) rotate(-90) scale(1,1.12)" textLength="125" lengthAdjust="spacingAndGlyphs">Mustill &amp; Wyatt (2012)</text>
<line x1="410.6" y1="1150.8" x2="410.6" y2="1492.1" stroke="#bb55ff" stroke-width="1.2" stroke-dasharray="7.4 4.9"/>
<text class="an" fill="#bb55ff" stroke="#bb55ff" transform="translate(424.5,1337.2) rotate(-90) scale(1,1.12)" textLength="129.5" lengthAdjust="spacingAndGlyphs">Fit to thermal emission</text>
<line x1="440.2" y1="1150.8" x2="440.2" y2="1492.1" stroke="#2222ff" stroke-width="1.2" stroke-dasharray="7.4 4.9"/>
<text class="an" fill="#2222ff" stroke="#2222ff" transform="translate(450.3,1337.2) rotate(-90) scale(1,1.12)" textLength="125" lengthAdjust="spacingAndGlyphs">Pearce &amp; Wyatt (2014)</text>
<rect class="ax" x="67.5" y="1150.8" width="748.5" height="341.3"/>
<text class="tk" x="59" y="1491.9" text-anchor="end">0.0</text>
<text class="tk" x="59" y="1430.2" text-anchor="end">0.2</text>
<text class="tk" x="59" y="1362.0" text-anchor="end">0.4</text>
<text class="tk" x="59" y="1293.7" text-anchor="end">0.6</text>
<text class="tk" x="59" y="1225.5" text-anchor="end">0.8</text>
<text class="tk" x="59" y="1162.8" text-anchor="end">1.0</text>
<text class="tk" x="67.5" y="1518.3" text-anchor="middle">20</text>
<text class="tk" x="254.5" y="1518.3" text-anchor="middle">40</text>
<text class="tk" x="441.5" y="1518.3" text-anchor="middle">60</text>
<text class="tk" x="628.5" y="1518.3" text-anchor="middle">80</text>
<text class="tk" x="815.5" y="1518.3" text-anchor="middle">100</text>
<text class="tk" style="font-size:19.2px" transform="translate(18,1376.0) rotate(-90) scale(1,1.08)" textLength="99.5" lengthAdjust="spacingAndGlyphs">eccentricity</text>
<circle cx="128.4" cy="1185.6" r="6.3" fill="#ff2e72"/>
</g>
<text class="tk" style="font-size:18.6px" x="345.7" y="1539.4" textLength="168.6" lengthAdjust="spacingAndGlyphs">semi-major axis (au)</text>
</svg></body></html>
